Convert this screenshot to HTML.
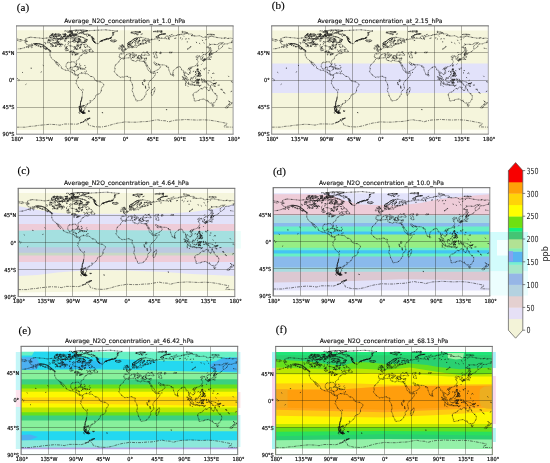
<!DOCTYPE html>
<html lang="en"><head><meta charset="utf-8"><title>Average N2O concentration</title>
<style>html,body{margin:0;padding:0;background:#fff}svg{display:block}text{font-family:"DejaVu Sans","Liberation Sans",sans-serif;fill:#222}.lab{font-family:"Liberation Serif","DejaVu Serif",serif;font-size:11.1px;fill:#000;stroke:#000;stroke-width:0.12px}.tt{font-size:6.02px;fill:#111;stroke:#111;stroke-width:0.12px}.tk{font-size:5.5px;fill:#111;stroke:#111;stroke-width:0.22px}.cb{font-size:8.4px;fill:#222}</style></head><body>
<svg width="550" height="463" viewBox="0 0 550 463">
<rect width="550" height="463" fill="#fff"/>
<rect x="489.5" y="232" width="38.5" height="39.5" fill="#d2fcfc"/>
<rect x="489.5" y="271.5" width="38.5" height="24" fill="#ecfefe"/>
<rect x="497" y="240" width="11.5" height="15.5" fill="#f4ffff"/>
<rect x="15.8" y="352" width="5.6" height="38" fill="#c4f6f8"/>
<rect x="15.8" y="390" width="5.6" height="17" fill="#fde4ee"/>
<rect x="15.8" y="407" width="5.6" height="42" fill="#c8f6f6"/>
<rect x="237.6" y="352" width="2.8" height="22" fill="#c8f6fa"/>
<rect x="237.6" y="392" width="2.8" height="16" fill="#fde0e4"/>
<rect x="237.6" y="415" width="2.8" height="32" fill="#c8f8f8"/>
<rect x="272" y="352" width="3.6" height="16" fill="#a8f4f4"/>
<rect x="272" y="368" width="3.6" height="58" fill="#fcd4ec"/>
<rect x="272" y="426" width="3.6" height="23" fill="#a8f4f0"/>
<rect x="492.4" y="352" width="3.4" height="16" fill="#a8f0fa"/>
<rect x="492.4" y="376" width="3.4" height="48" fill="#fcd8ee"/>
<rect x="492.4" y="428" width="3.4" height="14" fill="#b0f6f4"/>
<rect x="235" y="231" width="5.8" height="17.5" fill="#ecfefb"/>
<g id="panel-a">
<clipPath id="cpa"><rect x="16.5" y="25.9" width="216.6" height="108.3"/></clipPath>
<g clip-path="url(#cpa)">
<polygon points="16.5,26.0 233.1,26.0 233.1,134.2 16.5,134.2" fill="#fdfdf4"/>
<polygon points="16.5,30.3 233.1,30.3 233.1,134.2 16.5,134.2" fill="#f5f5dc"/>
<polygon points="16.5,130.0 233.1,130.0 233.1,134.2 16.5,134.2" fill="#fdfdf4"/>
<path transform="translate(16.5 25.9)" d="M14.1 11.3L18.0 11.7L22.3 12.0L26.5 12.6L31.3 12.0L36.1 12.3L39.1 13.2L43.3 13.2L46.9 13.2L50.5 13.2L51.7 10.8L54.1 12.6L56.6 13.2L59.0 12.3L59.6 13.8L56.6 14.4L55.4 15.6L52.3 16.8L51.4 18.7L52.6 19.9L55.4 20.2L57.2 20.9L59.0 21.1L59.0 22.3L60.2 23.3L60.8 22.9L60.8 21.4L62.0 20.5L62.0 19.3L61.4 18.0L61.4 16.5L63.8 16.7L66.2 17.4L66.5 18.7L68.6 19.0L69.5 17.9L71.0 19.6L71.6 20.8L73.4 21.4L74.6 22.9L72.2 24.1L68.6 23.9L66.2 25.9L69.2 24.7L69.5 25.9L71.6 26.5L70.4 27.4L68.6 28.0L68.6 27.1L68.0 27.2L66.2 28.0L65.9 28.9L63.8 29.8L62.9 31.3L62.6 33.1L61.4 33.7L59.6 35.2L60.2 37.9L59.9 39.0L59.0 38.2L58.5 36.7L57.8 36.1L56.6 35.9L54.5 36.0L54.1 36.7L51.7 36.4L49.9 37.6L49.6 39.1L49.5 40.7L50.5 42.7L51.7 43.2L53.5 42.9L53.8 41.5L56.0 41.2L55.7 43.0L55.1 44.5L56.6 44.5L58.2 45.1L58.1 47.5L59.0 48.7L60.2 48.6L61.7 49.0L61.7 49.6L60.2 49.8L59.6 49.3L58.4 49.0L56.7 48.1L55.7 46.3L53.5 45.7L51.7 44.5L49.9 44.6L47.5 43.7L44.8 42.1L44.8 40.6L43.3 39.1L42.1 37.6L40.6 36.1L39.3 35.1L39.4 36.1L40.9 37.9L41.8 39.4L42.4 40.3L40.9 39.1L39.4 37.3L38.8 36.1L37.9 34.6L37.0 33.7L35.8 33.4L34.9 32.2L34.6 31.3L33.7 29.9L33.5 28.3L33.7 26.4L33.3 25.0L34.6 25.6L34.3 24.7L33.1 24.1L31.6 23.2L30.1 21.4L28.3 20.2L26.8 19.0L25.3 18.4L23.5 18.0L21.1 17.7L19.3 17.6L18.0 18.4L16.8 17.6L15.6 19.0L13.2 20.2L10.8 21.1L9.3 21.2L11.4 20.5L13.2 19.0L10.8 18.7L9.0 17.4L8.4 16.2L11.4 15.5L9.0 15.3L7.2 14.7L10.2 14.1L9.0 13.1L10.8 12.0L14.1 11.3M34.0 25.0L32.8 24.8L31.1 23.6L32.8 23.9L34.0 25.0M72.7 25.5L74.6 26.0L76.4 26.1L76.5 25.3L75.8 24.4L74.7 23.2L73.7 23.8L72.7 25.5M68.6 16.8L67.4 15.8L69.5 16.2L69.8 15.0L67.7 14.3L71.3 14.0L69.2 13.2L67.4 12.0L65.0 11.1L61.4 10.3L59.6 9.8L56.6 9.7L54.1 9.9L54.8 11.4L57.2 12.0L60.8 12.0L63.2 13.1L64.4 13.8L64.4 14.7L61.1 15.2L63.8 15.4L65.6 16.4L68.6 16.8M37.3 11.4L38.5 12.5L40.9 12.9L45.1 12.8L47.2 12.3L45.7 11.4L45.1 10.3L43.3 10.0L40.9 10.5L39.1 10.0L37.0 10.5L37.3 11.4M33.1 10.8L34.3 11.4L36.4 11.0L37.6 9.9L35.5 9.3L33.4 9.7L33.1 10.8M37.9 8.8L42.1 9.3L44.5 8.9L42.7 8.1L39.1 8.2L37.9 8.8M46.9 10.8L49.9 10.8L49.3 9.7L47.2 9.9L46.9 10.8M50.8 10.7L53.8 10.4L53.8 9.6L51.1 9.6L50.8 10.7M52.9 9.2L60.2 9.2L60.2 8.6L55.4 8.1L52.9 8.4L52.9 9.2M55.4 8.1L61.4 8.2L63.2 6.9L67.4 5.7L71.0 4.6L66.2 4.2L59.0 4.3L52.9 5.1L56.0 6.0L55.4 7.2L55.4 8.1M51.1 6.3L55.4 7.0L56.0 5.7L52.3 5.2L51.1 6.3M56.0 15.6L57.8 16.2L59.6 15.8L59.9 15.3L57.8 14.4L56.0 15.3L56.0 15.6M48.1 8.7L49.9 8.7L48.7 8.1L46.9 8.4L48.1 8.7M48.7 12.6L50.5 12.8L50.5 12.2L49.0 12.2L48.7 12.6M64.4 7.1L67.4 8.4L72.2 8.4L74.6 10.2L75.8 12.0L77.6 12.3L76.1 13.8L77.0 15.6L78.8 17.1L81.8 18.0L82.7 16.8L84.2 15.0L86.0 14.6L89.0 13.2L93.3 12.6L95.1 11.7L95.1 10.2L96.9 8.7L96.3 7.2L98.1 6.0L101.1 5.1L95.1 4.6L89.0 3.9L81.2 4.3L73.4 4.7L69.8 5.3L68.0 6.0L64.4 7.1M93.9 14.7L95.1 15.6L96.9 16.0L99.6 15.5L100.1 14.7L98.7 14.1L96.3 14.4L94.8 14.2L93.9 14.7M61.7 49.0L62.9 47.7L64.4 47.4L65.3 46.7L65.3 47.7L66.8 47.2L68.6 47.8L71.0 47.8L72.2 49.0L74.0 50.5L75.8 50.7L77.3 51.4L78.2 53.2L78.2 54.1L79.4 54.8L81.5 55.7L84.2 56.0L86.0 57.2L87.2 58.1L87.2 59.6L85.7 61.4L84.8 62.9L84.8 65.0L83.6 67.4L82.4 68.0L80.6 68.6L79.1 69.8L79.0 71.3L77.0 73.7L76.1 74.7L74.6 75.1L73.2 74.6L74.0 76.1L73.4 77.3L71.0 77.6L70.8 78.8L69.2 78.8L69.8 79.8L69.0 81.2L67.7 82.0L68.7 82.9L67.4 84.2L66.8 85.6L67.1 85.9L69.1 87.1L68.0 87.5L66.2 87.2L65.0 86.6L63.8 85.7L62.9 84.2L62.9 82.4L63.8 80.6L63.9 79.1L64.1 76.4L65.0 74.0L65.3 72.2L65.9 69.2L66.0 65.3L65.0 64.4L62.6 62.6L61.4 60.5L60.3 58.4L59.4 57.2L60.2 56.0L59.7 54.8L60.2 53.8L61.1 52.9L61.8 51.7L61.7 49.6M71.6 85.1L73.4 85.1L72.8 85.6L71.6 85.1M127.9 36.1L128.8 37.9L129.7 39.7L130.6 41.2L130.9 43.0L132.1 44.8L134.1 46.5L134.4 47.2L136.6 47.4L139.1 47.0L138.9 48.7L137.2 51.4L134.8 53.5L133.3 55.2L132.1 56.9L131.8 58.4L132.4 60.5L132.8 62.9L130.6 64.7L129.4 66.2L129.7 68.6L128.2 69.7L128.0 71.0L126.4 73.1L123.9 74.6L121.5 74.8L120.3 75.1L119.3 74.7L119.3 73.4L118.2 71.3L117.3 69.8L117.0 67.7L115.5 64.7L116.4 61.7L116.0 59.3L115.5 57.2L113.8 54.8L114.0 52.9L114.1 51.7L113.4 51.4L111.9 51.6L111.0 50.4L109.0 50.5L107.1 51.3L105.6 51.0L103.8 51.5L102.6 50.5L100.8 49.5L100.3 48.4L99.3 47.5L98.2 46.6L97.8 45.3L98.5 44.2L98.5 42.4L98.1 41.5L98.7 39.9L99.6 38.4L100.5 37.4L102.3 36.4L102.5 35.2L103.5 34.0L104.7 32.8L105.0 32.6L107.1 33.0L108.9 32.2L111.3 32.0L114.3 31.7L114.9 33.1L114.4 33.8L115.5 34.4L117.6 34.9L119.7 35.9L120.3 34.6L122.1 34.5L123.6 35.1L125.7 35.5L127.7 35.3L127.9 36.1M138.0 61.4L138.6 63.5L138.0 65.0L137.0 68.0L135.6 69.5L134.7 68.0L135.0 66.2L134.8 64.4L136.3 63.6L137.2 62.3L138.0 61.4M127.7 35.3L128.9 35.3L129.7 34.0L130.0 32.5L130.0 32.0L128.2 32.4L126.7 32.2L125.1 32.1L124.5 31.0L124.1 30.1L125.7 29.5L127.3 29.4L129.4 28.9L131.2 29.5L133.3 29.2L132.4 28.0L130.6 27.1L131.5 25.9L129.4 26.4L128.5 27.4L128.2 26.5L126.8 26.2L126.0 27.1L125.1 28.0L125.1 29.2L124.2 29.6L122.7 29.6L122.4 30.1L122.0 29.8L122.1 30.7L122.7 31.3L122.1 32.2L121.2 31.9L120.9 30.7L120.0 29.8L120.0 28.9L117.9 28.0L116.7 27.0L116.4 26.7L115.7 26.9L115.8 27.7L116.7 28.6L117.9 29.0L119.4 30.0L118.5 29.8L118.2 30.4L118.5 30.7L117.9 31.3L117.7 30.1L116.7 29.5L115.5 28.9L114.6 28.3L114.3 27.7L113.6 27.4L112.8 27.8L111.3 28.1L110.2 28.2L110.2 28.9L108.8 29.5L108.1 30.4L108.3 30.9L107.9 31.5L107.1 32.0L105.6 32.1L104.9 32.5L104.5 32.0L103.8 31.8L102.9 31.9L103.0 31.0L102.6 30.8L103.0 29.5L102.9 28.3L103.5 27.9L105.3 28.0L107.2 28.0L107.6 27.1L107.6 26.4L106.8 25.7L105.6 25.4L105.5 25.0L107.1 24.9L107.4 24.2L108.4 24.4L109.3 23.8L110.1 23.3L111.0 22.6L111.3 22.1L112.5 22.0L113.7 21.7L113.3 20.8L113.2 19.9L114.6 19.4L114.6 20.5L114.3 21.2L114.9 21.7L116.7 21.7L119.4 21.2L120.2 21.4L120.9 20.9L120.9 19.9L121.5 19.4L122.9 19.7L122.4 18.7L125.1 18.3L126.4 18.0L124.5 17.7L122.1 18.0L121.2 17.4L121.1 16.2L123.3 15.0L123.5 14.7L121.5 14.6L120.9 15.3L118.8 16.5L118.7 17.4L119.6 18.0L118.2 19.0L118.1 19.9L117.6 20.3L116.8 20.8L116.1 20.8L115.8 20.3L115.0 19.0L114.6 18.5L113.4 19.1L112.5 19.3L111.6 18.7L111.3 17.4L111.9 16.5L113.4 15.9L114.6 15.3L115.8 14.4L116.7 13.5L117.9 12.9L119.4 12.2L121.2 11.9L123.8 11.4L125.4 11.6L127.0 11.9L128.2 12.4L130.0 12.5L133.0 13.5L133.0 14.3L131.2 14.4L128.8 14.0L129.1 15.0L129.4 15.5L130.9 15.6L132.7 15.3L132.4 14.4L133.9 14.1L134.8 14.4L134.9 13.1L136.0 13.1L136.1 14.0L137.8 13.2L140.5 12.9L142.6 12.9L144.7 12.2L146.8 12.5L148.6 12.8L148.6 11.1L149.8 10.2L151.9 10.3L152.0 12.0L152.7 13.8L152.5 12.6L153.4 10.8L155.2 10.7L156.7 9.9L160.3 9.6L160.6 9.0L164.3 8.4L167.3 8.3L171.1 7.4L172.1 8.1L175.7 8.1L176.6 9.6L174.5 9.7L176.9 9.9L179.9 10.2L182.9 9.8L184.7 10.5L186.2 11.4L187.1 11.6L188.3 11.1L191.0 11.2L192.5 10.6L196.1 10.6L198.5 11.1L200.4 11.6L204.0 12.0L204.6 12.3L207.3 12.3L209.7 12.0L210.9 12.6L214.2 12.2L216.6 12.8M0.0 12.8L2.4 13.5L4.8 13.8L6.1 14.4L4.5 15.3L2.7 15.2L0.9 14.4L0.0 14.7M216.6 15.0L214.8 15.2L216.0 16.5L213.0 17.0L210.8 18.0L208.2 18.0L207.0 18.2L206.4 19.3L206.1 20.5L205.6 21.1L204.6 22.1L203.7 22.4L202.6 23.5L202.0 22.3L202.0 20.5L202.8 19.4L204.3 18.4L206.4 17.1L207.0 16.5L204.6 17.0L202.5 17.1L201.6 18.5L199.8 18.7L197.3 18.4L194.3 18.5L192.5 19.6L191.0 21.1L189.8 21.3L191.3 21.8L193.3 22.1L192.8 23.5L192.7 25.0L191.6 26.2L189.8 27.7L188.3 28.4L187.1 28.6L186.3 29.2L185.0 30.2L186.2 31.9L186.1 32.9L184.4 33.5L184.4 31.9L183.5 31.3L183.7 30.4L183.1 30.1L181.5 30.7L181.7 29.8L181.1 29.5L179.6 30.7L179.1 31.0L179.9 31.7L181.1 31.5L182.0 31.9L180.1 33.1L181.0 34.5L181.6 35.5L181.5 36.4L180.8 37.6L180.2 38.8L179.0 39.7L178.1 40.3L176.9 40.7L175.1 41.2L174.4 41.9L174.2 41.2L173.3 41.2L172.4 42.1L172.0 42.7L172.7 43.9L173.9 44.9L174.1 46.6L173.0 47.8L172.5 48.4L171.5 48.9L171.5 48.0L170.3 47.5L169.1 46.4L168.8 46.0L168.5 47.2L168.0 48.6L168.6 49.3L169.4 50.1L170.5 51.4L170.6 53.2L170.9 53.4L169.3 52.5L168.7 50.8L167.9 49.3L167.4 49.3L167.6 47.8L167.3 46.0L167.0 44.5L166.4 44.2L165.6 44.6L165.0 44.2L164.9 42.4L163.8 41.5L163.5 40.6L162.8 40.8L161.8 41.0L160.6 41.3L160.5 42.1L159.4 42.4L157.8 43.9L156.6 44.8L156.6 46.2L156.3 48.0L155.8 48.6L155.2 49.0L154.9 49.3L154.2 48.4L153.4 46.6L152.5 44.5L152.1 42.7L152.0 41.5L151.7 41.0L150.6 41.6L149.8 40.7L150.6 40.3L149.4 40.0L148.6 39.2L146.8 39.0L145.3 39.0L142.8 38.7L142.3 37.9L140.8 38.1L139.6 37.5L138.7 36.4L137.8 35.9L137.2 36.2L137.7 37.4L138.5 38.2L138.9 39.1L139.3 38.5L139.3 39.4L140.8 39.6L142.0 38.4L142.4 39.4L143.6 40.0L144.3 40.6L143.5 41.8L143.0 42.7L141.6 43.7L139.7 44.6L137.7 45.7L135.4 46.4L134.5 46.5L134.1 45.2L133.9 44.0L132.7 42.2L131.8 41.2L130.7 39.4L129.5 37.3L129.4 36.4L128.9 37.3L128.2 36.7L127.9 36.1M136.6 27.1L138.1 26.2L140.2 26.0L140.2 27.1L139.0 27.4L138.6 28.3L139.9 28.6L140.2 29.8L140.5 30.7L140.8 31.9L139.0 32.1L137.8 31.6L137.8 30.7L138.1 29.8L136.9 28.3L136.6 27.1M143.5 26.2L145.0 26.5L145.0 27.4L143.5 27.9L143.5 26.2M104.9 24.1L106.2 23.9L107.7 23.6L109.1 23.3L108.6 23.2L109.3 22.4L108.4 22.3L108.2 21.7L107.4 21.1L107.1 20.5L106.5 20.5L107.1 19.4L105.9 19.4L106.5 18.9L105.3 18.9L104.8 19.6L105.0 20.5L105.4 21.1L106.5 21.1L106.2 21.5L106.5 22.0L105.6 22.1L105.8 22.6L105.2 23.0L106.4 23.2L105.8 23.3L104.9 24.1M102.3 23.1L103.5 23.0L104.5 22.7L104.7 22.0L105.0 21.4L104.4 20.9L103.3 20.9L103.2 21.4L102.3 21.5L102.6 22.1L102.1 22.7L102.3 23.1M139.3 11.1L140.5 11.6L142.9 11.6L141.7 10.5L142.0 9.6L144.4 8.5L148.0 8.0L149.5 7.9L145.6 8.3L142.6 9.0L141.4 10.0L140.2 10.5L139.3 11.1M114.9 6.3L116.7 7.5L118.5 8.1L119.7 7.2L120.9 6.9L124.5 6.0L120.3 5.7L117.9 6.0L114.9 6.3M165.5 6.6L168.5 7.2L171.5 6.9L168.5 6.0L165.5 5.4L165.5 6.6M190.7 8.7L194.3 9.0L198.5 8.9L196.1 8.4L191.9 8.3L190.7 8.7M136.6 5.7L141.4 6.0L145.6 5.5L143.2 5.1L138.4 5.4L136.6 5.7M193.7 21.5L194.3 22.3L194.5 24.1L195.2 24.7L194.3 25.9L194.6 26.5L193.7 26.5L193.7 25.3L193.7 23.5L193.7 21.5M192.5 29.2L193.4 28.6L194.5 28.9L195.8 28.1L195.1 27.7L193.6 26.8L193.4 28.0L192.5 28.4L192.5 29.2M193.3 29.3L193.7 30.4L193.1 31.4L193.0 32.7L192.4 33.1L191.8 33.3L190.7 33.3L190.0 34.0L189.5 33.4L188.3 33.5L187.1 33.7L187.5 34.3L187.3 35.3L186.8 35.4L186.5 34.6L186.3 34.1L187.1 33.7L187.1 33.5L188.0 32.9L188.9 32.7L190.1 32.7L190.6 31.8L190.9 32.0L191.8 31.5L192.4 30.4L192.5 29.7L193.3 29.3M187.9 34.1L188.3 34.4L189.1 34.1L189.3 33.6L188.6 33.6L187.9 34.1M181.1 39.0L181.7 39.1L181.1 40.9L180.6 40.3L181.1 39.0M173.7 42.5L174.5 42.1L175.1 42.3L174.5 43.1L173.7 43.0L173.7 42.5M156.4 48.3L157.2 49.0L157.5 49.9L156.9 50.5L156.3 49.9L156.4 48.3M180.8 43.0L181.8 43.0L181.7 44.2L181.4 45.1L182.0 45.7L182.9 46.3L182.0 46.0L181.1 45.9L180.7 45.2L180.5 44.5L180.8 43.0M181.7 49.9L182.6 49.0L183.8 48.3L184.4 49.6L183.8 50.5L182.9 50.4L182.6 49.6L181.7 49.9M183.2 46.6L183.8 47.5L183.5 48.1L183.2 47.5L183.2 46.6M181.7 47.2L182.4 47.5L182.4 48.6L182.0 48.3L181.7 47.2M178.8 49.0L180.2 47.8L180.1 47.4L178.8 49.0M173.9 53.2L174.5 53.1L175.3 52.5L176.3 52.2L177.2 51.3L178.1 50.1L178.8 49.9L179.9 51.0L179.3 51.6L179.2 52.9L179.9 53.5L179.0 54.6L178.4 55.7L178.1 56.6L177.2 56.6L176.3 56.1L175.4 56.1L174.6 55.8L174.2 54.6L173.9 53.8L173.9 53.2M165.6 50.8L167.0 51.0L168.6 52.6L170.3 53.8L171.2 55.1L172.1 56.0L172.0 57.6L171.2 57.6L169.9 56.6L168.8 55.1L167.7 53.2L166.7 52.2L165.6 50.8M171.7 58.1L172.6 57.8L173.6 58.1L175.1 58.1L176.3 58.4L177.2 58.8L177.1 59.4L175.1 59.1L173.3 58.8L172.4 58.5L171.7 58.1M177.5 59.1L178.7 59.1L179.9 59.2L182.2 59.1L182.2 59.4L179.9 59.4L178.1 59.5L177.5 59.1M182.6 60.3L183.5 59.6L184.8 59.2L183.5 60.0L182.6 60.3M180.4 53.7L181.0 53.4L182.3 53.5L183.5 53.2L183.1 53.9L181.1 53.8L180.6 54.6L181.4 54.7L182.5 54.6L181.7 55.2L181.5 55.8L182.0 56.3L182.3 56.9L182.0 57.5L181.4 57.0L181.0 55.8L180.7 56.3L180.7 57.5L180.2 57.5L180.1 56.3L179.8 55.8L180.3 54.5L180.4 53.7M185.1 52.9L185.7 53.4L185.3 54.6L185.1 53.8L185.1 52.9M185.3 56.0L187.0 56.1L185.9 56.2L185.3 56.0M187.1 54.6L188.0 54.4L188.9 54.6L189.0 55.7L189.5 56.1L190.7 55.1L191.6 55.2L193.1 55.7L195.2 56.4L196.0 57.3L197.0 57.8L197.2 58.4L197.3 59.3L198.9 60.4L198.5 60.5L197.0 60.2L196.1 59.3L195.2 58.8L194.6 59.3L194.0 59.7L193.1 59.6L191.9 59.0L191.3 59.1L191.2 58.5L191.8 58.2L191.3 57.5L189.8 56.8L188.6 56.4L188.2 56.6L187.7 55.9L188.8 55.5L187.8 55.5L187.1 55.0L187.1 54.6M197.5 57.6L198.5 57.5L199.9 56.7L199.8 57.3L198.9 57.9L197.5 57.6M194.0 60.6L194.6 62.9L195.7 63.2L196.1 65.3L197.9 67.1L199.0 68.3L200.4 69.5L200.7 71.3L200.1 73.7L199.2 74.7L198.5 76.6L197.0 77.0L196.3 77.6L195.2 77.1L194.0 77.3L192.8 77.0L192.2 75.8L191.5 75.5L191.2 75.3L191.2 74.0L190.1 75.2L189.7 74.9L188.9 73.9L187.4 73.1L185.6 73.4L184.1 73.6L182.9 74.0L182.6 74.6L180.5 74.6L179.3 75.2L177.6 74.8L177.9 73.1L177.2 71.6L176.7 69.8L176.6 68.6L177.0 67.4L178.4 66.5L179.9 66.2L181.4 65.6L181.9 64.4L182.7 64.0L183.8 62.9L184.7 62.6L185.6 63.1L186.3 63.1L186.8 61.7L188.0 61.1L189.5 61.5L190.6 61.4L190.1 62.3L189.8 63.2L191.0 63.8L192.2 64.7L193.1 64.6L193.5 63.2L193.6 61.7L194.0 60.6M195.4 78.6L196.4 78.9L197.5 78.8L197.5 79.5L197.0 80.2L196.1 80.3L195.7 79.6L195.4 78.6M212.2 74.9L213.3 76.1L214.1 76.4L214.8 77.0L215.7 76.8L215.3 77.8L214.8 77.9L214.5 78.7L213.8 79.2L213.5 78.7L213.5 78.1L212.9 77.8L213.4 77.3L213.4 76.4L212.4 75.2L212.2 74.9M212.2 78.5L213.1 79.0L213.0 79.4L212.3 80.3L211.4 80.8L211.2 81.7L210.3 82.1L209.6 82.2L208.5 81.8L209.1 81.1L209.7 80.6L211.1 79.9L211.8 78.8L212.2 78.5M207.0 66.3L208.8 67.6L207.6 67.0L207.0 66.3M57.2 41.0L58.4 40.3L59.9 40.3L62.0 41.2L63.7 42.0L61.7 42.2L61.4 41.8L60.2 41.1L59.0 40.6L57.8 41.0L57.2 41.0M63.5 42.2L65.0 42.2L66.3 42.5L67.1 43.0L66.2 43.1L65.3 43.5L64.7 43.2L63.5 43.1L64.6 43.0L64.1 42.3L63.5 42.2M61.2 43.1L62.4 43.3L61.9 43.4L61.2 43.1M67.9 43.0L68.8 43.1L67.9 43.3L67.9 43.0M52.9 26.1L55.4 25.0L57.2 25.4L57.5 26.2L56.0 26.2L54.1 26.1L52.9 26.1M55.5 28.9L56.4 28.9L56.4 27.7L57.2 26.6L56.0 26.7L55.5 27.7L55.5 28.9M57.5 26.5L59.3 26.5L60.2 27.2L59.1 28.2L58.7 28.1L58.1 27.4L58.2 27.0L57.5 26.5M58.2 29.1L59.6 29.1L60.8 28.5L59.9 28.5L58.7 28.8L58.2 29.1M60.3 28.1L62.0 28.1L62.4 27.7L61.4 27.7L60.3 28.1M48.7 22.0L49.9 23.8L50.4 23.5L49.6 21.8L48.7 22.0M37.9 17.4L39.7 17.4L42.1 16.5L40.9 16.4L39.1 16.9L37.9 17.4M33.1 14.3L34.9 15.0L37.3 14.4L36.7 13.8L34.3 13.8L33.1 14.3M41.2 18.8L43.3 18.5L45.1 18.5L43.3 18.7L41.2 18.8M170.8 23.2L171.8 23.0L173.3 22.1L174.4 20.8L173.9 20.6L172.7 22.0L171.5 22.7L170.8 23.2M127.4 54.0L128.8 54.0L128.8 55.4L127.6 55.8L127.4 54.8L127.4 54.0M125.9 56.2L126.2 57.5L127.0 59.3L126.6 59.1L125.9 57.5L125.9 56.2M128.8 59.9L129.2 61.1L129.5 62.8L129.1 62.6L128.9 61.1L128.8 59.9M126.5 18.0L128.0 17.9L127.9 17.1L126.7 17.3L126.5 18.0M129.1 17.4L130.1 17.3L129.7 16.5L129.1 16.8L129.1 17.4M152.5 26.8L153.4 26.1L155.8 26.3L155.2 26.7L153.4 27.1L152.5 26.8M66.2 63.4L66.8 63.9L66.5 64.0L66.2 63.4M14.4 42.0L15.0 42.2L14.7 42.7L14.4 42.4L14.4 42.0M15.3 19.6L16.7 19.3L16.5 19.7L15.6 20.0L15.3 19.6M61.7 13.7L62.9 13.7L62.6 13.1L61.7 13.7M113.5 28.3L114.0 28.5L114.1 29.5L114.1 30.6L113.4 30.7L113.3 29.6L113.6 29.2L113.5 28.3M115.8 31.3L117.6 31.2L117.4 32.1L115.8 31.5L115.8 31.3M122.4 32.8L124.1 33.0L122.7 33.1L122.4 32.8M127.7 33.1L129.1 32.7L128.5 33.3L127.7 33.1M140.4 46.6L141.1 46.6L140.4 46.6M149.7 83.6L150.7 83.8L150.1 84.1L149.7 83.6M85.4 86.6L86.6 86.9L85.4 86.6M114.9 20.6L115.9 20.5L115.7 21.1L114.9 20.6M119.3 19.9L119.7 19.3L119.6 19.7L119.3 19.9M185.1 38.4L185.5 38.0L185.1 38.4M196.1 27.4L197.6 26.8L198.5 26.4L199.8 25.7L201.0 24.7L201.9 23.9M8.4 21.7L6.9 22.1L4.8 22.7L3.0 22.9L1.2 23.0M212.1 22.3L213.6 22.6L215.4 22.9" fill="none" stroke="#161616" stroke-opacity="0.55" stroke-width="0.6" stroke-linejoin="round"/>
<path transform="translate(16.5 25.9)" d="M14.1 11.3L18.0 11.7L22.3 12.0L26.5 12.6L31.3 12.0L36.1 12.3L39.1 13.2L43.3 13.2L46.9 13.2L50.5 13.2L51.7 10.8L54.1 12.6L56.6 13.2L59.0 12.3L59.6 13.8L56.6 14.4L55.4 15.6L52.3 16.8L51.4 18.7L52.6 19.9L55.4 20.2L57.2 20.9L59.0 21.1L59.0 22.3L60.2 23.3L60.8 22.9L60.8 21.4L62.0 20.5L62.0 19.3L61.4 18.0L61.4 16.5L63.8 16.7L66.2 17.4L66.5 18.7L68.6 19.0L69.5 17.9L71.0 19.6L71.6 20.8L73.4 21.4L74.6 22.9L72.2 24.1L68.6 23.9L66.2 25.9L69.2 24.7L69.5 25.9L71.6 26.5L70.4 27.4L68.6 28.0L68.6 27.1L68.0 27.2L66.2 28.0L65.9 28.9L63.8 29.8L62.9 31.3L62.6 33.1L61.4 33.7L59.6 35.2L60.2 37.9L59.9 39.0L59.0 38.2L58.5 36.7L57.8 36.1L56.6 35.9L54.5 36.0L54.1 36.7L51.7 36.4L49.9 37.6L49.6 39.1L49.5 40.7L50.5 42.7L51.7 43.2L53.5 42.9L53.8 41.5L56.0 41.2L55.7 43.0L55.1 44.5L56.6 44.5L58.2 45.1L58.1 47.5L59.0 48.7L60.2 48.6L61.7 49.0L61.7 49.6L60.2 49.8L59.6 49.3L58.4 49.0L56.7 48.1L55.7 46.3L53.5 45.7L51.7 44.5L49.9 44.6L47.5 43.7L44.8 42.1L44.8 40.6L43.3 39.1L42.1 37.6L40.6 36.1L39.3 35.1L39.4 36.1L40.9 37.9L41.8 39.4L42.4 40.3L40.9 39.1L39.4 37.3L38.8 36.1L37.9 34.6L37.0 33.7L35.8 33.4L34.9 32.2L34.6 31.3L33.7 29.9L33.5 28.3L33.7 26.4L33.3 25.0L34.6 25.6L34.3 24.7L33.1 24.1L31.6 23.2L30.1 21.4L28.3 20.2L26.8 19.0L25.3 18.4L23.5 18.0L21.1 17.7L19.3 17.6L18.0 18.4L16.8 17.6L15.6 19.0L13.2 20.2L10.8 21.1L9.3 21.2L11.4 20.5L13.2 19.0L10.8 18.7L9.0 17.4L8.4 16.2L11.4 15.5L9.0 15.3L7.2 14.7L10.2 14.1L9.0 13.1L10.8 12.0L14.1 11.3M34.0 25.0L32.8 24.8L31.1 23.6L32.8 23.9L34.0 25.0M72.7 25.5L74.6 26.0L76.4 26.1L76.5 25.3L75.8 24.4L74.7 23.2L73.7 23.8L72.7 25.5M68.6 16.8L67.4 15.8L69.5 16.2L69.8 15.0L67.7 14.3L71.3 14.0L69.2 13.2L67.4 12.0L65.0 11.1L61.4 10.3L59.6 9.8L56.6 9.7L54.1 9.9L54.8 11.4L57.2 12.0L60.8 12.0L63.2 13.1L64.4 13.8L64.4 14.7L61.1 15.2L63.8 15.4L65.6 16.4L68.6 16.8M37.3 11.4L38.5 12.5L40.9 12.9L45.1 12.8L47.2 12.3L45.7 11.4L45.1 10.3L43.3 10.0L40.9 10.5L39.1 10.0L37.0 10.5L37.3 11.4M33.1 10.8L34.3 11.4L36.4 11.0L37.6 9.9L35.5 9.3L33.4 9.7L33.1 10.8M37.9 8.8L42.1 9.3L44.5 8.9L42.7 8.1L39.1 8.2L37.9 8.8M46.9 10.8L49.9 10.8L49.3 9.7L47.2 9.9L46.9 10.8M50.8 10.7L53.8 10.4L53.8 9.6L51.1 9.6L50.8 10.7M52.9 9.2L60.2 9.2L60.2 8.6L55.4 8.1L52.9 8.4L52.9 9.2M55.4 8.1L61.4 8.2L63.2 6.9L67.4 5.7L71.0 4.6L66.2 4.2L59.0 4.3L52.9 5.1L56.0 6.0L55.4 7.2L55.4 8.1M51.1 6.3L55.4 7.0L56.0 5.7L52.3 5.2L51.1 6.3M56.0 15.6L57.8 16.2L59.6 15.8L59.9 15.3L57.8 14.4L56.0 15.3L56.0 15.6M48.1 8.7L49.9 8.7L48.7 8.1L46.9 8.4L48.1 8.7M48.7 12.6L50.5 12.8L50.5 12.2L49.0 12.2L48.7 12.6M64.4 7.1L67.4 8.4L72.2 8.4L74.6 10.2L75.8 12.0L77.6 12.3L76.1 13.8L77.0 15.6L78.8 17.1L81.8 18.0L82.7 16.8L84.2 15.0L86.0 14.6L89.0 13.2L93.3 12.6L95.1 11.7L95.1 10.2L96.9 8.7L96.3 7.2L98.1 6.0L101.1 5.1L95.1 4.6L89.0 3.9L81.2 4.3L73.4 4.7L69.8 5.3L68.0 6.0L64.4 7.1M93.9 14.7L95.1 15.6L96.9 16.0L99.6 15.5L100.1 14.7L98.7 14.1L96.3 14.4L94.8 14.2L93.9 14.7M61.7 49.0L62.9 47.7L64.4 47.4L65.3 46.7L65.3 47.7L66.8 47.2L68.6 47.8L71.0 47.8L72.2 49.0L74.0 50.5L75.8 50.7L77.3 51.4L78.2 53.2L78.2 54.1L79.4 54.8L81.5 55.7L84.2 56.0L86.0 57.2L87.2 58.1L87.2 59.6L85.7 61.4L84.8 62.9L84.8 65.0L83.6 67.4L82.4 68.0L80.6 68.6L79.1 69.8L79.0 71.3L77.0 73.7L76.1 74.7L74.6 75.1L73.2 74.6L74.0 76.1L73.4 77.3L71.0 77.6L70.8 78.8L69.2 78.8L69.8 79.8L69.0 81.2L67.7 82.0L68.7 82.9L67.4 84.2L66.8 85.6L67.1 85.9L69.1 87.1L68.0 87.5L66.2 87.2L65.0 86.6L63.8 85.7L62.9 84.2L62.9 82.4L63.8 80.6L63.9 79.1L64.1 76.4L65.0 74.0L65.3 72.2L65.9 69.2L66.0 65.3L65.0 64.4L62.6 62.6L61.4 60.5L60.3 58.4L59.4 57.2L60.2 56.0L59.7 54.8L60.2 53.8L61.1 52.9L61.8 51.7L61.7 49.6M71.6 85.1L73.4 85.1L72.8 85.6L71.6 85.1M127.9 36.1L128.8 37.9L129.7 39.7L130.6 41.2L130.9 43.0L132.1 44.8L134.1 46.5L134.4 47.2L136.6 47.4L139.1 47.0L138.9 48.7L137.2 51.4L134.8 53.5L133.3 55.2L132.1 56.9L131.8 58.4L132.4 60.5L132.8 62.9L130.6 64.7L129.4 66.2L129.7 68.6L128.2 69.7L128.0 71.0L126.4 73.1L123.9 74.6L121.5 74.8L120.3 75.1L119.3 74.7L119.3 73.4L118.2 71.3L117.3 69.8L117.0 67.7L115.5 64.7L116.4 61.7L116.0 59.3L115.5 57.2L113.8 54.8L114.0 52.9L114.1 51.7L113.4 51.4L111.9 51.6L111.0 50.4L109.0 50.5L107.1 51.3L105.6 51.0L103.8 51.5L102.6 50.5L100.8 49.5L100.3 48.4L99.3 47.5L98.2 46.6L97.8 45.3L98.5 44.2L98.5 42.4L98.1 41.5L98.7 39.9L99.6 38.4L100.5 37.4L102.3 36.4L102.5 35.2L103.5 34.0L104.7 32.8L105.0 32.6L107.1 33.0L108.9 32.2L111.3 32.0L114.3 31.7L114.9 33.1L114.4 33.8L115.5 34.4L117.6 34.9L119.7 35.9L120.3 34.6L122.1 34.5L123.6 35.1L125.7 35.5L127.7 35.3L127.9 36.1M138.0 61.4L138.6 63.5L138.0 65.0L137.0 68.0L135.6 69.5L134.7 68.0L135.0 66.2L134.8 64.4L136.3 63.6L137.2 62.3L138.0 61.4M127.7 35.3L128.9 35.3L129.7 34.0L130.0 32.5L130.0 32.0L128.2 32.4L126.7 32.2L125.1 32.1L124.5 31.0L124.1 30.1L125.7 29.5L127.3 29.4L129.4 28.9L131.2 29.5L133.3 29.2L132.4 28.0L130.6 27.1L131.5 25.9L129.4 26.4L128.5 27.4L128.2 26.5L126.8 26.2L126.0 27.1L125.1 28.0L125.1 29.2L124.2 29.6L122.7 29.6L122.4 30.1L122.0 29.8L122.1 30.7L122.7 31.3L122.1 32.2L121.2 31.9L120.9 30.7L120.0 29.8L120.0 28.9L117.9 28.0L116.7 27.0L116.4 26.7L115.7 26.9L115.8 27.7L116.7 28.6L117.9 29.0L119.4 30.0L118.5 29.8L118.2 30.4L118.5 30.7L117.9 31.3L117.7 30.1L116.7 29.5L115.5 28.9L114.6 28.3L114.3 27.7L113.6 27.4L112.8 27.8L111.3 28.1L110.2 28.2L110.2 28.9L108.8 29.5L108.1 30.4L108.3 30.9L107.9 31.5L107.1 32.0L105.6 32.1L104.9 32.5L104.5 32.0L103.8 31.8L102.9 31.9L103.0 31.0L102.6 30.8L103.0 29.5L102.9 28.3L103.5 27.9L105.3 28.0L107.2 28.0L107.6 27.1L107.6 26.4L106.8 25.7L105.6 25.4L105.5 25.0L107.1 24.9L107.4 24.2L108.4 24.4L109.3 23.8L110.1 23.3L111.0 22.6L111.3 22.1L112.5 22.0L113.7 21.7L113.3 20.8L113.2 19.9L114.6 19.4L114.6 20.5L114.3 21.2L114.9 21.7L116.7 21.7L119.4 21.2L120.2 21.4L120.9 20.9L120.9 19.9L121.5 19.4L122.9 19.7L122.4 18.7L125.1 18.3L126.4 18.0L124.5 17.7L122.1 18.0L121.2 17.4L121.1 16.2L123.3 15.0L123.5 14.7L121.5 14.6L120.9 15.3L118.8 16.5L118.7 17.4L119.6 18.0L118.2 19.0L118.1 19.9L117.6 20.3L116.8 20.8L116.1 20.8L115.8 20.3L115.0 19.0L114.6 18.5L113.4 19.1L112.5 19.3L111.6 18.7L111.3 17.4L111.9 16.5L113.4 15.9L114.6 15.3L115.8 14.4L116.7 13.5L117.9 12.9L119.4 12.2L121.2 11.9L123.8 11.4L125.4 11.6L127.0 11.9L128.2 12.4L130.0 12.5L133.0 13.5L133.0 14.3L131.2 14.4L128.8 14.0L129.1 15.0L129.4 15.5L130.9 15.6L132.7 15.3L132.4 14.4L133.9 14.1L134.8 14.4L134.9 13.1L136.0 13.1L136.1 14.0L137.8 13.2L140.5 12.9L142.6 12.9L144.7 12.2L146.8 12.5L148.6 12.8L148.6 11.1L149.8 10.2L151.9 10.3L152.0 12.0L152.7 13.8L152.5 12.6L153.4 10.8L155.2 10.7L156.7 9.9L160.3 9.6L160.6 9.0L164.3 8.4L167.3 8.3L171.1 7.4L172.1 8.1L175.7 8.1L176.6 9.6L174.5 9.7L176.9 9.9L179.9 10.2L182.9 9.8L184.7 10.5L186.2 11.4L187.1 11.6L188.3 11.1L191.0 11.2L192.5 10.6L196.1 10.6L198.5 11.1L200.4 11.6L204.0 12.0L204.6 12.3L207.3 12.3L209.7 12.0L210.9 12.6L214.2 12.2L216.6 12.8M0.0 12.8L2.4 13.5L4.8 13.8L6.1 14.4L4.5 15.3L2.7 15.2L0.9 14.4L0.0 14.7M216.6 15.0L214.8 15.2L216.0 16.5L213.0 17.0L210.8 18.0L208.2 18.0L207.0 18.2L206.4 19.3L206.1 20.5L205.6 21.1L204.6 22.1L203.7 22.4L202.6 23.5L202.0 22.3L202.0 20.5L202.8 19.4L204.3 18.4L206.4 17.1L207.0 16.5L204.6 17.0L202.5 17.1L201.6 18.5L199.8 18.7L197.3 18.4L194.3 18.5L192.5 19.6L191.0 21.1L189.8 21.3L191.3 21.8L193.3 22.1L192.8 23.5L192.7 25.0L191.6 26.2L189.8 27.7L188.3 28.4L187.1 28.6L186.3 29.2L185.0 30.2L186.2 31.9L186.1 32.9L184.4 33.5L184.4 31.9L183.5 31.3L183.7 30.4L183.1 30.1L181.5 30.7L181.7 29.8L181.1 29.5L179.6 30.7L179.1 31.0L179.9 31.7L181.1 31.5L182.0 31.9L180.1 33.1L181.0 34.5L181.6 35.5L181.5 36.4L180.8 37.6L180.2 38.8L179.0 39.7L178.1 40.3L176.9 40.7L175.1 41.2L174.4 41.9L174.2 41.2L173.3 41.2L172.4 42.1L172.0 42.7L172.7 43.9L173.9 44.9L174.1 46.6L173.0 47.8L172.5 48.4L171.5 48.9L171.5 48.0L170.3 47.5L169.1 46.4L168.8 46.0L168.5 47.2L168.0 48.6L168.6 49.3L169.4 50.1L170.5 51.4L170.6 53.2L170.9 53.4L169.3 52.5L168.7 50.8L167.9 49.3L167.4 49.3L167.6 47.8L167.3 46.0L167.0 44.5L166.4 44.2L165.6 44.6L165.0 44.2L164.9 42.4L163.8 41.5L163.5 40.6L162.8 40.8L161.8 41.0L160.6 41.3L160.5 42.1L159.4 42.4L157.8 43.9L156.6 44.8L156.6 46.2L156.3 48.0L155.8 48.6L155.2 49.0L154.9 49.3L154.2 48.4L153.4 46.6L152.5 44.5L152.1 42.7L152.0 41.5L151.7 41.0L150.6 41.6L149.8 40.7L150.6 40.3L149.4 40.0L148.6 39.2L146.8 39.0L145.3 39.0L142.8 38.7L142.3 37.9L140.8 38.1L139.6 37.5L138.7 36.4L137.8 35.9L137.2 36.2L137.7 37.4L138.5 38.2L138.9 39.1L139.3 38.5L139.3 39.4L140.8 39.6L142.0 38.4L142.4 39.4L143.6 40.0L144.3 40.6L143.5 41.8L143.0 42.7L141.6 43.7L139.7 44.6L137.7 45.7L135.4 46.4L134.5 46.5L134.1 45.2L133.9 44.0L132.7 42.2L131.8 41.2L130.7 39.4L129.5 37.3L129.4 36.4L128.9 37.3L128.2 36.7L127.9 36.1M136.6 27.1L138.1 26.2L140.2 26.0L140.2 27.1L139.0 27.4L138.6 28.3L139.9 28.6L140.2 29.8L140.5 30.7L140.8 31.9L139.0 32.1L137.8 31.6L137.8 30.7L138.1 29.8L136.9 28.3L136.6 27.1M143.5 26.2L145.0 26.5L145.0 27.4L143.5 27.9L143.5 26.2M104.9 24.1L106.2 23.9L107.7 23.6L109.1 23.3L108.6 23.2L109.3 22.4L108.4 22.3L108.2 21.7L107.4 21.1L107.1 20.5L106.5 20.5L107.1 19.4L105.9 19.4L106.5 18.9L105.3 18.9L104.8 19.6L105.0 20.5L105.4 21.1L106.5 21.1L106.2 21.5L106.5 22.0L105.6 22.1L105.8 22.6L105.2 23.0L106.4 23.2L105.8 23.3L104.9 24.1M102.3 23.1L103.5 23.0L104.5 22.7L104.7 22.0L105.0 21.4L104.4 20.9L103.3 20.9L103.2 21.4L102.3 21.5L102.6 22.1L102.1 22.7L102.3 23.1M139.3 11.1L140.5 11.6L142.9 11.6L141.7 10.5L142.0 9.6L144.4 8.5L148.0 8.0L149.5 7.9L145.6 8.3L142.6 9.0L141.4 10.0L140.2 10.5L139.3 11.1M114.9 6.3L116.7 7.5L118.5 8.1L119.7 7.2L120.9 6.9L124.5 6.0L120.3 5.7L117.9 6.0L114.9 6.3M165.5 6.6L168.5 7.2L171.5 6.9L168.5 6.0L165.5 5.4L165.5 6.6M190.7 8.7L194.3 9.0L198.5 8.9L196.1 8.4L191.9 8.3L190.7 8.7M136.6 5.7L141.4 6.0L145.6 5.5L143.2 5.1L138.4 5.4L136.6 5.7M193.7 21.5L194.3 22.3L194.5 24.1L195.2 24.7L194.3 25.9L194.6 26.5L193.7 26.5L193.7 25.3L193.7 23.5L193.7 21.5M192.5 29.2L193.4 28.6L194.5 28.9L195.8 28.1L195.1 27.7L193.6 26.8L193.4 28.0L192.5 28.4L192.5 29.2M193.3 29.3L193.7 30.4L193.1 31.4L193.0 32.7L192.4 33.1L191.8 33.3L190.7 33.3L190.0 34.0L189.5 33.4L188.3 33.5L187.1 33.7L187.5 34.3L187.3 35.3L186.8 35.4L186.5 34.6L186.3 34.1L187.1 33.7L187.1 33.5L188.0 32.9L188.9 32.7L190.1 32.7L190.6 31.8L190.9 32.0L191.8 31.5L192.4 30.4L192.5 29.7L193.3 29.3M187.9 34.1L188.3 34.4L189.1 34.1L189.3 33.6L188.6 33.6L187.9 34.1M181.1 39.0L181.7 39.1L181.1 40.9L180.6 40.3L181.1 39.0M173.7 42.5L174.5 42.1L175.1 42.3L174.5 43.1L173.7 43.0L173.7 42.5M156.4 48.3L157.2 49.0L157.5 49.9L156.9 50.5L156.3 49.9L156.4 48.3M180.8 43.0L181.8 43.0L181.7 44.2L181.4 45.1L182.0 45.7L182.9 46.3L182.0 46.0L181.1 45.9L180.7 45.2L180.5 44.5L180.8 43.0M181.7 49.9L182.6 49.0L183.8 48.3L184.4 49.6L183.8 50.5L182.9 50.4L182.6 49.6L181.7 49.9M183.2 46.6L183.8 47.5L183.5 48.1L183.2 47.5L183.2 46.6M181.7 47.2L182.4 47.5L182.4 48.6L182.0 48.3L181.7 47.2M178.8 49.0L180.2 47.8L180.1 47.4L178.8 49.0M173.9 53.2L174.5 53.1L175.3 52.5L176.3 52.2L177.2 51.3L178.1 50.1L178.8 49.9L179.9 51.0L179.3 51.6L179.2 52.9L179.9 53.5L179.0 54.6L178.4 55.7L178.1 56.6L177.2 56.6L176.3 56.1L175.4 56.1L174.6 55.8L174.2 54.6L173.9 53.8L173.9 53.2M165.6 50.8L167.0 51.0L168.6 52.6L170.3 53.8L171.2 55.1L172.1 56.0L172.0 57.6L171.2 57.6L169.9 56.6L168.8 55.1L167.7 53.2L166.7 52.2L165.6 50.8M171.7 58.1L172.6 57.8L173.6 58.1L175.1 58.1L176.3 58.4L177.2 58.8L177.1 59.4L175.1 59.1L173.3 58.8L172.4 58.5L171.7 58.1M177.5 59.1L178.7 59.1L179.9 59.2L182.2 59.1L182.2 59.4L179.9 59.4L178.1 59.5L177.5 59.1M182.6 60.3L183.5 59.6L184.8 59.2L183.5 60.0L182.6 60.3M180.4 53.7L181.0 53.4L182.3 53.5L183.5 53.2L183.1 53.9L181.1 53.8L180.6 54.6L181.4 54.7L182.5 54.6L181.7 55.2L181.5 55.8L182.0 56.3L182.3 56.9L182.0 57.5L181.4 57.0L181.0 55.8L180.7 56.3L180.7 57.5L180.2 57.5L180.1 56.3L179.8 55.8L180.3 54.5L180.4 53.7M185.1 52.9L185.7 53.4L185.3 54.6L185.1 53.8L185.1 52.9M185.3 56.0L187.0 56.1L185.9 56.2L185.3 56.0M187.1 54.6L188.0 54.4L188.9 54.6L189.0 55.7L189.5 56.1L190.7 55.1L191.6 55.2L193.1 55.7L195.2 56.4L196.0 57.3L197.0 57.8L197.2 58.4L197.3 59.3L198.9 60.4L198.5 60.5L197.0 60.2L196.1 59.3L195.2 58.8L194.6 59.3L194.0 59.7L193.1 59.6L191.9 59.0L191.3 59.1L191.2 58.5L191.8 58.2L191.3 57.5L189.8 56.8L188.6 56.4L188.2 56.6L187.7 55.9L188.8 55.5L187.8 55.5L187.1 55.0L187.1 54.6M197.5 57.6L198.5 57.5L199.9 56.7L199.8 57.3L198.9 57.9L197.5 57.6M194.0 60.6L194.6 62.9L195.7 63.2L196.1 65.3L197.9 67.1L199.0 68.3L200.4 69.5L200.7 71.3L200.1 73.7L199.2 74.7L198.5 76.6L197.0 77.0L196.3 77.6L195.2 77.1L194.0 77.3L192.8 77.0L192.2 75.8L191.5 75.5L191.2 75.3L191.2 74.0L190.1 75.2L189.7 74.9L188.9 73.9L187.4 73.1L185.6 73.4L184.1 73.6L182.9 74.0L182.6 74.6L180.5 74.6L179.3 75.2L177.6 74.8L177.9 73.1L177.2 71.6L176.7 69.8L176.6 68.6L177.0 67.4L178.4 66.5L179.9 66.2L181.4 65.6L181.9 64.4L182.7 64.0L183.8 62.9L184.7 62.6L185.6 63.1L186.3 63.1L186.8 61.7L188.0 61.1L189.5 61.5L190.6 61.4L190.1 62.3L189.8 63.2L191.0 63.8L192.2 64.7L193.1 64.6L193.5 63.2L193.6 61.7L194.0 60.6M195.4 78.6L196.4 78.9L197.5 78.8L197.5 79.5L197.0 80.2L196.1 80.3L195.7 79.6L195.4 78.6M212.2 74.9L213.3 76.1L214.1 76.4L214.8 77.0L215.7 76.8L215.3 77.8L214.8 77.9L214.5 78.7L213.8 79.2L213.5 78.7L213.5 78.1L212.9 77.8L213.4 77.3L213.4 76.4L212.4 75.2L212.2 74.9M212.2 78.5L213.1 79.0L213.0 79.4L212.3 80.3L211.4 80.8L211.2 81.7L210.3 82.1L209.6 82.2L208.5 81.8L209.1 81.1L209.7 80.6L211.1 79.9L211.8 78.8L212.2 78.5M207.0 66.3L208.8 67.6L207.6 67.0L207.0 66.3M57.2 41.0L58.4 40.3L59.9 40.3L62.0 41.2L63.7 42.0L61.7 42.2L61.4 41.8L60.2 41.1L59.0 40.6L57.8 41.0L57.2 41.0M63.5 42.2L65.0 42.2L66.3 42.5L67.1 43.0L66.2 43.1L65.3 43.5L64.7 43.2L63.5 43.1L64.6 43.0L64.1 42.3L63.5 42.2M61.2 43.1L62.4 43.3L61.9 43.4L61.2 43.1M67.9 43.0L68.8 43.1L67.9 43.3L67.9 43.0M52.9 26.1L55.4 25.0L57.2 25.4L57.5 26.2L56.0 26.2L54.1 26.1L52.9 26.1M55.5 28.9L56.4 28.9L56.4 27.7L57.2 26.6L56.0 26.7L55.5 27.7L55.5 28.9M57.5 26.5L59.3 26.5L60.2 27.2L59.1 28.2L58.7 28.1L58.1 27.4L58.2 27.0L57.5 26.5M58.2 29.1L59.6 29.1L60.8 28.5L59.9 28.5L58.7 28.8L58.2 29.1M60.3 28.1L62.0 28.1L62.4 27.7L61.4 27.7L60.3 28.1M48.7 22.0L49.9 23.8L50.4 23.5L49.6 21.8L48.7 22.0M37.9 17.4L39.7 17.4L42.1 16.5L40.9 16.4L39.1 16.9L37.9 17.4M33.1 14.3L34.9 15.0L37.3 14.4L36.7 13.8L34.3 13.8L33.1 14.3M41.2 18.8L43.3 18.5L45.1 18.5L43.3 18.7L41.2 18.8M170.8 23.2L171.8 23.0L173.3 22.1L174.4 20.8L173.9 20.6L172.7 22.0L171.5 22.7L170.8 23.2M127.4 54.0L128.8 54.0L128.8 55.4L127.6 55.8L127.4 54.8L127.4 54.0M125.9 56.2L126.2 57.5L127.0 59.3L126.6 59.1L125.9 57.5L125.9 56.2M128.8 59.9L129.2 61.1L129.5 62.8L129.1 62.6L128.9 61.1L128.8 59.9M126.5 18.0L128.0 17.9L127.9 17.1L126.7 17.3L126.5 18.0M129.1 17.4L130.1 17.3L129.7 16.5L129.1 16.8L129.1 17.4M152.5 26.8L153.4 26.1L155.8 26.3L155.2 26.7L153.4 27.1L152.5 26.8M66.2 63.4L66.8 63.9L66.5 64.0L66.2 63.4M14.4 42.0L15.0 42.2L14.7 42.7L14.4 42.4L14.4 42.0M15.3 19.6L16.7 19.3L16.5 19.7L15.6 20.0L15.3 19.6M61.7 13.7L62.9 13.7L62.6 13.1L61.7 13.7M113.5 28.3L114.0 28.5L114.1 29.5L114.1 30.6L113.4 30.7L113.3 29.6L113.6 29.2L113.5 28.3M115.8 31.3L117.6 31.2L117.4 32.1L115.8 31.5L115.8 31.3M122.4 32.8L124.1 33.0L122.7 33.1L122.4 32.8M127.7 33.1L129.1 32.7L128.5 33.3L127.7 33.1M140.4 46.6L141.1 46.6L140.4 46.6M149.7 83.6L150.7 83.8L150.1 84.1L149.7 83.6M85.4 86.6L86.6 86.9L85.4 86.6M114.9 20.6L115.9 20.5L115.7 21.1L114.9 20.6M119.3 19.9L119.7 19.3L119.6 19.7L119.3 19.9M185.1 38.4L185.5 38.0L185.1 38.4M196.1 27.4L197.6 26.8L198.5 26.4L199.8 25.7L201.0 24.7L201.9 23.9M8.4 21.7L6.9 22.1L4.8 22.7L3.0 22.9L1.2 23.0M212.1 22.3L213.6 22.6L215.4 22.9" fill="none" stroke="#111" stroke-opacity="0.75" stroke-width="0.75" stroke-dasharray="0.8 2.9 1.4 3.7 0.6 2.2"/>
<path transform="translate(16.5 25.9)" d="M68.6 16.8L67.4 15.8L69.5 16.2L69.8 15.0L67.7 14.3L71.3 14.0L69.2 13.2L67.4 12.0L65.0 11.1L61.4 10.3L59.6 9.8L56.6 9.7L54.1 9.9L54.8 11.4L57.2 12.0L60.8 12.0L63.2 13.1L64.4 13.8L64.4 14.7L61.1 15.2L63.8 15.4L65.6 16.4L68.6 16.8M37.3 11.4L38.5 12.5L40.9 12.9L45.1 12.8L47.2 12.3L45.7 11.4L45.1 10.3L43.3 10.0L40.9 10.5L39.1 10.0L37.0 10.5L37.3 11.4M33.1 10.8L34.3 11.4L36.4 11.0L37.6 9.9L35.5 9.3L33.4 9.7L33.1 10.8M37.9 8.8L42.1 9.3L44.5 8.9L42.7 8.1L39.1 8.2L37.9 8.8M46.9 10.8L49.9 10.8L49.3 9.7L47.2 9.9L46.9 10.8M50.8 10.7L53.8 10.4L53.8 9.6L51.1 9.6L50.8 10.7M52.9 9.2L60.2 9.2L60.2 8.6L55.4 8.1L52.9 8.4L52.9 9.2M55.4 8.1L61.4 8.2L63.2 6.9L67.4 5.7L71.0 4.6L66.2 4.2L59.0 4.3L52.9 5.1L56.0 6.0L55.4 7.2L55.4 8.1M51.1 6.3L55.4 7.0L56.0 5.7L52.3 5.2L51.1 6.3M56.0 15.6L57.8 16.2L59.6 15.8L59.9 15.3L57.8 14.4L56.0 15.3L56.0 15.6M48.1 8.7L49.9 8.7L48.7 8.1L46.9 8.4L48.1 8.7M48.7 12.6L50.5 12.8L50.5 12.2L49.0 12.2L48.7 12.6M93.9 14.7L95.1 15.6L96.9 16.0L99.6 15.5L100.1 14.7L98.7 14.1L96.3 14.4L94.8 14.2L93.9 14.7M71.6 85.1L73.4 85.1L72.8 85.6L71.6 85.1M139.3 11.1L140.5 11.6L142.9 11.6L141.7 10.5L142.0 9.6L144.4 8.5L148.0 8.0L149.5 7.9L145.6 8.3L142.6 9.0L141.4 10.0L140.2 10.5L139.3 11.1M114.9 6.3L116.7 7.5L118.5 8.1L119.7 7.2L120.9 6.9L124.5 6.0L120.3 5.7L117.9 6.0L114.9 6.3M192.5 29.2L193.4 28.6L194.5 28.9L195.8 28.1L195.1 27.7L193.6 26.8L193.4 28.0L192.5 28.4L192.5 29.2M187.9 34.1L188.3 34.4L189.1 34.1L189.3 33.6L188.6 33.6L187.9 34.1M180.8 43.0L181.8 43.0L181.7 44.2L181.4 45.1L182.0 45.7L182.9 46.3L182.0 46.0L181.1 45.9L180.7 45.2L180.5 44.5L180.8 43.0M181.7 49.9L182.6 49.0L183.8 48.3L184.4 49.6L183.8 50.5L182.9 50.4L182.6 49.6L181.7 49.9M180.4 53.7L181.0 53.4L182.3 53.5L183.5 53.2L183.1 53.9L181.1 53.8L180.6 54.6L181.4 54.7L182.5 54.6L181.7 55.2L181.5 55.8L182.0 56.3L182.3 56.9L182.0 57.5L181.4 57.0L181.0 55.8L180.7 56.3L180.7 57.5L180.2 57.5L180.1 56.3L179.8 55.8L180.3 54.5L180.4 53.7M185.1 52.9L185.7 53.4L185.3 54.6L185.1 53.8L185.1 52.9M197.5 57.6L198.5 57.5L199.9 56.7L199.8 57.3L198.9 57.9L197.5 57.6" fill="none" stroke="#111" stroke-opacity="0.55" stroke-width="0.6" stroke-linejoin="round"/>
<path transform="translate(16.5 25.9)" d="M63.8 96.9L67.4 95.7L68.6 94.2L70.4 93.1L73.7 92.2L71.9 93.0L70.7 94.0" fill="none" stroke="#111" stroke-opacity="0.8" stroke-width="1.1" stroke-dasharray="2 0.9 1.2 0.7"/>
<path transform="translate(16.5 25.9)" d="M65.3 72.2L65.0 74.0L64.1 76.4L63.9 79.1L63.5 81.2L63.0 83.0L63.2 84.8L64.1 86.0L65.6 86.8L67.1 87.4L68.6 87.2M63.8 84.2L64.7 85.7L66.2 86.3L67.1 85.9M65.9 86.9L68.0 86.8M18.0 17.6L20.5 17.7L23.5 18.1L25.9 19.0L27.7 20.2L29.5 21.4L30.7 22.6M75.5 11.7L75.9 13.8L76.8 15.3L78.2 16.8M95.1 11.7L92.1 12.9L88.4 13.5L85.4 14.7L83.6 15.6M111.4 18.4L111.5 17.1L112.5 16.4L114.6 15.5L116.1 14.1L117.6 13.1L119.7 12.2" fill="none" stroke="#111" stroke-opacity="0.75" stroke-width="1.0" stroke-linecap="round"/>
<path transform="translate(16.5 25.9)" d="M38.9 19.9l-0.2 0.2M42.8 18.2l0.8 0.1M33.8 17.7l0.4 0.1M40.8 14.6l0.5 0.1M44.4 13.6l-0.2 0.5M50.7 20.7l-0.5 0.2M35.7 20.1l0.6 0.6M36.4 16.5l-0.3 0.4M43.0 20.6l0.5 0.1M45.4 17.7l0.5 0.5M41.3 18.7l-0.8 0.4M37.5 16.6l-0.1 0.8M46.3 18.8l-0.4 0.0M40.6 15.1l0.7 0.3M33.8 15.8l-0.6 0.4M48.9 18.6l-0.5 0.5M43.6 17.5l-1.1 0.4M41.6 15.9l1.0 0.1M44.8 13.3l-0.5 0.2M40.1 15.8l0.8 0.0M36.1 20.1l1.0 0.1M35.4 19.1l0.4 0.8M34.5 17.5l-0.2 0.8M47.9 14.3l0.5 0.4M39.6 14.1l-0.4 0.0M36.3 19.2l0.6 0.4M43.7 19.0l0.7 0.0M39.8 16.6l-1.0 0.1M42.4 16.2l-0.2 0.2M49.3 15.0l-1.0 0.3M40.2 17.9l0.9 0.2M34.2 20.5l0.4 0.2M39.2 20.6l0.5 0.0M34.9 18.2l1.2 0.1M44.2 19.9l0.5 0.3M39.7 20.1l-1.2 0.4M41.5 17.3l0.4 0.1M39.3 19.0l-0.4 0.2M48.4 20.1l-0.0 0.3M54.7 25.1l-0.1 0.9M58.5 21.5l0.5 0.3M50.1 21.1l-0.1 0.8M52.1 24.1l-1.1 0.5M58.4 20.9l-0.9 0.4M50.9 22.5l0.1 0.2M48.5 23.8l0.7 0.5M59.6 22.8l-1.3 0.2M59.6 23.3l0.4 0.2M50.5 24.2l-0.5 0.8M58.2 22.7l-0.5 0.7M61.1 20.1l-1.0 0.2M68.3 21.2l0.9 0.4M63.8 19.2l-0.7 0.0M64.5 18.4l-0.3 0.3M61.5 23.2l-1.1 0.2M61.7 19.1l-1.0 0.0M64.0 20.8l0.3 0.1M70.7 20.2l-0.1 0.9M64.9 18.8l-0.4 0.2M62.9 22.3l0.6 0.4M63.0 21.5l1.1 0.3M64.0 21.3l-0.3 0.8M64.7 18.5l-0.0 0.6M65.8 24.0l0.1 0.3M60.2 19.3l0.7 0.3M68.0 20.7l0.4 0.5M32.1 14.5l0.8 0.2M29.3 17.6l-0.6 0.4M32.1 14.7l-0.7 0.1M32.6 16.2l-0.0 0.7M31.2 16.0l0.1 0.9M33.4 14.0l-0.6 0.1M32.1 13.6l-0.4 0.1M28.2 16.6l0.5 0.1M35.9 9.2l-0.9 0.5M38.9 8.9l-0.2 0.3M66.6 7.4l1.0 0.6M48.2 10.3l-1.1 0.0M39.2 10.6l-0.0 0.4M40.5 11.3l-0.2 0.2M54.1 10.6l0.6 0.0M56.7 10.2l1.3 0.2M63.0 7.4l0.5 0.1M34.6 8.5l0.3 0.2M49.1 7.8l-0.5 0.2M38.8 7.7l-0.2 0.7M36.5 12.9l-0.4 0.4M35.8 7.6l-0.5 0.7M36.3 8.1l1.1 0.2M50.3 11.2l-0.2 0.8M43.2 12.5l-0.0 0.4M37.2 12.3l0.5 0.1M44.9 11.4l-0.4 0.3M52.0 12.2l0.1 0.2M42.6 13.1l-0.6 0.4M40.3 10.4l-0.4 0.1M64.1 10.6l0.0 0.8M48.0 10.2l-0.7 0.7M46.1 8.2l-0.6 0.5M48.4 11.1l0.4 0.1M35.8 8.8l0.3 0.2M36.3 8.2l-0.9 0.3M43.8 11.8l0.5 0.4M39.1 10.6l0.9 0.6M70.0 9.9l0.9 0.6M44.8 11.1l0.7 0.0M51.1 10.2l0.6 0.3M33.3 11.6l0.7 0.1M49.1 8.3l0.3 0.3M61.5 6.2l-0.7 0.5M64.5 4.7l0.2 0.4M70.6 7.8l-0.6 0.5M49.1 4.9l-0.9 0.2M64.9 5.0l0.7 0.2M59.7 4.9l-0.9 0.5M61.5 4.7l-0.5 0.6M53.4 8.3l0.6 0.2M50.5 4.9l-0.2 0.6M60.6 13.6l0.0 0.2M63.1 13.2l-0.0 0.6M61.1 16.5l-0.4 0.3M52.3 15.6l-0.3 0.3M62.3 12.2l0.0 0.5M58.3 13.6l-0.7 0.4M60.8 16.5l0.5 0.2M62.3 15.4l-0.1 0.2M52.1 15.6l-0.5 0.6M61.3 15.4l-0.0 0.5M124.3 17.6l-0.5 0.1M127.4 14.1l0.8 0.0M126.5 14.0l0.1 0.4M122.8 14.1l0.7 0.4M122.4 15.8l-0.4 0.0M126.5 15.9l-0.9 0.2M122.9 14.3l0.0 0.2M121.6 16.0l0.1 0.4M128.9 16.4l0.6 0.7M126.4 14.4l-0.4 0.1M143.1 14.6l-0.6 0.1M133.1 16.2l-0.9 0.0M132.9 16.0l0.2 0.2M128.2 14.0l0.8 0.7M151.9 12.0l-0.0 0.3M155.6 8.6l-1.0 0.3M163.4 8.8l-0.8 0.1M166.0 13.0l-0.5 0.4M167.0 10.1l0.2 0.2M172.3 12.6l0.1 0.4M153.4 9.7l-0.6 0.0M164.1 11.8l-0.1 0.5M149.4 12.5l1.0 0.5M159.4 12.2l-1.2 0.3M187.4 17.0l0.3 0.2M182.9 17.4l0.4 0.3M192.5 11.6l-0.5 0.4M185.9 14.3l0.2 0.4M171.1 16.0l-0.4 0.0M189.7 13.5l-0.5 0.2M179.9 16.3l0.2 0.5M208.6 11.9l-0.3 0.1M169.8 12.9l-0.7 0.2M193.2 18.0l0.4 0.8M192.8 44.7l-0.5 0.0M169.1 57.4l-0.1 0.7M196.6 47.1l-0.5 0.7M180.6 50.2l1.1 0.1M173.2 43.6l-0.3 0.4M169.7 55.6l-0.4 0.6M169.2 58.9l-0.1 0.6M178.3 56.1l-0.1 0.2M175.4 51.9l-0.9 0.1M194.7 51.6l0.4 0.3M197.2 47.4l0.2 0.2M181.9 48.0l0.1 0.4M187.5 43.5l0.3 0.2M176.6 52.6l-0.3 0.3M191.8 46.8l-0.0 0.4M197.6 54.5l-0.4 0.2M172.8 46.4l0.8 0.7M181.9 56.8l0.5 0.3M187.5 43.0l0.6 0.2M172.5 42.6l0.3 0.1M167.4 53.1l-1.1 0.3M189.7 42.2l-0.6 0.1M171.6 43.3l-0.2 0.2M187.4 53.3l0.2 0.4M171.1 60.1l0.4 0.4M197.1 57.9l-0.5 0.0M177.3 45.3l-0.6 0.3M167.1 51.6l0.5 0.8M171.8 53.6l-0.3 0.1M179.1 45.5l-0.3 0.2M199.2 67.9l-0.5 0.1M212.0 50.3l0.3 0.4M215.8 56.2l0.7 0.5M204.3 63.4l1.1 0.0M215.1 55.8l-0.3 0.0M202.8 59.2l-1.2 0.1M205.5 63.9l0.2 0.5M215.3 65.3l-0.8 0.4M24.8 45.9l-0.2 0.4M9.6 58.3l-0.3 0.2M5.9 46.5l0.3 0.2M1.0 52.6l0.7 0.8M26.6 39.5l0.3 0.2M2.9 54.2l-0.5 0.4M60.7 43.9l-0.4 0.6M68.4 39.5l-0.2 0.3M69.8 45.1l-0.1 0.5M68.3 46.1l0.4 0.3M59.5 39.1l-0.2 0.4M63.1 38.0l-0.0 0.4M69.3 41.5l-0.4 0.0M64.3 39.8l-1.1 0.4M57.8 45.1l0.5 0.1M125.0 31.0l-0.7 0.1M124.5 31.5l0.7 0.5M124.9 32.7l-0.3 0.6M121.4 31.8l0.5 0.2M121.6 30.9l-0.2 0.3M120.4 31.9l-0.3 0.3M121.8 32.4l-0.7 0.4M62.9 87.0l0.3 0.6M66.0 87.1l0.9 0.3M64.8 85.5l0.7 0.7M64.3 83.1l0.3 0.5M67.3 79.4l0.2 0.3M66.5 86.1l1.2 0.0M64.9 80.9l0.3 0.8M65.1 86.5l0.9 0.0M66.0 80.2l0.9 0.2M64.6 83.6l0.5 0.2M65.4 80.0l0.7 0.2M66.9 79.7l0.3 0.2M67.7 79.6l0.0 0.2M67.6 84.6l-0.9 0.2M67.0 86.5l-0.4 0.2M64.8 80.7l-0.4 0.2M63.8 84.5l-0.0 0.5M63.2 85.8l-0.8 0.6M103.7 19.4l-0.2 0.2M107.5 20.7l-0.3 0.6M106.5 20.1l0.2 0.6M105.5 19.1l0.1 0.5M114.6 6.6l0.0 0.4M123.5 6.1l0.1 0.3M120.0 8.1l0.7 0.2M115.4 7.1l-0.0 0.2M122.0 8.2l-0.7 0.6M120.5 8.3l-0.0 0.5M125.8 8.0l-1.2 0.4M144.2 5.1l1.1 0.5M141.3 4.9l-0.4 0.1M144.9 4.9l0.6 0.1M144.5 6.3l-0.5 0.1M145.2 6.4l-0.0 0.9M187.6 33.6l-0.0 0.4M185.7 34.3l1.1 0.4M192.7 27.5l0.9 0.4M186.6 31.0l-0.3 0.4M194.8 30.8l-0.3 0.8M186.4 26.5l-0.3 0.4M194.0 33.6l-0.9 0.0M189.2 28.7l0.1 0.3M15.7 21.5l-0.5 0.2M14.8 18.1l-0.3 0.7M11.8 21.7l0.4 0.0M14.6 20.1l-0.0 0.8M111.9 21.1l-0.1 0.2M111.3 20.8l0.6 0.2M112.3 20.3l-0.1 0.3M182.7 47.1l1.1 0.4M180.6 49.9l0.9 0.2M184.0 44.6l0.2 0.4M179.4 45.7l-0.1 0.4M182.8 47.4l-1.0 0.1M180.6 43.5l0.8 0.1M181.5 49.1l1.1 0.1M179.4 46.5l-0.4 0.1M111.6 18.9l-0.6 0.9M111.9 18.6l1.5 0.2M113.6 18.1l-1.2 0.4M114.2 17.4l0.5 0.3M113.8 17.1l-0.9 0.6M115.9 16.5l-0.2 0.7M116.3 16.1l-0.7 1.0M117.3 16.0l0.5 0.4M118.4 14.8l0.8 0.9M117.9 14.4l-0.5 0.8M119.9 14.1l-1.1 0.4M120.0 13.4l-0.2 0.6M120.6 13.6l-0.6 0.1M120.5 12.6l0.3 0.4M121.2 12.3l-0.5 0.8M122.4 11.7l0.6 0.9M19.2 18.4l-1.4 0.4M18.9 18.7l0.5 0.1M20.7 18.7l-1.0 0.4M20.1 19.3l-0.5 0.4M21.5 19.7l0.6 0.4M22.5 19.9l-1.0 0.1M23.7 20.5l0.3 0.7M24.1 20.4l-0.1 0.5M24.6 20.7l0.4 0.2M26.0 20.7l1.0 0.0M27.1 21.7l0.0 0.6M27.4 21.6l0.5 0.4M28.4 22.5l-0.2 0.4M29.6 22.4l-0.3 0.6M29.7 22.6l1.4 0.3M30.1 23.3l-1.0 0.2M76.2 11.8l0.1 0.8M76.4 12.3l0.4 0.5M76.7 12.7l-0.5 0.3M77.0 13.5l0.9 0.3M76.7 14.6l0.7 0.7M76.9 15.3l0.6 0.4M77.2 15.6l1.3 0.6M77.5 15.9l0.9 0.2M78.9 16.8l0.1 0.5M93.8 11.9l0.2 0.4M93.8 11.9l-0.0 0.8M91.5 12.4l0.4 0.9M90.2 13.0l-0.7 0.5M90.1 13.0l-1.0 0.6M88.1 13.8l0.1 0.6M86.2 14.3l-1.0 0.6M85.2 14.7l0.2 0.8M84.7 14.7l1.0 0.5M63.5 80.5l-0.5 0.0M63.4 80.8l-1.1 0.1M64.1 81.4l-0.7 0.6M64.9 82.4l0.4 1.0M64.9 83.0l-0.5 0.3M64.8 84.3l0.6 0.5M65.0 84.2l-0.5 0.5M65.0 84.8l-1.1 0.1M66.1 85.8l0.5 0.3M66.5 86.6l0.1 0.8M96.9 9.0l-0.6 0.9M96.2 7.9l-0.1 0.4M96.1 6.8l0.6 0.5M96.2 6.8l1.3 0.0M72.0 8.7l0.1 0.7M73.3 9.4l-1.4 0.2M73.9 9.4l-0.5 0.3M74.6 11.0l1.5 0.0" fill="none" stroke="#111" stroke-opacity="0.85" stroke-width="0.75" stroke-linecap="round"/>
<path transform="translate(16.5 25.9)" d="M0.0 101.3L9.0 101.3L13.2 100.5L18.0 100.2L21.1 99.6L27.1 99.0L33.1 98.4L39.1 98.7L43.3 99.3L48.1 98.1L54.1 98.1L60.2 98.3L63.2 97.5L67.4 95.7L68.6 93.9L71.0 93.0L73.7 92.2L72.2 93.0L71.0 93.9L69.2 95.1L71.6 97.5L72.2 99.3L78.2 100.8L84.2 101.1L87.2 100.8L91.5 99.9L96.3 98.4L101.1 97.2L105.3 96.6L108.3 96.0L114.3 96.3L120.3 96.3L126.4 95.7L129.4 95.7L132.4 95.4L135.4 94.8L138.4 94.2L141.4 93.9L144.4 94.6L149.2 94.9L150.4 95.4L152.2 96.0L155.2 95.1L159.4 94.2L165.5 93.9L168.5 93.6L174.5 93.9L180.5 94.2L186.5 93.9L192.5 94.2L198.5 95.1L204.6 96.3L207.6 96.9L210.6 97.5L210.6 98.7L207.6 99.9L207.6 101.1L210.6 101.1L216.6 101.3" fill="none" stroke="#1a1a1a" stroke-width="0.55" stroke-dasharray="3 1 1 1"/>
</g>
<path d="M43.5 25.9V134.20M70.5 25.9V134.20M97.5 25.9V134.20M124.5 25.9V134.20M151.5 25.9V134.20M178.5 25.9V134.20M206.5 25.9V134.20M16.5 52.5H233.10M16.5 80.5H233.10M16.5 107.5H233.10" stroke="#14140a" stroke-opacity="0.4" stroke-width="0.8" fill="none"/>
<path d="M16.5 25.9V134.2" stroke="#b0b0b0" stroke-width="1" fill="none"/>
<path d="M233.1 25.9V134.2" stroke="#999" stroke-width="1" fill="none"/>
<path d="M16.0 25.9H233.6" stroke="#666" stroke-width="1" fill="none"/>
<path d="M16.0 134.2H233.6" stroke="#7c7c7c" stroke-width="1" fill="none"/>
<text class="tk" transform="translate(17.3 140.8) scale(0.92 1)" text-anchor="middle">180°</text>
<text class="tk" transform="translate(44.4 140.8) scale(0.92 1)" text-anchor="middle">135°W</text>
<text class="tk" transform="translate(71.5 140.8) scale(0.92 1)" text-anchor="middle">90°W</text>
<text class="tk" transform="translate(98.5 140.8) scale(0.92 1)" text-anchor="middle">45°W</text>
<text class="tk" transform="translate(125.6 140.8) scale(0.92 1)" text-anchor="middle">0°</text>
<text class="tk" transform="translate(152.7 140.8) scale(0.92 1)" text-anchor="middle">45°E</text>
<text class="tk" transform="translate(179.8 140.8) scale(0.92 1)" text-anchor="middle">90°E</text>
<text class="tk" transform="translate(206.8 140.8) scale(0.92 1)" text-anchor="middle">135°E</text>
<text class="tk" transform="translate(233.9 140.8) scale(0.92 1)" text-anchor="middle">180°</text>
<text class="tk" transform="translate(14.5 55.0) scale(0.9 1)" text-anchor="end">45°N</text>
<text class="tk" transform="translate(14.5 82.0) scale(0.9 1)" text-anchor="end">0°</text>
<text class="tk" transform="translate(14.5 109.1) scale(0.9 1)" text-anchor="end">45°S</text>
<text class="tk" transform="translate(14.5 136.2) scale(0.9 1)" text-anchor="end">90°S</text>
<text class="tt" x="124.8" y="22.8" text-anchor="middle">Average_N2O_concentration_at_1.0_hPa</text>
<text class="lab" x="16.8" y="10.9">(a)</text>
</g>
<g id="panel-b">
<clipPath id="cpb"><rect x="271.7" y="25.85" width="216.6" height="108.3"/></clipPath>
<g clip-path="url(#cpb)">
<polygon points="271.7,25.9 488.3,25.9 488.3,134.2 271.7,134.2" fill="#fdfdf4"/>
<polygon points="271.7,30.6 488.3,30.6 488.3,134.2 271.7,134.2" fill="#f5f5dc"/>
<polygon points="271.7,63.4 488.3,63.4 488.3,134.2 271.7,134.2" fill="#e2e2fa"/>
<polygon points="271.7,93.0 488.3,93.0 488.3,134.2 271.7,134.2" fill="#f5f5dc"/>
<polygon points="271.7,129.8 488.3,129.8 488.3,134.2 271.7,134.2" fill="#fdfdf4"/>
<path transform="translate(271.7 25.85)" d="M14.1 11.3L18.0 11.7L22.3 12.0L26.5 12.6L31.3 12.0L36.1 12.3L39.1 13.2L43.3 13.2L46.9 13.2L50.5 13.2L51.7 10.8L54.1 12.6L56.6 13.2L59.0 12.3L59.6 13.8L56.6 14.4L55.4 15.6L52.3 16.8L51.4 18.7L52.6 19.9L55.4 20.2L57.2 20.9L59.0 21.1L59.0 22.3L60.2 23.3L60.8 22.9L60.8 21.4L62.0 20.5L62.0 19.3L61.4 18.0L61.4 16.5L63.8 16.7L66.2 17.4L66.5 18.7L68.6 19.0L69.5 17.9L71.0 19.6L71.6 20.8L73.4 21.4L74.6 22.9L72.2 24.1L68.6 23.9L66.2 25.9L69.2 24.7L69.5 25.9L71.6 26.5L70.4 27.4L68.6 28.0L68.6 27.1L68.0 27.2L66.2 28.0L65.9 28.9L63.8 29.8L62.9 31.3L62.6 33.1L61.4 33.7L59.6 35.2L60.2 37.9L59.9 39.0L59.0 38.2L58.5 36.7L57.8 36.1L56.6 35.9L54.5 36.0L54.1 36.7L51.7 36.4L49.9 37.6L49.6 39.1L49.5 40.7L50.5 42.7L51.7 43.2L53.5 42.9L53.8 41.5L56.0 41.2L55.7 43.0L55.1 44.5L56.6 44.5L58.2 45.1L58.1 47.5L59.0 48.7L60.2 48.6L61.7 49.0L61.7 49.6L60.2 49.8L59.6 49.3L58.4 49.0L56.7 48.1L55.7 46.3L53.5 45.7L51.7 44.5L49.9 44.6L47.5 43.7L44.8 42.1L44.8 40.6L43.3 39.1L42.1 37.6L40.6 36.1L39.3 35.1L39.4 36.1L40.9 37.9L41.8 39.4L42.4 40.3L40.9 39.1L39.4 37.3L38.8 36.1L37.9 34.6L37.0 33.7L35.8 33.4L34.9 32.2L34.6 31.3L33.7 29.9L33.5 28.3L33.7 26.4L33.3 25.0L34.6 25.6L34.3 24.7L33.1 24.1L31.6 23.2L30.1 21.4L28.3 20.2L26.8 19.0L25.3 18.4L23.5 18.0L21.1 17.7L19.3 17.6L18.0 18.4L16.8 17.6L15.6 19.0L13.2 20.2L10.8 21.1L9.3 21.2L11.4 20.5L13.2 19.0L10.8 18.7L9.0 17.4L8.4 16.2L11.4 15.5L9.0 15.3L7.2 14.7L10.2 14.1L9.0 13.1L10.8 12.0L14.1 11.3M34.0 25.0L32.8 24.8L31.1 23.6L32.8 23.9L34.0 25.0M72.7 25.5L74.6 26.0L76.4 26.1L76.5 25.3L75.8 24.4L74.7 23.2L73.7 23.8L72.7 25.5M68.6 16.8L67.4 15.8L69.5 16.2L69.8 15.0L67.7 14.3L71.3 14.0L69.2 13.2L67.4 12.0L65.0 11.1L61.4 10.3L59.6 9.8L56.6 9.7L54.1 9.9L54.8 11.4L57.2 12.0L60.8 12.0L63.2 13.1L64.4 13.8L64.4 14.7L61.1 15.2L63.8 15.4L65.6 16.4L68.6 16.8M37.3 11.4L38.5 12.5L40.9 12.9L45.1 12.8L47.2 12.3L45.7 11.4L45.1 10.3L43.3 10.0L40.9 10.5L39.1 10.0L37.0 10.5L37.3 11.4M33.1 10.8L34.3 11.4L36.4 11.0L37.6 9.9L35.5 9.3L33.4 9.7L33.1 10.8M37.9 8.8L42.1 9.3L44.5 8.9L42.7 8.1L39.1 8.2L37.9 8.8M46.9 10.8L49.9 10.8L49.3 9.7L47.2 9.9L46.9 10.8M50.8 10.7L53.8 10.4L53.8 9.6L51.1 9.6L50.8 10.7M52.9 9.2L60.2 9.2L60.2 8.6L55.4 8.1L52.9 8.4L52.9 9.2M55.4 8.1L61.4 8.2L63.2 6.9L67.4 5.7L71.0 4.6L66.2 4.2L59.0 4.3L52.9 5.1L56.0 6.0L55.4 7.2L55.4 8.1M51.1 6.3L55.4 7.0L56.0 5.7L52.3 5.2L51.1 6.3M56.0 15.6L57.8 16.2L59.6 15.8L59.9 15.3L57.8 14.4L56.0 15.3L56.0 15.6M48.1 8.7L49.9 8.7L48.7 8.1L46.9 8.4L48.1 8.7M48.7 12.6L50.5 12.8L50.5 12.2L49.0 12.2L48.7 12.6M64.4 7.1L67.4 8.4L72.2 8.4L74.6 10.2L75.8 12.0L77.6 12.3L76.1 13.8L77.0 15.6L78.8 17.1L81.8 18.0L82.7 16.8L84.2 15.0L86.0 14.6L89.0 13.2L93.3 12.6L95.1 11.7L95.1 10.2L96.9 8.7L96.3 7.2L98.1 6.0L101.1 5.1L95.1 4.6L89.0 3.9L81.2 4.3L73.4 4.7L69.8 5.3L68.0 6.0L64.4 7.1M93.9 14.7L95.1 15.6L96.9 16.0L99.6 15.5L100.1 14.7L98.7 14.1L96.3 14.4L94.8 14.2L93.9 14.7M61.7 49.0L62.9 47.7L64.4 47.4L65.3 46.7L65.3 47.7L66.8 47.2L68.6 47.8L71.0 47.8L72.2 49.0L74.0 50.5L75.8 50.7L77.3 51.4L78.2 53.2L78.2 54.1L79.4 54.8L81.5 55.7L84.2 56.0L86.0 57.2L87.2 58.1L87.2 59.6L85.7 61.4L84.8 62.9L84.8 65.0L83.6 67.4L82.4 68.0L80.6 68.6L79.1 69.8L79.0 71.3L77.0 73.7L76.1 74.7L74.6 75.1L73.2 74.6L74.0 76.1L73.4 77.3L71.0 77.6L70.8 78.8L69.2 78.8L69.8 79.8L69.0 81.2L67.7 82.0L68.7 82.9L67.4 84.2L66.8 85.6L67.1 85.9L69.1 87.1L68.0 87.5L66.2 87.2L65.0 86.6L63.8 85.7L62.9 84.2L62.9 82.4L63.8 80.6L63.9 79.1L64.1 76.4L65.0 74.0L65.3 72.2L65.9 69.2L66.0 65.3L65.0 64.4L62.6 62.6L61.4 60.5L60.3 58.4L59.4 57.2L60.2 56.0L59.7 54.8L60.2 53.8L61.1 52.9L61.8 51.7L61.7 49.6M71.6 85.1L73.4 85.1L72.8 85.6L71.6 85.1M127.9 36.1L128.8 37.9L129.7 39.7L130.6 41.2L130.9 43.0L132.1 44.8L134.1 46.5L134.4 47.2L136.6 47.4L139.1 47.0L138.9 48.7L137.2 51.4L134.8 53.5L133.3 55.2L132.1 56.9L131.8 58.4L132.4 60.5L132.8 62.9L130.6 64.7L129.4 66.2L129.7 68.6L128.2 69.7L128.0 71.0L126.4 73.1L123.9 74.6L121.5 74.8L120.3 75.1L119.3 74.7L119.3 73.4L118.2 71.3L117.3 69.8L117.0 67.7L115.5 64.7L116.4 61.7L116.0 59.3L115.5 57.2L113.8 54.8L114.0 52.9L114.1 51.7L113.4 51.4L111.9 51.6L111.0 50.4L109.0 50.5L107.1 51.3L105.6 51.0L103.8 51.5L102.6 50.5L100.8 49.5L100.3 48.4L99.3 47.5L98.2 46.6L97.8 45.3L98.5 44.2L98.5 42.4L98.1 41.5L98.7 39.9L99.6 38.4L100.5 37.4L102.3 36.4L102.5 35.2L103.5 34.0L104.7 32.8L105.0 32.6L107.1 33.0L108.9 32.2L111.3 32.0L114.3 31.7L114.9 33.1L114.4 33.8L115.5 34.4L117.6 34.9L119.7 35.9L120.3 34.6L122.1 34.5L123.6 35.1L125.7 35.5L127.7 35.3L127.9 36.1M138.0 61.4L138.6 63.5L138.0 65.0L137.0 68.0L135.6 69.5L134.7 68.0L135.0 66.2L134.8 64.4L136.3 63.6L137.2 62.3L138.0 61.4M127.7 35.3L128.9 35.3L129.7 34.0L130.0 32.5L130.0 32.0L128.2 32.4L126.7 32.2L125.1 32.1L124.5 31.0L124.1 30.1L125.7 29.5L127.3 29.4L129.4 28.9L131.2 29.5L133.3 29.2L132.4 28.0L130.6 27.1L131.5 25.9L129.4 26.4L128.5 27.4L128.2 26.5L126.8 26.2L126.0 27.1L125.1 28.0L125.1 29.2L124.2 29.6L122.7 29.6L122.4 30.1L122.0 29.8L122.1 30.7L122.7 31.3L122.1 32.2L121.2 31.9L120.9 30.7L120.0 29.8L120.0 28.9L117.9 28.0L116.7 27.0L116.4 26.7L115.7 26.9L115.8 27.7L116.7 28.6L117.9 29.0L119.4 30.0L118.5 29.8L118.2 30.4L118.5 30.7L117.9 31.3L117.7 30.1L116.7 29.5L115.5 28.9L114.6 28.3L114.3 27.7L113.6 27.4L112.8 27.8L111.3 28.1L110.2 28.2L110.2 28.9L108.8 29.5L108.1 30.4L108.3 30.9L107.9 31.5L107.1 32.0L105.6 32.1L104.9 32.5L104.5 32.0L103.8 31.8L102.9 31.9L103.0 31.0L102.6 30.8L103.0 29.5L102.9 28.3L103.5 27.9L105.3 28.0L107.2 28.0L107.6 27.1L107.6 26.4L106.8 25.7L105.6 25.4L105.5 25.0L107.1 24.9L107.4 24.2L108.4 24.4L109.3 23.8L110.1 23.3L111.0 22.6L111.3 22.1L112.5 22.0L113.7 21.7L113.3 20.8L113.2 19.9L114.6 19.4L114.6 20.5L114.3 21.2L114.9 21.7L116.7 21.7L119.4 21.2L120.2 21.4L120.9 20.9L120.9 19.9L121.5 19.4L122.9 19.7L122.4 18.7L125.1 18.3L126.4 18.0L124.5 17.7L122.1 18.0L121.2 17.4L121.1 16.2L123.3 15.0L123.5 14.7L121.5 14.6L120.9 15.3L118.8 16.5L118.7 17.4L119.6 18.0L118.2 19.0L118.1 19.9L117.6 20.3L116.8 20.8L116.1 20.8L115.8 20.3L115.0 19.0L114.6 18.5L113.4 19.1L112.5 19.3L111.6 18.7L111.3 17.4L111.9 16.5L113.4 15.9L114.6 15.3L115.8 14.4L116.7 13.5L117.9 12.9L119.4 12.2L121.2 11.9L123.8 11.4L125.4 11.6L127.0 11.9L128.2 12.4L130.0 12.5L133.0 13.5L133.0 14.3L131.2 14.4L128.8 14.0L129.1 15.0L129.4 15.5L130.9 15.6L132.7 15.3L132.4 14.4L133.9 14.1L134.8 14.4L134.9 13.1L136.0 13.1L136.1 14.0L137.8 13.2L140.5 12.9L142.6 12.9L144.7 12.2L146.8 12.5L148.6 12.8L148.6 11.1L149.8 10.2L151.9 10.3L152.0 12.0L152.7 13.8L152.5 12.6L153.4 10.8L155.2 10.7L156.7 9.9L160.3 9.6L160.6 9.0L164.3 8.4L167.3 8.3L171.1 7.4L172.1 8.1L175.7 8.1L176.6 9.6L174.5 9.7L176.9 9.9L179.9 10.2L182.9 9.8L184.7 10.5L186.2 11.4L187.1 11.6L188.3 11.1L191.0 11.2L192.5 10.6L196.1 10.6L198.5 11.1L200.4 11.6L204.0 12.0L204.6 12.3L207.3 12.3L209.7 12.0L210.9 12.6L214.2 12.2L216.6 12.8M0.0 12.8L2.4 13.5L4.8 13.8L6.1 14.4L4.5 15.3L2.7 15.2L0.9 14.4L0.0 14.7M216.6 15.0L214.8 15.2L216.0 16.5L213.0 17.0L210.8 18.0L208.2 18.0L207.0 18.2L206.4 19.3L206.1 20.5L205.6 21.1L204.6 22.1L203.7 22.4L202.6 23.5L202.0 22.3L202.0 20.5L202.8 19.4L204.3 18.4L206.4 17.1L207.0 16.5L204.6 17.0L202.5 17.1L201.6 18.5L199.8 18.7L197.3 18.4L194.3 18.5L192.5 19.6L191.0 21.1L189.8 21.3L191.3 21.8L193.3 22.1L192.8 23.5L192.7 25.0L191.6 26.2L189.8 27.7L188.3 28.4L187.1 28.6L186.3 29.2L185.0 30.2L186.2 31.9L186.1 32.9L184.4 33.5L184.4 31.9L183.5 31.3L183.7 30.4L183.1 30.1L181.5 30.7L181.7 29.8L181.1 29.5L179.6 30.7L179.1 31.0L179.9 31.7L181.1 31.5L182.0 31.9L180.1 33.1L181.0 34.5L181.6 35.5L181.5 36.4L180.8 37.6L180.2 38.8L179.0 39.7L178.1 40.3L176.9 40.7L175.1 41.2L174.4 41.9L174.2 41.2L173.3 41.2L172.4 42.1L172.0 42.7L172.7 43.9L173.9 44.9L174.1 46.6L173.0 47.8L172.5 48.4L171.5 48.9L171.5 48.0L170.3 47.5L169.1 46.4L168.8 46.0L168.5 47.2L168.0 48.6L168.6 49.3L169.4 50.1L170.5 51.4L170.6 53.2L170.9 53.4L169.3 52.5L168.7 50.8L167.9 49.3L167.4 49.3L167.6 47.8L167.3 46.0L167.0 44.5L166.4 44.2L165.6 44.6L165.0 44.2L164.9 42.4L163.8 41.5L163.5 40.6L162.8 40.8L161.8 41.0L160.6 41.3L160.5 42.1L159.4 42.4L157.8 43.9L156.6 44.8L156.6 46.2L156.3 48.0L155.8 48.6L155.2 49.0L154.9 49.3L154.2 48.4L153.4 46.6L152.5 44.5L152.1 42.7L152.0 41.5L151.7 41.0L150.6 41.6L149.8 40.7L150.6 40.3L149.4 40.0L148.6 39.2L146.8 39.0L145.3 39.0L142.8 38.7L142.3 37.9L140.8 38.1L139.6 37.5L138.7 36.4L137.8 35.9L137.2 36.2L137.7 37.4L138.5 38.2L138.9 39.1L139.3 38.5L139.3 39.4L140.8 39.6L142.0 38.4L142.4 39.4L143.6 40.0L144.3 40.6L143.5 41.8L143.0 42.7L141.6 43.7L139.7 44.6L137.7 45.7L135.4 46.4L134.5 46.5L134.1 45.2L133.9 44.0L132.7 42.2L131.8 41.2L130.7 39.4L129.5 37.3L129.4 36.4L128.9 37.3L128.2 36.7L127.9 36.1M136.6 27.1L138.1 26.2L140.2 26.0L140.2 27.1L139.0 27.4L138.6 28.3L139.9 28.6L140.2 29.8L140.5 30.7L140.8 31.9L139.0 32.1L137.8 31.6L137.8 30.7L138.1 29.8L136.9 28.3L136.6 27.1M143.5 26.2L145.0 26.5L145.0 27.4L143.5 27.9L143.5 26.2M104.9 24.1L106.2 23.9L107.7 23.6L109.1 23.3L108.6 23.2L109.3 22.4L108.4 22.3L108.2 21.7L107.4 21.1L107.1 20.5L106.5 20.5L107.1 19.4L105.9 19.4L106.5 18.9L105.3 18.9L104.8 19.6L105.0 20.5L105.4 21.1L106.5 21.1L106.2 21.5L106.5 22.0L105.6 22.1L105.8 22.6L105.2 23.0L106.4 23.2L105.8 23.3L104.9 24.1M102.3 23.1L103.5 23.0L104.5 22.7L104.7 22.0L105.0 21.4L104.4 20.9L103.3 20.9L103.2 21.4L102.3 21.5L102.6 22.1L102.1 22.7L102.3 23.1M139.3 11.1L140.5 11.6L142.9 11.6L141.7 10.5L142.0 9.6L144.4 8.5L148.0 8.0L149.5 7.9L145.6 8.3L142.6 9.0L141.4 10.0L140.2 10.5L139.3 11.1M114.9 6.3L116.7 7.5L118.5 8.1L119.7 7.2L120.9 6.9L124.5 6.0L120.3 5.7L117.9 6.0L114.9 6.3M165.5 6.6L168.5 7.2L171.5 6.9L168.5 6.0L165.5 5.4L165.5 6.6M190.7 8.7L194.3 9.0L198.5 8.9L196.1 8.4L191.9 8.3L190.7 8.7M136.6 5.7L141.4 6.0L145.6 5.5L143.2 5.1L138.4 5.4L136.6 5.7M193.7 21.5L194.3 22.3L194.5 24.1L195.2 24.7L194.3 25.9L194.6 26.5L193.7 26.5L193.7 25.3L193.7 23.5L193.7 21.5M192.5 29.2L193.4 28.6L194.5 28.9L195.8 28.1L195.1 27.7L193.6 26.8L193.4 28.0L192.5 28.4L192.5 29.2M193.3 29.3L193.7 30.4L193.1 31.4L193.0 32.7L192.4 33.1L191.8 33.3L190.7 33.3L190.0 34.0L189.5 33.4L188.3 33.5L187.1 33.7L187.5 34.3L187.3 35.3L186.8 35.4L186.5 34.6L186.3 34.1L187.1 33.7L187.1 33.5L188.0 32.9L188.9 32.7L190.1 32.7L190.6 31.8L190.9 32.0L191.8 31.5L192.4 30.4L192.5 29.7L193.3 29.3M187.9 34.1L188.3 34.4L189.1 34.1L189.3 33.6L188.6 33.6L187.9 34.1M181.1 39.0L181.7 39.1L181.1 40.9L180.6 40.3L181.1 39.0M173.7 42.5L174.5 42.1L175.1 42.3L174.5 43.1L173.7 43.0L173.7 42.5M156.4 48.3L157.2 49.0L157.5 49.9L156.9 50.5L156.3 49.9L156.4 48.3M180.8 43.0L181.8 43.0L181.7 44.2L181.4 45.1L182.0 45.7L182.9 46.3L182.0 46.0L181.1 45.9L180.7 45.2L180.5 44.5L180.8 43.0M181.7 49.9L182.6 49.0L183.8 48.3L184.4 49.6L183.8 50.5L182.9 50.4L182.6 49.6L181.7 49.9M183.2 46.6L183.8 47.5L183.5 48.1L183.2 47.5L183.2 46.6M181.7 47.2L182.4 47.5L182.4 48.6L182.0 48.3L181.7 47.2M178.8 49.0L180.2 47.8L180.1 47.4L178.8 49.0M173.9 53.2L174.5 53.1L175.3 52.5L176.3 52.2L177.2 51.3L178.1 50.1L178.8 49.9L179.9 51.0L179.3 51.6L179.2 52.9L179.9 53.5L179.0 54.6L178.4 55.7L178.1 56.6L177.2 56.6L176.3 56.1L175.4 56.1L174.6 55.8L174.2 54.6L173.9 53.8L173.9 53.2M165.6 50.8L167.0 51.0L168.6 52.6L170.3 53.8L171.2 55.1L172.1 56.0L172.0 57.6L171.2 57.6L169.9 56.6L168.8 55.1L167.7 53.2L166.7 52.2L165.6 50.8M171.7 58.1L172.6 57.8L173.6 58.1L175.1 58.1L176.3 58.4L177.2 58.8L177.1 59.4L175.1 59.1L173.3 58.8L172.4 58.5L171.7 58.1M177.5 59.1L178.7 59.1L179.9 59.2L182.2 59.1L182.2 59.4L179.9 59.4L178.1 59.5L177.5 59.1M182.6 60.3L183.5 59.6L184.8 59.2L183.5 60.0L182.6 60.3M180.4 53.7L181.0 53.4L182.3 53.5L183.5 53.2L183.1 53.9L181.1 53.8L180.6 54.6L181.4 54.7L182.5 54.6L181.7 55.2L181.5 55.8L182.0 56.3L182.3 56.9L182.0 57.5L181.4 57.0L181.0 55.8L180.7 56.3L180.7 57.5L180.2 57.5L180.1 56.3L179.8 55.8L180.3 54.5L180.4 53.7M185.1 52.9L185.7 53.4L185.3 54.6L185.1 53.8L185.1 52.9M185.3 56.0L187.0 56.1L185.9 56.2L185.3 56.0M187.1 54.6L188.0 54.4L188.9 54.6L189.0 55.7L189.5 56.1L190.7 55.1L191.6 55.2L193.1 55.7L195.2 56.4L196.0 57.3L197.0 57.8L197.2 58.4L197.3 59.3L198.9 60.4L198.5 60.5L197.0 60.2L196.1 59.3L195.2 58.8L194.6 59.3L194.0 59.7L193.1 59.6L191.9 59.0L191.3 59.1L191.2 58.5L191.8 58.2L191.3 57.5L189.8 56.8L188.6 56.4L188.2 56.6L187.7 55.9L188.8 55.5L187.8 55.5L187.1 55.0L187.1 54.6M197.5 57.6L198.5 57.5L199.9 56.7L199.8 57.3L198.9 57.9L197.5 57.6M194.0 60.6L194.6 62.9L195.7 63.2L196.1 65.3L197.9 67.1L199.0 68.3L200.4 69.5L200.7 71.3L200.1 73.7L199.2 74.7L198.5 76.6L197.0 77.0L196.3 77.6L195.2 77.1L194.0 77.3L192.8 77.0L192.2 75.8L191.5 75.5L191.2 75.3L191.2 74.0L190.1 75.2L189.7 74.9L188.9 73.9L187.4 73.1L185.6 73.4L184.1 73.6L182.9 74.0L182.6 74.6L180.5 74.6L179.3 75.2L177.6 74.8L177.9 73.1L177.2 71.6L176.7 69.8L176.6 68.6L177.0 67.4L178.4 66.5L179.9 66.2L181.4 65.6L181.9 64.4L182.7 64.0L183.8 62.9L184.7 62.6L185.6 63.1L186.3 63.1L186.8 61.7L188.0 61.1L189.5 61.5L190.6 61.4L190.1 62.3L189.8 63.2L191.0 63.8L192.2 64.7L193.1 64.6L193.5 63.2L193.6 61.7L194.0 60.6M195.4 78.6L196.4 78.9L197.5 78.8L197.5 79.5L197.0 80.2L196.1 80.3L195.7 79.6L195.4 78.6M212.2 74.9L213.3 76.1L214.1 76.4L214.8 77.0L215.7 76.8L215.3 77.8L214.8 77.9L214.5 78.7L213.8 79.2L213.5 78.7L213.5 78.1L212.9 77.8L213.4 77.3L213.4 76.4L212.4 75.2L212.2 74.9M212.2 78.5L213.1 79.0L213.0 79.4L212.3 80.3L211.4 80.8L211.2 81.7L210.3 82.1L209.6 82.2L208.5 81.8L209.1 81.1L209.7 80.6L211.1 79.9L211.8 78.8L212.2 78.5M207.0 66.3L208.8 67.6L207.6 67.0L207.0 66.3M57.2 41.0L58.4 40.3L59.9 40.3L62.0 41.2L63.7 42.0L61.7 42.2L61.4 41.8L60.2 41.1L59.0 40.6L57.8 41.0L57.2 41.0M63.5 42.2L65.0 42.2L66.3 42.5L67.1 43.0L66.2 43.1L65.3 43.5L64.7 43.2L63.5 43.1L64.6 43.0L64.1 42.3L63.5 42.2M61.2 43.1L62.4 43.3L61.9 43.4L61.2 43.1M67.9 43.0L68.8 43.1L67.9 43.3L67.9 43.0M52.9 26.1L55.4 25.0L57.2 25.4L57.5 26.2L56.0 26.2L54.1 26.1L52.9 26.1M55.5 28.9L56.4 28.9L56.4 27.7L57.2 26.6L56.0 26.7L55.5 27.7L55.5 28.9M57.5 26.5L59.3 26.5L60.2 27.2L59.1 28.2L58.7 28.1L58.1 27.4L58.2 27.0L57.5 26.5M58.2 29.1L59.6 29.1L60.8 28.5L59.9 28.5L58.7 28.8L58.2 29.1M60.3 28.1L62.0 28.1L62.4 27.7L61.4 27.7L60.3 28.1M48.7 22.0L49.9 23.8L50.4 23.5L49.6 21.8L48.7 22.0M37.9 17.4L39.7 17.4L42.1 16.5L40.9 16.4L39.1 16.9L37.9 17.4M33.1 14.3L34.9 15.0L37.3 14.4L36.7 13.8L34.3 13.8L33.1 14.3M41.2 18.8L43.3 18.5L45.1 18.5L43.3 18.7L41.2 18.8M170.8 23.2L171.8 23.0L173.3 22.1L174.4 20.8L173.9 20.6L172.7 22.0L171.5 22.7L170.8 23.2M127.4 54.0L128.8 54.0L128.8 55.4L127.6 55.8L127.4 54.8L127.4 54.0M125.9 56.2L126.2 57.5L127.0 59.3L126.6 59.1L125.9 57.5L125.9 56.2M128.8 59.9L129.2 61.1L129.5 62.8L129.1 62.6L128.9 61.1L128.8 59.9M126.5 18.0L128.0 17.9L127.9 17.1L126.7 17.3L126.5 18.0M129.1 17.4L130.1 17.3L129.7 16.5L129.1 16.8L129.1 17.4M152.5 26.8L153.4 26.1L155.8 26.3L155.2 26.7L153.4 27.1L152.5 26.8M66.2 63.4L66.8 63.9L66.5 64.0L66.2 63.4M14.4 42.0L15.0 42.2L14.7 42.7L14.4 42.4L14.4 42.0M15.3 19.6L16.7 19.3L16.5 19.7L15.6 20.0L15.3 19.6M61.7 13.7L62.9 13.7L62.6 13.1L61.7 13.7M113.5 28.3L114.0 28.5L114.1 29.5L114.1 30.6L113.4 30.7L113.3 29.6L113.6 29.2L113.5 28.3M115.8 31.3L117.6 31.2L117.4 32.1L115.8 31.5L115.8 31.3M122.4 32.8L124.1 33.0L122.7 33.1L122.4 32.8M127.7 33.1L129.1 32.7L128.5 33.3L127.7 33.1M140.4 46.6L141.1 46.6L140.4 46.6M149.7 83.6L150.7 83.8L150.1 84.1L149.7 83.6M85.4 86.6L86.6 86.9L85.4 86.6M114.9 20.6L115.9 20.5L115.7 21.1L114.9 20.6M119.3 19.9L119.7 19.3L119.6 19.7L119.3 19.9M185.1 38.4L185.5 38.0L185.1 38.4M196.1 27.4L197.6 26.8L198.5 26.4L199.8 25.7L201.0 24.7L201.9 23.9M8.4 21.7L6.9 22.1L4.8 22.7L3.0 22.9L1.2 23.0M212.1 22.3L213.6 22.6L215.4 22.9" fill="none" stroke="#161616" stroke-opacity="0.55" stroke-width="0.6" stroke-linejoin="round"/>
<path transform="translate(271.7 25.85)" d="M14.1 11.3L18.0 11.7L22.3 12.0L26.5 12.6L31.3 12.0L36.1 12.3L39.1 13.2L43.3 13.2L46.9 13.2L50.5 13.2L51.7 10.8L54.1 12.6L56.6 13.2L59.0 12.3L59.6 13.8L56.6 14.4L55.4 15.6L52.3 16.8L51.4 18.7L52.6 19.9L55.4 20.2L57.2 20.9L59.0 21.1L59.0 22.3L60.2 23.3L60.8 22.9L60.8 21.4L62.0 20.5L62.0 19.3L61.4 18.0L61.4 16.5L63.8 16.7L66.2 17.4L66.5 18.7L68.6 19.0L69.5 17.9L71.0 19.6L71.6 20.8L73.4 21.4L74.6 22.9L72.2 24.1L68.6 23.9L66.2 25.9L69.2 24.7L69.5 25.9L71.6 26.5L70.4 27.4L68.6 28.0L68.6 27.1L68.0 27.2L66.2 28.0L65.9 28.9L63.8 29.8L62.9 31.3L62.6 33.1L61.4 33.7L59.6 35.2L60.2 37.9L59.9 39.0L59.0 38.2L58.5 36.7L57.8 36.1L56.6 35.9L54.5 36.0L54.1 36.7L51.7 36.4L49.9 37.6L49.6 39.1L49.5 40.7L50.5 42.7L51.7 43.2L53.5 42.9L53.8 41.5L56.0 41.2L55.7 43.0L55.1 44.5L56.6 44.5L58.2 45.1L58.1 47.5L59.0 48.7L60.2 48.6L61.7 49.0L61.7 49.6L60.2 49.8L59.6 49.3L58.4 49.0L56.7 48.1L55.7 46.3L53.5 45.7L51.7 44.5L49.9 44.6L47.5 43.7L44.8 42.1L44.8 40.6L43.3 39.1L42.1 37.6L40.6 36.1L39.3 35.1L39.4 36.1L40.9 37.9L41.8 39.4L42.4 40.3L40.9 39.1L39.4 37.3L38.8 36.1L37.9 34.6L37.0 33.7L35.8 33.4L34.9 32.2L34.6 31.3L33.7 29.9L33.5 28.3L33.7 26.4L33.3 25.0L34.6 25.6L34.3 24.7L33.1 24.1L31.6 23.2L30.1 21.4L28.3 20.2L26.8 19.0L25.3 18.4L23.5 18.0L21.1 17.7L19.3 17.6L18.0 18.4L16.8 17.6L15.6 19.0L13.2 20.2L10.8 21.1L9.3 21.2L11.4 20.5L13.2 19.0L10.8 18.7L9.0 17.4L8.4 16.2L11.4 15.5L9.0 15.3L7.2 14.7L10.2 14.1L9.0 13.1L10.8 12.0L14.1 11.3M34.0 25.0L32.8 24.8L31.1 23.6L32.8 23.9L34.0 25.0M72.7 25.5L74.6 26.0L76.4 26.1L76.5 25.3L75.8 24.4L74.7 23.2L73.7 23.8L72.7 25.5M68.6 16.8L67.4 15.8L69.5 16.2L69.8 15.0L67.7 14.3L71.3 14.0L69.2 13.2L67.4 12.0L65.0 11.1L61.4 10.3L59.6 9.8L56.6 9.7L54.1 9.9L54.8 11.4L57.2 12.0L60.8 12.0L63.2 13.1L64.4 13.8L64.4 14.7L61.1 15.2L63.8 15.4L65.6 16.4L68.6 16.8M37.3 11.4L38.5 12.5L40.9 12.9L45.1 12.8L47.2 12.3L45.7 11.4L45.1 10.3L43.3 10.0L40.9 10.5L39.1 10.0L37.0 10.5L37.3 11.4M33.1 10.8L34.3 11.4L36.4 11.0L37.6 9.9L35.5 9.3L33.4 9.7L33.1 10.8M37.9 8.8L42.1 9.3L44.5 8.9L42.7 8.1L39.1 8.2L37.9 8.8M46.9 10.8L49.9 10.8L49.3 9.7L47.2 9.9L46.9 10.8M50.8 10.7L53.8 10.4L53.8 9.6L51.1 9.6L50.8 10.7M52.9 9.2L60.2 9.2L60.2 8.6L55.4 8.1L52.9 8.4L52.9 9.2M55.4 8.1L61.4 8.2L63.2 6.9L67.4 5.7L71.0 4.6L66.2 4.2L59.0 4.3L52.9 5.1L56.0 6.0L55.4 7.2L55.4 8.1M51.1 6.3L55.4 7.0L56.0 5.7L52.3 5.2L51.1 6.3M56.0 15.6L57.8 16.2L59.6 15.8L59.9 15.3L57.8 14.4L56.0 15.3L56.0 15.6M48.1 8.7L49.9 8.7L48.7 8.1L46.9 8.4L48.1 8.7M48.7 12.6L50.5 12.8L50.5 12.2L49.0 12.2L48.7 12.6M64.4 7.1L67.4 8.4L72.2 8.4L74.6 10.2L75.8 12.0L77.6 12.3L76.1 13.8L77.0 15.6L78.8 17.1L81.8 18.0L82.7 16.8L84.2 15.0L86.0 14.6L89.0 13.2L93.3 12.6L95.1 11.7L95.1 10.2L96.9 8.7L96.3 7.2L98.1 6.0L101.1 5.1L95.1 4.6L89.0 3.9L81.2 4.3L73.4 4.7L69.8 5.3L68.0 6.0L64.4 7.1M93.9 14.7L95.1 15.6L96.9 16.0L99.6 15.5L100.1 14.7L98.7 14.1L96.3 14.4L94.8 14.2L93.9 14.7M61.7 49.0L62.9 47.7L64.4 47.4L65.3 46.7L65.3 47.7L66.8 47.2L68.6 47.8L71.0 47.8L72.2 49.0L74.0 50.5L75.8 50.7L77.3 51.4L78.2 53.2L78.2 54.1L79.4 54.8L81.5 55.7L84.2 56.0L86.0 57.2L87.2 58.1L87.2 59.6L85.7 61.4L84.8 62.9L84.8 65.0L83.6 67.4L82.4 68.0L80.6 68.6L79.1 69.8L79.0 71.3L77.0 73.7L76.1 74.7L74.6 75.1L73.2 74.6L74.0 76.1L73.4 77.3L71.0 77.6L70.8 78.8L69.2 78.8L69.8 79.8L69.0 81.2L67.7 82.0L68.7 82.9L67.4 84.2L66.8 85.6L67.1 85.9L69.1 87.1L68.0 87.5L66.2 87.2L65.0 86.6L63.8 85.7L62.9 84.2L62.9 82.4L63.8 80.6L63.9 79.1L64.1 76.4L65.0 74.0L65.3 72.2L65.9 69.2L66.0 65.3L65.0 64.4L62.6 62.6L61.4 60.5L60.3 58.4L59.4 57.2L60.2 56.0L59.7 54.8L60.2 53.8L61.1 52.9L61.8 51.7L61.7 49.6M71.6 85.1L73.4 85.1L72.8 85.6L71.6 85.1M127.9 36.1L128.8 37.9L129.7 39.7L130.6 41.2L130.9 43.0L132.1 44.8L134.1 46.5L134.4 47.2L136.6 47.4L139.1 47.0L138.9 48.7L137.2 51.4L134.8 53.5L133.3 55.2L132.1 56.9L131.8 58.4L132.4 60.5L132.8 62.9L130.6 64.7L129.4 66.2L129.7 68.6L128.2 69.7L128.0 71.0L126.4 73.1L123.9 74.6L121.5 74.8L120.3 75.1L119.3 74.7L119.3 73.4L118.2 71.3L117.3 69.8L117.0 67.7L115.5 64.7L116.4 61.7L116.0 59.3L115.5 57.2L113.8 54.8L114.0 52.9L114.1 51.7L113.4 51.4L111.9 51.6L111.0 50.4L109.0 50.5L107.1 51.3L105.6 51.0L103.8 51.5L102.6 50.5L100.8 49.5L100.3 48.4L99.3 47.5L98.2 46.6L97.8 45.3L98.5 44.2L98.5 42.4L98.1 41.5L98.7 39.9L99.6 38.4L100.5 37.4L102.3 36.4L102.5 35.2L103.5 34.0L104.7 32.8L105.0 32.6L107.1 33.0L108.9 32.2L111.3 32.0L114.3 31.7L114.9 33.1L114.4 33.8L115.5 34.4L117.6 34.9L119.7 35.9L120.3 34.6L122.1 34.5L123.6 35.1L125.7 35.5L127.7 35.3L127.9 36.1M138.0 61.4L138.6 63.5L138.0 65.0L137.0 68.0L135.6 69.5L134.7 68.0L135.0 66.2L134.8 64.4L136.3 63.6L137.2 62.3L138.0 61.4M127.7 35.3L128.9 35.3L129.7 34.0L130.0 32.5L130.0 32.0L128.2 32.4L126.7 32.2L125.1 32.1L124.5 31.0L124.1 30.1L125.7 29.5L127.3 29.4L129.4 28.9L131.2 29.5L133.3 29.2L132.4 28.0L130.6 27.1L131.5 25.9L129.4 26.4L128.5 27.4L128.2 26.5L126.8 26.2L126.0 27.1L125.1 28.0L125.1 29.2L124.2 29.6L122.7 29.6L122.4 30.1L122.0 29.8L122.1 30.7L122.7 31.3L122.1 32.2L121.2 31.9L120.9 30.7L120.0 29.8L120.0 28.9L117.9 28.0L116.7 27.0L116.4 26.7L115.7 26.9L115.8 27.7L116.7 28.6L117.9 29.0L119.4 30.0L118.5 29.8L118.2 30.4L118.5 30.7L117.9 31.3L117.7 30.1L116.7 29.5L115.5 28.9L114.6 28.3L114.3 27.7L113.6 27.4L112.8 27.8L111.3 28.1L110.2 28.2L110.2 28.9L108.8 29.5L108.1 30.4L108.3 30.9L107.9 31.5L107.1 32.0L105.6 32.1L104.9 32.5L104.5 32.0L103.8 31.8L102.9 31.9L103.0 31.0L102.6 30.8L103.0 29.5L102.9 28.3L103.5 27.9L105.3 28.0L107.2 28.0L107.6 27.1L107.6 26.4L106.8 25.7L105.6 25.4L105.5 25.0L107.1 24.9L107.4 24.2L108.4 24.4L109.3 23.8L110.1 23.3L111.0 22.6L111.3 22.1L112.5 22.0L113.7 21.7L113.3 20.8L113.2 19.9L114.6 19.4L114.6 20.5L114.3 21.2L114.9 21.7L116.7 21.7L119.4 21.2L120.2 21.4L120.9 20.9L120.9 19.9L121.5 19.4L122.9 19.7L122.4 18.7L125.1 18.3L126.4 18.0L124.5 17.7L122.1 18.0L121.2 17.4L121.1 16.2L123.3 15.0L123.5 14.7L121.5 14.6L120.9 15.3L118.8 16.5L118.7 17.4L119.6 18.0L118.2 19.0L118.1 19.9L117.6 20.3L116.8 20.8L116.1 20.8L115.8 20.3L115.0 19.0L114.6 18.5L113.4 19.1L112.5 19.3L111.6 18.7L111.3 17.4L111.9 16.5L113.4 15.9L114.6 15.3L115.8 14.4L116.7 13.5L117.9 12.9L119.4 12.2L121.2 11.9L123.8 11.4L125.4 11.6L127.0 11.9L128.2 12.4L130.0 12.5L133.0 13.5L133.0 14.3L131.2 14.4L128.8 14.0L129.1 15.0L129.4 15.5L130.9 15.6L132.7 15.3L132.4 14.4L133.9 14.1L134.8 14.4L134.9 13.1L136.0 13.1L136.1 14.0L137.8 13.2L140.5 12.9L142.6 12.9L144.7 12.2L146.8 12.5L148.6 12.8L148.6 11.1L149.8 10.2L151.9 10.3L152.0 12.0L152.7 13.8L152.5 12.6L153.4 10.8L155.2 10.7L156.7 9.9L160.3 9.6L160.6 9.0L164.3 8.4L167.3 8.3L171.1 7.4L172.1 8.1L175.7 8.1L176.6 9.6L174.5 9.7L176.9 9.9L179.9 10.2L182.9 9.8L184.7 10.5L186.2 11.4L187.1 11.6L188.3 11.1L191.0 11.2L192.5 10.6L196.1 10.6L198.5 11.1L200.4 11.6L204.0 12.0L204.6 12.3L207.3 12.3L209.7 12.0L210.9 12.6L214.2 12.2L216.6 12.8M0.0 12.8L2.4 13.5L4.8 13.8L6.1 14.4L4.5 15.3L2.7 15.2L0.9 14.4L0.0 14.7M216.6 15.0L214.8 15.2L216.0 16.5L213.0 17.0L210.8 18.0L208.2 18.0L207.0 18.2L206.4 19.3L206.1 20.5L205.6 21.1L204.6 22.1L203.7 22.4L202.6 23.5L202.0 22.3L202.0 20.5L202.8 19.4L204.3 18.4L206.4 17.1L207.0 16.5L204.6 17.0L202.5 17.1L201.6 18.5L199.8 18.7L197.3 18.4L194.3 18.5L192.5 19.6L191.0 21.1L189.8 21.3L191.3 21.8L193.3 22.1L192.8 23.5L192.7 25.0L191.6 26.2L189.8 27.7L188.3 28.4L187.1 28.6L186.3 29.2L185.0 30.2L186.2 31.9L186.1 32.9L184.4 33.5L184.4 31.9L183.5 31.3L183.7 30.4L183.1 30.1L181.5 30.7L181.7 29.8L181.1 29.5L179.6 30.7L179.1 31.0L179.9 31.7L181.1 31.5L182.0 31.9L180.1 33.1L181.0 34.5L181.6 35.5L181.5 36.4L180.8 37.6L180.2 38.8L179.0 39.7L178.1 40.3L176.9 40.7L175.1 41.2L174.4 41.9L174.2 41.2L173.3 41.2L172.4 42.1L172.0 42.7L172.7 43.9L173.9 44.9L174.1 46.6L173.0 47.8L172.5 48.4L171.5 48.9L171.5 48.0L170.3 47.5L169.1 46.4L168.8 46.0L168.5 47.2L168.0 48.6L168.6 49.3L169.4 50.1L170.5 51.4L170.6 53.2L170.9 53.4L169.3 52.5L168.7 50.8L167.9 49.3L167.4 49.3L167.6 47.8L167.3 46.0L167.0 44.5L166.4 44.2L165.6 44.6L165.0 44.2L164.9 42.4L163.8 41.5L163.5 40.6L162.8 40.8L161.8 41.0L160.6 41.3L160.5 42.1L159.4 42.4L157.8 43.9L156.6 44.8L156.6 46.2L156.3 48.0L155.8 48.6L155.2 49.0L154.9 49.3L154.2 48.4L153.4 46.6L152.5 44.5L152.1 42.7L152.0 41.5L151.7 41.0L150.6 41.6L149.8 40.7L150.6 40.3L149.4 40.0L148.6 39.2L146.8 39.0L145.3 39.0L142.8 38.7L142.3 37.9L140.8 38.1L139.6 37.5L138.7 36.4L137.8 35.9L137.2 36.2L137.7 37.4L138.5 38.2L138.9 39.1L139.3 38.5L139.3 39.4L140.8 39.6L142.0 38.4L142.4 39.4L143.6 40.0L144.3 40.6L143.5 41.8L143.0 42.7L141.6 43.7L139.7 44.6L137.7 45.7L135.4 46.4L134.5 46.5L134.1 45.2L133.9 44.0L132.7 42.2L131.8 41.2L130.7 39.4L129.5 37.3L129.4 36.4L128.9 37.3L128.2 36.7L127.9 36.1M136.6 27.1L138.1 26.2L140.2 26.0L140.2 27.1L139.0 27.4L138.6 28.3L139.9 28.6L140.2 29.8L140.5 30.7L140.8 31.9L139.0 32.1L137.8 31.6L137.8 30.7L138.1 29.8L136.9 28.3L136.6 27.1M143.5 26.2L145.0 26.5L145.0 27.4L143.5 27.9L143.5 26.2M104.9 24.1L106.2 23.9L107.7 23.6L109.1 23.3L108.6 23.2L109.3 22.4L108.4 22.3L108.2 21.7L107.4 21.1L107.1 20.5L106.5 20.5L107.1 19.4L105.9 19.4L106.5 18.9L105.3 18.9L104.8 19.6L105.0 20.5L105.4 21.1L106.5 21.1L106.2 21.5L106.5 22.0L105.6 22.1L105.8 22.6L105.2 23.0L106.4 23.2L105.8 23.3L104.9 24.1M102.3 23.1L103.5 23.0L104.5 22.7L104.7 22.0L105.0 21.4L104.4 20.9L103.3 20.9L103.2 21.4L102.3 21.5L102.6 22.1L102.1 22.7L102.3 23.1M139.3 11.1L140.5 11.6L142.9 11.6L141.7 10.5L142.0 9.6L144.4 8.5L148.0 8.0L149.5 7.9L145.6 8.3L142.6 9.0L141.4 10.0L140.2 10.5L139.3 11.1M114.9 6.3L116.7 7.5L118.5 8.1L119.7 7.2L120.9 6.9L124.5 6.0L120.3 5.7L117.9 6.0L114.9 6.3M165.5 6.6L168.5 7.2L171.5 6.9L168.5 6.0L165.5 5.4L165.5 6.6M190.7 8.7L194.3 9.0L198.5 8.9L196.1 8.4L191.9 8.3L190.7 8.7M136.6 5.7L141.4 6.0L145.6 5.5L143.2 5.1L138.4 5.4L136.6 5.7M193.7 21.5L194.3 22.3L194.5 24.1L195.2 24.7L194.3 25.9L194.6 26.5L193.7 26.5L193.7 25.3L193.7 23.5L193.7 21.5M192.5 29.2L193.4 28.6L194.5 28.9L195.8 28.1L195.1 27.7L193.6 26.8L193.4 28.0L192.5 28.4L192.5 29.2M193.3 29.3L193.7 30.4L193.1 31.4L193.0 32.7L192.4 33.1L191.8 33.3L190.7 33.3L190.0 34.0L189.5 33.4L188.3 33.5L187.1 33.7L187.5 34.3L187.3 35.3L186.8 35.4L186.5 34.6L186.3 34.1L187.1 33.7L187.1 33.5L188.0 32.9L188.9 32.7L190.1 32.7L190.6 31.8L190.9 32.0L191.8 31.5L192.4 30.4L192.5 29.7L193.3 29.3M187.9 34.1L188.3 34.4L189.1 34.1L189.3 33.6L188.6 33.6L187.9 34.1M181.1 39.0L181.7 39.1L181.1 40.9L180.6 40.3L181.1 39.0M173.7 42.5L174.5 42.1L175.1 42.3L174.5 43.1L173.7 43.0L173.7 42.5M156.4 48.3L157.2 49.0L157.5 49.9L156.9 50.5L156.3 49.9L156.4 48.3M180.8 43.0L181.8 43.0L181.7 44.2L181.4 45.1L182.0 45.7L182.9 46.3L182.0 46.0L181.1 45.9L180.7 45.2L180.5 44.5L180.8 43.0M181.7 49.9L182.6 49.0L183.8 48.3L184.4 49.6L183.8 50.5L182.9 50.4L182.6 49.6L181.7 49.9M183.2 46.6L183.8 47.5L183.5 48.1L183.2 47.5L183.2 46.6M181.7 47.2L182.4 47.5L182.4 48.6L182.0 48.3L181.7 47.2M178.8 49.0L180.2 47.8L180.1 47.4L178.8 49.0M173.9 53.2L174.5 53.1L175.3 52.5L176.3 52.2L177.2 51.3L178.1 50.1L178.8 49.9L179.9 51.0L179.3 51.6L179.2 52.9L179.9 53.5L179.0 54.6L178.4 55.7L178.1 56.6L177.2 56.6L176.3 56.1L175.4 56.1L174.6 55.8L174.2 54.6L173.9 53.8L173.9 53.2M165.6 50.8L167.0 51.0L168.6 52.6L170.3 53.8L171.2 55.1L172.1 56.0L172.0 57.6L171.2 57.6L169.9 56.6L168.8 55.1L167.7 53.2L166.7 52.2L165.6 50.8M171.7 58.1L172.6 57.8L173.6 58.1L175.1 58.1L176.3 58.4L177.2 58.8L177.1 59.4L175.1 59.1L173.3 58.8L172.4 58.5L171.7 58.1M177.5 59.1L178.7 59.1L179.9 59.2L182.2 59.1L182.2 59.4L179.9 59.4L178.1 59.5L177.5 59.1M182.6 60.3L183.5 59.6L184.8 59.2L183.5 60.0L182.6 60.3M180.4 53.7L181.0 53.4L182.3 53.5L183.5 53.2L183.1 53.9L181.1 53.8L180.6 54.6L181.4 54.7L182.5 54.6L181.7 55.2L181.5 55.8L182.0 56.3L182.3 56.9L182.0 57.5L181.4 57.0L181.0 55.8L180.7 56.3L180.7 57.5L180.2 57.5L180.1 56.3L179.8 55.8L180.3 54.5L180.4 53.7M185.1 52.9L185.7 53.4L185.3 54.6L185.1 53.8L185.1 52.9M185.3 56.0L187.0 56.1L185.9 56.2L185.3 56.0M187.1 54.6L188.0 54.4L188.9 54.6L189.0 55.7L189.5 56.1L190.7 55.1L191.6 55.2L193.1 55.7L195.2 56.4L196.0 57.3L197.0 57.8L197.2 58.4L197.3 59.3L198.9 60.4L198.5 60.5L197.0 60.2L196.1 59.3L195.2 58.8L194.6 59.3L194.0 59.7L193.1 59.6L191.9 59.0L191.3 59.1L191.2 58.5L191.8 58.2L191.3 57.5L189.8 56.8L188.6 56.4L188.2 56.6L187.7 55.9L188.8 55.5L187.8 55.5L187.1 55.0L187.1 54.6M197.5 57.6L198.5 57.5L199.9 56.7L199.8 57.3L198.9 57.9L197.5 57.6M194.0 60.6L194.6 62.9L195.7 63.2L196.1 65.3L197.9 67.1L199.0 68.3L200.4 69.5L200.7 71.3L200.1 73.7L199.2 74.7L198.5 76.6L197.0 77.0L196.3 77.6L195.2 77.1L194.0 77.3L192.8 77.0L192.2 75.8L191.5 75.5L191.2 75.3L191.2 74.0L190.1 75.2L189.7 74.9L188.9 73.9L187.4 73.1L185.6 73.4L184.1 73.6L182.9 74.0L182.6 74.6L180.5 74.6L179.3 75.2L177.6 74.8L177.9 73.1L177.2 71.6L176.7 69.8L176.6 68.6L177.0 67.4L178.4 66.5L179.9 66.2L181.4 65.6L181.9 64.4L182.7 64.0L183.8 62.9L184.7 62.6L185.6 63.1L186.3 63.1L186.8 61.7L188.0 61.1L189.5 61.5L190.6 61.4L190.1 62.3L189.8 63.2L191.0 63.8L192.2 64.7L193.1 64.6L193.5 63.2L193.6 61.7L194.0 60.6M195.4 78.6L196.4 78.9L197.5 78.8L197.5 79.5L197.0 80.2L196.1 80.3L195.7 79.6L195.4 78.6M212.2 74.9L213.3 76.1L214.1 76.4L214.8 77.0L215.7 76.8L215.3 77.8L214.8 77.9L214.5 78.7L213.8 79.2L213.5 78.7L213.5 78.1L212.9 77.8L213.4 77.3L213.4 76.4L212.4 75.2L212.2 74.9M212.2 78.5L213.1 79.0L213.0 79.4L212.3 80.3L211.4 80.8L211.2 81.7L210.3 82.1L209.6 82.2L208.5 81.8L209.1 81.1L209.7 80.6L211.1 79.9L211.8 78.8L212.2 78.5M207.0 66.3L208.8 67.6L207.6 67.0L207.0 66.3M57.2 41.0L58.4 40.3L59.9 40.3L62.0 41.2L63.7 42.0L61.7 42.2L61.4 41.8L60.2 41.1L59.0 40.6L57.8 41.0L57.2 41.0M63.5 42.2L65.0 42.2L66.3 42.5L67.1 43.0L66.2 43.1L65.3 43.5L64.7 43.2L63.5 43.1L64.6 43.0L64.1 42.3L63.5 42.2M61.2 43.1L62.4 43.3L61.9 43.4L61.2 43.1M67.9 43.0L68.8 43.1L67.9 43.3L67.9 43.0M52.9 26.1L55.4 25.0L57.2 25.4L57.5 26.2L56.0 26.2L54.1 26.1L52.9 26.1M55.5 28.9L56.4 28.9L56.4 27.7L57.2 26.6L56.0 26.7L55.5 27.7L55.5 28.9M57.5 26.5L59.3 26.5L60.2 27.2L59.1 28.2L58.7 28.1L58.1 27.4L58.2 27.0L57.5 26.5M58.2 29.1L59.6 29.1L60.8 28.5L59.9 28.5L58.7 28.8L58.2 29.1M60.3 28.1L62.0 28.1L62.4 27.7L61.4 27.7L60.3 28.1M48.7 22.0L49.9 23.8L50.4 23.5L49.6 21.8L48.7 22.0M37.9 17.4L39.7 17.4L42.1 16.5L40.9 16.4L39.1 16.9L37.9 17.4M33.1 14.3L34.9 15.0L37.3 14.4L36.7 13.8L34.3 13.8L33.1 14.3M41.2 18.8L43.3 18.5L45.1 18.5L43.3 18.7L41.2 18.8M170.8 23.2L171.8 23.0L173.3 22.1L174.4 20.8L173.9 20.6L172.7 22.0L171.5 22.7L170.8 23.2M127.4 54.0L128.8 54.0L128.8 55.4L127.6 55.8L127.4 54.8L127.4 54.0M125.9 56.2L126.2 57.5L127.0 59.3L126.6 59.1L125.9 57.5L125.9 56.2M128.8 59.9L129.2 61.1L129.5 62.8L129.1 62.6L128.9 61.1L128.8 59.9M126.5 18.0L128.0 17.9L127.9 17.1L126.7 17.3L126.5 18.0M129.1 17.4L130.1 17.3L129.7 16.5L129.1 16.8L129.1 17.4M152.5 26.8L153.4 26.1L155.8 26.3L155.2 26.7L153.4 27.1L152.5 26.8M66.2 63.4L66.8 63.9L66.5 64.0L66.2 63.4M14.4 42.0L15.0 42.2L14.7 42.7L14.4 42.4L14.4 42.0M15.3 19.6L16.7 19.3L16.5 19.7L15.6 20.0L15.3 19.6M61.7 13.7L62.9 13.7L62.6 13.1L61.7 13.7M113.5 28.3L114.0 28.5L114.1 29.5L114.1 30.6L113.4 30.7L113.3 29.6L113.6 29.2L113.5 28.3M115.8 31.3L117.6 31.2L117.4 32.1L115.8 31.5L115.8 31.3M122.4 32.8L124.1 33.0L122.7 33.1L122.4 32.8M127.7 33.1L129.1 32.7L128.5 33.3L127.7 33.1M140.4 46.6L141.1 46.6L140.4 46.6M149.7 83.6L150.7 83.8L150.1 84.1L149.7 83.6M85.4 86.6L86.6 86.9L85.4 86.6M114.9 20.6L115.9 20.5L115.7 21.1L114.9 20.6M119.3 19.9L119.7 19.3L119.6 19.7L119.3 19.9M185.1 38.4L185.5 38.0L185.1 38.4M196.1 27.4L197.6 26.8L198.5 26.4L199.8 25.7L201.0 24.7L201.9 23.9M8.4 21.7L6.9 22.1L4.8 22.7L3.0 22.9L1.2 23.0M212.1 22.3L213.6 22.6L215.4 22.9" fill="none" stroke="#111" stroke-opacity="0.75" stroke-width="0.75" stroke-dasharray="0.8 2.9 1.4 3.7 0.6 2.2"/>
<path transform="translate(271.7 25.85)" d="M68.6 16.8L67.4 15.8L69.5 16.2L69.8 15.0L67.7 14.3L71.3 14.0L69.2 13.2L67.4 12.0L65.0 11.1L61.4 10.3L59.6 9.8L56.6 9.7L54.1 9.9L54.8 11.4L57.2 12.0L60.8 12.0L63.2 13.1L64.4 13.8L64.4 14.7L61.1 15.2L63.8 15.4L65.6 16.4L68.6 16.8M37.3 11.4L38.5 12.5L40.9 12.9L45.1 12.8L47.2 12.3L45.7 11.4L45.1 10.3L43.3 10.0L40.9 10.5L39.1 10.0L37.0 10.5L37.3 11.4M33.1 10.8L34.3 11.4L36.4 11.0L37.6 9.9L35.5 9.3L33.4 9.7L33.1 10.8M37.9 8.8L42.1 9.3L44.5 8.9L42.7 8.1L39.1 8.2L37.9 8.8M46.9 10.8L49.9 10.8L49.3 9.7L47.2 9.9L46.9 10.8M50.8 10.7L53.8 10.4L53.8 9.6L51.1 9.6L50.8 10.7M52.9 9.2L60.2 9.2L60.2 8.6L55.4 8.1L52.9 8.4L52.9 9.2M55.4 8.1L61.4 8.2L63.2 6.9L67.4 5.7L71.0 4.6L66.2 4.2L59.0 4.3L52.9 5.1L56.0 6.0L55.4 7.2L55.4 8.1M51.1 6.3L55.4 7.0L56.0 5.7L52.3 5.2L51.1 6.3M56.0 15.6L57.8 16.2L59.6 15.8L59.9 15.3L57.8 14.4L56.0 15.3L56.0 15.6M48.1 8.7L49.9 8.7L48.7 8.1L46.9 8.4L48.1 8.7M48.7 12.6L50.5 12.8L50.5 12.2L49.0 12.2L48.7 12.6M93.9 14.7L95.1 15.6L96.9 16.0L99.6 15.5L100.1 14.7L98.7 14.1L96.3 14.4L94.8 14.2L93.9 14.7M71.6 85.1L73.4 85.1L72.8 85.6L71.6 85.1M139.3 11.1L140.5 11.6L142.9 11.6L141.7 10.5L142.0 9.6L144.4 8.5L148.0 8.0L149.5 7.9L145.6 8.3L142.6 9.0L141.4 10.0L140.2 10.5L139.3 11.1M114.9 6.3L116.7 7.5L118.5 8.1L119.7 7.2L120.9 6.9L124.5 6.0L120.3 5.7L117.9 6.0L114.9 6.3M192.5 29.2L193.4 28.6L194.5 28.9L195.8 28.1L195.1 27.7L193.6 26.8L193.4 28.0L192.5 28.4L192.5 29.2M187.9 34.1L188.3 34.4L189.1 34.1L189.3 33.6L188.6 33.6L187.9 34.1M180.8 43.0L181.8 43.0L181.7 44.2L181.4 45.1L182.0 45.7L182.9 46.3L182.0 46.0L181.1 45.9L180.7 45.2L180.5 44.5L180.8 43.0M181.7 49.9L182.6 49.0L183.8 48.3L184.4 49.6L183.8 50.5L182.9 50.4L182.6 49.6L181.7 49.9M180.4 53.7L181.0 53.4L182.3 53.5L183.5 53.2L183.1 53.9L181.1 53.8L180.6 54.6L181.4 54.7L182.5 54.6L181.7 55.2L181.5 55.8L182.0 56.3L182.3 56.9L182.0 57.5L181.4 57.0L181.0 55.8L180.7 56.3L180.7 57.5L180.2 57.5L180.1 56.3L179.8 55.8L180.3 54.5L180.4 53.7M185.1 52.9L185.7 53.4L185.3 54.6L185.1 53.8L185.1 52.9M197.5 57.6L198.5 57.5L199.9 56.7L199.8 57.3L198.9 57.9L197.5 57.6" fill="none" stroke="#111" stroke-opacity="0.55" stroke-width="0.6" stroke-linejoin="round"/>
<path transform="translate(271.7 25.85)" d="M63.8 96.9L67.4 95.7L68.6 94.2L70.4 93.1L73.7 92.2L71.9 93.0L70.7 94.0" fill="none" stroke="#111" stroke-opacity="0.8" stroke-width="1.1" stroke-dasharray="2 0.9 1.2 0.7"/>
<path transform="translate(271.7 25.85)" d="M65.3 72.2L65.0 74.0L64.1 76.4L63.9 79.1L63.5 81.2L63.0 83.0L63.2 84.8L64.1 86.0L65.6 86.8L67.1 87.4L68.6 87.2M63.8 84.2L64.7 85.7L66.2 86.3L67.1 85.9M65.9 86.9L68.0 86.8M18.0 17.6L20.5 17.7L23.5 18.1L25.9 19.0L27.7 20.2L29.5 21.4L30.7 22.6M75.5 11.7L75.9 13.8L76.8 15.3L78.2 16.8M95.1 11.7L92.1 12.9L88.4 13.5L85.4 14.7L83.6 15.6M111.4 18.4L111.5 17.1L112.5 16.4L114.6 15.5L116.1 14.1L117.6 13.1L119.7 12.2" fill="none" stroke="#111" stroke-opacity="0.75" stroke-width="1.0" stroke-linecap="round"/>
<path transform="translate(271.7 25.85)" d="M38.9 19.9l-0.2 0.2M42.8 18.2l0.8 0.1M33.8 17.7l0.4 0.1M40.8 14.6l0.5 0.1M44.4 13.6l-0.2 0.5M50.7 20.7l-0.5 0.2M35.7 20.1l0.6 0.6M36.4 16.5l-0.3 0.4M43.0 20.6l0.5 0.1M45.4 17.7l0.5 0.5M41.3 18.7l-0.8 0.4M37.5 16.6l-0.1 0.8M46.3 18.8l-0.4 0.0M40.6 15.1l0.7 0.3M33.8 15.8l-0.6 0.4M48.9 18.6l-0.5 0.5M43.6 17.5l-1.1 0.4M41.6 15.9l1.0 0.1M44.8 13.3l-0.5 0.2M40.1 15.8l0.8 0.0M36.1 20.1l1.0 0.1M35.4 19.1l0.4 0.8M34.5 17.5l-0.2 0.8M47.9 14.3l0.5 0.4M39.6 14.1l-0.4 0.0M36.3 19.2l0.6 0.4M43.7 19.0l0.7 0.0M39.8 16.6l-1.0 0.1M42.4 16.2l-0.2 0.2M49.3 15.0l-1.0 0.3M40.2 17.9l0.9 0.2M34.2 20.5l0.4 0.2M39.2 20.6l0.5 0.0M34.9 18.2l1.2 0.1M44.2 19.9l0.5 0.3M39.7 20.1l-1.2 0.4M41.5 17.3l0.4 0.1M39.3 19.0l-0.4 0.2M48.4 20.1l-0.0 0.3M54.7 25.1l-0.1 0.9M58.5 21.5l0.5 0.3M50.1 21.1l-0.1 0.8M52.1 24.1l-1.1 0.5M58.4 20.9l-0.9 0.4M50.9 22.5l0.1 0.2M48.5 23.8l0.7 0.5M59.6 22.8l-1.3 0.2M59.6 23.3l0.4 0.2M50.5 24.2l-0.5 0.8M58.2 22.7l-0.5 0.7M61.1 20.1l-1.0 0.2M68.3 21.2l0.9 0.4M63.8 19.2l-0.7 0.0M64.5 18.4l-0.3 0.3M61.5 23.2l-1.1 0.2M61.7 19.1l-1.0 0.0M64.0 20.8l0.3 0.1M70.7 20.2l-0.1 0.9M64.9 18.8l-0.4 0.2M62.9 22.3l0.6 0.4M63.0 21.5l1.1 0.3M64.0 21.3l-0.3 0.8M64.7 18.5l-0.0 0.6M65.8 24.0l0.1 0.3M60.2 19.3l0.7 0.3M68.0 20.7l0.4 0.5M32.1 14.5l0.8 0.2M29.3 17.6l-0.6 0.4M32.1 14.7l-0.7 0.1M32.6 16.2l-0.0 0.7M31.2 16.0l0.1 0.9M33.4 14.0l-0.6 0.1M32.1 13.6l-0.4 0.1M28.2 16.6l0.5 0.1M35.9 9.2l-0.9 0.5M38.9 8.9l-0.2 0.3M66.6 7.4l1.0 0.6M48.2 10.3l-1.1 0.0M39.2 10.6l-0.0 0.4M40.5 11.3l-0.2 0.2M54.1 10.6l0.6 0.0M56.7 10.2l1.3 0.2M63.0 7.4l0.5 0.1M34.6 8.5l0.3 0.2M49.1 7.8l-0.5 0.2M38.8 7.7l-0.2 0.7M36.5 12.9l-0.4 0.4M35.8 7.6l-0.5 0.7M36.3 8.1l1.1 0.2M50.3 11.2l-0.2 0.8M43.2 12.5l-0.0 0.4M37.2 12.3l0.5 0.1M44.9 11.4l-0.4 0.3M52.0 12.2l0.1 0.2M42.6 13.1l-0.6 0.4M40.3 10.4l-0.4 0.1M64.1 10.6l0.0 0.8M48.0 10.2l-0.7 0.7M46.1 8.2l-0.6 0.5M48.4 11.1l0.4 0.1M35.8 8.8l0.3 0.2M36.3 8.2l-0.9 0.3M43.8 11.8l0.5 0.4M39.1 10.6l0.9 0.6M70.0 9.9l0.9 0.6M44.8 11.1l0.7 0.0M51.1 10.2l0.6 0.3M33.3 11.6l0.7 0.1M49.1 8.3l0.3 0.3M61.5 6.2l-0.7 0.5M64.5 4.7l0.2 0.4M70.6 7.8l-0.6 0.5M49.1 4.9l-0.9 0.2M64.9 5.0l0.7 0.2M59.7 4.9l-0.9 0.5M61.5 4.7l-0.5 0.6M53.4 8.3l0.6 0.2M50.5 4.9l-0.2 0.6M60.6 13.6l0.0 0.2M63.1 13.2l-0.0 0.6M61.1 16.5l-0.4 0.3M52.3 15.6l-0.3 0.3M62.3 12.2l0.0 0.5M58.3 13.6l-0.7 0.4M60.8 16.5l0.5 0.2M62.3 15.4l-0.1 0.2M52.1 15.6l-0.5 0.6M61.3 15.4l-0.0 0.5M124.3 17.6l-0.5 0.1M127.4 14.1l0.8 0.0M126.5 14.0l0.1 0.4M122.8 14.1l0.7 0.4M122.4 15.8l-0.4 0.0M126.5 15.9l-0.9 0.2M122.9 14.3l0.0 0.2M121.6 16.0l0.1 0.4M128.9 16.4l0.6 0.7M126.4 14.4l-0.4 0.1M143.1 14.6l-0.6 0.1M133.1 16.2l-0.9 0.0M132.9 16.0l0.2 0.2M128.2 14.0l0.8 0.7M151.9 12.0l-0.0 0.3M155.6 8.6l-1.0 0.3M163.4 8.8l-0.8 0.1M166.0 13.0l-0.5 0.4M167.0 10.1l0.2 0.2M172.3 12.6l0.1 0.4M153.4 9.7l-0.6 0.0M164.1 11.8l-0.1 0.5M149.4 12.5l1.0 0.5M159.4 12.2l-1.2 0.3M187.4 17.0l0.3 0.2M182.9 17.4l0.4 0.3M192.5 11.6l-0.5 0.4M185.9 14.3l0.2 0.4M171.1 16.0l-0.4 0.0M189.7 13.5l-0.5 0.2M179.9 16.3l0.2 0.5M208.6 11.9l-0.3 0.1M169.8 12.9l-0.7 0.2M193.2 18.0l0.4 0.8M192.8 44.7l-0.5 0.0M169.1 57.4l-0.1 0.7M196.6 47.1l-0.5 0.7M180.6 50.2l1.1 0.1M173.2 43.6l-0.3 0.4M169.7 55.6l-0.4 0.6M169.2 58.9l-0.1 0.6M178.3 56.1l-0.1 0.2M175.4 51.9l-0.9 0.1M194.7 51.6l0.4 0.3M197.2 47.4l0.2 0.2M181.9 48.0l0.1 0.4M187.5 43.5l0.3 0.2M176.6 52.6l-0.3 0.3M191.8 46.8l-0.0 0.4M197.6 54.5l-0.4 0.2M172.8 46.4l0.8 0.7M181.9 56.8l0.5 0.3M187.5 43.0l0.6 0.2M172.5 42.6l0.3 0.1M167.4 53.1l-1.1 0.3M189.7 42.2l-0.6 0.1M171.6 43.3l-0.2 0.2M187.4 53.3l0.2 0.4M171.1 60.1l0.4 0.4M197.1 57.9l-0.5 0.0M177.3 45.3l-0.6 0.3M167.1 51.6l0.5 0.8M171.8 53.6l-0.3 0.1M179.1 45.5l-0.3 0.2M199.2 67.9l-0.5 0.1M212.0 50.3l0.3 0.4M215.8 56.2l0.7 0.5M204.3 63.4l1.1 0.0M215.1 55.8l-0.3 0.0M202.8 59.2l-1.2 0.1M205.5 63.9l0.2 0.5M215.3 65.3l-0.8 0.4M24.8 45.9l-0.2 0.4M9.6 58.3l-0.3 0.2M5.9 46.5l0.3 0.2M1.0 52.6l0.7 0.8M26.6 39.5l0.3 0.2M2.9 54.2l-0.5 0.4M60.7 43.9l-0.4 0.6M68.4 39.5l-0.2 0.3M69.8 45.1l-0.1 0.5M68.3 46.1l0.4 0.3M59.5 39.1l-0.2 0.4M63.1 38.0l-0.0 0.4M69.3 41.5l-0.4 0.0M64.3 39.8l-1.1 0.4M57.8 45.1l0.5 0.1M125.0 31.0l-0.7 0.1M124.5 31.5l0.7 0.5M124.9 32.7l-0.3 0.6M121.4 31.8l0.5 0.2M121.6 30.9l-0.2 0.3M120.4 31.9l-0.3 0.3M121.8 32.4l-0.7 0.4M62.9 87.0l0.3 0.6M66.0 87.1l0.9 0.3M64.8 85.5l0.7 0.7M64.3 83.1l0.3 0.5M67.3 79.4l0.2 0.3M66.5 86.1l1.2 0.0M64.9 80.9l0.3 0.8M65.1 86.5l0.9 0.0M66.0 80.2l0.9 0.2M64.6 83.6l0.5 0.2M65.4 80.0l0.7 0.2M66.9 79.7l0.3 0.2M67.7 79.6l0.0 0.2M67.6 84.6l-0.9 0.2M67.0 86.5l-0.4 0.2M64.8 80.7l-0.4 0.2M63.8 84.5l-0.0 0.5M63.2 85.8l-0.8 0.6M103.7 19.4l-0.2 0.2M107.5 20.7l-0.3 0.6M106.5 20.1l0.2 0.6M105.5 19.1l0.1 0.5M114.6 6.6l0.0 0.4M123.5 6.1l0.1 0.3M120.0 8.1l0.7 0.2M115.4 7.1l-0.0 0.2M122.0 8.2l-0.7 0.6M120.5 8.3l-0.0 0.5M125.8 8.0l-1.2 0.4M144.2 5.1l1.1 0.5M141.3 4.9l-0.4 0.1M144.9 4.9l0.6 0.1M144.5 6.3l-0.5 0.1M145.2 6.4l-0.0 0.9M187.6 33.6l-0.0 0.4M185.7 34.3l1.1 0.4M192.7 27.5l0.9 0.4M186.6 31.0l-0.3 0.4M194.8 30.8l-0.3 0.8M186.4 26.5l-0.3 0.4M194.0 33.6l-0.9 0.0M189.2 28.7l0.1 0.3M15.7 21.5l-0.5 0.2M14.8 18.1l-0.3 0.7M11.8 21.7l0.4 0.0M14.6 20.1l-0.0 0.8M111.9 21.1l-0.1 0.2M111.3 20.8l0.6 0.2M112.3 20.3l-0.1 0.3M182.7 47.1l1.1 0.4M180.6 49.9l0.9 0.2M184.0 44.6l0.2 0.4M179.4 45.7l-0.1 0.4M182.8 47.4l-1.0 0.1M180.6 43.5l0.8 0.1M181.5 49.1l1.1 0.1M179.4 46.5l-0.4 0.1M111.6 18.9l-0.6 0.9M111.9 18.6l1.5 0.2M113.6 18.1l-1.2 0.4M114.2 17.4l0.5 0.3M113.8 17.1l-0.9 0.6M115.9 16.5l-0.2 0.7M116.3 16.1l-0.7 1.0M117.3 16.0l0.5 0.4M118.4 14.8l0.8 0.9M117.9 14.4l-0.5 0.8M119.9 14.1l-1.1 0.4M120.0 13.4l-0.2 0.6M120.6 13.6l-0.6 0.1M120.5 12.6l0.3 0.4M121.2 12.3l-0.5 0.8M122.4 11.7l0.6 0.9M19.2 18.4l-1.4 0.4M18.9 18.7l0.5 0.1M20.7 18.7l-1.0 0.4M20.1 19.3l-0.5 0.4M21.5 19.7l0.6 0.4M22.5 19.9l-1.0 0.1M23.7 20.5l0.3 0.7M24.1 20.4l-0.1 0.5M24.6 20.7l0.4 0.2M26.0 20.7l1.0 0.0M27.1 21.7l0.0 0.6M27.4 21.6l0.5 0.4M28.4 22.5l-0.2 0.4M29.6 22.4l-0.3 0.6M29.7 22.6l1.4 0.3M30.1 23.3l-1.0 0.2M76.2 11.8l0.1 0.8M76.4 12.3l0.4 0.5M76.7 12.7l-0.5 0.3M77.0 13.5l0.9 0.3M76.7 14.6l0.7 0.7M76.9 15.3l0.6 0.4M77.2 15.6l1.3 0.6M77.5 15.9l0.9 0.2M78.9 16.8l0.1 0.5M93.8 11.9l0.2 0.4M93.8 11.9l-0.0 0.8M91.5 12.4l0.4 0.9M90.2 13.0l-0.7 0.5M90.1 13.0l-1.0 0.6M88.1 13.8l0.1 0.6M86.2 14.3l-1.0 0.6M85.2 14.7l0.2 0.8M84.7 14.7l1.0 0.5M63.5 80.5l-0.5 0.0M63.4 80.8l-1.1 0.1M64.1 81.4l-0.7 0.6M64.9 82.4l0.4 1.0M64.9 83.0l-0.5 0.3M64.8 84.3l0.6 0.5M65.0 84.2l-0.5 0.5M65.0 84.8l-1.1 0.1M66.1 85.8l0.5 0.3M66.5 86.6l0.1 0.8M96.9 9.0l-0.6 0.9M96.2 7.9l-0.1 0.4M96.1 6.8l0.6 0.5M96.2 6.8l1.3 0.0M72.0 8.7l0.1 0.7M73.3 9.4l-1.4 0.2M73.9 9.4l-0.5 0.3M74.6 11.0l1.5 0.0" fill="none" stroke="#111" stroke-opacity="0.85" stroke-width="0.75" stroke-linecap="round"/>
<path transform="translate(271.7 25.85)" d="M0.0 101.3L9.0 101.3L13.2 100.5L18.0 100.2L21.1 99.6L27.1 99.0L33.1 98.4L39.1 98.7L43.3 99.3L48.1 98.1L54.1 98.1L60.2 98.3L63.2 97.5L67.4 95.7L68.6 93.9L71.0 93.0L73.7 92.2L72.2 93.0L71.0 93.9L69.2 95.1L71.6 97.5L72.2 99.3L78.2 100.8L84.2 101.1L87.2 100.8L91.5 99.9L96.3 98.4L101.1 97.2L105.3 96.6L108.3 96.0L114.3 96.3L120.3 96.3L126.4 95.7L129.4 95.7L132.4 95.4L135.4 94.8L138.4 94.2L141.4 93.9L144.4 94.6L149.2 94.9L150.4 95.4L152.2 96.0L155.2 95.1L159.4 94.2L165.5 93.9L168.5 93.6L174.5 93.9L180.5 94.2L186.5 93.9L192.5 94.2L198.5 95.1L204.6 96.3L207.6 96.9L210.6 97.5L210.6 98.7L207.6 99.9L207.6 101.1L210.6 101.1L216.6 101.3" fill="none" stroke="#1a1a1a" stroke-width="0.55" stroke-dasharray="3 1 1 1"/>
</g>
<path d="M298.5 25.85V134.15M325.5 25.85V134.15M352.5 25.85V134.15M380.5 25.85V134.15M407.5 25.85V134.15M434.5 25.85V134.15M461.5 25.85V134.15M271.7 52.5H488.30M271.7 80.5H488.30M271.7 107.5H488.30" stroke="#14140a" stroke-opacity="0.4" stroke-width="0.8" fill="none"/>
<path d="M271.7 25.85V134.15" stroke="#8c8c8c" stroke-width="1" fill="none"/>
<path d="M488.29999999999995 25.85V134.15" stroke="#aaa" stroke-width="1" fill="none"/>
<path d="M271.2 25.85H488.79999999999995" stroke="#666" stroke-width="1" fill="none"/>
<path d="M271.2 134.15H488.79999999999995" stroke="#7c7c7c" stroke-width="1" fill="none"/>
<text class="tk" transform="translate(272.5 140.8) scale(0.92 1)" text-anchor="middle">180°</text>
<text class="tk" transform="translate(299.6 140.8) scale(0.92 1)" text-anchor="middle">135°W</text>
<text class="tk" transform="translate(326.6 140.8) scale(0.92 1)" text-anchor="middle">90°W</text>
<text class="tk" transform="translate(353.7 140.8) scale(0.92 1)" text-anchor="middle">45°W</text>
<text class="tk" transform="translate(380.8 140.8) scale(0.92 1)" text-anchor="middle">0°</text>
<text class="tk" transform="translate(407.9 140.8) scale(0.92 1)" text-anchor="middle">45°E</text>
<text class="tk" transform="translate(434.9 140.8) scale(0.92 1)" text-anchor="middle">90°E</text>
<text class="tk" transform="translate(462.0 140.8) scale(0.92 1)" text-anchor="middle">135°E</text>
<text class="tk" transform="translate(489.1 140.8) scale(0.92 1)" text-anchor="middle">180°</text>
<text class="tk" transform="translate(269.7 54.9) scale(0.9 1)" text-anchor="end">45°N</text>
<text class="tk" transform="translate(269.7 82.0) scale(0.9 1)" text-anchor="end">0°</text>
<text class="tk" transform="translate(269.7 109.1) scale(0.9 1)" text-anchor="end">45°S</text>
<text class="tk" transform="translate(269.7 136.2) scale(0.9 1)" text-anchor="end">90°S</text>
<text class="tt" x="380.0" y="22.8" text-anchor="middle">Average_N2O_concentration_at_2.15_hPa</text>
<text class="lab" x="271.8" y="9.4">(b)</text>
</g>
<g id="panel-c">
<clipPath id="cpc"><rect x="18.2" y="188.3" width="216.6" height="108.3"/></clipPath>
<g clip-path="url(#cpc)">
<polygon points="18.2,188.0 234.8,188.0 234.8,296.6 18.2,296.6" fill="#fdfdf4"/>
<polygon points="18.2,193.0 234.8,193.0 234.8,296.6 18.2,296.6" fill="#f5f5dc"/>
<polygon points="18.2,206.0 37.7,210.0 57.2,213.0 72.3,214.0 169.8,213.5 191.5,212.0 213.1,209.0 226.1,206.0 234.8,204.0 234.8,296.6 18.2,296.6" fill="#e2e2fa"/>
<polygon points="18.2,224.0 234.8,224.0 234.8,296.6 18.2,296.6" fill="#eeccd8"/>
<polygon points="18.2,230.8 61.5,229.8 234.8,231.0 234.8,296.6 18.2,296.6" fill="#a4e0e0"/>
<polygon points="18.2,247.3 234.8,247.3 234.8,296.6 18.2,296.6" fill="#bccae0"/>
<polygon points="18.2,252.7 234.8,252.7 234.8,296.6 18.2,296.6" fill="#c8d8c4"/>
<polygon points="18.2,255.6 234.8,255.6 234.8,296.6 18.2,296.6" fill="#eeccd8"/>
<polygon points="18.2,262.0 234.8,262.0 234.8,296.6 18.2,296.6" fill="#e2e2fa"/>
<polygon points="18.2,276.0 37.7,275.0 57.2,272.6 76.7,271.0 96.2,270.0 126.5,270.5 165.5,272.0 191.5,274.0 213.1,275.0 234.8,276.0 234.8,296.6 18.2,296.6" fill="#f5f5dc"/>
<polygon points="18.2,292.4 126.5,291.0 234.8,291.0 234.8,296.6 18.2,296.6" fill="#fdfdf4"/>
<path transform="translate(18.2 188.3)" d="M14.1 11.3L18.0 11.7L22.3 12.0L26.5 12.6L31.3 12.0L36.1 12.3L39.1 13.2L43.3 13.2L46.9 13.2L50.5 13.2L51.7 10.8L54.1 12.6L56.6 13.2L59.0 12.3L59.6 13.8L56.6 14.4L55.4 15.6L52.3 16.8L51.4 18.7L52.6 19.9L55.4 20.2L57.2 20.9L59.0 21.1L59.0 22.3L60.2 23.3L60.8 22.9L60.8 21.4L62.0 20.5L62.0 19.3L61.4 18.0L61.4 16.5L63.8 16.7L66.2 17.4L66.5 18.7L68.6 19.0L69.5 17.9L71.0 19.6L71.6 20.8L73.4 21.4L74.6 22.9L72.2 24.1L68.6 23.9L66.2 25.9L69.2 24.7L69.5 25.9L71.6 26.5L70.4 27.4L68.6 28.0L68.6 27.1L68.0 27.2L66.2 28.0L65.9 28.9L63.8 29.8L62.9 31.3L62.6 33.1L61.4 33.7L59.6 35.2L60.2 37.9L59.9 39.0L59.0 38.2L58.5 36.7L57.8 36.1L56.6 35.9L54.5 36.0L54.1 36.7L51.7 36.4L49.9 37.6L49.6 39.1L49.5 40.7L50.5 42.7L51.7 43.2L53.5 42.9L53.8 41.5L56.0 41.2L55.7 43.0L55.1 44.5L56.6 44.5L58.2 45.1L58.1 47.5L59.0 48.7L60.2 48.6L61.7 49.0L61.7 49.6L60.2 49.8L59.6 49.3L58.4 49.0L56.7 48.1L55.7 46.3L53.5 45.7L51.7 44.5L49.9 44.6L47.5 43.7L44.8 42.1L44.8 40.6L43.3 39.1L42.1 37.6L40.6 36.1L39.3 35.1L39.4 36.1L40.9 37.9L41.8 39.4L42.4 40.3L40.9 39.1L39.4 37.3L38.8 36.1L37.9 34.6L37.0 33.7L35.8 33.4L34.9 32.2L34.6 31.3L33.7 29.9L33.5 28.3L33.7 26.4L33.3 25.0L34.6 25.6L34.3 24.7L33.1 24.1L31.6 23.2L30.1 21.4L28.3 20.2L26.8 19.0L25.3 18.4L23.5 18.0L21.1 17.7L19.3 17.6L18.0 18.4L16.8 17.6L15.6 19.0L13.2 20.2L10.8 21.1L9.3 21.2L11.4 20.5L13.2 19.0L10.8 18.7L9.0 17.4L8.4 16.2L11.4 15.5L9.0 15.3L7.2 14.7L10.2 14.1L9.0 13.1L10.8 12.0L14.1 11.3M34.0 25.0L32.8 24.8L31.1 23.6L32.8 23.9L34.0 25.0M72.7 25.5L74.6 26.0L76.4 26.1L76.5 25.3L75.8 24.4L74.7 23.2L73.7 23.8L72.7 25.5M68.6 16.8L67.4 15.8L69.5 16.2L69.8 15.0L67.7 14.3L71.3 14.0L69.2 13.2L67.4 12.0L65.0 11.1L61.4 10.3L59.6 9.8L56.6 9.7L54.1 9.9L54.8 11.4L57.2 12.0L60.8 12.0L63.2 13.1L64.4 13.8L64.4 14.7L61.1 15.2L63.8 15.4L65.6 16.4L68.6 16.8M37.3 11.4L38.5 12.5L40.9 12.9L45.1 12.8L47.2 12.3L45.7 11.4L45.1 10.3L43.3 10.0L40.9 10.5L39.1 10.0L37.0 10.5L37.3 11.4M33.1 10.8L34.3 11.4L36.4 11.0L37.6 9.9L35.5 9.3L33.4 9.7L33.1 10.8M37.9 8.8L42.1 9.3L44.5 8.9L42.7 8.1L39.1 8.2L37.9 8.8M46.9 10.8L49.9 10.8L49.3 9.7L47.2 9.9L46.9 10.8M50.8 10.7L53.8 10.4L53.8 9.6L51.1 9.6L50.8 10.7M52.9 9.2L60.2 9.2L60.2 8.6L55.4 8.1L52.9 8.4L52.9 9.2M55.4 8.1L61.4 8.2L63.2 6.9L67.4 5.7L71.0 4.6L66.2 4.2L59.0 4.3L52.9 5.1L56.0 6.0L55.4 7.2L55.4 8.1M51.1 6.3L55.4 7.0L56.0 5.7L52.3 5.2L51.1 6.3M56.0 15.6L57.8 16.2L59.6 15.8L59.9 15.3L57.8 14.4L56.0 15.3L56.0 15.6M48.1 8.7L49.9 8.7L48.7 8.1L46.9 8.4L48.1 8.7M48.7 12.6L50.5 12.8L50.5 12.2L49.0 12.2L48.7 12.6M64.4 7.1L67.4 8.4L72.2 8.4L74.6 10.2L75.8 12.0L77.6 12.3L76.1 13.8L77.0 15.6L78.8 17.1L81.8 18.0L82.7 16.8L84.2 15.0L86.0 14.6L89.0 13.2L93.3 12.6L95.1 11.7L95.1 10.2L96.9 8.7L96.3 7.2L98.1 6.0L101.1 5.1L95.1 4.6L89.0 3.9L81.2 4.3L73.4 4.7L69.8 5.3L68.0 6.0L64.4 7.1M93.9 14.7L95.1 15.6L96.9 16.0L99.6 15.5L100.1 14.7L98.7 14.1L96.3 14.4L94.8 14.2L93.9 14.7M61.7 49.0L62.9 47.7L64.4 47.4L65.3 46.7L65.3 47.7L66.8 47.2L68.6 47.8L71.0 47.8L72.2 49.0L74.0 50.5L75.8 50.7L77.3 51.4L78.2 53.2L78.2 54.1L79.4 54.8L81.5 55.7L84.2 56.0L86.0 57.2L87.2 58.1L87.2 59.6L85.7 61.4L84.8 62.9L84.8 65.0L83.6 67.4L82.4 68.0L80.6 68.6L79.1 69.8L79.0 71.3L77.0 73.7L76.1 74.7L74.6 75.1L73.2 74.6L74.0 76.1L73.4 77.3L71.0 77.6L70.8 78.8L69.2 78.8L69.8 79.8L69.0 81.2L67.7 82.0L68.7 82.9L67.4 84.2L66.8 85.6L67.1 85.9L69.1 87.1L68.0 87.5L66.2 87.2L65.0 86.6L63.8 85.7L62.9 84.2L62.9 82.4L63.8 80.6L63.9 79.1L64.1 76.4L65.0 74.0L65.3 72.2L65.9 69.2L66.0 65.3L65.0 64.4L62.6 62.6L61.4 60.5L60.3 58.4L59.4 57.2L60.2 56.0L59.7 54.8L60.2 53.8L61.1 52.9L61.8 51.7L61.7 49.6M71.6 85.1L73.4 85.1L72.8 85.6L71.6 85.1M127.9 36.1L128.8 37.9L129.7 39.7L130.6 41.2L130.9 43.0L132.1 44.8L134.1 46.5L134.4 47.2L136.6 47.4L139.1 47.0L138.9 48.7L137.2 51.4L134.8 53.5L133.3 55.2L132.1 56.9L131.8 58.4L132.4 60.5L132.8 62.9L130.6 64.7L129.4 66.2L129.7 68.6L128.2 69.7L128.0 71.0L126.4 73.1L123.9 74.6L121.5 74.8L120.3 75.1L119.3 74.7L119.3 73.4L118.2 71.3L117.3 69.8L117.0 67.7L115.5 64.7L116.4 61.7L116.0 59.3L115.5 57.2L113.8 54.8L114.0 52.9L114.1 51.7L113.4 51.4L111.9 51.6L111.0 50.4L109.0 50.5L107.1 51.3L105.6 51.0L103.8 51.5L102.6 50.5L100.8 49.5L100.3 48.4L99.3 47.5L98.2 46.6L97.8 45.3L98.5 44.2L98.5 42.4L98.1 41.5L98.7 39.9L99.6 38.4L100.5 37.4L102.3 36.4L102.5 35.2L103.5 34.0L104.7 32.8L105.0 32.6L107.1 33.0L108.9 32.2L111.3 32.0L114.3 31.7L114.9 33.1L114.4 33.8L115.5 34.4L117.6 34.9L119.7 35.9L120.3 34.6L122.1 34.5L123.6 35.1L125.7 35.5L127.7 35.3L127.9 36.1M138.0 61.4L138.6 63.5L138.0 65.0L137.0 68.0L135.6 69.5L134.7 68.0L135.0 66.2L134.8 64.4L136.3 63.6L137.2 62.3L138.0 61.4M127.7 35.3L128.9 35.3L129.7 34.0L130.0 32.5L130.0 32.0L128.2 32.4L126.7 32.2L125.1 32.1L124.5 31.0L124.1 30.1L125.7 29.5L127.3 29.4L129.4 28.9L131.2 29.5L133.3 29.2L132.4 28.0L130.6 27.1L131.5 25.9L129.4 26.4L128.5 27.4L128.2 26.5L126.8 26.2L126.0 27.1L125.1 28.0L125.1 29.2L124.2 29.6L122.7 29.6L122.4 30.1L122.0 29.8L122.1 30.7L122.7 31.3L122.1 32.2L121.2 31.9L120.9 30.7L120.0 29.8L120.0 28.9L117.9 28.0L116.7 27.0L116.4 26.7L115.7 26.9L115.8 27.7L116.7 28.6L117.9 29.0L119.4 30.0L118.5 29.8L118.2 30.4L118.5 30.7L117.9 31.3L117.7 30.1L116.7 29.5L115.5 28.9L114.6 28.3L114.3 27.7L113.6 27.4L112.8 27.8L111.3 28.1L110.2 28.2L110.2 28.9L108.8 29.5L108.1 30.4L108.3 30.9L107.9 31.5L107.1 32.0L105.6 32.1L104.9 32.5L104.5 32.0L103.8 31.8L102.9 31.9L103.0 31.0L102.6 30.8L103.0 29.5L102.9 28.3L103.5 27.9L105.3 28.0L107.2 28.0L107.6 27.1L107.6 26.4L106.8 25.7L105.6 25.4L105.5 25.0L107.1 24.9L107.4 24.2L108.4 24.4L109.3 23.8L110.1 23.3L111.0 22.6L111.3 22.1L112.5 22.0L113.7 21.7L113.3 20.8L113.2 19.9L114.6 19.4L114.6 20.5L114.3 21.2L114.9 21.7L116.7 21.7L119.4 21.2L120.2 21.4L120.9 20.9L120.9 19.9L121.5 19.4L122.9 19.7L122.4 18.7L125.1 18.3L126.4 18.0L124.5 17.7L122.1 18.0L121.2 17.4L121.1 16.2L123.3 15.0L123.5 14.7L121.5 14.6L120.9 15.3L118.8 16.5L118.7 17.4L119.6 18.0L118.2 19.0L118.1 19.9L117.6 20.3L116.8 20.8L116.1 20.8L115.8 20.3L115.0 19.0L114.6 18.5L113.4 19.1L112.5 19.3L111.6 18.7L111.3 17.4L111.9 16.5L113.4 15.9L114.6 15.3L115.8 14.4L116.7 13.5L117.9 12.9L119.4 12.2L121.2 11.9L123.8 11.4L125.4 11.6L127.0 11.9L128.2 12.4L130.0 12.5L133.0 13.5L133.0 14.3L131.2 14.4L128.8 14.0L129.1 15.0L129.4 15.5L130.9 15.6L132.7 15.3L132.4 14.4L133.9 14.1L134.8 14.4L134.9 13.1L136.0 13.1L136.1 14.0L137.8 13.2L140.5 12.9L142.6 12.9L144.7 12.2L146.8 12.5L148.6 12.8L148.6 11.1L149.8 10.2L151.9 10.3L152.0 12.0L152.7 13.8L152.5 12.6L153.4 10.8L155.2 10.7L156.7 9.9L160.3 9.6L160.6 9.0L164.3 8.4L167.3 8.3L171.1 7.4L172.1 8.1L175.7 8.1L176.6 9.6L174.5 9.7L176.9 9.9L179.9 10.2L182.9 9.8L184.7 10.5L186.2 11.4L187.1 11.6L188.3 11.1L191.0 11.2L192.5 10.6L196.1 10.6L198.5 11.1L200.4 11.6L204.0 12.0L204.6 12.3L207.3 12.3L209.7 12.0L210.9 12.6L214.2 12.2L216.6 12.8M0.0 12.8L2.4 13.5L4.8 13.8L6.1 14.4L4.5 15.3L2.7 15.2L0.9 14.4L0.0 14.7M216.6 15.0L214.8 15.2L216.0 16.5L213.0 17.0L210.8 18.0L208.2 18.0L207.0 18.2L206.4 19.3L206.1 20.5L205.6 21.1L204.6 22.1L203.7 22.4L202.6 23.5L202.0 22.3L202.0 20.5L202.8 19.4L204.3 18.4L206.4 17.1L207.0 16.5L204.6 17.0L202.5 17.1L201.6 18.5L199.8 18.7L197.3 18.4L194.3 18.5L192.5 19.6L191.0 21.1L189.8 21.3L191.3 21.8L193.3 22.1L192.8 23.5L192.7 25.0L191.6 26.2L189.8 27.7L188.3 28.4L187.1 28.6L186.3 29.2L185.0 30.2L186.2 31.9L186.1 32.9L184.4 33.5L184.4 31.9L183.5 31.3L183.7 30.4L183.1 30.1L181.5 30.7L181.7 29.8L181.1 29.5L179.6 30.7L179.1 31.0L179.9 31.7L181.1 31.5L182.0 31.9L180.1 33.1L181.0 34.5L181.6 35.5L181.5 36.4L180.8 37.6L180.2 38.8L179.0 39.7L178.1 40.3L176.9 40.7L175.1 41.2L174.4 41.9L174.2 41.2L173.3 41.2L172.4 42.1L172.0 42.7L172.7 43.9L173.9 44.9L174.1 46.6L173.0 47.8L172.5 48.4L171.5 48.9L171.5 48.0L170.3 47.5L169.1 46.4L168.8 46.0L168.5 47.2L168.0 48.6L168.6 49.3L169.4 50.1L170.5 51.4L170.6 53.2L170.9 53.4L169.3 52.5L168.7 50.8L167.9 49.3L167.4 49.3L167.6 47.8L167.3 46.0L167.0 44.5L166.4 44.2L165.6 44.6L165.0 44.2L164.9 42.4L163.8 41.5L163.5 40.6L162.8 40.8L161.8 41.0L160.6 41.3L160.5 42.1L159.4 42.4L157.8 43.9L156.6 44.8L156.6 46.2L156.3 48.0L155.8 48.6L155.2 49.0L154.9 49.3L154.2 48.4L153.4 46.6L152.5 44.5L152.1 42.7L152.0 41.5L151.7 41.0L150.6 41.6L149.8 40.7L150.6 40.3L149.4 40.0L148.6 39.2L146.8 39.0L145.3 39.0L142.8 38.7L142.3 37.9L140.8 38.1L139.6 37.5L138.7 36.4L137.8 35.9L137.2 36.2L137.7 37.4L138.5 38.2L138.9 39.1L139.3 38.5L139.3 39.4L140.8 39.6L142.0 38.4L142.4 39.4L143.6 40.0L144.3 40.6L143.5 41.8L143.0 42.7L141.6 43.7L139.7 44.6L137.7 45.7L135.4 46.4L134.5 46.5L134.1 45.2L133.9 44.0L132.7 42.2L131.8 41.2L130.7 39.4L129.5 37.3L129.4 36.4L128.9 37.3L128.2 36.7L127.9 36.1M136.6 27.1L138.1 26.2L140.2 26.0L140.2 27.1L139.0 27.4L138.6 28.3L139.9 28.6L140.2 29.8L140.5 30.7L140.8 31.9L139.0 32.1L137.8 31.6L137.8 30.7L138.1 29.8L136.9 28.3L136.6 27.1M143.5 26.2L145.0 26.5L145.0 27.4L143.5 27.9L143.5 26.2M104.9 24.1L106.2 23.9L107.7 23.6L109.1 23.3L108.6 23.2L109.3 22.4L108.4 22.3L108.2 21.7L107.4 21.1L107.1 20.5L106.5 20.5L107.1 19.4L105.9 19.4L106.5 18.9L105.3 18.9L104.8 19.6L105.0 20.5L105.4 21.1L106.5 21.1L106.2 21.5L106.5 22.0L105.6 22.1L105.8 22.6L105.2 23.0L106.4 23.2L105.8 23.3L104.9 24.1M102.3 23.1L103.5 23.0L104.5 22.7L104.7 22.0L105.0 21.4L104.4 20.9L103.3 20.9L103.2 21.4L102.3 21.5L102.6 22.1L102.1 22.7L102.3 23.1M139.3 11.1L140.5 11.6L142.9 11.6L141.7 10.5L142.0 9.6L144.4 8.5L148.0 8.0L149.5 7.9L145.6 8.3L142.6 9.0L141.4 10.0L140.2 10.5L139.3 11.1M114.9 6.3L116.7 7.5L118.5 8.1L119.7 7.2L120.9 6.9L124.5 6.0L120.3 5.7L117.9 6.0L114.9 6.3M165.5 6.6L168.5 7.2L171.5 6.9L168.5 6.0L165.5 5.4L165.5 6.6M190.7 8.7L194.3 9.0L198.5 8.9L196.1 8.4L191.9 8.3L190.7 8.7M136.6 5.7L141.4 6.0L145.6 5.5L143.2 5.1L138.4 5.4L136.6 5.7M193.7 21.5L194.3 22.3L194.5 24.1L195.2 24.7L194.3 25.9L194.6 26.5L193.7 26.5L193.7 25.3L193.7 23.5L193.7 21.5M192.5 29.2L193.4 28.6L194.5 28.9L195.8 28.1L195.1 27.7L193.6 26.8L193.4 28.0L192.5 28.4L192.5 29.2M193.3 29.3L193.7 30.4L193.1 31.4L193.0 32.7L192.4 33.1L191.8 33.3L190.7 33.3L190.0 34.0L189.5 33.4L188.3 33.5L187.1 33.7L187.5 34.3L187.3 35.3L186.8 35.4L186.5 34.6L186.3 34.1L187.1 33.7L187.1 33.5L188.0 32.9L188.9 32.7L190.1 32.7L190.6 31.8L190.9 32.0L191.8 31.5L192.4 30.4L192.5 29.7L193.3 29.3M187.9 34.1L188.3 34.4L189.1 34.1L189.3 33.6L188.6 33.6L187.9 34.1M181.1 39.0L181.7 39.1L181.1 40.9L180.6 40.3L181.1 39.0M173.7 42.5L174.5 42.1L175.1 42.3L174.5 43.1L173.7 43.0L173.7 42.5M156.4 48.3L157.2 49.0L157.5 49.9L156.9 50.5L156.3 49.9L156.4 48.3M180.8 43.0L181.8 43.0L181.7 44.2L181.4 45.1L182.0 45.7L182.9 46.3L182.0 46.0L181.1 45.9L180.7 45.2L180.5 44.5L180.8 43.0M181.7 49.9L182.6 49.0L183.8 48.3L184.4 49.6L183.8 50.5L182.9 50.4L182.6 49.6L181.7 49.9M183.2 46.6L183.8 47.5L183.5 48.1L183.2 47.5L183.2 46.6M181.7 47.2L182.4 47.5L182.4 48.6L182.0 48.3L181.7 47.2M178.8 49.0L180.2 47.8L180.1 47.4L178.8 49.0M173.9 53.2L174.5 53.1L175.3 52.5L176.3 52.2L177.2 51.3L178.1 50.1L178.8 49.9L179.9 51.0L179.3 51.6L179.2 52.9L179.9 53.5L179.0 54.6L178.4 55.7L178.1 56.6L177.2 56.6L176.3 56.1L175.4 56.1L174.6 55.8L174.2 54.6L173.9 53.8L173.9 53.2M165.6 50.8L167.0 51.0L168.6 52.6L170.3 53.8L171.2 55.1L172.1 56.0L172.0 57.6L171.2 57.6L169.9 56.6L168.8 55.1L167.7 53.2L166.7 52.2L165.6 50.8M171.7 58.1L172.6 57.8L173.6 58.1L175.1 58.1L176.3 58.4L177.2 58.8L177.1 59.4L175.1 59.1L173.3 58.8L172.4 58.5L171.7 58.1M177.5 59.1L178.7 59.1L179.9 59.2L182.2 59.1L182.2 59.4L179.9 59.4L178.1 59.5L177.5 59.1M182.6 60.3L183.5 59.6L184.8 59.2L183.5 60.0L182.6 60.3M180.4 53.7L181.0 53.4L182.3 53.5L183.5 53.2L183.1 53.9L181.1 53.8L180.6 54.6L181.4 54.7L182.5 54.6L181.7 55.2L181.5 55.8L182.0 56.3L182.3 56.9L182.0 57.5L181.4 57.0L181.0 55.8L180.7 56.3L180.7 57.5L180.2 57.5L180.1 56.3L179.8 55.8L180.3 54.5L180.4 53.7M185.1 52.9L185.7 53.4L185.3 54.6L185.1 53.8L185.1 52.9M185.3 56.0L187.0 56.1L185.9 56.2L185.3 56.0M187.1 54.6L188.0 54.4L188.9 54.6L189.0 55.7L189.5 56.1L190.7 55.1L191.6 55.2L193.1 55.7L195.2 56.4L196.0 57.3L197.0 57.8L197.2 58.4L197.3 59.3L198.9 60.4L198.5 60.5L197.0 60.2L196.1 59.3L195.2 58.8L194.6 59.3L194.0 59.7L193.1 59.6L191.9 59.0L191.3 59.1L191.2 58.5L191.8 58.2L191.3 57.5L189.8 56.8L188.6 56.4L188.2 56.6L187.7 55.9L188.8 55.5L187.8 55.5L187.1 55.0L187.1 54.6M197.5 57.6L198.5 57.5L199.9 56.7L199.8 57.3L198.9 57.9L197.5 57.6M194.0 60.6L194.6 62.9L195.7 63.2L196.1 65.3L197.9 67.1L199.0 68.3L200.4 69.5L200.7 71.3L200.1 73.7L199.2 74.7L198.5 76.6L197.0 77.0L196.3 77.6L195.2 77.1L194.0 77.3L192.8 77.0L192.2 75.8L191.5 75.5L191.2 75.3L191.2 74.0L190.1 75.2L189.7 74.9L188.9 73.9L187.4 73.1L185.6 73.4L184.1 73.6L182.9 74.0L182.6 74.6L180.5 74.6L179.3 75.2L177.6 74.8L177.9 73.1L177.2 71.6L176.7 69.8L176.6 68.6L177.0 67.4L178.4 66.5L179.9 66.2L181.4 65.6L181.9 64.4L182.7 64.0L183.8 62.9L184.7 62.6L185.6 63.1L186.3 63.1L186.8 61.7L188.0 61.1L189.5 61.5L190.6 61.4L190.1 62.3L189.8 63.2L191.0 63.8L192.2 64.7L193.1 64.6L193.5 63.2L193.6 61.7L194.0 60.6M195.4 78.6L196.4 78.9L197.5 78.8L197.5 79.5L197.0 80.2L196.1 80.3L195.7 79.6L195.4 78.6M212.2 74.9L213.3 76.1L214.1 76.4L214.8 77.0L215.7 76.8L215.3 77.8L214.8 77.9L214.5 78.7L213.8 79.2L213.5 78.7L213.5 78.1L212.9 77.8L213.4 77.3L213.4 76.4L212.4 75.2L212.2 74.9M212.2 78.5L213.1 79.0L213.0 79.4L212.3 80.3L211.4 80.8L211.2 81.7L210.3 82.1L209.6 82.2L208.5 81.8L209.1 81.1L209.7 80.6L211.1 79.9L211.8 78.8L212.2 78.5M207.0 66.3L208.8 67.6L207.6 67.0L207.0 66.3M57.2 41.0L58.4 40.3L59.9 40.3L62.0 41.2L63.7 42.0L61.7 42.2L61.4 41.8L60.2 41.1L59.0 40.6L57.8 41.0L57.2 41.0M63.5 42.2L65.0 42.2L66.3 42.5L67.1 43.0L66.2 43.1L65.3 43.5L64.7 43.2L63.5 43.1L64.6 43.0L64.1 42.3L63.5 42.2M61.2 43.1L62.4 43.3L61.9 43.4L61.2 43.1M67.9 43.0L68.8 43.1L67.9 43.3L67.9 43.0M52.9 26.1L55.4 25.0L57.2 25.4L57.5 26.2L56.0 26.2L54.1 26.1L52.9 26.1M55.5 28.9L56.4 28.9L56.4 27.7L57.2 26.6L56.0 26.7L55.5 27.7L55.5 28.9M57.5 26.5L59.3 26.5L60.2 27.2L59.1 28.2L58.7 28.1L58.1 27.4L58.2 27.0L57.5 26.5M58.2 29.1L59.6 29.1L60.8 28.5L59.9 28.5L58.7 28.8L58.2 29.1M60.3 28.1L62.0 28.1L62.4 27.7L61.4 27.7L60.3 28.1M48.7 22.0L49.9 23.8L50.4 23.5L49.6 21.8L48.7 22.0M37.9 17.4L39.7 17.4L42.1 16.5L40.9 16.4L39.1 16.9L37.9 17.4M33.1 14.3L34.9 15.0L37.3 14.4L36.7 13.8L34.3 13.8L33.1 14.3M41.2 18.8L43.3 18.5L45.1 18.5L43.3 18.7L41.2 18.8M170.8 23.2L171.8 23.0L173.3 22.1L174.4 20.8L173.9 20.6L172.7 22.0L171.5 22.7L170.8 23.2M127.4 54.0L128.8 54.0L128.8 55.4L127.6 55.8L127.4 54.8L127.4 54.0M125.9 56.2L126.2 57.5L127.0 59.3L126.6 59.1L125.9 57.5L125.9 56.2M128.8 59.9L129.2 61.1L129.5 62.8L129.1 62.6L128.9 61.1L128.8 59.9M126.5 18.0L128.0 17.9L127.9 17.1L126.7 17.3L126.5 18.0M129.1 17.4L130.1 17.3L129.7 16.5L129.1 16.8L129.1 17.4M152.5 26.8L153.4 26.1L155.8 26.3L155.2 26.7L153.4 27.1L152.5 26.8M66.2 63.4L66.8 63.9L66.5 64.0L66.2 63.4M14.4 42.0L15.0 42.2L14.7 42.7L14.4 42.4L14.4 42.0M15.3 19.6L16.7 19.3L16.5 19.7L15.6 20.0L15.3 19.6M61.7 13.7L62.9 13.7L62.6 13.1L61.7 13.7M113.5 28.3L114.0 28.5L114.1 29.5L114.1 30.6L113.4 30.7L113.3 29.6L113.6 29.2L113.5 28.3M115.8 31.3L117.6 31.2L117.4 32.1L115.8 31.5L115.8 31.3M122.4 32.8L124.1 33.0L122.7 33.1L122.4 32.8M127.7 33.1L129.1 32.7L128.5 33.3L127.7 33.1M140.4 46.6L141.1 46.6L140.4 46.6M149.7 83.6L150.7 83.8L150.1 84.1L149.7 83.6M85.4 86.6L86.6 86.9L85.4 86.6M114.9 20.6L115.9 20.5L115.7 21.1L114.9 20.6M119.3 19.9L119.7 19.3L119.6 19.7L119.3 19.9M185.1 38.4L185.5 38.0L185.1 38.4M196.1 27.4L197.6 26.8L198.5 26.4L199.8 25.7L201.0 24.7L201.9 23.9M8.4 21.7L6.9 22.1L4.8 22.7L3.0 22.9L1.2 23.0M212.1 22.3L213.6 22.6L215.4 22.9" fill="none" stroke="#161616" stroke-opacity="0.55" stroke-width="0.6" stroke-linejoin="round"/>
<path transform="translate(18.2 188.3)" d="M14.1 11.3L18.0 11.7L22.3 12.0L26.5 12.6L31.3 12.0L36.1 12.3L39.1 13.2L43.3 13.2L46.9 13.2L50.5 13.2L51.7 10.8L54.1 12.6L56.6 13.2L59.0 12.3L59.6 13.8L56.6 14.4L55.4 15.6L52.3 16.8L51.4 18.7L52.6 19.9L55.4 20.2L57.2 20.9L59.0 21.1L59.0 22.3L60.2 23.3L60.8 22.9L60.8 21.4L62.0 20.5L62.0 19.3L61.4 18.0L61.4 16.5L63.8 16.7L66.2 17.4L66.5 18.7L68.6 19.0L69.5 17.9L71.0 19.6L71.6 20.8L73.4 21.4L74.6 22.9L72.2 24.1L68.6 23.9L66.2 25.9L69.2 24.7L69.5 25.9L71.6 26.5L70.4 27.4L68.6 28.0L68.6 27.1L68.0 27.2L66.2 28.0L65.9 28.9L63.8 29.8L62.9 31.3L62.6 33.1L61.4 33.7L59.6 35.2L60.2 37.9L59.9 39.0L59.0 38.2L58.5 36.7L57.8 36.1L56.6 35.9L54.5 36.0L54.1 36.7L51.7 36.4L49.9 37.6L49.6 39.1L49.5 40.7L50.5 42.7L51.7 43.2L53.5 42.9L53.8 41.5L56.0 41.2L55.7 43.0L55.1 44.5L56.6 44.5L58.2 45.1L58.1 47.5L59.0 48.7L60.2 48.6L61.7 49.0L61.7 49.6L60.2 49.8L59.6 49.3L58.4 49.0L56.7 48.1L55.7 46.3L53.5 45.7L51.7 44.5L49.9 44.6L47.5 43.7L44.8 42.1L44.8 40.6L43.3 39.1L42.1 37.6L40.6 36.1L39.3 35.1L39.4 36.1L40.9 37.9L41.8 39.4L42.4 40.3L40.9 39.1L39.4 37.3L38.8 36.1L37.9 34.6L37.0 33.7L35.8 33.4L34.9 32.2L34.6 31.3L33.7 29.9L33.5 28.3L33.7 26.4L33.3 25.0L34.6 25.6L34.3 24.7L33.1 24.1L31.6 23.2L30.1 21.4L28.3 20.2L26.8 19.0L25.3 18.4L23.5 18.0L21.1 17.7L19.3 17.6L18.0 18.4L16.8 17.6L15.6 19.0L13.2 20.2L10.8 21.1L9.3 21.2L11.4 20.5L13.2 19.0L10.8 18.7L9.0 17.4L8.4 16.2L11.4 15.5L9.0 15.3L7.2 14.7L10.2 14.1L9.0 13.1L10.8 12.0L14.1 11.3M34.0 25.0L32.8 24.8L31.1 23.6L32.8 23.9L34.0 25.0M72.7 25.5L74.6 26.0L76.4 26.1L76.5 25.3L75.8 24.4L74.7 23.2L73.7 23.8L72.7 25.5M68.6 16.8L67.4 15.8L69.5 16.2L69.8 15.0L67.7 14.3L71.3 14.0L69.2 13.2L67.4 12.0L65.0 11.1L61.4 10.3L59.6 9.8L56.6 9.7L54.1 9.9L54.8 11.4L57.2 12.0L60.8 12.0L63.2 13.1L64.4 13.8L64.4 14.7L61.1 15.2L63.8 15.4L65.6 16.4L68.6 16.8M37.3 11.4L38.5 12.5L40.9 12.9L45.1 12.8L47.2 12.3L45.7 11.4L45.1 10.3L43.3 10.0L40.9 10.5L39.1 10.0L37.0 10.5L37.3 11.4M33.1 10.8L34.3 11.4L36.4 11.0L37.6 9.9L35.5 9.3L33.4 9.7L33.1 10.8M37.9 8.8L42.1 9.3L44.5 8.9L42.7 8.1L39.1 8.2L37.9 8.8M46.9 10.8L49.9 10.8L49.3 9.7L47.2 9.9L46.9 10.8M50.8 10.7L53.8 10.4L53.8 9.6L51.1 9.6L50.8 10.7M52.9 9.2L60.2 9.2L60.2 8.6L55.4 8.1L52.9 8.4L52.9 9.2M55.4 8.1L61.4 8.2L63.2 6.9L67.4 5.7L71.0 4.6L66.2 4.2L59.0 4.3L52.9 5.1L56.0 6.0L55.4 7.2L55.4 8.1M51.1 6.3L55.4 7.0L56.0 5.7L52.3 5.2L51.1 6.3M56.0 15.6L57.8 16.2L59.6 15.8L59.9 15.3L57.8 14.4L56.0 15.3L56.0 15.6M48.1 8.7L49.9 8.7L48.7 8.1L46.9 8.4L48.1 8.7M48.7 12.6L50.5 12.8L50.5 12.2L49.0 12.2L48.7 12.6M64.4 7.1L67.4 8.4L72.2 8.4L74.6 10.2L75.8 12.0L77.6 12.3L76.1 13.8L77.0 15.6L78.8 17.1L81.8 18.0L82.7 16.8L84.2 15.0L86.0 14.6L89.0 13.2L93.3 12.6L95.1 11.7L95.1 10.2L96.9 8.7L96.3 7.2L98.1 6.0L101.1 5.1L95.1 4.6L89.0 3.9L81.2 4.3L73.4 4.7L69.8 5.3L68.0 6.0L64.4 7.1M93.9 14.7L95.1 15.6L96.9 16.0L99.6 15.5L100.1 14.7L98.7 14.1L96.3 14.4L94.8 14.2L93.9 14.7M61.7 49.0L62.9 47.7L64.4 47.4L65.3 46.7L65.3 47.7L66.8 47.2L68.6 47.8L71.0 47.8L72.2 49.0L74.0 50.5L75.8 50.7L77.3 51.4L78.2 53.2L78.2 54.1L79.4 54.8L81.5 55.7L84.2 56.0L86.0 57.2L87.2 58.1L87.2 59.6L85.7 61.4L84.8 62.9L84.8 65.0L83.6 67.4L82.4 68.0L80.6 68.6L79.1 69.8L79.0 71.3L77.0 73.7L76.1 74.7L74.6 75.1L73.2 74.6L74.0 76.1L73.4 77.3L71.0 77.6L70.8 78.8L69.2 78.8L69.8 79.8L69.0 81.2L67.7 82.0L68.7 82.9L67.4 84.2L66.8 85.6L67.1 85.9L69.1 87.1L68.0 87.5L66.2 87.2L65.0 86.6L63.8 85.7L62.9 84.2L62.9 82.4L63.8 80.6L63.9 79.1L64.1 76.4L65.0 74.0L65.3 72.2L65.9 69.2L66.0 65.3L65.0 64.4L62.6 62.6L61.4 60.5L60.3 58.4L59.4 57.2L60.2 56.0L59.7 54.8L60.2 53.8L61.1 52.9L61.8 51.7L61.7 49.6M71.6 85.1L73.4 85.1L72.8 85.6L71.6 85.1M127.9 36.1L128.8 37.9L129.7 39.7L130.6 41.2L130.9 43.0L132.1 44.8L134.1 46.5L134.4 47.2L136.6 47.4L139.1 47.0L138.9 48.7L137.2 51.4L134.8 53.5L133.3 55.2L132.1 56.9L131.8 58.4L132.4 60.5L132.8 62.9L130.6 64.7L129.4 66.2L129.7 68.6L128.2 69.7L128.0 71.0L126.4 73.1L123.9 74.6L121.5 74.8L120.3 75.1L119.3 74.7L119.3 73.4L118.2 71.3L117.3 69.8L117.0 67.7L115.5 64.7L116.4 61.7L116.0 59.3L115.5 57.2L113.8 54.8L114.0 52.9L114.1 51.7L113.4 51.4L111.9 51.6L111.0 50.4L109.0 50.5L107.1 51.3L105.6 51.0L103.8 51.5L102.6 50.5L100.8 49.5L100.3 48.4L99.3 47.5L98.2 46.6L97.8 45.3L98.5 44.2L98.5 42.4L98.1 41.5L98.7 39.9L99.6 38.4L100.5 37.4L102.3 36.4L102.5 35.2L103.5 34.0L104.7 32.8L105.0 32.6L107.1 33.0L108.9 32.2L111.3 32.0L114.3 31.7L114.9 33.1L114.4 33.8L115.5 34.4L117.6 34.9L119.7 35.9L120.3 34.6L122.1 34.5L123.6 35.1L125.7 35.5L127.7 35.3L127.9 36.1M138.0 61.4L138.6 63.5L138.0 65.0L137.0 68.0L135.6 69.5L134.7 68.0L135.0 66.2L134.8 64.4L136.3 63.6L137.2 62.3L138.0 61.4M127.7 35.3L128.9 35.3L129.7 34.0L130.0 32.5L130.0 32.0L128.2 32.4L126.7 32.2L125.1 32.1L124.5 31.0L124.1 30.1L125.7 29.5L127.3 29.4L129.4 28.9L131.2 29.5L133.3 29.2L132.4 28.0L130.6 27.1L131.5 25.9L129.4 26.4L128.5 27.4L128.2 26.5L126.8 26.2L126.0 27.1L125.1 28.0L125.1 29.2L124.2 29.6L122.7 29.6L122.4 30.1L122.0 29.8L122.1 30.7L122.7 31.3L122.1 32.2L121.2 31.9L120.9 30.7L120.0 29.8L120.0 28.9L117.9 28.0L116.7 27.0L116.4 26.7L115.7 26.9L115.8 27.7L116.7 28.6L117.9 29.0L119.4 30.0L118.5 29.8L118.2 30.4L118.5 30.7L117.9 31.3L117.7 30.1L116.7 29.5L115.5 28.9L114.6 28.3L114.3 27.7L113.6 27.4L112.8 27.8L111.3 28.1L110.2 28.2L110.2 28.9L108.8 29.5L108.1 30.4L108.3 30.9L107.9 31.5L107.1 32.0L105.6 32.1L104.9 32.5L104.5 32.0L103.8 31.8L102.9 31.9L103.0 31.0L102.6 30.8L103.0 29.5L102.9 28.3L103.5 27.9L105.3 28.0L107.2 28.0L107.6 27.1L107.6 26.4L106.8 25.7L105.6 25.4L105.5 25.0L107.1 24.9L107.4 24.2L108.4 24.4L109.3 23.8L110.1 23.3L111.0 22.6L111.3 22.1L112.5 22.0L113.7 21.7L113.3 20.8L113.2 19.9L114.6 19.4L114.6 20.5L114.3 21.2L114.9 21.7L116.7 21.7L119.4 21.2L120.2 21.4L120.9 20.9L120.9 19.9L121.5 19.4L122.9 19.7L122.4 18.7L125.1 18.3L126.4 18.0L124.5 17.7L122.1 18.0L121.2 17.4L121.1 16.2L123.3 15.0L123.5 14.7L121.5 14.6L120.9 15.3L118.8 16.5L118.7 17.4L119.6 18.0L118.2 19.0L118.1 19.9L117.6 20.3L116.8 20.8L116.1 20.8L115.8 20.3L115.0 19.0L114.6 18.5L113.4 19.1L112.5 19.3L111.6 18.7L111.3 17.4L111.9 16.5L113.4 15.9L114.6 15.3L115.8 14.4L116.7 13.5L117.9 12.9L119.4 12.2L121.2 11.9L123.8 11.4L125.4 11.6L127.0 11.9L128.2 12.4L130.0 12.5L133.0 13.5L133.0 14.3L131.2 14.4L128.8 14.0L129.1 15.0L129.4 15.5L130.9 15.6L132.7 15.3L132.4 14.4L133.9 14.1L134.8 14.4L134.9 13.1L136.0 13.1L136.1 14.0L137.8 13.2L140.5 12.9L142.6 12.9L144.7 12.2L146.8 12.5L148.6 12.8L148.6 11.1L149.8 10.2L151.9 10.3L152.0 12.0L152.7 13.8L152.5 12.6L153.4 10.8L155.2 10.7L156.7 9.9L160.3 9.6L160.6 9.0L164.3 8.4L167.3 8.3L171.1 7.4L172.1 8.1L175.7 8.1L176.6 9.6L174.5 9.7L176.9 9.9L179.9 10.2L182.9 9.8L184.7 10.5L186.2 11.4L187.1 11.6L188.3 11.1L191.0 11.2L192.5 10.6L196.1 10.6L198.5 11.1L200.4 11.6L204.0 12.0L204.6 12.3L207.3 12.3L209.7 12.0L210.9 12.6L214.2 12.2L216.6 12.8M0.0 12.8L2.4 13.5L4.8 13.8L6.1 14.4L4.5 15.3L2.7 15.2L0.9 14.4L0.0 14.7M216.6 15.0L214.8 15.2L216.0 16.5L213.0 17.0L210.8 18.0L208.2 18.0L207.0 18.2L206.4 19.3L206.1 20.5L205.6 21.1L204.6 22.1L203.7 22.4L202.6 23.5L202.0 22.3L202.0 20.5L202.8 19.4L204.3 18.4L206.4 17.1L207.0 16.5L204.6 17.0L202.5 17.1L201.6 18.5L199.8 18.7L197.3 18.4L194.3 18.5L192.5 19.6L191.0 21.1L189.8 21.3L191.3 21.8L193.3 22.1L192.8 23.5L192.7 25.0L191.6 26.2L189.8 27.7L188.3 28.4L187.1 28.6L186.3 29.2L185.0 30.2L186.2 31.9L186.1 32.9L184.4 33.5L184.4 31.9L183.5 31.3L183.7 30.4L183.1 30.1L181.5 30.7L181.7 29.8L181.1 29.5L179.6 30.7L179.1 31.0L179.9 31.7L181.1 31.5L182.0 31.9L180.1 33.1L181.0 34.5L181.6 35.5L181.5 36.4L180.8 37.6L180.2 38.8L179.0 39.7L178.1 40.3L176.9 40.7L175.1 41.2L174.4 41.9L174.2 41.2L173.3 41.2L172.4 42.1L172.0 42.7L172.7 43.9L173.9 44.9L174.1 46.6L173.0 47.8L172.5 48.4L171.5 48.9L171.5 48.0L170.3 47.5L169.1 46.4L168.8 46.0L168.5 47.2L168.0 48.6L168.6 49.3L169.4 50.1L170.5 51.4L170.6 53.2L170.9 53.4L169.3 52.5L168.7 50.8L167.9 49.3L167.4 49.3L167.6 47.8L167.3 46.0L167.0 44.5L166.4 44.2L165.6 44.6L165.0 44.2L164.9 42.4L163.8 41.5L163.5 40.6L162.8 40.8L161.8 41.0L160.6 41.3L160.5 42.1L159.4 42.4L157.8 43.9L156.6 44.8L156.6 46.2L156.3 48.0L155.8 48.6L155.2 49.0L154.9 49.3L154.2 48.4L153.4 46.6L152.5 44.5L152.1 42.7L152.0 41.5L151.7 41.0L150.6 41.6L149.8 40.7L150.6 40.3L149.4 40.0L148.6 39.2L146.8 39.0L145.3 39.0L142.8 38.7L142.3 37.9L140.8 38.1L139.6 37.5L138.7 36.4L137.8 35.9L137.2 36.2L137.7 37.4L138.5 38.2L138.9 39.1L139.3 38.5L139.3 39.4L140.8 39.6L142.0 38.4L142.4 39.4L143.6 40.0L144.3 40.6L143.5 41.8L143.0 42.7L141.6 43.7L139.7 44.6L137.7 45.7L135.4 46.4L134.5 46.5L134.1 45.2L133.9 44.0L132.7 42.2L131.8 41.2L130.7 39.4L129.5 37.3L129.4 36.4L128.9 37.3L128.2 36.7L127.9 36.1M136.6 27.1L138.1 26.2L140.2 26.0L140.2 27.1L139.0 27.4L138.6 28.3L139.9 28.6L140.2 29.8L140.5 30.7L140.8 31.9L139.0 32.1L137.8 31.6L137.8 30.7L138.1 29.8L136.9 28.3L136.6 27.1M143.5 26.2L145.0 26.5L145.0 27.4L143.5 27.9L143.5 26.2M104.9 24.1L106.2 23.9L107.7 23.6L109.1 23.3L108.6 23.2L109.3 22.4L108.4 22.3L108.2 21.7L107.4 21.1L107.1 20.5L106.5 20.5L107.1 19.4L105.9 19.4L106.5 18.9L105.3 18.9L104.8 19.6L105.0 20.5L105.4 21.1L106.5 21.1L106.2 21.5L106.5 22.0L105.6 22.1L105.8 22.6L105.2 23.0L106.4 23.2L105.8 23.3L104.9 24.1M102.3 23.1L103.5 23.0L104.5 22.7L104.7 22.0L105.0 21.4L104.4 20.9L103.3 20.9L103.2 21.4L102.3 21.5L102.6 22.1L102.1 22.7L102.3 23.1M139.3 11.1L140.5 11.6L142.9 11.6L141.7 10.5L142.0 9.6L144.4 8.5L148.0 8.0L149.5 7.9L145.6 8.3L142.6 9.0L141.4 10.0L140.2 10.5L139.3 11.1M114.9 6.3L116.7 7.5L118.5 8.1L119.7 7.2L120.9 6.9L124.5 6.0L120.3 5.7L117.9 6.0L114.9 6.3M165.5 6.6L168.5 7.2L171.5 6.9L168.5 6.0L165.5 5.4L165.5 6.6M190.7 8.7L194.3 9.0L198.5 8.9L196.1 8.4L191.9 8.3L190.7 8.7M136.6 5.7L141.4 6.0L145.6 5.5L143.2 5.1L138.4 5.4L136.6 5.7M193.7 21.5L194.3 22.3L194.5 24.1L195.2 24.7L194.3 25.9L194.6 26.5L193.7 26.5L193.7 25.3L193.7 23.5L193.7 21.5M192.5 29.2L193.4 28.6L194.5 28.9L195.8 28.1L195.1 27.7L193.6 26.8L193.4 28.0L192.5 28.4L192.5 29.2M193.3 29.3L193.7 30.4L193.1 31.4L193.0 32.7L192.4 33.1L191.8 33.3L190.7 33.3L190.0 34.0L189.5 33.4L188.3 33.5L187.1 33.7L187.5 34.3L187.3 35.3L186.8 35.4L186.5 34.6L186.3 34.1L187.1 33.7L187.1 33.5L188.0 32.9L188.9 32.7L190.1 32.7L190.6 31.8L190.9 32.0L191.8 31.5L192.4 30.4L192.5 29.7L193.3 29.3M187.9 34.1L188.3 34.4L189.1 34.1L189.3 33.6L188.6 33.6L187.9 34.1M181.1 39.0L181.7 39.1L181.1 40.9L180.6 40.3L181.1 39.0M173.7 42.5L174.5 42.1L175.1 42.3L174.5 43.1L173.7 43.0L173.7 42.5M156.4 48.3L157.2 49.0L157.5 49.9L156.9 50.5L156.3 49.9L156.4 48.3M180.8 43.0L181.8 43.0L181.7 44.2L181.4 45.1L182.0 45.7L182.9 46.3L182.0 46.0L181.1 45.9L180.7 45.2L180.5 44.5L180.8 43.0M181.7 49.9L182.6 49.0L183.8 48.3L184.4 49.6L183.8 50.5L182.9 50.4L182.6 49.6L181.7 49.9M183.2 46.6L183.8 47.5L183.5 48.1L183.2 47.5L183.2 46.6M181.7 47.2L182.4 47.5L182.4 48.6L182.0 48.3L181.7 47.2M178.8 49.0L180.2 47.8L180.1 47.4L178.8 49.0M173.9 53.2L174.5 53.1L175.3 52.5L176.3 52.2L177.2 51.3L178.1 50.1L178.8 49.9L179.9 51.0L179.3 51.6L179.2 52.9L179.9 53.5L179.0 54.6L178.4 55.7L178.1 56.6L177.2 56.6L176.3 56.1L175.4 56.1L174.6 55.8L174.2 54.6L173.9 53.8L173.9 53.2M165.6 50.8L167.0 51.0L168.6 52.6L170.3 53.8L171.2 55.1L172.1 56.0L172.0 57.6L171.2 57.6L169.9 56.6L168.8 55.1L167.7 53.2L166.7 52.2L165.6 50.8M171.7 58.1L172.6 57.8L173.6 58.1L175.1 58.1L176.3 58.4L177.2 58.8L177.1 59.4L175.1 59.1L173.3 58.8L172.4 58.5L171.7 58.1M177.5 59.1L178.7 59.1L179.9 59.2L182.2 59.1L182.2 59.4L179.9 59.4L178.1 59.5L177.5 59.1M182.6 60.3L183.5 59.6L184.8 59.2L183.5 60.0L182.6 60.3M180.4 53.7L181.0 53.4L182.3 53.5L183.5 53.2L183.1 53.9L181.1 53.8L180.6 54.6L181.4 54.7L182.5 54.6L181.7 55.2L181.5 55.8L182.0 56.3L182.3 56.9L182.0 57.5L181.4 57.0L181.0 55.8L180.7 56.3L180.7 57.5L180.2 57.5L180.1 56.3L179.8 55.8L180.3 54.5L180.4 53.7M185.1 52.9L185.7 53.4L185.3 54.6L185.1 53.8L185.1 52.9M185.3 56.0L187.0 56.1L185.9 56.2L185.3 56.0M187.1 54.6L188.0 54.4L188.9 54.6L189.0 55.7L189.5 56.1L190.7 55.1L191.6 55.2L193.1 55.7L195.2 56.4L196.0 57.3L197.0 57.8L197.2 58.4L197.3 59.3L198.9 60.4L198.5 60.5L197.0 60.2L196.1 59.3L195.2 58.8L194.6 59.3L194.0 59.7L193.1 59.6L191.9 59.0L191.3 59.1L191.2 58.5L191.8 58.2L191.3 57.5L189.8 56.8L188.6 56.4L188.2 56.6L187.7 55.9L188.8 55.5L187.8 55.5L187.1 55.0L187.1 54.6M197.5 57.6L198.5 57.5L199.9 56.7L199.8 57.3L198.9 57.9L197.5 57.6M194.0 60.6L194.6 62.9L195.7 63.2L196.1 65.3L197.9 67.1L199.0 68.3L200.4 69.5L200.7 71.3L200.1 73.7L199.2 74.7L198.5 76.6L197.0 77.0L196.3 77.6L195.2 77.1L194.0 77.3L192.8 77.0L192.2 75.8L191.5 75.5L191.2 75.3L191.2 74.0L190.1 75.2L189.7 74.9L188.9 73.9L187.4 73.1L185.6 73.4L184.1 73.6L182.9 74.0L182.6 74.6L180.5 74.6L179.3 75.2L177.6 74.8L177.9 73.1L177.2 71.6L176.7 69.8L176.6 68.6L177.0 67.4L178.4 66.5L179.9 66.2L181.4 65.6L181.9 64.4L182.7 64.0L183.8 62.9L184.7 62.6L185.6 63.1L186.3 63.1L186.8 61.7L188.0 61.1L189.5 61.5L190.6 61.4L190.1 62.3L189.8 63.2L191.0 63.8L192.2 64.7L193.1 64.6L193.5 63.2L193.6 61.7L194.0 60.6M195.4 78.6L196.4 78.9L197.5 78.8L197.5 79.5L197.0 80.2L196.1 80.3L195.7 79.6L195.4 78.6M212.2 74.9L213.3 76.1L214.1 76.4L214.8 77.0L215.7 76.8L215.3 77.8L214.8 77.9L214.5 78.7L213.8 79.2L213.5 78.7L213.5 78.1L212.9 77.8L213.4 77.3L213.4 76.4L212.4 75.2L212.2 74.9M212.2 78.5L213.1 79.0L213.0 79.4L212.3 80.3L211.4 80.8L211.2 81.7L210.3 82.1L209.6 82.2L208.5 81.8L209.1 81.1L209.7 80.6L211.1 79.9L211.8 78.8L212.2 78.5M207.0 66.3L208.8 67.6L207.6 67.0L207.0 66.3M57.2 41.0L58.4 40.3L59.9 40.3L62.0 41.2L63.7 42.0L61.7 42.2L61.4 41.8L60.2 41.1L59.0 40.6L57.8 41.0L57.2 41.0M63.5 42.2L65.0 42.2L66.3 42.5L67.1 43.0L66.2 43.1L65.3 43.5L64.7 43.2L63.5 43.1L64.6 43.0L64.1 42.3L63.5 42.2M61.2 43.1L62.4 43.3L61.9 43.4L61.2 43.1M67.9 43.0L68.8 43.1L67.9 43.3L67.9 43.0M52.9 26.1L55.4 25.0L57.2 25.4L57.5 26.2L56.0 26.2L54.1 26.1L52.9 26.1M55.5 28.9L56.4 28.9L56.4 27.7L57.2 26.6L56.0 26.7L55.5 27.7L55.5 28.9M57.5 26.5L59.3 26.5L60.2 27.2L59.1 28.2L58.7 28.1L58.1 27.4L58.2 27.0L57.5 26.5M58.2 29.1L59.6 29.1L60.8 28.5L59.9 28.5L58.7 28.8L58.2 29.1M60.3 28.1L62.0 28.1L62.4 27.7L61.4 27.7L60.3 28.1M48.7 22.0L49.9 23.8L50.4 23.5L49.6 21.8L48.7 22.0M37.9 17.4L39.7 17.4L42.1 16.5L40.9 16.4L39.1 16.9L37.9 17.4M33.1 14.3L34.9 15.0L37.3 14.4L36.7 13.8L34.3 13.8L33.1 14.3M41.2 18.8L43.3 18.5L45.1 18.5L43.3 18.7L41.2 18.8M170.8 23.2L171.8 23.0L173.3 22.1L174.4 20.8L173.9 20.6L172.7 22.0L171.5 22.7L170.8 23.2M127.4 54.0L128.8 54.0L128.8 55.4L127.6 55.8L127.4 54.8L127.4 54.0M125.9 56.2L126.2 57.5L127.0 59.3L126.6 59.1L125.9 57.5L125.9 56.2M128.8 59.9L129.2 61.1L129.5 62.8L129.1 62.6L128.9 61.1L128.8 59.9M126.5 18.0L128.0 17.9L127.9 17.1L126.7 17.3L126.5 18.0M129.1 17.4L130.1 17.3L129.7 16.5L129.1 16.8L129.1 17.4M152.5 26.8L153.4 26.1L155.8 26.3L155.2 26.7L153.4 27.1L152.5 26.8M66.2 63.4L66.8 63.9L66.5 64.0L66.2 63.4M14.4 42.0L15.0 42.2L14.7 42.7L14.4 42.4L14.4 42.0M15.3 19.6L16.7 19.3L16.5 19.7L15.6 20.0L15.3 19.6M61.7 13.7L62.9 13.7L62.6 13.1L61.7 13.7M113.5 28.3L114.0 28.5L114.1 29.5L114.1 30.6L113.4 30.7L113.3 29.6L113.6 29.2L113.5 28.3M115.8 31.3L117.6 31.2L117.4 32.1L115.8 31.5L115.8 31.3M122.4 32.8L124.1 33.0L122.7 33.1L122.4 32.8M127.7 33.1L129.1 32.7L128.5 33.3L127.7 33.1M140.4 46.6L141.1 46.6L140.4 46.6M149.7 83.6L150.7 83.8L150.1 84.1L149.7 83.6M85.4 86.6L86.6 86.9L85.4 86.6M114.9 20.6L115.9 20.5L115.7 21.1L114.9 20.6M119.3 19.9L119.7 19.3L119.6 19.7L119.3 19.9M185.1 38.4L185.5 38.0L185.1 38.4M196.1 27.4L197.6 26.8L198.5 26.4L199.8 25.7L201.0 24.7L201.9 23.9M8.4 21.7L6.9 22.1L4.8 22.7L3.0 22.9L1.2 23.0M212.1 22.3L213.6 22.6L215.4 22.9" fill="none" stroke="#111" stroke-opacity="0.75" stroke-width="0.75" stroke-dasharray="0.8 2.9 1.4 3.7 0.6 2.2"/>
<path transform="translate(18.2 188.3)" d="M68.6 16.8L67.4 15.8L69.5 16.2L69.8 15.0L67.7 14.3L71.3 14.0L69.2 13.2L67.4 12.0L65.0 11.1L61.4 10.3L59.6 9.8L56.6 9.7L54.1 9.9L54.8 11.4L57.2 12.0L60.8 12.0L63.2 13.1L64.4 13.8L64.4 14.7L61.1 15.2L63.8 15.4L65.6 16.4L68.6 16.8M37.3 11.4L38.5 12.5L40.9 12.9L45.1 12.8L47.2 12.3L45.7 11.4L45.1 10.3L43.3 10.0L40.9 10.5L39.1 10.0L37.0 10.5L37.3 11.4M33.1 10.8L34.3 11.4L36.4 11.0L37.6 9.9L35.5 9.3L33.4 9.7L33.1 10.8M37.9 8.8L42.1 9.3L44.5 8.9L42.7 8.1L39.1 8.2L37.9 8.8M46.9 10.8L49.9 10.8L49.3 9.7L47.2 9.9L46.9 10.8M50.8 10.7L53.8 10.4L53.8 9.6L51.1 9.6L50.8 10.7M52.9 9.2L60.2 9.2L60.2 8.6L55.4 8.1L52.9 8.4L52.9 9.2M55.4 8.1L61.4 8.2L63.2 6.9L67.4 5.7L71.0 4.6L66.2 4.2L59.0 4.3L52.9 5.1L56.0 6.0L55.4 7.2L55.4 8.1M51.1 6.3L55.4 7.0L56.0 5.7L52.3 5.2L51.1 6.3M56.0 15.6L57.8 16.2L59.6 15.8L59.9 15.3L57.8 14.4L56.0 15.3L56.0 15.6M48.1 8.7L49.9 8.7L48.7 8.1L46.9 8.4L48.1 8.7M48.7 12.6L50.5 12.8L50.5 12.2L49.0 12.2L48.7 12.6M93.9 14.7L95.1 15.6L96.9 16.0L99.6 15.5L100.1 14.7L98.7 14.1L96.3 14.4L94.8 14.2L93.9 14.7M71.6 85.1L73.4 85.1L72.8 85.6L71.6 85.1M139.3 11.1L140.5 11.6L142.9 11.6L141.7 10.5L142.0 9.6L144.4 8.5L148.0 8.0L149.5 7.9L145.6 8.3L142.6 9.0L141.4 10.0L140.2 10.5L139.3 11.1M114.9 6.3L116.7 7.5L118.5 8.1L119.7 7.2L120.9 6.9L124.5 6.0L120.3 5.7L117.9 6.0L114.9 6.3M192.5 29.2L193.4 28.6L194.5 28.9L195.8 28.1L195.1 27.7L193.6 26.8L193.4 28.0L192.5 28.4L192.5 29.2M187.9 34.1L188.3 34.4L189.1 34.1L189.3 33.6L188.6 33.6L187.9 34.1M180.8 43.0L181.8 43.0L181.7 44.2L181.4 45.1L182.0 45.7L182.9 46.3L182.0 46.0L181.1 45.9L180.7 45.2L180.5 44.5L180.8 43.0M181.7 49.9L182.6 49.0L183.8 48.3L184.4 49.6L183.8 50.5L182.9 50.4L182.6 49.6L181.7 49.9M180.4 53.7L181.0 53.4L182.3 53.5L183.5 53.2L183.1 53.9L181.1 53.8L180.6 54.6L181.4 54.7L182.5 54.6L181.7 55.2L181.5 55.8L182.0 56.3L182.3 56.9L182.0 57.5L181.4 57.0L181.0 55.8L180.7 56.3L180.7 57.5L180.2 57.5L180.1 56.3L179.8 55.8L180.3 54.5L180.4 53.7M185.1 52.9L185.7 53.4L185.3 54.6L185.1 53.8L185.1 52.9M197.5 57.6L198.5 57.5L199.9 56.7L199.8 57.3L198.9 57.9L197.5 57.6" fill="none" stroke="#111" stroke-opacity="0.55" stroke-width="0.6" stroke-linejoin="round"/>
<path transform="translate(18.2 188.3)" d="M63.8 96.9L67.4 95.7L68.6 94.2L70.4 93.1L73.7 92.2L71.9 93.0L70.7 94.0" fill="none" stroke="#111" stroke-opacity="0.8" stroke-width="1.1" stroke-dasharray="2 0.9 1.2 0.7"/>
<path transform="translate(18.2 188.3)" d="M65.3 72.2L65.0 74.0L64.1 76.4L63.9 79.1L63.5 81.2L63.0 83.0L63.2 84.8L64.1 86.0L65.6 86.8L67.1 87.4L68.6 87.2M63.8 84.2L64.7 85.7L66.2 86.3L67.1 85.9M65.9 86.9L68.0 86.8M18.0 17.6L20.5 17.7L23.5 18.1L25.9 19.0L27.7 20.2L29.5 21.4L30.7 22.6M75.5 11.7L75.9 13.8L76.8 15.3L78.2 16.8M95.1 11.7L92.1 12.9L88.4 13.5L85.4 14.7L83.6 15.6M111.4 18.4L111.5 17.1L112.5 16.4L114.6 15.5L116.1 14.1L117.6 13.1L119.7 12.2" fill="none" stroke="#111" stroke-opacity="0.75" stroke-width="1.0" stroke-linecap="round"/>
<path transform="translate(18.2 188.3)" d="M38.9 19.9l-0.2 0.2M42.8 18.2l0.8 0.1M33.8 17.7l0.4 0.1M40.8 14.6l0.5 0.1M44.4 13.6l-0.2 0.5M50.7 20.7l-0.5 0.2M35.7 20.1l0.6 0.6M36.4 16.5l-0.3 0.4M43.0 20.6l0.5 0.1M45.4 17.7l0.5 0.5M41.3 18.7l-0.8 0.4M37.5 16.6l-0.1 0.8M46.3 18.8l-0.4 0.0M40.6 15.1l0.7 0.3M33.8 15.8l-0.6 0.4M48.9 18.6l-0.5 0.5M43.6 17.5l-1.1 0.4M41.6 15.9l1.0 0.1M44.8 13.3l-0.5 0.2M40.1 15.8l0.8 0.0M36.1 20.1l1.0 0.1M35.4 19.1l0.4 0.8M34.5 17.5l-0.2 0.8M47.9 14.3l0.5 0.4M39.6 14.1l-0.4 0.0M36.3 19.2l0.6 0.4M43.7 19.0l0.7 0.0M39.8 16.6l-1.0 0.1M42.4 16.2l-0.2 0.2M49.3 15.0l-1.0 0.3M40.2 17.9l0.9 0.2M34.2 20.5l0.4 0.2M39.2 20.6l0.5 0.0M34.9 18.2l1.2 0.1M44.2 19.9l0.5 0.3M39.7 20.1l-1.2 0.4M41.5 17.3l0.4 0.1M39.3 19.0l-0.4 0.2M48.4 20.1l-0.0 0.3M54.7 25.1l-0.1 0.9M58.5 21.5l0.5 0.3M50.1 21.1l-0.1 0.8M52.1 24.1l-1.1 0.5M58.4 20.9l-0.9 0.4M50.9 22.5l0.1 0.2M48.5 23.8l0.7 0.5M59.6 22.8l-1.3 0.2M59.6 23.3l0.4 0.2M50.5 24.2l-0.5 0.8M58.2 22.7l-0.5 0.7M61.1 20.1l-1.0 0.2M68.3 21.2l0.9 0.4M63.8 19.2l-0.7 0.0M64.5 18.4l-0.3 0.3M61.5 23.2l-1.1 0.2M61.7 19.1l-1.0 0.0M64.0 20.8l0.3 0.1M70.7 20.2l-0.1 0.9M64.9 18.8l-0.4 0.2M62.9 22.3l0.6 0.4M63.0 21.5l1.1 0.3M64.0 21.3l-0.3 0.8M64.7 18.5l-0.0 0.6M65.8 24.0l0.1 0.3M60.2 19.3l0.7 0.3M68.0 20.7l0.4 0.5M32.1 14.5l0.8 0.2M29.3 17.6l-0.6 0.4M32.1 14.7l-0.7 0.1M32.6 16.2l-0.0 0.7M31.2 16.0l0.1 0.9M33.4 14.0l-0.6 0.1M32.1 13.6l-0.4 0.1M28.2 16.6l0.5 0.1M35.9 9.2l-0.9 0.5M38.9 8.9l-0.2 0.3M66.6 7.4l1.0 0.6M48.2 10.3l-1.1 0.0M39.2 10.6l-0.0 0.4M40.5 11.3l-0.2 0.2M54.1 10.6l0.6 0.0M56.7 10.2l1.3 0.2M63.0 7.4l0.5 0.1M34.6 8.5l0.3 0.2M49.1 7.8l-0.5 0.2M38.8 7.7l-0.2 0.7M36.5 12.9l-0.4 0.4M35.8 7.6l-0.5 0.7M36.3 8.1l1.1 0.2M50.3 11.2l-0.2 0.8M43.2 12.5l-0.0 0.4M37.2 12.3l0.5 0.1M44.9 11.4l-0.4 0.3M52.0 12.2l0.1 0.2M42.6 13.1l-0.6 0.4M40.3 10.4l-0.4 0.1M64.1 10.6l0.0 0.8M48.0 10.2l-0.7 0.7M46.1 8.2l-0.6 0.5M48.4 11.1l0.4 0.1M35.8 8.8l0.3 0.2M36.3 8.2l-0.9 0.3M43.8 11.8l0.5 0.4M39.1 10.6l0.9 0.6M70.0 9.9l0.9 0.6M44.8 11.1l0.7 0.0M51.1 10.2l0.6 0.3M33.3 11.6l0.7 0.1M49.1 8.3l0.3 0.3M61.5 6.2l-0.7 0.5M64.5 4.7l0.2 0.4M70.6 7.8l-0.6 0.5M49.1 4.9l-0.9 0.2M64.9 5.0l0.7 0.2M59.7 4.9l-0.9 0.5M61.5 4.7l-0.5 0.6M53.4 8.3l0.6 0.2M50.5 4.9l-0.2 0.6M60.6 13.6l0.0 0.2M63.1 13.2l-0.0 0.6M61.1 16.5l-0.4 0.3M52.3 15.6l-0.3 0.3M62.3 12.2l0.0 0.5M58.3 13.6l-0.7 0.4M60.8 16.5l0.5 0.2M62.3 15.4l-0.1 0.2M52.1 15.6l-0.5 0.6M61.3 15.4l-0.0 0.5M124.3 17.6l-0.5 0.1M127.4 14.1l0.8 0.0M126.5 14.0l0.1 0.4M122.8 14.1l0.7 0.4M122.4 15.8l-0.4 0.0M126.5 15.9l-0.9 0.2M122.9 14.3l0.0 0.2M121.6 16.0l0.1 0.4M128.9 16.4l0.6 0.7M126.4 14.4l-0.4 0.1M143.1 14.6l-0.6 0.1M133.1 16.2l-0.9 0.0M132.9 16.0l0.2 0.2M128.2 14.0l0.8 0.7M151.9 12.0l-0.0 0.3M155.6 8.6l-1.0 0.3M163.4 8.8l-0.8 0.1M166.0 13.0l-0.5 0.4M167.0 10.1l0.2 0.2M172.3 12.6l0.1 0.4M153.4 9.7l-0.6 0.0M164.1 11.8l-0.1 0.5M149.4 12.5l1.0 0.5M159.4 12.2l-1.2 0.3M187.4 17.0l0.3 0.2M182.9 17.4l0.4 0.3M192.5 11.6l-0.5 0.4M185.9 14.3l0.2 0.4M171.1 16.0l-0.4 0.0M189.7 13.5l-0.5 0.2M179.9 16.3l0.2 0.5M208.6 11.9l-0.3 0.1M169.8 12.9l-0.7 0.2M193.2 18.0l0.4 0.8M192.8 44.7l-0.5 0.0M169.1 57.4l-0.1 0.7M196.6 47.1l-0.5 0.7M180.6 50.2l1.1 0.1M173.2 43.6l-0.3 0.4M169.7 55.6l-0.4 0.6M169.2 58.9l-0.1 0.6M178.3 56.1l-0.1 0.2M175.4 51.9l-0.9 0.1M194.7 51.6l0.4 0.3M197.2 47.4l0.2 0.2M181.9 48.0l0.1 0.4M187.5 43.5l0.3 0.2M176.6 52.6l-0.3 0.3M191.8 46.8l-0.0 0.4M197.6 54.5l-0.4 0.2M172.8 46.4l0.8 0.7M181.9 56.8l0.5 0.3M187.5 43.0l0.6 0.2M172.5 42.6l0.3 0.1M167.4 53.1l-1.1 0.3M189.7 42.2l-0.6 0.1M171.6 43.3l-0.2 0.2M187.4 53.3l0.2 0.4M171.1 60.1l0.4 0.4M197.1 57.9l-0.5 0.0M177.3 45.3l-0.6 0.3M167.1 51.6l0.5 0.8M171.8 53.6l-0.3 0.1M179.1 45.5l-0.3 0.2M199.2 67.9l-0.5 0.1M212.0 50.3l0.3 0.4M215.8 56.2l0.7 0.5M204.3 63.4l1.1 0.0M215.1 55.8l-0.3 0.0M202.8 59.2l-1.2 0.1M205.5 63.9l0.2 0.5M215.3 65.3l-0.8 0.4M24.8 45.9l-0.2 0.4M9.6 58.3l-0.3 0.2M5.9 46.5l0.3 0.2M1.0 52.6l0.7 0.8M26.6 39.5l0.3 0.2M2.9 54.2l-0.5 0.4M60.7 43.9l-0.4 0.6M68.4 39.5l-0.2 0.3M69.8 45.1l-0.1 0.5M68.3 46.1l0.4 0.3M59.5 39.1l-0.2 0.4M63.1 38.0l-0.0 0.4M69.3 41.5l-0.4 0.0M64.3 39.8l-1.1 0.4M57.8 45.1l0.5 0.1M125.0 31.0l-0.7 0.1M124.5 31.5l0.7 0.5M124.9 32.7l-0.3 0.6M121.4 31.8l0.5 0.2M121.6 30.9l-0.2 0.3M120.4 31.9l-0.3 0.3M121.8 32.4l-0.7 0.4M62.9 87.0l0.3 0.6M66.0 87.1l0.9 0.3M64.8 85.5l0.7 0.7M64.3 83.1l0.3 0.5M67.3 79.4l0.2 0.3M66.5 86.1l1.2 0.0M64.9 80.9l0.3 0.8M65.1 86.5l0.9 0.0M66.0 80.2l0.9 0.2M64.6 83.6l0.5 0.2M65.4 80.0l0.7 0.2M66.9 79.7l0.3 0.2M67.7 79.6l0.0 0.2M67.6 84.6l-0.9 0.2M67.0 86.5l-0.4 0.2M64.8 80.7l-0.4 0.2M63.8 84.5l-0.0 0.5M63.2 85.8l-0.8 0.6M103.7 19.4l-0.2 0.2M107.5 20.7l-0.3 0.6M106.5 20.1l0.2 0.6M105.5 19.1l0.1 0.5M114.6 6.6l0.0 0.4M123.5 6.1l0.1 0.3M120.0 8.1l0.7 0.2M115.4 7.1l-0.0 0.2M122.0 8.2l-0.7 0.6M120.5 8.3l-0.0 0.5M125.8 8.0l-1.2 0.4M144.2 5.1l1.1 0.5M141.3 4.9l-0.4 0.1M144.9 4.9l0.6 0.1M144.5 6.3l-0.5 0.1M145.2 6.4l-0.0 0.9M187.6 33.6l-0.0 0.4M185.7 34.3l1.1 0.4M192.7 27.5l0.9 0.4M186.6 31.0l-0.3 0.4M194.8 30.8l-0.3 0.8M186.4 26.5l-0.3 0.4M194.0 33.6l-0.9 0.0M189.2 28.7l0.1 0.3M15.7 21.5l-0.5 0.2M14.8 18.1l-0.3 0.7M11.8 21.7l0.4 0.0M14.6 20.1l-0.0 0.8M111.9 21.1l-0.1 0.2M111.3 20.8l0.6 0.2M112.3 20.3l-0.1 0.3M182.7 47.1l1.1 0.4M180.6 49.9l0.9 0.2M184.0 44.6l0.2 0.4M179.4 45.7l-0.1 0.4M182.8 47.4l-1.0 0.1M180.6 43.5l0.8 0.1M181.5 49.1l1.1 0.1M179.4 46.5l-0.4 0.1M111.6 18.9l-0.6 0.9M111.9 18.6l1.5 0.2M113.6 18.1l-1.2 0.4M114.2 17.4l0.5 0.3M113.8 17.1l-0.9 0.6M115.9 16.5l-0.2 0.7M116.3 16.1l-0.7 1.0M117.3 16.0l0.5 0.4M118.4 14.8l0.8 0.9M117.9 14.4l-0.5 0.8M119.9 14.1l-1.1 0.4M120.0 13.4l-0.2 0.6M120.6 13.6l-0.6 0.1M120.5 12.6l0.3 0.4M121.2 12.3l-0.5 0.8M122.4 11.7l0.6 0.9M19.2 18.4l-1.4 0.4M18.9 18.7l0.5 0.1M20.7 18.7l-1.0 0.4M20.1 19.3l-0.5 0.4M21.5 19.7l0.6 0.4M22.5 19.9l-1.0 0.1M23.7 20.5l0.3 0.7M24.1 20.4l-0.1 0.5M24.6 20.7l0.4 0.2M26.0 20.7l1.0 0.0M27.1 21.7l0.0 0.6M27.4 21.6l0.5 0.4M28.4 22.5l-0.2 0.4M29.6 22.4l-0.3 0.6M29.7 22.6l1.4 0.3M30.1 23.3l-1.0 0.2M76.2 11.8l0.1 0.8M76.4 12.3l0.4 0.5M76.7 12.7l-0.5 0.3M77.0 13.5l0.9 0.3M76.7 14.6l0.7 0.7M76.9 15.3l0.6 0.4M77.2 15.6l1.3 0.6M77.5 15.9l0.9 0.2M78.9 16.8l0.1 0.5M93.8 11.9l0.2 0.4M93.8 11.9l-0.0 0.8M91.5 12.4l0.4 0.9M90.2 13.0l-0.7 0.5M90.1 13.0l-1.0 0.6M88.1 13.8l0.1 0.6M86.2 14.3l-1.0 0.6M85.2 14.7l0.2 0.8M84.7 14.7l1.0 0.5M63.5 80.5l-0.5 0.0M63.4 80.8l-1.1 0.1M64.1 81.4l-0.7 0.6M64.9 82.4l0.4 1.0M64.9 83.0l-0.5 0.3M64.8 84.3l0.6 0.5M65.0 84.2l-0.5 0.5M65.0 84.8l-1.1 0.1M66.1 85.8l0.5 0.3M66.5 86.6l0.1 0.8M96.9 9.0l-0.6 0.9M96.2 7.9l-0.1 0.4M96.1 6.8l0.6 0.5M96.2 6.8l1.3 0.0M72.0 8.7l0.1 0.7M73.3 9.4l-1.4 0.2M73.9 9.4l-0.5 0.3M74.6 11.0l1.5 0.0" fill="none" stroke="#111" stroke-opacity="0.85" stroke-width="0.75" stroke-linecap="round"/>
<path transform="translate(18.2 188.3)" d="M0.0 101.3L9.0 101.3L13.2 100.5L18.0 100.2L21.1 99.6L27.1 99.0L33.1 98.4L39.1 98.7L43.3 99.3L48.1 98.1L54.1 98.1L60.2 98.3L63.2 97.5L67.4 95.7L68.6 93.9L71.0 93.0L73.7 92.2L72.2 93.0L71.0 93.9L69.2 95.1L71.6 97.5L72.2 99.3L78.2 100.8L84.2 101.1L87.2 100.8L91.5 99.9L96.3 98.4L101.1 97.2L105.3 96.6L108.3 96.0L114.3 96.3L120.3 96.3L126.4 95.7L129.4 95.7L132.4 95.4L135.4 94.8L138.4 94.2L141.4 93.9L144.4 94.6L149.2 94.9L150.4 95.4L152.2 96.0L155.2 95.1L159.4 94.2L165.5 93.9L168.5 93.6L174.5 93.9L180.5 94.2L186.5 93.9L192.5 94.2L198.5 95.1L204.6 96.3L207.6 96.9L210.6 97.5L210.6 98.7L207.6 99.9L207.6 101.1L210.6 101.1L216.6 101.3" fill="none" stroke="#1a1a1a" stroke-width="0.55" stroke-dasharray="3 1 1 1"/>
</g>
<path d="M45.5 188.3V296.60M72.5 188.3V296.60M99.5 188.3V296.60M126.5 188.3V296.60M153.5 188.3V296.60M180.5 188.3V296.60M207.5 188.3V296.60M18.2 215.5H234.80M18.2 242.5H234.80M18.2 269.5H234.80" stroke="#14140a" stroke-opacity="0.4" stroke-width="0.8" fill="none"/>
<path d="M18.2 188.3V296.6" stroke="#5c5c5c" stroke-width="1" fill="none"/>
<path d="M234.79999999999998 188.3V296.6" stroke="#888" stroke-width="1" fill="none"/>
<path d="M17.7 188.3H235.29999999999998" stroke="#666" stroke-width="1" fill="none"/>
<path d="M17.7 296.6H235.29999999999998" stroke="#7c7c7c" stroke-width="1" fill="none"/>
<text class="tk" transform="translate(19.0 303.2) scale(0.92 1)" text-anchor="middle">180°</text>
<text class="tk" transform="translate(46.1 303.2) scale(0.92 1)" text-anchor="middle">135°W</text>
<text class="tk" transform="translate(73.1 303.2) scale(0.92 1)" text-anchor="middle">90°W</text>
<text class="tk" transform="translate(100.2 303.2) scale(0.92 1)" text-anchor="middle">45°W</text>
<text class="tk" transform="translate(127.3 303.2) scale(0.92 1)" text-anchor="middle">0°</text>
<text class="tk" transform="translate(154.4 303.2) scale(0.92 1)" text-anchor="middle">45°E</text>
<text class="tk" transform="translate(181.4 303.2) scale(0.92 1)" text-anchor="middle">90°E</text>
<text class="tk" transform="translate(208.5 303.2) scale(0.92 1)" text-anchor="middle">135°E</text>
<text class="tk" transform="translate(235.6 303.2) scale(0.92 1)" text-anchor="middle">180°</text>
<text class="tk" transform="translate(16.2 217.4) scale(0.9 1)" text-anchor="end">45°N</text>
<text class="tk" transform="translate(16.2 244.5) scale(0.9 1)" text-anchor="end">0°</text>
<text class="tk" transform="translate(16.2 271.5) scale(0.9 1)" text-anchor="end">45°S</text>
<text class="tk" transform="translate(16.2 298.6) scale(0.9 1)" text-anchor="end">90°S</text>
<text class="tt" x="126.5" y="185.2" text-anchor="middle">Average_N2O_concentration_at_4.64_hPa</text>
<text class="lab" x="17.5" y="173.6">(c)</text>
</g>
<g id="panel-d">
<clipPath id="cpd"><rect x="273.2" y="187.7" width="216.6" height="108.3"/></clipPath>
<g clip-path="url(#cpd)">
<polygon points="273.2,187.5 489.8,187.5 489.8,296.0 273.2,296.0" fill="#fcfcff"/>
<polygon points="273.2,193.2 489.8,193.2 489.8,296.0 273.2,296.0" fill="#e2e2fa"/>
<polygon points="273.2,194.2 320.9,194.2 331.7,195.5 344.7,200.5 359.8,204.5 398.8,205.5 420.5,203.0 440.0,199.0 466.0,196.2 489.8,194.2 489.8,296.0 273.2,296.0" fill="#eeccd8"/>
<polygon points="273.2,215.2 489.8,215.2 489.8,296.0 273.2,296.0" fill="#a8dce0"/>
<polygon points="273.2,222.9 489.8,222.9 489.8,296.0 273.2,296.0" fill="#8abaec"/>
<polygon points="273.2,226.4 489.8,226.4 489.8,296.0 273.2,296.0" fill="#68f0c4"/>
<polygon points="273.2,231.6 489.8,231.6 489.8,296.0 273.2,296.0" fill="#44c4f4"/>
<polygon points="273.2,234.5 489.8,234.5 489.8,296.0 273.2,296.0" fill="#96ee84"/>
<polygon points="273.2,247.8 489.8,247.8 489.8,296.0 273.2,296.0" fill="#68f0c4"/>
<polygon points="273.2,250.2 489.8,250.2 489.8,296.0 273.2,296.0" fill="#44c4f4"/>
<polygon points="273.2,253.4 489.8,253.4 489.8,296.0 273.2,296.0" fill="#68f0c4"/>
<polygon points="273.2,256.4 489.8,256.4 489.8,296.0 273.2,296.0" fill="#8abaec"/>
<polygon points="273.2,267.4 489.8,267.4 489.8,296.0 273.2,296.0" fill="#a8dce0"/>
<polygon points="273.2,271.8 489.8,271.8 489.8,296.0 273.2,296.0" fill="#dcc8d2"/>
<polygon points="273.2,282.5 338.2,281.5 403.2,279.3 489.8,280.4 489.8,296.0 273.2,296.0" fill="#e2e2fa"/>
<polygon points="273.2,290.6 489.8,290.6 489.8,296.0 273.2,296.0" fill="#fcfcff"/>
<path transform="translate(273.2 187.7)" d="M14.1 11.3L18.0 11.7L22.3 12.0L26.5 12.6L31.3 12.0L36.1 12.3L39.1 13.2L43.3 13.2L46.9 13.2L50.5 13.2L51.7 10.8L54.1 12.6L56.6 13.2L59.0 12.3L59.6 13.8L56.6 14.4L55.4 15.6L52.3 16.8L51.4 18.7L52.6 19.9L55.4 20.2L57.2 20.9L59.0 21.1L59.0 22.3L60.2 23.3L60.8 22.9L60.8 21.4L62.0 20.5L62.0 19.3L61.4 18.0L61.4 16.5L63.8 16.7L66.2 17.4L66.5 18.7L68.6 19.0L69.5 17.9L71.0 19.6L71.6 20.8L73.4 21.4L74.6 22.9L72.2 24.1L68.6 23.9L66.2 25.9L69.2 24.7L69.5 25.9L71.6 26.5L70.4 27.4L68.6 28.0L68.6 27.1L68.0 27.2L66.2 28.0L65.9 28.9L63.8 29.8L62.9 31.3L62.6 33.1L61.4 33.7L59.6 35.2L60.2 37.9L59.9 39.0L59.0 38.2L58.5 36.7L57.8 36.1L56.6 35.9L54.5 36.0L54.1 36.7L51.7 36.4L49.9 37.6L49.6 39.1L49.5 40.7L50.5 42.7L51.7 43.2L53.5 42.9L53.8 41.5L56.0 41.2L55.7 43.0L55.1 44.5L56.6 44.5L58.2 45.1L58.1 47.5L59.0 48.7L60.2 48.6L61.7 49.0L61.7 49.6L60.2 49.8L59.6 49.3L58.4 49.0L56.7 48.1L55.7 46.3L53.5 45.7L51.7 44.5L49.9 44.6L47.5 43.7L44.8 42.1L44.8 40.6L43.3 39.1L42.1 37.6L40.6 36.1L39.3 35.1L39.4 36.1L40.9 37.9L41.8 39.4L42.4 40.3L40.9 39.1L39.4 37.3L38.8 36.1L37.9 34.6L37.0 33.7L35.8 33.4L34.9 32.2L34.6 31.3L33.7 29.9L33.5 28.3L33.7 26.4L33.3 25.0L34.6 25.6L34.3 24.7L33.1 24.1L31.6 23.2L30.1 21.4L28.3 20.2L26.8 19.0L25.3 18.4L23.5 18.0L21.1 17.7L19.3 17.6L18.0 18.4L16.8 17.6L15.6 19.0L13.2 20.2L10.8 21.1L9.3 21.2L11.4 20.5L13.2 19.0L10.8 18.7L9.0 17.4L8.4 16.2L11.4 15.5L9.0 15.3L7.2 14.7L10.2 14.1L9.0 13.1L10.8 12.0L14.1 11.3M34.0 25.0L32.8 24.8L31.1 23.6L32.8 23.9L34.0 25.0M72.7 25.5L74.6 26.0L76.4 26.1L76.5 25.3L75.8 24.4L74.7 23.2L73.7 23.8L72.7 25.5M68.6 16.8L67.4 15.8L69.5 16.2L69.8 15.0L67.7 14.3L71.3 14.0L69.2 13.2L67.4 12.0L65.0 11.1L61.4 10.3L59.6 9.8L56.6 9.7L54.1 9.9L54.8 11.4L57.2 12.0L60.8 12.0L63.2 13.1L64.4 13.8L64.4 14.7L61.1 15.2L63.8 15.4L65.6 16.4L68.6 16.8M37.3 11.4L38.5 12.5L40.9 12.9L45.1 12.8L47.2 12.3L45.7 11.4L45.1 10.3L43.3 10.0L40.9 10.5L39.1 10.0L37.0 10.5L37.3 11.4M33.1 10.8L34.3 11.4L36.4 11.0L37.6 9.9L35.5 9.3L33.4 9.7L33.1 10.8M37.9 8.8L42.1 9.3L44.5 8.9L42.7 8.1L39.1 8.2L37.9 8.8M46.9 10.8L49.9 10.8L49.3 9.7L47.2 9.9L46.9 10.8M50.8 10.7L53.8 10.4L53.8 9.6L51.1 9.6L50.8 10.7M52.9 9.2L60.2 9.2L60.2 8.6L55.4 8.1L52.9 8.4L52.9 9.2M55.4 8.1L61.4 8.2L63.2 6.9L67.4 5.7L71.0 4.6L66.2 4.2L59.0 4.3L52.9 5.1L56.0 6.0L55.4 7.2L55.4 8.1M51.1 6.3L55.4 7.0L56.0 5.7L52.3 5.2L51.1 6.3M56.0 15.6L57.8 16.2L59.6 15.8L59.9 15.3L57.8 14.4L56.0 15.3L56.0 15.6M48.1 8.7L49.9 8.7L48.7 8.1L46.9 8.4L48.1 8.7M48.7 12.6L50.5 12.8L50.5 12.2L49.0 12.2L48.7 12.6M64.4 7.1L67.4 8.4L72.2 8.4L74.6 10.2L75.8 12.0L77.6 12.3L76.1 13.8L77.0 15.6L78.8 17.1L81.8 18.0L82.7 16.8L84.2 15.0L86.0 14.6L89.0 13.2L93.3 12.6L95.1 11.7L95.1 10.2L96.9 8.7L96.3 7.2L98.1 6.0L101.1 5.1L95.1 4.6L89.0 3.9L81.2 4.3L73.4 4.7L69.8 5.3L68.0 6.0L64.4 7.1M93.9 14.7L95.1 15.6L96.9 16.0L99.6 15.5L100.1 14.7L98.7 14.1L96.3 14.4L94.8 14.2L93.9 14.7M61.7 49.0L62.9 47.7L64.4 47.4L65.3 46.7L65.3 47.7L66.8 47.2L68.6 47.8L71.0 47.8L72.2 49.0L74.0 50.5L75.8 50.7L77.3 51.4L78.2 53.2L78.2 54.1L79.4 54.8L81.5 55.7L84.2 56.0L86.0 57.2L87.2 58.1L87.2 59.6L85.7 61.4L84.8 62.9L84.8 65.0L83.6 67.4L82.4 68.0L80.6 68.6L79.1 69.8L79.0 71.3L77.0 73.7L76.1 74.7L74.6 75.1L73.2 74.6L74.0 76.1L73.4 77.3L71.0 77.6L70.8 78.8L69.2 78.8L69.8 79.8L69.0 81.2L67.7 82.0L68.7 82.9L67.4 84.2L66.8 85.6L67.1 85.9L69.1 87.1L68.0 87.5L66.2 87.2L65.0 86.6L63.8 85.7L62.9 84.2L62.9 82.4L63.8 80.6L63.9 79.1L64.1 76.4L65.0 74.0L65.3 72.2L65.9 69.2L66.0 65.3L65.0 64.4L62.6 62.6L61.4 60.5L60.3 58.4L59.4 57.2L60.2 56.0L59.7 54.8L60.2 53.8L61.1 52.9L61.8 51.7L61.7 49.6M71.6 85.1L73.4 85.1L72.8 85.6L71.6 85.1M127.9 36.1L128.8 37.9L129.7 39.7L130.6 41.2L130.9 43.0L132.1 44.8L134.1 46.5L134.4 47.2L136.6 47.4L139.1 47.0L138.9 48.7L137.2 51.4L134.8 53.5L133.3 55.2L132.1 56.9L131.8 58.4L132.4 60.5L132.8 62.9L130.6 64.7L129.4 66.2L129.7 68.6L128.2 69.7L128.0 71.0L126.4 73.1L123.9 74.6L121.5 74.8L120.3 75.1L119.3 74.7L119.3 73.4L118.2 71.3L117.3 69.8L117.0 67.7L115.5 64.7L116.4 61.7L116.0 59.3L115.5 57.2L113.8 54.8L114.0 52.9L114.1 51.7L113.4 51.4L111.9 51.6L111.0 50.4L109.0 50.5L107.1 51.3L105.6 51.0L103.8 51.5L102.6 50.5L100.8 49.5L100.3 48.4L99.3 47.5L98.2 46.6L97.8 45.3L98.5 44.2L98.5 42.4L98.1 41.5L98.7 39.9L99.6 38.4L100.5 37.4L102.3 36.4L102.5 35.2L103.5 34.0L104.7 32.8L105.0 32.6L107.1 33.0L108.9 32.2L111.3 32.0L114.3 31.7L114.9 33.1L114.4 33.8L115.5 34.4L117.6 34.9L119.7 35.9L120.3 34.6L122.1 34.5L123.6 35.1L125.7 35.5L127.7 35.3L127.9 36.1M138.0 61.4L138.6 63.5L138.0 65.0L137.0 68.0L135.6 69.5L134.7 68.0L135.0 66.2L134.8 64.4L136.3 63.6L137.2 62.3L138.0 61.4M127.7 35.3L128.9 35.3L129.7 34.0L130.0 32.5L130.0 32.0L128.2 32.4L126.7 32.2L125.1 32.1L124.5 31.0L124.1 30.1L125.7 29.5L127.3 29.4L129.4 28.9L131.2 29.5L133.3 29.2L132.4 28.0L130.6 27.1L131.5 25.9L129.4 26.4L128.5 27.4L128.2 26.5L126.8 26.2L126.0 27.1L125.1 28.0L125.1 29.2L124.2 29.6L122.7 29.6L122.4 30.1L122.0 29.8L122.1 30.7L122.7 31.3L122.1 32.2L121.2 31.9L120.9 30.7L120.0 29.8L120.0 28.9L117.9 28.0L116.7 27.0L116.4 26.7L115.7 26.9L115.8 27.7L116.7 28.6L117.9 29.0L119.4 30.0L118.5 29.8L118.2 30.4L118.5 30.7L117.9 31.3L117.7 30.1L116.7 29.5L115.5 28.9L114.6 28.3L114.3 27.7L113.6 27.4L112.8 27.8L111.3 28.1L110.2 28.2L110.2 28.9L108.8 29.5L108.1 30.4L108.3 30.9L107.9 31.5L107.1 32.0L105.6 32.1L104.9 32.5L104.5 32.0L103.8 31.8L102.9 31.9L103.0 31.0L102.6 30.8L103.0 29.5L102.9 28.3L103.5 27.9L105.3 28.0L107.2 28.0L107.6 27.1L107.6 26.4L106.8 25.7L105.6 25.4L105.5 25.0L107.1 24.9L107.4 24.2L108.4 24.4L109.3 23.8L110.1 23.3L111.0 22.6L111.3 22.1L112.5 22.0L113.7 21.7L113.3 20.8L113.2 19.9L114.6 19.4L114.6 20.5L114.3 21.2L114.9 21.7L116.7 21.7L119.4 21.2L120.2 21.4L120.9 20.9L120.9 19.9L121.5 19.4L122.9 19.7L122.4 18.7L125.1 18.3L126.4 18.0L124.5 17.7L122.1 18.0L121.2 17.4L121.1 16.2L123.3 15.0L123.5 14.7L121.5 14.6L120.9 15.3L118.8 16.5L118.7 17.4L119.6 18.0L118.2 19.0L118.1 19.9L117.6 20.3L116.8 20.8L116.1 20.8L115.8 20.3L115.0 19.0L114.6 18.5L113.4 19.1L112.5 19.3L111.6 18.7L111.3 17.4L111.9 16.5L113.4 15.9L114.6 15.3L115.8 14.4L116.7 13.5L117.9 12.9L119.4 12.2L121.2 11.9L123.8 11.4L125.4 11.6L127.0 11.9L128.2 12.4L130.0 12.5L133.0 13.5L133.0 14.3L131.2 14.4L128.8 14.0L129.1 15.0L129.4 15.5L130.9 15.6L132.7 15.3L132.4 14.4L133.9 14.1L134.8 14.4L134.9 13.1L136.0 13.1L136.1 14.0L137.8 13.2L140.5 12.9L142.6 12.9L144.7 12.2L146.8 12.5L148.6 12.8L148.6 11.1L149.8 10.2L151.9 10.3L152.0 12.0L152.7 13.8L152.5 12.6L153.4 10.8L155.2 10.7L156.7 9.9L160.3 9.6L160.6 9.0L164.3 8.4L167.3 8.3L171.1 7.4L172.1 8.1L175.7 8.1L176.6 9.6L174.5 9.7L176.9 9.9L179.9 10.2L182.9 9.8L184.7 10.5L186.2 11.4L187.1 11.6L188.3 11.1L191.0 11.2L192.5 10.6L196.1 10.6L198.5 11.1L200.4 11.6L204.0 12.0L204.6 12.3L207.3 12.3L209.7 12.0L210.9 12.6L214.2 12.2L216.6 12.8M0.0 12.8L2.4 13.5L4.8 13.8L6.1 14.4L4.5 15.3L2.7 15.2L0.9 14.4L0.0 14.7M216.6 15.0L214.8 15.2L216.0 16.5L213.0 17.0L210.8 18.0L208.2 18.0L207.0 18.2L206.4 19.3L206.1 20.5L205.6 21.1L204.6 22.1L203.7 22.4L202.6 23.5L202.0 22.3L202.0 20.5L202.8 19.4L204.3 18.4L206.4 17.1L207.0 16.5L204.6 17.0L202.5 17.1L201.6 18.5L199.8 18.7L197.3 18.4L194.3 18.5L192.5 19.6L191.0 21.1L189.8 21.3L191.3 21.8L193.3 22.1L192.8 23.5L192.7 25.0L191.6 26.2L189.8 27.7L188.3 28.4L187.1 28.6L186.3 29.2L185.0 30.2L186.2 31.9L186.1 32.9L184.4 33.5L184.4 31.9L183.5 31.3L183.7 30.4L183.1 30.1L181.5 30.7L181.7 29.8L181.1 29.5L179.6 30.7L179.1 31.0L179.9 31.7L181.1 31.5L182.0 31.9L180.1 33.1L181.0 34.5L181.6 35.5L181.5 36.4L180.8 37.6L180.2 38.8L179.0 39.7L178.1 40.3L176.9 40.7L175.1 41.2L174.4 41.9L174.2 41.2L173.3 41.2L172.4 42.1L172.0 42.7L172.7 43.9L173.9 44.9L174.1 46.6L173.0 47.8L172.5 48.4L171.5 48.9L171.5 48.0L170.3 47.5L169.1 46.4L168.8 46.0L168.5 47.2L168.0 48.6L168.6 49.3L169.4 50.1L170.5 51.4L170.6 53.2L170.9 53.4L169.3 52.5L168.7 50.8L167.9 49.3L167.4 49.3L167.6 47.8L167.3 46.0L167.0 44.5L166.4 44.2L165.6 44.6L165.0 44.2L164.9 42.4L163.8 41.5L163.5 40.6L162.8 40.8L161.8 41.0L160.6 41.3L160.5 42.1L159.4 42.4L157.8 43.9L156.6 44.8L156.6 46.2L156.3 48.0L155.8 48.6L155.2 49.0L154.9 49.3L154.2 48.4L153.4 46.6L152.5 44.5L152.1 42.7L152.0 41.5L151.7 41.0L150.6 41.6L149.8 40.7L150.6 40.3L149.4 40.0L148.6 39.2L146.8 39.0L145.3 39.0L142.8 38.7L142.3 37.9L140.8 38.1L139.6 37.5L138.7 36.4L137.8 35.9L137.2 36.2L137.7 37.4L138.5 38.2L138.9 39.1L139.3 38.5L139.3 39.4L140.8 39.6L142.0 38.4L142.4 39.4L143.6 40.0L144.3 40.6L143.5 41.8L143.0 42.7L141.6 43.7L139.7 44.6L137.7 45.7L135.4 46.4L134.5 46.5L134.1 45.2L133.9 44.0L132.7 42.2L131.8 41.2L130.7 39.4L129.5 37.3L129.4 36.4L128.9 37.3L128.2 36.7L127.9 36.1M136.6 27.1L138.1 26.2L140.2 26.0L140.2 27.1L139.0 27.4L138.6 28.3L139.9 28.6L140.2 29.8L140.5 30.7L140.8 31.9L139.0 32.1L137.8 31.6L137.8 30.7L138.1 29.8L136.9 28.3L136.6 27.1M143.5 26.2L145.0 26.5L145.0 27.4L143.5 27.9L143.5 26.2M104.9 24.1L106.2 23.9L107.7 23.6L109.1 23.3L108.6 23.2L109.3 22.4L108.4 22.3L108.2 21.7L107.4 21.1L107.1 20.5L106.5 20.5L107.1 19.4L105.9 19.4L106.5 18.9L105.3 18.9L104.8 19.6L105.0 20.5L105.4 21.1L106.5 21.1L106.2 21.5L106.5 22.0L105.6 22.1L105.8 22.6L105.2 23.0L106.4 23.2L105.8 23.3L104.9 24.1M102.3 23.1L103.5 23.0L104.5 22.7L104.7 22.0L105.0 21.4L104.4 20.9L103.3 20.9L103.2 21.4L102.3 21.5L102.6 22.1L102.1 22.7L102.3 23.1M139.3 11.1L140.5 11.6L142.9 11.6L141.7 10.5L142.0 9.6L144.4 8.5L148.0 8.0L149.5 7.9L145.6 8.3L142.6 9.0L141.4 10.0L140.2 10.5L139.3 11.1M114.9 6.3L116.7 7.5L118.5 8.1L119.7 7.2L120.9 6.9L124.5 6.0L120.3 5.7L117.9 6.0L114.9 6.3M165.5 6.6L168.5 7.2L171.5 6.9L168.5 6.0L165.5 5.4L165.5 6.6M190.7 8.7L194.3 9.0L198.5 8.9L196.1 8.4L191.9 8.3L190.7 8.7M136.6 5.7L141.4 6.0L145.6 5.5L143.2 5.1L138.4 5.4L136.6 5.7M193.7 21.5L194.3 22.3L194.5 24.1L195.2 24.7L194.3 25.9L194.6 26.5L193.7 26.5L193.7 25.3L193.7 23.5L193.7 21.5M192.5 29.2L193.4 28.6L194.5 28.9L195.8 28.1L195.1 27.7L193.6 26.8L193.4 28.0L192.5 28.4L192.5 29.2M193.3 29.3L193.7 30.4L193.1 31.4L193.0 32.7L192.4 33.1L191.8 33.3L190.7 33.3L190.0 34.0L189.5 33.4L188.3 33.5L187.1 33.7L187.5 34.3L187.3 35.3L186.8 35.4L186.5 34.6L186.3 34.1L187.1 33.7L187.1 33.5L188.0 32.9L188.9 32.7L190.1 32.7L190.6 31.8L190.9 32.0L191.8 31.5L192.4 30.4L192.5 29.7L193.3 29.3M187.9 34.1L188.3 34.4L189.1 34.1L189.3 33.6L188.6 33.6L187.9 34.1M181.1 39.0L181.7 39.1L181.1 40.9L180.6 40.3L181.1 39.0M173.7 42.5L174.5 42.1L175.1 42.3L174.5 43.1L173.7 43.0L173.7 42.5M156.4 48.3L157.2 49.0L157.5 49.9L156.9 50.5L156.3 49.9L156.4 48.3M180.8 43.0L181.8 43.0L181.7 44.2L181.4 45.1L182.0 45.7L182.9 46.3L182.0 46.0L181.1 45.9L180.7 45.2L180.5 44.5L180.8 43.0M181.7 49.9L182.6 49.0L183.8 48.3L184.4 49.6L183.8 50.5L182.9 50.4L182.6 49.6L181.7 49.9M183.2 46.6L183.8 47.5L183.5 48.1L183.2 47.5L183.2 46.6M181.7 47.2L182.4 47.5L182.4 48.6L182.0 48.3L181.7 47.2M178.8 49.0L180.2 47.8L180.1 47.4L178.8 49.0M173.9 53.2L174.5 53.1L175.3 52.5L176.3 52.2L177.2 51.3L178.1 50.1L178.8 49.9L179.9 51.0L179.3 51.6L179.2 52.9L179.9 53.5L179.0 54.6L178.4 55.7L178.1 56.6L177.2 56.6L176.3 56.1L175.4 56.1L174.6 55.8L174.2 54.6L173.9 53.8L173.9 53.2M165.6 50.8L167.0 51.0L168.6 52.6L170.3 53.8L171.2 55.1L172.1 56.0L172.0 57.6L171.2 57.6L169.9 56.6L168.8 55.1L167.7 53.2L166.7 52.2L165.6 50.8M171.7 58.1L172.6 57.8L173.6 58.1L175.1 58.1L176.3 58.4L177.2 58.8L177.1 59.4L175.1 59.1L173.3 58.8L172.4 58.5L171.7 58.1M177.5 59.1L178.7 59.1L179.9 59.2L182.2 59.1L182.2 59.4L179.9 59.4L178.1 59.5L177.5 59.1M182.6 60.3L183.5 59.6L184.8 59.2L183.5 60.0L182.6 60.3M180.4 53.7L181.0 53.4L182.3 53.5L183.5 53.2L183.1 53.9L181.1 53.8L180.6 54.6L181.4 54.7L182.5 54.6L181.7 55.2L181.5 55.8L182.0 56.3L182.3 56.9L182.0 57.5L181.4 57.0L181.0 55.8L180.7 56.3L180.7 57.5L180.2 57.5L180.1 56.3L179.8 55.8L180.3 54.5L180.4 53.7M185.1 52.9L185.7 53.4L185.3 54.6L185.1 53.8L185.1 52.9M185.3 56.0L187.0 56.1L185.9 56.2L185.3 56.0M187.1 54.6L188.0 54.4L188.9 54.6L189.0 55.7L189.5 56.1L190.7 55.1L191.6 55.2L193.1 55.7L195.2 56.4L196.0 57.3L197.0 57.8L197.2 58.4L197.3 59.3L198.9 60.4L198.5 60.5L197.0 60.2L196.1 59.3L195.2 58.8L194.6 59.3L194.0 59.7L193.1 59.6L191.9 59.0L191.3 59.1L191.2 58.5L191.8 58.2L191.3 57.5L189.8 56.8L188.6 56.4L188.2 56.6L187.7 55.9L188.8 55.5L187.8 55.5L187.1 55.0L187.1 54.6M197.5 57.6L198.5 57.5L199.9 56.7L199.8 57.3L198.9 57.9L197.5 57.6M194.0 60.6L194.6 62.9L195.7 63.2L196.1 65.3L197.9 67.1L199.0 68.3L200.4 69.5L200.7 71.3L200.1 73.7L199.2 74.7L198.5 76.6L197.0 77.0L196.3 77.6L195.2 77.1L194.0 77.3L192.8 77.0L192.2 75.8L191.5 75.5L191.2 75.3L191.2 74.0L190.1 75.2L189.7 74.9L188.9 73.9L187.4 73.1L185.6 73.4L184.1 73.6L182.9 74.0L182.6 74.6L180.5 74.6L179.3 75.2L177.6 74.8L177.9 73.1L177.2 71.6L176.7 69.8L176.6 68.6L177.0 67.4L178.4 66.5L179.9 66.2L181.4 65.6L181.9 64.4L182.7 64.0L183.8 62.9L184.7 62.6L185.6 63.1L186.3 63.1L186.8 61.7L188.0 61.1L189.5 61.5L190.6 61.4L190.1 62.3L189.8 63.2L191.0 63.8L192.2 64.7L193.1 64.6L193.5 63.2L193.6 61.7L194.0 60.6M195.4 78.6L196.4 78.9L197.5 78.8L197.5 79.5L197.0 80.2L196.1 80.3L195.7 79.6L195.4 78.6M212.2 74.9L213.3 76.1L214.1 76.4L214.8 77.0L215.7 76.8L215.3 77.8L214.8 77.9L214.5 78.7L213.8 79.2L213.5 78.7L213.5 78.1L212.9 77.8L213.4 77.3L213.4 76.4L212.4 75.2L212.2 74.9M212.2 78.5L213.1 79.0L213.0 79.4L212.3 80.3L211.4 80.8L211.2 81.7L210.3 82.1L209.6 82.2L208.5 81.8L209.1 81.1L209.7 80.6L211.1 79.9L211.8 78.8L212.2 78.5M207.0 66.3L208.8 67.6L207.6 67.0L207.0 66.3M57.2 41.0L58.4 40.3L59.9 40.3L62.0 41.2L63.7 42.0L61.7 42.2L61.4 41.8L60.2 41.1L59.0 40.6L57.8 41.0L57.2 41.0M63.5 42.2L65.0 42.2L66.3 42.5L67.1 43.0L66.2 43.1L65.3 43.5L64.7 43.2L63.5 43.1L64.6 43.0L64.1 42.3L63.5 42.2M61.2 43.1L62.4 43.3L61.9 43.4L61.2 43.1M67.9 43.0L68.8 43.1L67.9 43.3L67.9 43.0M52.9 26.1L55.4 25.0L57.2 25.4L57.5 26.2L56.0 26.2L54.1 26.1L52.9 26.1M55.5 28.9L56.4 28.9L56.4 27.7L57.2 26.6L56.0 26.7L55.5 27.7L55.5 28.9M57.5 26.5L59.3 26.5L60.2 27.2L59.1 28.2L58.7 28.1L58.1 27.4L58.2 27.0L57.5 26.5M58.2 29.1L59.6 29.1L60.8 28.5L59.9 28.5L58.7 28.8L58.2 29.1M60.3 28.1L62.0 28.1L62.4 27.7L61.4 27.7L60.3 28.1M48.7 22.0L49.9 23.8L50.4 23.5L49.6 21.8L48.7 22.0M37.9 17.4L39.7 17.4L42.1 16.5L40.9 16.4L39.1 16.9L37.9 17.4M33.1 14.3L34.9 15.0L37.3 14.4L36.7 13.8L34.3 13.8L33.1 14.3M41.2 18.8L43.3 18.5L45.1 18.5L43.3 18.7L41.2 18.8M170.8 23.2L171.8 23.0L173.3 22.1L174.4 20.8L173.9 20.6L172.7 22.0L171.5 22.7L170.8 23.2M127.4 54.0L128.8 54.0L128.8 55.4L127.6 55.8L127.4 54.8L127.4 54.0M125.9 56.2L126.2 57.5L127.0 59.3L126.6 59.1L125.9 57.5L125.9 56.2M128.8 59.9L129.2 61.1L129.5 62.8L129.1 62.6L128.9 61.1L128.8 59.9M126.5 18.0L128.0 17.9L127.9 17.1L126.7 17.3L126.5 18.0M129.1 17.4L130.1 17.3L129.7 16.5L129.1 16.8L129.1 17.4M152.5 26.8L153.4 26.1L155.8 26.3L155.2 26.7L153.4 27.1L152.5 26.8M66.2 63.4L66.8 63.9L66.5 64.0L66.2 63.4M14.4 42.0L15.0 42.2L14.7 42.7L14.4 42.4L14.4 42.0M15.3 19.6L16.7 19.3L16.5 19.7L15.6 20.0L15.3 19.6M61.7 13.7L62.9 13.7L62.6 13.1L61.7 13.7M113.5 28.3L114.0 28.5L114.1 29.5L114.1 30.6L113.4 30.7L113.3 29.6L113.6 29.2L113.5 28.3M115.8 31.3L117.6 31.2L117.4 32.1L115.8 31.5L115.8 31.3M122.4 32.8L124.1 33.0L122.7 33.1L122.4 32.8M127.7 33.1L129.1 32.7L128.5 33.3L127.7 33.1M140.4 46.6L141.1 46.6L140.4 46.6M149.7 83.6L150.7 83.8L150.1 84.1L149.7 83.6M85.4 86.6L86.6 86.9L85.4 86.6M114.9 20.6L115.9 20.5L115.7 21.1L114.9 20.6M119.3 19.9L119.7 19.3L119.6 19.7L119.3 19.9M185.1 38.4L185.5 38.0L185.1 38.4M196.1 27.4L197.6 26.8L198.5 26.4L199.8 25.7L201.0 24.7L201.9 23.9M8.4 21.7L6.9 22.1L4.8 22.7L3.0 22.9L1.2 23.0M212.1 22.3L213.6 22.6L215.4 22.9" fill="none" stroke="#161616" stroke-opacity="0.55" stroke-width="0.6" stroke-linejoin="round"/>
<path transform="translate(273.2 187.7)" d="M14.1 11.3L18.0 11.7L22.3 12.0L26.5 12.6L31.3 12.0L36.1 12.3L39.1 13.2L43.3 13.2L46.9 13.2L50.5 13.2L51.7 10.8L54.1 12.6L56.6 13.2L59.0 12.3L59.6 13.8L56.6 14.4L55.4 15.6L52.3 16.8L51.4 18.7L52.6 19.9L55.4 20.2L57.2 20.9L59.0 21.1L59.0 22.3L60.2 23.3L60.8 22.9L60.8 21.4L62.0 20.5L62.0 19.3L61.4 18.0L61.4 16.5L63.8 16.7L66.2 17.4L66.5 18.7L68.6 19.0L69.5 17.9L71.0 19.6L71.6 20.8L73.4 21.4L74.6 22.9L72.2 24.1L68.6 23.9L66.2 25.9L69.2 24.7L69.5 25.9L71.6 26.5L70.4 27.4L68.6 28.0L68.6 27.1L68.0 27.2L66.2 28.0L65.9 28.9L63.8 29.8L62.9 31.3L62.6 33.1L61.4 33.7L59.6 35.2L60.2 37.9L59.9 39.0L59.0 38.2L58.5 36.7L57.8 36.1L56.6 35.9L54.5 36.0L54.1 36.7L51.7 36.4L49.9 37.6L49.6 39.1L49.5 40.7L50.5 42.7L51.7 43.2L53.5 42.9L53.8 41.5L56.0 41.2L55.7 43.0L55.1 44.5L56.6 44.5L58.2 45.1L58.1 47.5L59.0 48.7L60.2 48.6L61.7 49.0L61.7 49.6L60.2 49.8L59.6 49.3L58.4 49.0L56.7 48.1L55.7 46.3L53.5 45.7L51.7 44.5L49.9 44.6L47.5 43.7L44.8 42.1L44.8 40.6L43.3 39.1L42.1 37.6L40.6 36.1L39.3 35.1L39.4 36.1L40.9 37.9L41.8 39.4L42.4 40.3L40.9 39.1L39.4 37.3L38.8 36.1L37.9 34.6L37.0 33.7L35.8 33.4L34.9 32.2L34.6 31.3L33.7 29.9L33.5 28.3L33.7 26.4L33.3 25.0L34.6 25.6L34.3 24.7L33.1 24.1L31.6 23.2L30.1 21.4L28.3 20.2L26.8 19.0L25.3 18.4L23.5 18.0L21.1 17.7L19.3 17.6L18.0 18.4L16.8 17.6L15.6 19.0L13.2 20.2L10.8 21.1L9.3 21.2L11.4 20.5L13.2 19.0L10.8 18.7L9.0 17.4L8.4 16.2L11.4 15.5L9.0 15.3L7.2 14.7L10.2 14.1L9.0 13.1L10.8 12.0L14.1 11.3M34.0 25.0L32.8 24.8L31.1 23.6L32.8 23.9L34.0 25.0M72.7 25.5L74.6 26.0L76.4 26.1L76.5 25.3L75.8 24.4L74.7 23.2L73.7 23.8L72.7 25.5M68.6 16.8L67.4 15.8L69.5 16.2L69.8 15.0L67.7 14.3L71.3 14.0L69.2 13.2L67.4 12.0L65.0 11.1L61.4 10.3L59.6 9.8L56.6 9.7L54.1 9.9L54.8 11.4L57.2 12.0L60.8 12.0L63.2 13.1L64.4 13.8L64.4 14.7L61.1 15.2L63.8 15.4L65.6 16.4L68.6 16.8M37.3 11.4L38.5 12.5L40.9 12.9L45.1 12.8L47.2 12.3L45.7 11.4L45.1 10.3L43.3 10.0L40.9 10.5L39.1 10.0L37.0 10.5L37.3 11.4M33.1 10.8L34.3 11.4L36.4 11.0L37.6 9.9L35.5 9.3L33.4 9.7L33.1 10.8M37.9 8.8L42.1 9.3L44.5 8.9L42.7 8.1L39.1 8.2L37.9 8.8M46.9 10.8L49.9 10.8L49.3 9.7L47.2 9.9L46.9 10.8M50.8 10.7L53.8 10.4L53.8 9.6L51.1 9.6L50.8 10.7M52.9 9.2L60.2 9.2L60.2 8.6L55.4 8.1L52.9 8.4L52.9 9.2M55.4 8.1L61.4 8.2L63.2 6.9L67.4 5.7L71.0 4.6L66.2 4.2L59.0 4.3L52.9 5.1L56.0 6.0L55.4 7.2L55.4 8.1M51.1 6.3L55.4 7.0L56.0 5.7L52.3 5.2L51.1 6.3M56.0 15.6L57.8 16.2L59.6 15.8L59.9 15.3L57.8 14.4L56.0 15.3L56.0 15.6M48.1 8.7L49.9 8.7L48.7 8.1L46.9 8.4L48.1 8.7M48.7 12.6L50.5 12.8L50.5 12.2L49.0 12.2L48.7 12.6M64.4 7.1L67.4 8.4L72.2 8.4L74.6 10.2L75.8 12.0L77.6 12.3L76.1 13.8L77.0 15.6L78.8 17.1L81.8 18.0L82.7 16.8L84.2 15.0L86.0 14.6L89.0 13.2L93.3 12.6L95.1 11.7L95.1 10.2L96.9 8.7L96.3 7.2L98.1 6.0L101.1 5.1L95.1 4.6L89.0 3.9L81.2 4.3L73.4 4.7L69.8 5.3L68.0 6.0L64.4 7.1M93.9 14.7L95.1 15.6L96.9 16.0L99.6 15.5L100.1 14.7L98.7 14.1L96.3 14.4L94.8 14.2L93.9 14.7M61.7 49.0L62.9 47.7L64.4 47.4L65.3 46.7L65.3 47.7L66.8 47.2L68.6 47.8L71.0 47.8L72.2 49.0L74.0 50.5L75.8 50.7L77.3 51.4L78.2 53.2L78.2 54.1L79.4 54.8L81.5 55.7L84.2 56.0L86.0 57.2L87.2 58.1L87.2 59.6L85.7 61.4L84.8 62.9L84.8 65.0L83.6 67.4L82.4 68.0L80.6 68.6L79.1 69.8L79.0 71.3L77.0 73.7L76.1 74.7L74.6 75.1L73.2 74.6L74.0 76.1L73.4 77.3L71.0 77.6L70.8 78.8L69.2 78.8L69.8 79.8L69.0 81.2L67.7 82.0L68.7 82.9L67.4 84.2L66.8 85.6L67.1 85.9L69.1 87.1L68.0 87.5L66.2 87.2L65.0 86.6L63.8 85.7L62.9 84.2L62.9 82.4L63.8 80.6L63.9 79.1L64.1 76.4L65.0 74.0L65.3 72.2L65.9 69.2L66.0 65.3L65.0 64.4L62.6 62.6L61.4 60.5L60.3 58.4L59.4 57.2L60.2 56.0L59.7 54.8L60.2 53.8L61.1 52.9L61.8 51.7L61.7 49.6M71.6 85.1L73.4 85.1L72.8 85.6L71.6 85.1M127.9 36.1L128.8 37.9L129.7 39.7L130.6 41.2L130.9 43.0L132.1 44.8L134.1 46.5L134.4 47.2L136.6 47.4L139.1 47.0L138.9 48.7L137.2 51.4L134.8 53.5L133.3 55.2L132.1 56.9L131.8 58.4L132.4 60.5L132.8 62.9L130.6 64.7L129.4 66.2L129.7 68.6L128.2 69.7L128.0 71.0L126.4 73.1L123.9 74.6L121.5 74.8L120.3 75.1L119.3 74.7L119.3 73.4L118.2 71.3L117.3 69.8L117.0 67.7L115.5 64.7L116.4 61.7L116.0 59.3L115.5 57.2L113.8 54.8L114.0 52.9L114.1 51.7L113.4 51.4L111.9 51.6L111.0 50.4L109.0 50.5L107.1 51.3L105.6 51.0L103.8 51.5L102.6 50.5L100.8 49.5L100.3 48.4L99.3 47.5L98.2 46.6L97.8 45.3L98.5 44.2L98.5 42.4L98.1 41.5L98.7 39.9L99.6 38.4L100.5 37.4L102.3 36.4L102.5 35.2L103.5 34.0L104.7 32.8L105.0 32.6L107.1 33.0L108.9 32.2L111.3 32.0L114.3 31.7L114.9 33.1L114.4 33.8L115.5 34.4L117.6 34.9L119.7 35.9L120.3 34.6L122.1 34.5L123.6 35.1L125.7 35.5L127.7 35.3L127.9 36.1M138.0 61.4L138.6 63.5L138.0 65.0L137.0 68.0L135.6 69.5L134.7 68.0L135.0 66.2L134.8 64.4L136.3 63.6L137.2 62.3L138.0 61.4M127.7 35.3L128.9 35.3L129.7 34.0L130.0 32.5L130.0 32.0L128.2 32.4L126.7 32.2L125.1 32.1L124.5 31.0L124.1 30.1L125.7 29.5L127.3 29.4L129.4 28.9L131.2 29.5L133.3 29.2L132.4 28.0L130.6 27.1L131.5 25.9L129.4 26.4L128.5 27.4L128.2 26.5L126.8 26.2L126.0 27.1L125.1 28.0L125.1 29.2L124.2 29.6L122.7 29.6L122.4 30.1L122.0 29.8L122.1 30.7L122.7 31.3L122.1 32.2L121.2 31.9L120.9 30.7L120.0 29.8L120.0 28.9L117.9 28.0L116.7 27.0L116.4 26.7L115.7 26.9L115.8 27.7L116.7 28.6L117.9 29.0L119.4 30.0L118.5 29.8L118.2 30.4L118.5 30.7L117.9 31.3L117.7 30.1L116.7 29.5L115.5 28.9L114.6 28.3L114.3 27.7L113.6 27.4L112.8 27.8L111.3 28.1L110.2 28.2L110.2 28.9L108.8 29.5L108.1 30.4L108.3 30.9L107.9 31.5L107.1 32.0L105.6 32.1L104.9 32.5L104.5 32.0L103.8 31.8L102.9 31.9L103.0 31.0L102.6 30.8L103.0 29.5L102.9 28.3L103.5 27.9L105.3 28.0L107.2 28.0L107.6 27.1L107.6 26.4L106.8 25.7L105.6 25.4L105.5 25.0L107.1 24.9L107.4 24.2L108.4 24.4L109.3 23.8L110.1 23.3L111.0 22.6L111.3 22.1L112.5 22.0L113.7 21.7L113.3 20.8L113.2 19.9L114.6 19.4L114.6 20.5L114.3 21.2L114.9 21.7L116.7 21.7L119.4 21.2L120.2 21.4L120.9 20.9L120.9 19.9L121.5 19.4L122.9 19.7L122.4 18.7L125.1 18.3L126.4 18.0L124.5 17.7L122.1 18.0L121.2 17.4L121.1 16.2L123.3 15.0L123.5 14.7L121.5 14.6L120.9 15.3L118.8 16.5L118.7 17.4L119.6 18.0L118.2 19.0L118.1 19.9L117.6 20.3L116.8 20.8L116.1 20.8L115.8 20.3L115.0 19.0L114.6 18.5L113.4 19.1L112.5 19.3L111.6 18.7L111.3 17.4L111.9 16.5L113.4 15.9L114.6 15.3L115.8 14.4L116.7 13.5L117.9 12.9L119.4 12.2L121.2 11.9L123.8 11.4L125.4 11.6L127.0 11.9L128.2 12.4L130.0 12.5L133.0 13.5L133.0 14.3L131.2 14.4L128.8 14.0L129.1 15.0L129.4 15.5L130.9 15.6L132.7 15.3L132.4 14.4L133.9 14.1L134.8 14.4L134.9 13.1L136.0 13.1L136.1 14.0L137.8 13.2L140.5 12.9L142.6 12.9L144.7 12.2L146.8 12.5L148.6 12.8L148.6 11.1L149.8 10.2L151.9 10.3L152.0 12.0L152.7 13.8L152.5 12.6L153.4 10.8L155.2 10.7L156.7 9.9L160.3 9.6L160.6 9.0L164.3 8.4L167.3 8.3L171.1 7.4L172.1 8.1L175.7 8.1L176.6 9.6L174.5 9.7L176.9 9.9L179.9 10.2L182.9 9.8L184.7 10.5L186.2 11.4L187.1 11.6L188.3 11.1L191.0 11.2L192.5 10.6L196.1 10.6L198.5 11.1L200.4 11.6L204.0 12.0L204.6 12.3L207.3 12.3L209.7 12.0L210.9 12.6L214.2 12.2L216.6 12.8M0.0 12.8L2.4 13.5L4.8 13.8L6.1 14.4L4.5 15.3L2.7 15.2L0.9 14.4L0.0 14.7M216.6 15.0L214.8 15.2L216.0 16.5L213.0 17.0L210.8 18.0L208.2 18.0L207.0 18.2L206.4 19.3L206.1 20.5L205.6 21.1L204.6 22.1L203.7 22.4L202.6 23.5L202.0 22.3L202.0 20.5L202.8 19.4L204.3 18.4L206.4 17.1L207.0 16.5L204.6 17.0L202.5 17.1L201.6 18.5L199.8 18.7L197.3 18.4L194.3 18.5L192.5 19.6L191.0 21.1L189.8 21.3L191.3 21.8L193.3 22.1L192.8 23.5L192.7 25.0L191.6 26.2L189.8 27.7L188.3 28.4L187.1 28.6L186.3 29.2L185.0 30.2L186.2 31.9L186.1 32.9L184.4 33.5L184.4 31.9L183.5 31.3L183.7 30.4L183.1 30.1L181.5 30.7L181.7 29.8L181.1 29.5L179.6 30.7L179.1 31.0L179.9 31.7L181.1 31.5L182.0 31.9L180.1 33.1L181.0 34.5L181.6 35.5L181.5 36.4L180.8 37.6L180.2 38.8L179.0 39.7L178.1 40.3L176.9 40.7L175.1 41.2L174.4 41.9L174.2 41.2L173.3 41.2L172.4 42.1L172.0 42.7L172.7 43.9L173.9 44.9L174.1 46.6L173.0 47.8L172.5 48.4L171.5 48.9L171.5 48.0L170.3 47.5L169.1 46.4L168.8 46.0L168.5 47.2L168.0 48.6L168.6 49.3L169.4 50.1L170.5 51.4L170.6 53.2L170.9 53.4L169.3 52.5L168.7 50.8L167.9 49.3L167.4 49.3L167.6 47.8L167.3 46.0L167.0 44.5L166.4 44.2L165.6 44.6L165.0 44.2L164.9 42.4L163.8 41.5L163.5 40.6L162.8 40.8L161.8 41.0L160.6 41.3L160.5 42.1L159.4 42.4L157.8 43.9L156.6 44.8L156.6 46.2L156.3 48.0L155.8 48.6L155.2 49.0L154.9 49.3L154.2 48.4L153.4 46.6L152.5 44.5L152.1 42.7L152.0 41.5L151.7 41.0L150.6 41.6L149.8 40.7L150.6 40.3L149.4 40.0L148.6 39.2L146.8 39.0L145.3 39.0L142.8 38.7L142.3 37.9L140.8 38.1L139.6 37.5L138.7 36.4L137.8 35.9L137.2 36.2L137.7 37.4L138.5 38.2L138.9 39.1L139.3 38.5L139.3 39.4L140.8 39.6L142.0 38.4L142.4 39.4L143.6 40.0L144.3 40.6L143.5 41.8L143.0 42.7L141.6 43.7L139.7 44.6L137.7 45.7L135.4 46.4L134.5 46.5L134.1 45.2L133.9 44.0L132.7 42.2L131.8 41.2L130.7 39.4L129.5 37.3L129.4 36.4L128.9 37.3L128.2 36.7L127.9 36.1M136.6 27.1L138.1 26.2L140.2 26.0L140.2 27.1L139.0 27.4L138.6 28.3L139.9 28.6L140.2 29.8L140.5 30.7L140.8 31.9L139.0 32.1L137.8 31.6L137.8 30.7L138.1 29.8L136.9 28.3L136.6 27.1M143.5 26.2L145.0 26.5L145.0 27.4L143.5 27.9L143.5 26.2M104.9 24.1L106.2 23.9L107.7 23.6L109.1 23.3L108.6 23.2L109.3 22.4L108.4 22.3L108.2 21.7L107.4 21.1L107.1 20.5L106.5 20.5L107.1 19.4L105.9 19.4L106.5 18.9L105.3 18.9L104.8 19.6L105.0 20.5L105.4 21.1L106.5 21.1L106.2 21.5L106.5 22.0L105.6 22.1L105.8 22.6L105.2 23.0L106.4 23.2L105.8 23.3L104.9 24.1M102.3 23.1L103.5 23.0L104.5 22.7L104.7 22.0L105.0 21.4L104.4 20.9L103.3 20.9L103.2 21.4L102.3 21.5L102.6 22.1L102.1 22.7L102.3 23.1M139.3 11.1L140.5 11.6L142.9 11.6L141.7 10.5L142.0 9.6L144.4 8.5L148.0 8.0L149.5 7.9L145.6 8.3L142.6 9.0L141.4 10.0L140.2 10.5L139.3 11.1M114.9 6.3L116.7 7.5L118.5 8.1L119.7 7.2L120.9 6.9L124.5 6.0L120.3 5.7L117.9 6.0L114.9 6.3M165.5 6.6L168.5 7.2L171.5 6.9L168.5 6.0L165.5 5.4L165.5 6.6M190.7 8.7L194.3 9.0L198.5 8.9L196.1 8.4L191.9 8.3L190.7 8.7M136.6 5.7L141.4 6.0L145.6 5.5L143.2 5.1L138.4 5.4L136.6 5.7M193.7 21.5L194.3 22.3L194.5 24.1L195.2 24.7L194.3 25.9L194.6 26.5L193.7 26.5L193.7 25.3L193.7 23.5L193.7 21.5M192.5 29.2L193.4 28.6L194.5 28.9L195.8 28.1L195.1 27.7L193.6 26.8L193.4 28.0L192.5 28.4L192.5 29.2M193.3 29.3L193.7 30.4L193.1 31.4L193.0 32.7L192.4 33.1L191.8 33.3L190.7 33.3L190.0 34.0L189.5 33.4L188.3 33.5L187.1 33.7L187.5 34.3L187.3 35.3L186.8 35.4L186.5 34.6L186.3 34.1L187.1 33.7L187.1 33.5L188.0 32.9L188.9 32.7L190.1 32.7L190.6 31.8L190.9 32.0L191.8 31.5L192.4 30.4L192.5 29.7L193.3 29.3M187.9 34.1L188.3 34.4L189.1 34.1L189.3 33.6L188.6 33.6L187.9 34.1M181.1 39.0L181.7 39.1L181.1 40.9L180.6 40.3L181.1 39.0M173.7 42.5L174.5 42.1L175.1 42.3L174.5 43.1L173.7 43.0L173.7 42.5M156.4 48.3L157.2 49.0L157.5 49.9L156.9 50.5L156.3 49.9L156.4 48.3M180.8 43.0L181.8 43.0L181.7 44.2L181.4 45.1L182.0 45.7L182.9 46.3L182.0 46.0L181.1 45.9L180.7 45.2L180.5 44.5L180.8 43.0M181.7 49.9L182.6 49.0L183.8 48.3L184.4 49.6L183.8 50.5L182.9 50.4L182.6 49.6L181.7 49.9M183.2 46.6L183.8 47.5L183.5 48.1L183.2 47.5L183.2 46.6M181.7 47.2L182.4 47.5L182.4 48.6L182.0 48.3L181.7 47.2M178.8 49.0L180.2 47.8L180.1 47.4L178.8 49.0M173.9 53.2L174.5 53.1L175.3 52.5L176.3 52.2L177.2 51.3L178.1 50.1L178.8 49.9L179.9 51.0L179.3 51.6L179.2 52.9L179.9 53.5L179.0 54.6L178.4 55.7L178.1 56.6L177.2 56.6L176.3 56.1L175.4 56.1L174.6 55.8L174.2 54.6L173.9 53.8L173.9 53.2M165.6 50.8L167.0 51.0L168.6 52.6L170.3 53.8L171.2 55.1L172.1 56.0L172.0 57.6L171.2 57.6L169.9 56.6L168.8 55.1L167.7 53.2L166.7 52.2L165.6 50.8M171.7 58.1L172.6 57.8L173.6 58.1L175.1 58.1L176.3 58.4L177.2 58.8L177.1 59.4L175.1 59.1L173.3 58.8L172.4 58.5L171.7 58.1M177.5 59.1L178.7 59.1L179.9 59.2L182.2 59.1L182.2 59.4L179.9 59.4L178.1 59.5L177.5 59.1M182.6 60.3L183.5 59.6L184.8 59.2L183.5 60.0L182.6 60.3M180.4 53.7L181.0 53.4L182.3 53.5L183.5 53.2L183.1 53.9L181.1 53.8L180.6 54.6L181.4 54.7L182.5 54.6L181.7 55.2L181.5 55.8L182.0 56.3L182.3 56.9L182.0 57.5L181.4 57.0L181.0 55.8L180.7 56.3L180.7 57.5L180.2 57.5L180.1 56.3L179.8 55.8L180.3 54.5L180.4 53.7M185.1 52.9L185.7 53.4L185.3 54.6L185.1 53.8L185.1 52.9M185.3 56.0L187.0 56.1L185.9 56.2L185.3 56.0M187.1 54.6L188.0 54.4L188.9 54.6L189.0 55.7L189.5 56.1L190.7 55.1L191.6 55.2L193.1 55.7L195.2 56.4L196.0 57.3L197.0 57.8L197.2 58.4L197.3 59.3L198.9 60.4L198.5 60.5L197.0 60.2L196.1 59.3L195.2 58.8L194.6 59.3L194.0 59.7L193.1 59.6L191.9 59.0L191.3 59.1L191.2 58.5L191.8 58.2L191.3 57.5L189.8 56.8L188.6 56.4L188.2 56.6L187.7 55.9L188.8 55.5L187.8 55.5L187.1 55.0L187.1 54.6M197.5 57.6L198.5 57.5L199.9 56.7L199.8 57.3L198.9 57.9L197.5 57.6M194.0 60.6L194.6 62.9L195.7 63.2L196.1 65.3L197.9 67.1L199.0 68.3L200.4 69.5L200.7 71.3L200.1 73.7L199.2 74.7L198.5 76.6L197.0 77.0L196.3 77.6L195.2 77.1L194.0 77.3L192.8 77.0L192.2 75.8L191.5 75.5L191.2 75.3L191.2 74.0L190.1 75.2L189.7 74.9L188.9 73.9L187.4 73.1L185.6 73.4L184.1 73.6L182.9 74.0L182.6 74.6L180.5 74.6L179.3 75.2L177.6 74.8L177.9 73.1L177.2 71.6L176.7 69.8L176.6 68.6L177.0 67.4L178.4 66.5L179.9 66.2L181.4 65.6L181.9 64.4L182.7 64.0L183.8 62.9L184.7 62.6L185.6 63.1L186.3 63.1L186.8 61.7L188.0 61.1L189.5 61.5L190.6 61.4L190.1 62.3L189.8 63.2L191.0 63.8L192.2 64.7L193.1 64.6L193.5 63.2L193.6 61.7L194.0 60.6M195.4 78.6L196.4 78.9L197.5 78.8L197.5 79.5L197.0 80.2L196.1 80.3L195.7 79.6L195.4 78.6M212.2 74.9L213.3 76.1L214.1 76.4L214.8 77.0L215.7 76.8L215.3 77.8L214.8 77.9L214.5 78.7L213.8 79.2L213.5 78.7L213.5 78.1L212.9 77.8L213.4 77.3L213.4 76.4L212.4 75.2L212.2 74.9M212.2 78.5L213.1 79.0L213.0 79.4L212.3 80.3L211.4 80.8L211.2 81.7L210.3 82.1L209.6 82.2L208.5 81.8L209.1 81.1L209.7 80.6L211.1 79.9L211.8 78.8L212.2 78.5M207.0 66.3L208.8 67.6L207.6 67.0L207.0 66.3M57.2 41.0L58.4 40.3L59.9 40.3L62.0 41.2L63.7 42.0L61.7 42.2L61.4 41.8L60.2 41.1L59.0 40.6L57.8 41.0L57.2 41.0M63.5 42.2L65.0 42.2L66.3 42.5L67.1 43.0L66.2 43.1L65.3 43.5L64.7 43.2L63.5 43.1L64.6 43.0L64.1 42.3L63.5 42.2M61.2 43.1L62.4 43.3L61.9 43.4L61.2 43.1M67.9 43.0L68.8 43.1L67.9 43.3L67.9 43.0M52.9 26.1L55.4 25.0L57.2 25.4L57.5 26.2L56.0 26.2L54.1 26.1L52.9 26.1M55.5 28.9L56.4 28.9L56.4 27.7L57.2 26.6L56.0 26.7L55.5 27.7L55.5 28.9M57.5 26.5L59.3 26.5L60.2 27.2L59.1 28.2L58.7 28.1L58.1 27.4L58.2 27.0L57.5 26.5M58.2 29.1L59.6 29.1L60.8 28.5L59.9 28.5L58.7 28.8L58.2 29.1M60.3 28.1L62.0 28.1L62.4 27.7L61.4 27.7L60.3 28.1M48.7 22.0L49.9 23.8L50.4 23.5L49.6 21.8L48.7 22.0M37.9 17.4L39.7 17.4L42.1 16.5L40.9 16.4L39.1 16.9L37.9 17.4M33.1 14.3L34.9 15.0L37.3 14.4L36.7 13.8L34.3 13.8L33.1 14.3M41.2 18.8L43.3 18.5L45.1 18.5L43.3 18.7L41.2 18.8M170.8 23.2L171.8 23.0L173.3 22.1L174.4 20.8L173.9 20.6L172.7 22.0L171.5 22.7L170.8 23.2M127.4 54.0L128.8 54.0L128.8 55.4L127.6 55.8L127.4 54.8L127.4 54.0M125.9 56.2L126.2 57.5L127.0 59.3L126.6 59.1L125.9 57.5L125.9 56.2M128.8 59.9L129.2 61.1L129.5 62.8L129.1 62.6L128.9 61.1L128.8 59.9M126.5 18.0L128.0 17.9L127.9 17.1L126.7 17.3L126.5 18.0M129.1 17.4L130.1 17.3L129.7 16.5L129.1 16.8L129.1 17.4M152.5 26.8L153.4 26.1L155.8 26.3L155.2 26.7L153.4 27.1L152.5 26.8M66.2 63.4L66.8 63.9L66.5 64.0L66.2 63.4M14.4 42.0L15.0 42.2L14.7 42.7L14.4 42.4L14.4 42.0M15.3 19.6L16.7 19.3L16.5 19.7L15.6 20.0L15.3 19.6M61.7 13.7L62.9 13.7L62.6 13.1L61.7 13.7M113.5 28.3L114.0 28.5L114.1 29.5L114.1 30.6L113.4 30.7L113.3 29.6L113.6 29.2L113.5 28.3M115.8 31.3L117.6 31.2L117.4 32.1L115.8 31.5L115.8 31.3M122.4 32.8L124.1 33.0L122.7 33.1L122.4 32.8M127.7 33.1L129.1 32.7L128.5 33.3L127.7 33.1M140.4 46.6L141.1 46.6L140.4 46.6M149.7 83.6L150.7 83.8L150.1 84.1L149.7 83.6M85.4 86.6L86.6 86.9L85.4 86.6M114.9 20.6L115.9 20.5L115.7 21.1L114.9 20.6M119.3 19.9L119.7 19.3L119.6 19.7L119.3 19.9M185.1 38.4L185.5 38.0L185.1 38.4M196.1 27.4L197.6 26.8L198.5 26.4L199.8 25.7L201.0 24.7L201.9 23.9M8.4 21.7L6.9 22.1L4.8 22.7L3.0 22.9L1.2 23.0M212.1 22.3L213.6 22.6L215.4 22.9" fill="none" stroke="#111" stroke-opacity="0.75" stroke-width="0.75" stroke-dasharray="0.8 2.9 1.4 3.7 0.6 2.2"/>
<path transform="translate(273.2 187.7)" d="M68.6 16.8L67.4 15.8L69.5 16.2L69.8 15.0L67.7 14.3L71.3 14.0L69.2 13.2L67.4 12.0L65.0 11.1L61.4 10.3L59.6 9.8L56.6 9.7L54.1 9.9L54.8 11.4L57.2 12.0L60.8 12.0L63.2 13.1L64.4 13.8L64.4 14.7L61.1 15.2L63.8 15.4L65.6 16.4L68.6 16.8M37.3 11.4L38.5 12.5L40.9 12.9L45.1 12.8L47.2 12.3L45.7 11.4L45.1 10.3L43.3 10.0L40.9 10.5L39.1 10.0L37.0 10.5L37.3 11.4M33.1 10.8L34.3 11.4L36.4 11.0L37.6 9.9L35.5 9.3L33.4 9.7L33.1 10.8M37.9 8.8L42.1 9.3L44.5 8.9L42.7 8.1L39.1 8.2L37.9 8.8M46.9 10.8L49.9 10.8L49.3 9.7L47.2 9.9L46.9 10.8M50.8 10.7L53.8 10.4L53.8 9.6L51.1 9.6L50.8 10.7M52.9 9.2L60.2 9.2L60.2 8.6L55.4 8.1L52.9 8.4L52.9 9.2M55.4 8.1L61.4 8.2L63.2 6.9L67.4 5.7L71.0 4.6L66.2 4.2L59.0 4.3L52.9 5.1L56.0 6.0L55.4 7.2L55.4 8.1M51.1 6.3L55.4 7.0L56.0 5.7L52.3 5.2L51.1 6.3M56.0 15.6L57.8 16.2L59.6 15.8L59.9 15.3L57.8 14.4L56.0 15.3L56.0 15.6M48.1 8.7L49.9 8.7L48.7 8.1L46.9 8.4L48.1 8.7M48.7 12.6L50.5 12.8L50.5 12.2L49.0 12.2L48.7 12.6M93.9 14.7L95.1 15.6L96.9 16.0L99.6 15.5L100.1 14.7L98.7 14.1L96.3 14.4L94.8 14.2L93.9 14.7M71.6 85.1L73.4 85.1L72.8 85.6L71.6 85.1M139.3 11.1L140.5 11.6L142.9 11.6L141.7 10.5L142.0 9.6L144.4 8.5L148.0 8.0L149.5 7.9L145.6 8.3L142.6 9.0L141.4 10.0L140.2 10.5L139.3 11.1M114.9 6.3L116.7 7.5L118.5 8.1L119.7 7.2L120.9 6.9L124.5 6.0L120.3 5.7L117.9 6.0L114.9 6.3M192.5 29.2L193.4 28.6L194.5 28.9L195.8 28.1L195.1 27.7L193.6 26.8L193.4 28.0L192.5 28.4L192.5 29.2M187.9 34.1L188.3 34.4L189.1 34.1L189.3 33.6L188.6 33.6L187.9 34.1M180.8 43.0L181.8 43.0L181.7 44.2L181.4 45.1L182.0 45.7L182.9 46.3L182.0 46.0L181.1 45.9L180.7 45.2L180.5 44.5L180.8 43.0M181.7 49.9L182.6 49.0L183.8 48.3L184.4 49.6L183.8 50.5L182.9 50.4L182.6 49.6L181.7 49.9M180.4 53.7L181.0 53.4L182.3 53.5L183.5 53.2L183.1 53.9L181.1 53.8L180.6 54.6L181.4 54.7L182.5 54.6L181.7 55.2L181.5 55.8L182.0 56.3L182.3 56.9L182.0 57.5L181.4 57.0L181.0 55.8L180.7 56.3L180.7 57.5L180.2 57.5L180.1 56.3L179.8 55.8L180.3 54.5L180.4 53.7M185.1 52.9L185.7 53.4L185.3 54.6L185.1 53.8L185.1 52.9M197.5 57.6L198.5 57.5L199.9 56.7L199.8 57.3L198.9 57.9L197.5 57.6" fill="none" stroke="#111" stroke-opacity="0.55" stroke-width="0.6" stroke-linejoin="round"/>
<path transform="translate(273.2 187.7)" d="M63.8 96.9L67.4 95.7L68.6 94.2L70.4 93.1L73.7 92.2L71.9 93.0L70.7 94.0" fill="none" stroke="#111" stroke-opacity="0.8" stroke-width="1.1" stroke-dasharray="2 0.9 1.2 0.7"/>
<path transform="translate(273.2 187.7)" d="M65.3 72.2L65.0 74.0L64.1 76.4L63.9 79.1L63.5 81.2L63.0 83.0L63.2 84.8L64.1 86.0L65.6 86.8L67.1 87.4L68.6 87.2M63.8 84.2L64.7 85.7L66.2 86.3L67.1 85.9M65.9 86.9L68.0 86.8M18.0 17.6L20.5 17.7L23.5 18.1L25.9 19.0L27.7 20.2L29.5 21.4L30.7 22.6M75.5 11.7L75.9 13.8L76.8 15.3L78.2 16.8M95.1 11.7L92.1 12.9L88.4 13.5L85.4 14.7L83.6 15.6M111.4 18.4L111.5 17.1L112.5 16.4L114.6 15.5L116.1 14.1L117.6 13.1L119.7 12.2" fill="none" stroke="#111" stroke-opacity="0.75" stroke-width="1.0" stroke-linecap="round"/>
<path transform="translate(273.2 187.7)" d="M38.9 19.9l-0.2 0.2M42.8 18.2l0.8 0.1M33.8 17.7l0.4 0.1M40.8 14.6l0.5 0.1M44.4 13.6l-0.2 0.5M50.7 20.7l-0.5 0.2M35.7 20.1l0.6 0.6M36.4 16.5l-0.3 0.4M43.0 20.6l0.5 0.1M45.4 17.7l0.5 0.5M41.3 18.7l-0.8 0.4M37.5 16.6l-0.1 0.8M46.3 18.8l-0.4 0.0M40.6 15.1l0.7 0.3M33.8 15.8l-0.6 0.4M48.9 18.6l-0.5 0.5M43.6 17.5l-1.1 0.4M41.6 15.9l1.0 0.1M44.8 13.3l-0.5 0.2M40.1 15.8l0.8 0.0M36.1 20.1l1.0 0.1M35.4 19.1l0.4 0.8M34.5 17.5l-0.2 0.8M47.9 14.3l0.5 0.4M39.6 14.1l-0.4 0.0M36.3 19.2l0.6 0.4M43.7 19.0l0.7 0.0M39.8 16.6l-1.0 0.1M42.4 16.2l-0.2 0.2M49.3 15.0l-1.0 0.3M40.2 17.9l0.9 0.2M34.2 20.5l0.4 0.2M39.2 20.6l0.5 0.0M34.9 18.2l1.2 0.1M44.2 19.9l0.5 0.3M39.7 20.1l-1.2 0.4M41.5 17.3l0.4 0.1M39.3 19.0l-0.4 0.2M48.4 20.1l-0.0 0.3M54.7 25.1l-0.1 0.9M58.5 21.5l0.5 0.3M50.1 21.1l-0.1 0.8M52.1 24.1l-1.1 0.5M58.4 20.9l-0.9 0.4M50.9 22.5l0.1 0.2M48.5 23.8l0.7 0.5M59.6 22.8l-1.3 0.2M59.6 23.3l0.4 0.2M50.5 24.2l-0.5 0.8M58.2 22.7l-0.5 0.7M61.1 20.1l-1.0 0.2M68.3 21.2l0.9 0.4M63.8 19.2l-0.7 0.0M64.5 18.4l-0.3 0.3M61.5 23.2l-1.1 0.2M61.7 19.1l-1.0 0.0M64.0 20.8l0.3 0.1M70.7 20.2l-0.1 0.9M64.9 18.8l-0.4 0.2M62.9 22.3l0.6 0.4M63.0 21.5l1.1 0.3M64.0 21.3l-0.3 0.8M64.7 18.5l-0.0 0.6M65.8 24.0l0.1 0.3M60.2 19.3l0.7 0.3M68.0 20.7l0.4 0.5M32.1 14.5l0.8 0.2M29.3 17.6l-0.6 0.4M32.1 14.7l-0.7 0.1M32.6 16.2l-0.0 0.7M31.2 16.0l0.1 0.9M33.4 14.0l-0.6 0.1M32.1 13.6l-0.4 0.1M28.2 16.6l0.5 0.1M35.9 9.2l-0.9 0.5M38.9 8.9l-0.2 0.3M66.6 7.4l1.0 0.6M48.2 10.3l-1.1 0.0M39.2 10.6l-0.0 0.4M40.5 11.3l-0.2 0.2M54.1 10.6l0.6 0.0M56.7 10.2l1.3 0.2M63.0 7.4l0.5 0.1M34.6 8.5l0.3 0.2M49.1 7.8l-0.5 0.2M38.8 7.7l-0.2 0.7M36.5 12.9l-0.4 0.4M35.8 7.6l-0.5 0.7M36.3 8.1l1.1 0.2M50.3 11.2l-0.2 0.8M43.2 12.5l-0.0 0.4M37.2 12.3l0.5 0.1M44.9 11.4l-0.4 0.3M52.0 12.2l0.1 0.2M42.6 13.1l-0.6 0.4M40.3 10.4l-0.4 0.1M64.1 10.6l0.0 0.8M48.0 10.2l-0.7 0.7M46.1 8.2l-0.6 0.5M48.4 11.1l0.4 0.1M35.8 8.8l0.3 0.2M36.3 8.2l-0.9 0.3M43.8 11.8l0.5 0.4M39.1 10.6l0.9 0.6M70.0 9.9l0.9 0.6M44.8 11.1l0.7 0.0M51.1 10.2l0.6 0.3M33.3 11.6l0.7 0.1M49.1 8.3l0.3 0.3M61.5 6.2l-0.7 0.5M64.5 4.7l0.2 0.4M70.6 7.8l-0.6 0.5M49.1 4.9l-0.9 0.2M64.9 5.0l0.7 0.2M59.7 4.9l-0.9 0.5M61.5 4.7l-0.5 0.6M53.4 8.3l0.6 0.2M50.5 4.9l-0.2 0.6M60.6 13.6l0.0 0.2M63.1 13.2l-0.0 0.6M61.1 16.5l-0.4 0.3M52.3 15.6l-0.3 0.3M62.3 12.2l0.0 0.5M58.3 13.6l-0.7 0.4M60.8 16.5l0.5 0.2M62.3 15.4l-0.1 0.2M52.1 15.6l-0.5 0.6M61.3 15.4l-0.0 0.5M124.3 17.6l-0.5 0.1M127.4 14.1l0.8 0.0M126.5 14.0l0.1 0.4M122.8 14.1l0.7 0.4M122.4 15.8l-0.4 0.0M126.5 15.9l-0.9 0.2M122.9 14.3l0.0 0.2M121.6 16.0l0.1 0.4M128.9 16.4l0.6 0.7M126.4 14.4l-0.4 0.1M143.1 14.6l-0.6 0.1M133.1 16.2l-0.9 0.0M132.9 16.0l0.2 0.2M128.2 14.0l0.8 0.7M151.9 12.0l-0.0 0.3M155.6 8.6l-1.0 0.3M163.4 8.8l-0.8 0.1M166.0 13.0l-0.5 0.4M167.0 10.1l0.2 0.2M172.3 12.6l0.1 0.4M153.4 9.7l-0.6 0.0M164.1 11.8l-0.1 0.5M149.4 12.5l1.0 0.5M159.4 12.2l-1.2 0.3M187.4 17.0l0.3 0.2M182.9 17.4l0.4 0.3M192.5 11.6l-0.5 0.4M185.9 14.3l0.2 0.4M171.1 16.0l-0.4 0.0M189.7 13.5l-0.5 0.2M179.9 16.3l0.2 0.5M208.6 11.9l-0.3 0.1M169.8 12.9l-0.7 0.2M193.2 18.0l0.4 0.8M192.8 44.7l-0.5 0.0M169.1 57.4l-0.1 0.7M196.6 47.1l-0.5 0.7M180.6 50.2l1.1 0.1M173.2 43.6l-0.3 0.4M169.7 55.6l-0.4 0.6M169.2 58.9l-0.1 0.6M178.3 56.1l-0.1 0.2M175.4 51.9l-0.9 0.1M194.7 51.6l0.4 0.3M197.2 47.4l0.2 0.2M181.9 48.0l0.1 0.4M187.5 43.5l0.3 0.2M176.6 52.6l-0.3 0.3M191.8 46.8l-0.0 0.4M197.6 54.5l-0.4 0.2M172.8 46.4l0.8 0.7M181.9 56.8l0.5 0.3M187.5 43.0l0.6 0.2M172.5 42.6l0.3 0.1M167.4 53.1l-1.1 0.3M189.7 42.2l-0.6 0.1M171.6 43.3l-0.2 0.2M187.4 53.3l0.2 0.4M171.1 60.1l0.4 0.4M197.1 57.9l-0.5 0.0M177.3 45.3l-0.6 0.3M167.1 51.6l0.5 0.8M171.8 53.6l-0.3 0.1M179.1 45.5l-0.3 0.2M199.2 67.9l-0.5 0.1M212.0 50.3l0.3 0.4M215.8 56.2l0.7 0.5M204.3 63.4l1.1 0.0M215.1 55.8l-0.3 0.0M202.8 59.2l-1.2 0.1M205.5 63.9l0.2 0.5M215.3 65.3l-0.8 0.4M24.8 45.9l-0.2 0.4M9.6 58.3l-0.3 0.2M5.9 46.5l0.3 0.2M1.0 52.6l0.7 0.8M26.6 39.5l0.3 0.2M2.9 54.2l-0.5 0.4M60.7 43.9l-0.4 0.6M68.4 39.5l-0.2 0.3M69.8 45.1l-0.1 0.5M68.3 46.1l0.4 0.3M59.5 39.1l-0.2 0.4M63.1 38.0l-0.0 0.4M69.3 41.5l-0.4 0.0M64.3 39.8l-1.1 0.4M57.8 45.1l0.5 0.1M125.0 31.0l-0.7 0.1M124.5 31.5l0.7 0.5M124.9 32.7l-0.3 0.6M121.4 31.8l0.5 0.2M121.6 30.9l-0.2 0.3M120.4 31.9l-0.3 0.3M121.8 32.4l-0.7 0.4M62.9 87.0l0.3 0.6M66.0 87.1l0.9 0.3M64.8 85.5l0.7 0.7M64.3 83.1l0.3 0.5M67.3 79.4l0.2 0.3M66.5 86.1l1.2 0.0M64.9 80.9l0.3 0.8M65.1 86.5l0.9 0.0M66.0 80.2l0.9 0.2M64.6 83.6l0.5 0.2M65.4 80.0l0.7 0.2M66.9 79.7l0.3 0.2M67.7 79.6l0.0 0.2M67.6 84.6l-0.9 0.2M67.0 86.5l-0.4 0.2M64.8 80.7l-0.4 0.2M63.8 84.5l-0.0 0.5M63.2 85.8l-0.8 0.6M103.7 19.4l-0.2 0.2M107.5 20.7l-0.3 0.6M106.5 20.1l0.2 0.6M105.5 19.1l0.1 0.5M114.6 6.6l0.0 0.4M123.5 6.1l0.1 0.3M120.0 8.1l0.7 0.2M115.4 7.1l-0.0 0.2M122.0 8.2l-0.7 0.6M120.5 8.3l-0.0 0.5M125.8 8.0l-1.2 0.4M144.2 5.1l1.1 0.5M141.3 4.9l-0.4 0.1M144.9 4.9l0.6 0.1M144.5 6.3l-0.5 0.1M145.2 6.4l-0.0 0.9M187.6 33.6l-0.0 0.4M185.7 34.3l1.1 0.4M192.7 27.5l0.9 0.4M186.6 31.0l-0.3 0.4M194.8 30.8l-0.3 0.8M186.4 26.5l-0.3 0.4M194.0 33.6l-0.9 0.0M189.2 28.7l0.1 0.3M15.7 21.5l-0.5 0.2M14.8 18.1l-0.3 0.7M11.8 21.7l0.4 0.0M14.6 20.1l-0.0 0.8M111.9 21.1l-0.1 0.2M111.3 20.8l0.6 0.2M112.3 20.3l-0.1 0.3M182.7 47.1l1.1 0.4M180.6 49.9l0.9 0.2M184.0 44.6l0.2 0.4M179.4 45.7l-0.1 0.4M182.8 47.4l-1.0 0.1M180.6 43.5l0.8 0.1M181.5 49.1l1.1 0.1M179.4 46.5l-0.4 0.1M111.6 18.9l-0.6 0.9M111.9 18.6l1.5 0.2M113.6 18.1l-1.2 0.4M114.2 17.4l0.5 0.3M113.8 17.1l-0.9 0.6M115.9 16.5l-0.2 0.7M116.3 16.1l-0.7 1.0M117.3 16.0l0.5 0.4M118.4 14.8l0.8 0.9M117.9 14.4l-0.5 0.8M119.9 14.1l-1.1 0.4M120.0 13.4l-0.2 0.6M120.6 13.6l-0.6 0.1M120.5 12.6l0.3 0.4M121.2 12.3l-0.5 0.8M122.4 11.7l0.6 0.9M19.2 18.4l-1.4 0.4M18.9 18.7l0.5 0.1M20.7 18.7l-1.0 0.4M20.1 19.3l-0.5 0.4M21.5 19.7l0.6 0.4M22.5 19.9l-1.0 0.1M23.7 20.5l0.3 0.7M24.1 20.4l-0.1 0.5M24.6 20.7l0.4 0.2M26.0 20.7l1.0 0.0M27.1 21.7l0.0 0.6M27.4 21.6l0.5 0.4M28.4 22.5l-0.2 0.4M29.6 22.4l-0.3 0.6M29.7 22.6l1.4 0.3M30.1 23.3l-1.0 0.2M76.2 11.8l0.1 0.8M76.4 12.3l0.4 0.5M76.7 12.7l-0.5 0.3M77.0 13.5l0.9 0.3M76.7 14.6l0.7 0.7M76.9 15.3l0.6 0.4M77.2 15.6l1.3 0.6M77.5 15.9l0.9 0.2M78.9 16.8l0.1 0.5M93.8 11.9l0.2 0.4M93.8 11.9l-0.0 0.8M91.5 12.4l0.4 0.9M90.2 13.0l-0.7 0.5M90.1 13.0l-1.0 0.6M88.1 13.8l0.1 0.6M86.2 14.3l-1.0 0.6M85.2 14.7l0.2 0.8M84.7 14.7l1.0 0.5M63.5 80.5l-0.5 0.0M63.4 80.8l-1.1 0.1M64.1 81.4l-0.7 0.6M64.9 82.4l0.4 1.0M64.9 83.0l-0.5 0.3M64.8 84.3l0.6 0.5M65.0 84.2l-0.5 0.5M65.0 84.8l-1.1 0.1M66.1 85.8l0.5 0.3M66.5 86.6l0.1 0.8M96.9 9.0l-0.6 0.9M96.2 7.9l-0.1 0.4M96.1 6.8l0.6 0.5M96.2 6.8l1.3 0.0M72.0 8.7l0.1 0.7M73.3 9.4l-1.4 0.2M73.9 9.4l-0.5 0.3M74.6 11.0l1.5 0.0" fill="none" stroke="#111" stroke-opacity="0.85" stroke-width="0.75" stroke-linecap="round"/>
<path transform="translate(273.2 187.7)" d="M0.0 101.3L9.0 101.3L13.2 100.5L18.0 100.2L21.1 99.6L27.1 99.0L33.1 98.4L39.1 98.7L43.3 99.3L48.1 98.1L54.1 98.1L60.2 98.3L63.2 97.5L67.4 95.7L68.6 93.9L71.0 93.0L73.7 92.2L72.2 93.0L71.0 93.9L69.2 95.1L71.6 97.5L72.2 99.3L78.2 100.8L84.2 101.1L87.2 100.8L91.5 99.9L96.3 98.4L101.1 97.2L105.3 96.6L108.3 96.0L114.3 96.3L120.3 96.3L126.4 95.7L129.4 95.7L132.4 95.4L135.4 94.8L138.4 94.2L141.4 93.9L144.4 94.6L149.2 94.9L150.4 95.4L152.2 96.0L155.2 95.1L159.4 94.2L165.5 93.9L168.5 93.6L174.5 93.9L180.5 94.2L186.5 93.9L192.5 94.2L198.5 95.1L204.6 96.3L207.6 96.9L210.6 97.5L210.6 98.7L207.6 99.9L207.6 101.1L210.6 101.1L216.6 101.3" fill="none" stroke="#1a1a1a" stroke-width="0.55" stroke-dasharray="3 1 1 1"/>
</g>
<path d="M300.5 187.7V296.00M327.5 187.7V296.00M354.5 187.7V296.00M381.5 187.7V296.00M408.5 187.7V296.00M435.5 187.7V296.00M462.5 187.7V296.00M273.2 214.5H489.80M273.2 241.5H489.80M273.2 268.5H489.80" stroke="#14140a" stroke-opacity="0.4" stroke-width="0.8" fill="none"/>
<path d="M273.2 187.7V296.0" stroke="#4c4c4c" stroke-width="1" fill="none"/>
<path d="M489.79999999999995 187.7V296.0" stroke="#888" stroke-width="1" fill="none"/>
<path d="M272.7 187.7H490.29999999999995" stroke="#666" stroke-width="1" fill="none"/>
<path d="M272.7 296.0H490.29999999999995" stroke="#7c7c7c" stroke-width="1" fill="none"/>
<text class="tk" transform="translate(274.0 302.6) scale(0.92 1)" text-anchor="middle">180°</text>
<text class="tk" transform="translate(301.1 302.6) scale(0.92 1)" text-anchor="middle">135°W</text>
<text class="tk" transform="translate(328.1 302.6) scale(0.92 1)" text-anchor="middle">90°W</text>
<text class="tk" transform="translate(355.2 302.6) scale(0.92 1)" text-anchor="middle">45°W</text>
<text class="tk" transform="translate(382.3 302.6) scale(0.92 1)" text-anchor="middle">0°</text>
<text class="tk" transform="translate(409.4 302.6) scale(0.92 1)" text-anchor="middle">45°E</text>
<text class="tk" transform="translate(436.4 302.6) scale(0.92 1)" text-anchor="middle">90°E</text>
<text class="tk" transform="translate(463.5 302.6) scale(0.92 1)" text-anchor="middle">135°E</text>
<text class="tk" transform="translate(490.6 302.6) scale(0.92 1)" text-anchor="middle">180°</text>
<text class="tk" transform="translate(271.2 216.8) scale(0.9 1)" text-anchor="end">45°N</text>
<text class="tk" transform="translate(271.2 243.8) scale(0.9 1)" text-anchor="end">0°</text>
<text class="tk" transform="translate(271.2 270.9) scale(0.9 1)" text-anchor="end">45°S</text>
<text class="tk" transform="translate(271.2 298.0) scale(0.9 1)" text-anchor="end">90°S</text>
<text class="tt" x="381.5" y="184.6" text-anchor="middle">Average_N2O_concentration_at_10.0_hPa</text>
<text class="lab" x="272.9" y="175.3">(d)</text>
</g>
<g id="panel-e">
<clipPath id="cpe"><rect x="21.1" y="346.3" width="216.6" height="108.3"/></clipPath>
<g clip-path="url(#cpe)">
<polygon points="21.1,346.0 237.7,346.0 237.7,454.6 21.1,454.6" fill="#fbffff"/>
<polygon points="21.1,351.8 237.7,351.8 237.7,454.6 21.1,454.6" fill="#68f0c4"/>
<polygon points="21.1,355.5 31.9,355.5 34.1,351.8 73.1,351.8 79.6,356.5 96.9,357.5 129.4,359.5 161.9,361.0 216.0,361.0 222.5,357.5 237.7,357.5 237.7,454.6 21.1,454.6" fill="#24d8f0"/>
<polygon points="21.1,370.0 86.1,369.5 129.4,369.8 172.7,371.0 237.7,372.5 237.7,454.6 21.1,454.6" fill="#88f09c"/>
<polygon points="21.1,379.2 237.7,379.2 237.7,454.6 21.1,454.6" fill="#3cd080"/>
<polygon points="21.1,384.6 237.7,384.6 237.7,454.6 21.1,454.6" fill="#66e01c"/>
<polygon points="21.1,388.6 237.7,388.6 237.7,454.6 21.1,454.6" fill="#bce600"/>
<polygon points="21.1,391.7 237.7,391.7 237.7,454.6 21.1,454.6" fill="#fdf800"/>
<polygon points="21.1,397.5 129.4,397.0 237.7,396.4 237.7,454.6 21.1,454.6" fill="#ffd60c"/>
<polygon points="21.1,403.0 129.4,404.5 237.7,405.9 237.7,454.6 21.1,454.6" fill="#fdf800"/>
<polygon points="21.1,407.6 237.7,407.6 237.7,454.6 21.1,454.6" fill="#bce600"/>
<polygon points="21.1,412.2 237.7,412.2 237.7,454.6 21.1,454.6" fill="#66e01c"/>
<polygon points="21.1,415.4 237.7,415.4 237.7,454.6 21.1,454.6" fill="#3cd080"/>
<polygon points="21.1,420.5 237.7,420.5 237.7,454.6 21.1,454.6" fill="#88f09c"/>
<polygon points="21.1,431.3 237.7,431.3 237.7,454.6 21.1,454.6" fill="#24d8f0"/>
<polygon points="21.1,440.2 237.7,440.2 237.7,454.6 21.1,454.6" fill="#8ce8da"/>
<polygon points="21.1,447.6 237.7,447.6 237.7,454.6 21.1,454.6" fill="#b4a8e4"/>
<polygon points="21.1,449.2 237.7,449.2 237.7,454.6 21.1,454.6" fill="#fbffff"/>
<path d="M21.1 357.5 L31 357 L37 359 L40 364 L37 369 L31 370 L21.1 369.5Z" fill="#4cb0f2"/>
<path d="M237.8 357.5 L226 358 L214 362 L209 366 L214 370 L226 371.5 L237.8 371.5Z" fill="#44b0f2"/>
<path d="M60 361 L90 360.5 L103 362 L101 368 L90 369 L60 369Z" fill="#2cbcf2"/>
<path d="M21.2 435 L30 434.6 L38 437 L30 440 L21.2 440.3Z" fill="#4cb0f2"/>
<path transform="translate(21.1 346.3)" d="M14.1 11.3L18.0 11.7L22.3 12.0L26.5 12.6L31.3 12.0L36.1 12.3L39.1 13.2L43.3 13.2L46.9 13.2L50.5 13.2L51.7 10.8L54.1 12.6L56.6 13.2L59.0 12.3L59.6 13.8L56.6 14.4L55.4 15.6L52.3 16.8L51.4 18.7L52.6 19.9L55.4 20.2L57.2 20.9L59.0 21.1L59.0 22.3L60.2 23.3L60.8 22.9L60.8 21.4L62.0 20.5L62.0 19.3L61.4 18.0L61.4 16.5L63.8 16.7L66.2 17.4L66.5 18.7L68.6 19.0L69.5 17.9L71.0 19.6L71.6 20.8L73.4 21.4L74.6 22.9L72.2 24.1L68.6 23.9L66.2 25.9L69.2 24.7L69.5 25.9L71.6 26.5L70.4 27.4L68.6 28.0L68.6 27.1L68.0 27.2L66.2 28.0L65.9 28.9L63.8 29.8L62.9 31.3L62.6 33.1L61.4 33.7L59.6 35.2L60.2 37.9L59.9 39.0L59.0 38.2L58.5 36.7L57.8 36.1L56.6 35.9L54.5 36.0L54.1 36.7L51.7 36.4L49.9 37.6L49.6 39.1L49.5 40.7L50.5 42.7L51.7 43.2L53.5 42.9L53.8 41.5L56.0 41.2L55.7 43.0L55.1 44.5L56.6 44.5L58.2 45.1L58.1 47.5L59.0 48.7L60.2 48.6L61.7 49.0L61.7 49.6L60.2 49.8L59.6 49.3L58.4 49.0L56.7 48.1L55.7 46.3L53.5 45.7L51.7 44.5L49.9 44.6L47.5 43.7L44.8 42.1L44.8 40.6L43.3 39.1L42.1 37.6L40.6 36.1L39.3 35.1L39.4 36.1L40.9 37.9L41.8 39.4L42.4 40.3L40.9 39.1L39.4 37.3L38.8 36.1L37.9 34.6L37.0 33.7L35.8 33.4L34.9 32.2L34.6 31.3L33.7 29.9L33.5 28.3L33.7 26.4L33.3 25.0L34.6 25.6L34.3 24.7L33.1 24.1L31.6 23.2L30.1 21.4L28.3 20.2L26.8 19.0L25.3 18.4L23.5 18.0L21.1 17.7L19.3 17.6L18.0 18.4L16.8 17.6L15.6 19.0L13.2 20.2L10.8 21.1L9.3 21.2L11.4 20.5L13.2 19.0L10.8 18.7L9.0 17.4L8.4 16.2L11.4 15.5L9.0 15.3L7.2 14.7L10.2 14.1L9.0 13.1L10.8 12.0L14.1 11.3M34.0 25.0L32.8 24.8L31.1 23.6L32.8 23.9L34.0 25.0M72.7 25.5L74.6 26.0L76.4 26.1L76.5 25.3L75.8 24.4L74.7 23.2L73.7 23.8L72.7 25.5M68.6 16.8L67.4 15.8L69.5 16.2L69.8 15.0L67.7 14.3L71.3 14.0L69.2 13.2L67.4 12.0L65.0 11.1L61.4 10.3L59.6 9.8L56.6 9.7L54.1 9.9L54.8 11.4L57.2 12.0L60.8 12.0L63.2 13.1L64.4 13.8L64.4 14.7L61.1 15.2L63.8 15.4L65.6 16.4L68.6 16.8M37.3 11.4L38.5 12.5L40.9 12.9L45.1 12.8L47.2 12.3L45.7 11.4L45.1 10.3L43.3 10.0L40.9 10.5L39.1 10.0L37.0 10.5L37.3 11.4M33.1 10.8L34.3 11.4L36.4 11.0L37.6 9.9L35.5 9.3L33.4 9.7L33.1 10.8M37.9 8.8L42.1 9.3L44.5 8.9L42.7 8.1L39.1 8.2L37.9 8.8M46.9 10.8L49.9 10.8L49.3 9.7L47.2 9.9L46.9 10.8M50.8 10.7L53.8 10.4L53.8 9.6L51.1 9.6L50.8 10.7M52.9 9.2L60.2 9.2L60.2 8.6L55.4 8.1L52.9 8.4L52.9 9.2M55.4 8.1L61.4 8.2L63.2 6.9L67.4 5.7L71.0 4.6L66.2 4.2L59.0 4.3L52.9 5.1L56.0 6.0L55.4 7.2L55.4 8.1M51.1 6.3L55.4 7.0L56.0 5.7L52.3 5.2L51.1 6.3M56.0 15.6L57.8 16.2L59.6 15.8L59.9 15.3L57.8 14.4L56.0 15.3L56.0 15.6M48.1 8.7L49.9 8.7L48.7 8.1L46.9 8.4L48.1 8.7M48.7 12.6L50.5 12.8L50.5 12.2L49.0 12.2L48.7 12.6M64.4 7.1L67.4 8.4L72.2 8.4L74.6 10.2L75.8 12.0L77.6 12.3L76.1 13.8L77.0 15.6L78.8 17.1L81.8 18.0L82.7 16.8L84.2 15.0L86.0 14.6L89.0 13.2L93.3 12.6L95.1 11.7L95.1 10.2L96.9 8.7L96.3 7.2L98.1 6.0L101.1 5.1L95.1 4.6L89.0 3.9L81.2 4.3L73.4 4.7L69.8 5.3L68.0 6.0L64.4 7.1M93.9 14.7L95.1 15.6L96.9 16.0L99.6 15.5L100.1 14.7L98.7 14.1L96.3 14.4L94.8 14.2L93.9 14.7M61.7 49.0L62.9 47.7L64.4 47.4L65.3 46.7L65.3 47.7L66.8 47.2L68.6 47.8L71.0 47.8L72.2 49.0L74.0 50.5L75.8 50.7L77.3 51.4L78.2 53.2L78.2 54.1L79.4 54.8L81.5 55.7L84.2 56.0L86.0 57.2L87.2 58.1L87.2 59.6L85.7 61.4L84.8 62.9L84.8 65.0L83.6 67.4L82.4 68.0L80.6 68.6L79.1 69.8L79.0 71.3L77.0 73.7L76.1 74.7L74.6 75.1L73.2 74.6L74.0 76.1L73.4 77.3L71.0 77.6L70.8 78.8L69.2 78.8L69.8 79.8L69.0 81.2L67.7 82.0L68.7 82.9L67.4 84.2L66.8 85.6L67.1 85.9L69.1 87.1L68.0 87.5L66.2 87.2L65.0 86.6L63.8 85.7L62.9 84.2L62.9 82.4L63.8 80.6L63.9 79.1L64.1 76.4L65.0 74.0L65.3 72.2L65.9 69.2L66.0 65.3L65.0 64.4L62.6 62.6L61.4 60.5L60.3 58.4L59.4 57.2L60.2 56.0L59.7 54.8L60.2 53.8L61.1 52.9L61.8 51.7L61.7 49.6M71.6 85.1L73.4 85.1L72.8 85.6L71.6 85.1M127.9 36.1L128.8 37.9L129.7 39.7L130.6 41.2L130.9 43.0L132.1 44.8L134.1 46.5L134.4 47.2L136.6 47.4L139.1 47.0L138.9 48.7L137.2 51.4L134.8 53.5L133.3 55.2L132.1 56.9L131.8 58.4L132.4 60.5L132.8 62.9L130.6 64.7L129.4 66.2L129.7 68.6L128.2 69.7L128.0 71.0L126.4 73.1L123.9 74.6L121.5 74.8L120.3 75.1L119.3 74.7L119.3 73.4L118.2 71.3L117.3 69.8L117.0 67.7L115.5 64.7L116.4 61.7L116.0 59.3L115.5 57.2L113.8 54.8L114.0 52.9L114.1 51.7L113.4 51.4L111.9 51.6L111.0 50.4L109.0 50.5L107.1 51.3L105.6 51.0L103.8 51.5L102.6 50.5L100.8 49.5L100.3 48.4L99.3 47.5L98.2 46.6L97.8 45.3L98.5 44.2L98.5 42.4L98.1 41.5L98.7 39.9L99.6 38.4L100.5 37.4L102.3 36.4L102.5 35.2L103.5 34.0L104.7 32.8L105.0 32.6L107.1 33.0L108.9 32.2L111.3 32.0L114.3 31.7L114.9 33.1L114.4 33.8L115.5 34.4L117.6 34.9L119.7 35.9L120.3 34.6L122.1 34.5L123.6 35.1L125.7 35.5L127.7 35.3L127.9 36.1M138.0 61.4L138.6 63.5L138.0 65.0L137.0 68.0L135.6 69.5L134.7 68.0L135.0 66.2L134.8 64.4L136.3 63.6L137.2 62.3L138.0 61.4M127.7 35.3L128.9 35.3L129.7 34.0L130.0 32.5L130.0 32.0L128.2 32.4L126.7 32.2L125.1 32.1L124.5 31.0L124.1 30.1L125.7 29.5L127.3 29.4L129.4 28.9L131.2 29.5L133.3 29.2L132.4 28.0L130.6 27.1L131.5 25.9L129.4 26.4L128.5 27.4L128.2 26.5L126.8 26.2L126.0 27.1L125.1 28.0L125.1 29.2L124.2 29.6L122.7 29.6L122.4 30.1L122.0 29.8L122.1 30.7L122.7 31.3L122.1 32.2L121.2 31.9L120.9 30.7L120.0 29.8L120.0 28.9L117.9 28.0L116.7 27.0L116.4 26.7L115.7 26.9L115.8 27.7L116.7 28.6L117.9 29.0L119.4 30.0L118.5 29.8L118.2 30.4L118.5 30.7L117.9 31.3L117.7 30.1L116.7 29.5L115.5 28.9L114.6 28.3L114.3 27.7L113.6 27.4L112.8 27.8L111.3 28.1L110.2 28.2L110.2 28.9L108.8 29.5L108.1 30.4L108.3 30.9L107.9 31.5L107.1 32.0L105.6 32.1L104.9 32.5L104.5 32.0L103.8 31.8L102.9 31.9L103.0 31.0L102.6 30.8L103.0 29.5L102.9 28.3L103.5 27.9L105.3 28.0L107.2 28.0L107.6 27.1L107.6 26.4L106.8 25.7L105.6 25.4L105.5 25.0L107.1 24.9L107.4 24.2L108.4 24.4L109.3 23.8L110.1 23.3L111.0 22.6L111.3 22.1L112.5 22.0L113.7 21.7L113.3 20.8L113.2 19.9L114.6 19.4L114.6 20.5L114.3 21.2L114.9 21.7L116.7 21.7L119.4 21.2L120.2 21.4L120.9 20.9L120.9 19.9L121.5 19.4L122.9 19.7L122.4 18.7L125.1 18.3L126.4 18.0L124.5 17.7L122.1 18.0L121.2 17.4L121.1 16.2L123.3 15.0L123.5 14.7L121.5 14.6L120.9 15.3L118.8 16.5L118.7 17.4L119.6 18.0L118.2 19.0L118.1 19.9L117.6 20.3L116.8 20.8L116.1 20.8L115.8 20.3L115.0 19.0L114.6 18.5L113.4 19.1L112.5 19.3L111.6 18.7L111.3 17.4L111.9 16.5L113.4 15.9L114.6 15.3L115.8 14.4L116.7 13.5L117.9 12.9L119.4 12.2L121.2 11.9L123.8 11.4L125.4 11.6L127.0 11.9L128.2 12.4L130.0 12.5L133.0 13.5L133.0 14.3L131.2 14.4L128.8 14.0L129.1 15.0L129.4 15.5L130.9 15.6L132.7 15.3L132.4 14.4L133.9 14.1L134.8 14.4L134.9 13.1L136.0 13.1L136.1 14.0L137.8 13.2L140.5 12.9L142.6 12.9L144.7 12.2L146.8 12.5L148.6 12.8L148.6 11.1L149.8 10.2L151.9 10.3L152.0 12.0L152.7 13.8L152.5 12.6L153.4 10.8L155.2 10.7L156.7 9.9L160.3 9.6L160.6 9.0L164.3 8.4L167.3 8.3L171.1 7.4L172.1 8.1L175.7 8.1L176.6 9.6L174.5 9.7L176.9 9.9L179.9 10.2L182.9 9.8L184.7 10.5L186.2 11.4L187.1 11.6L188.3 11.1L191.0 11.2L192.5 10.6L196.1 10.6L198.5 11.1L200.4 11.6L204.0 12.0L204.6 12.3L207.3 12.3L209.7 12.0L210.9 12.6L214.2 12.2L216.6 12.8M0.0 12.8L2.4 13.5L4.8 13.8L6.1 14.4L4.5 15.3L2.7 15.2L0.9 14.4L0.0 14.7M216.6 15.0L214.8 15.2L216.0 16.5L213.0 17.0L210.8 18.0L208.2 18.0L207.0 18.2L206.4 19.3L206.1 20.5L205.6 21.1L204.6 22.1L203.7 22.4L202.6 23.5L202.0 22.3L202.0 20.5L202.8 19.4L204.3 18.4L206.4 17.1L207.0 16.5L204.6 17.0L202.5 17.1L201.6 18.5L199.8 18.7L197.3 18.4L194.3 18.5L192.5 19.6L191.0 21.1L189.8 21.3L191.3 21.8L193.3 22.1L192.8 23.5L192.7 25.0L191.6 26.2L189.8 27.7L188.3 28.4L187.1 28.6L186.3 29.2L185.0 30.2L186.2 31.9L186.1 32.9L184.4 33.5L184.4 31.9L183.5 31.3L183.7 30.4L183.1 30.1L181.5 30.7L181.7 29.8L181.1 29.5L179.6 30.7L179.1 31.0L179.9 31.7L181.1 31.5L182.0 31.9L180.1 33.1L181.0 34.5L181.6 35.5L181.5 36.4L180.8 37.6L180.2 38.8L179.0 39.7L178.1 40.3L176.9 40.7L175.1 41.2L174.4 41.9L174.2 41.2L173.3 41.2L172.4 42.1L172.0 42.7L172.7 43.9L173.9 44.9L174.1 46.6L173.0 47.8L172.5 48.4L171.5 48.9L171.5 48.0L170.3 47.5L169.1 46.4L168.8 46.0L168.5 47.2L168.0 48.6L168.6 49.3L169.4 50.1L170.5 51.4L170.6 53.2L170.9 53.4L169.3 52.5L168.7 50.8L167.9 49.3L167.4 49.3L167.6 47.8L167.3 46.0L167.0 44.5L166.4 44.2L165.6 44.6L165.0 44.2L164.9 42.4L163.8 41.5L163.5 40.6L162.8 40.8L161.8 41.0L160.6 41.3L160.5 42.1L159.4 42.4L157.8 43.9L156.6 44.8L156.6 46.2L156.3 48.0L155.8 48.6L155.2 49.0L154.9 49.3L154.2 48.4L153.4 46.6L152.5 44.5L152.1 42.7L152.0 41.5L151.7 41.0L150.6 41.6L149.8 40.7L150.6 40.3L149.4 40.0L148.6 39.2L146.8 39.0L145.3 39.0L142.8 38.7L142.3 37.9L140.8 38.1L139.6 37.5L138.7 36.4L137.8 35.9L137.2 36.2L137.7 37.4L138.5 38.2L138.9 39.1L139.3 38.5L139.3 39.4L140.8 39.6L142.0 38.4L142.4 39.4L143.6 40.0L144.3 40.6L143.5 41.8L143.0 42.7L141.6 43.7L139.7 44.6L137.7 45.7L135.4 46.4L134.5 46.5L134.1 45.2L133.9 44.0L132.7 42.2L131.8 41.2L130.7 39.4L129.5 37.3L129.4 36.4L128.9 37.3L128.2 36.7L127.9 36.1M136.6 27.1L138.1 26.2L140.2 26.0L140.2 27.1L139.0 27.4L138.6 28.3L139.9 28.6L140.2 29.8L140.5 30.7L140.8 31.9L139.0 32.1L137.8 31.6L137.8 30.7L138.1 29.8L136.9 28.3L136.6 27.1M143.5 26.2L145.0 26.5L145.0 27.4L143.5 27.9L143.5 26.2M104.9 24.1L106.2 23.9L107.7 23.6L109.1 23.3L108.6 23.2L109.3 22.4L108.4 22.3L108.2 21.7L107.4 21.1L107.1 20.5L106.5 20.5L107.1 19.4L105.9 19.4L106.5 18.9L105.3 18.9L104.8 19.6L105.0 20.5L105.4 21.1L106.5 21.1L106.2 21.5L106.5 22.0L105.6 22.1L105.8 22.6L105.2 23.0L106.4 23.2L105.8 23.3L104.9 24.1M102.3 23.1L103.5 23.0L104.5 22.7L104.7 22.0L105.0 21.4L104.4 20.9L103.3 20.9L103.2 21.4L102.3 21.5L102.6 22.1L102.1 22.7L102.3 23.1M139.3 11.1L140.5 11.6L142.9 11.6L141.7 10.5L142.0 9.6L144.4 8.5L148.0 8.0L149.5 7.9L145.6 8.3L142.6 9.0L141.4 10.0L140.2 10.5L139.3 11.1M114.9 6.3L116.7 7.5L118.5 8.1L119.7 7.2L120.9 6.9L124.5 6.0L120.3 5.7L117.9 6.0L114.9 6.3M165.5 6.6L168.5 7.2L171.5 6.9L168.5 6.0L165.5 5.4L165.5 6.6M190.7 8.7L194.3 9.0L198.5 8.9L196.1 8.4L191.9 8.3L190.7 8.7M136.6 5.7L141.4 6.0L145.6 5.5L143.2 5.1L138.4 5.4L136.6 5.7M193.7 21.5L194.3 22.3L194.5 24.1L195.2 24.7L194.3 25.9L194.6 26.5L193.7 26.5L193.7 25.3L193.7 23.5L193.7 21.5M192.5 29.2L193.4 28.6L194.5 28.9L195.8 28.1L195.1 27.7L193.6 26.8L193.4 28.0L192.5 28.4L192.5 29.2M193.3 29.3L193.7 30.4L193.1 31.4L193.0 32.7L192.4 33.1L191.8 33.3L190.7 33.3L190.0 34.0L189.5 33.4L188.3 33.5L187.1 33.7L187.5 34.3L187.3 35.3L186.8 35.4L186.5 34.6L186.3 34.1L187.1 33.7L187.1 33.5L188.0 32.9L188.9 32.7L190.1 32.7L190.6 31.8L190.9 32.0L191.8 31.5L192.4 30.4L192.5 29.7L193.3 29.3M187.9 34.1L188.3 34.4L189.1 34.1L189.3 33.6L188.6 33.6L187.9 34.1M181.1 39.0L181.7 39.1L181.1 40.9L180.6 40.3L181.1 39.0M173.7 42.5L174.5 42.1L175.1 42.3L174.5 43.1L173.7 43.0L173.7 42.5M156.4 48.3L157.2 49.0L157.5 49.9L156.9 50.5L156.3 49.9L156.4 48.3M180.8 43.0L181.8 43.0L181.7 44.2L181.4 45.1L182.0 45.7L182.9 46.3L182.0 46.0L181.1 45.9L180.7 45.2L180.5 44.5L180.8 43.0M181.7 49.9L182.6 49.0L183.8 48.3L184.4 49.6L183.8 50.5L182.9 50.4L182.6 49.6L181.7 49.9M183.2 46.6L183.8 47.5L183.5 48.1L183.2 47.5L183.2 46.6M181.7 47.2L182.4 47.5L182.4 48.6L182.0 48.3L181.7 47.2M178.8 49.0L180.2 47.8L180.1 47.4L178.8 49.0M173.9 53.2L174.5 53.1L175.3 52.5L176.3 52.2L177.2 51.3L178.1 50.1L178.8 49.9L179.9 51.0L179.3 51.6L179.2 52.9L179.9 53.5L179.0 54.6L178.4 55.7L178.1 56.6L177.2 56.6L176.3 56.1L175.4 56.1L174.6 55.8L174.2 54.6L173.9 53.8L173.9 53.2M165.6 50.8L167.0 51.0L168.6 52.6L170.3 53.8L171.2 55.1L172.1 56.0L172.0 57.6L171.2 57.6L169.9 56.6L168.8 55.1L167.7 53.2L166.7 52.2L165.6 50.8M171.7 58.1L172.6 57.8L173.6 58.1L175.1 58.1L176.3 58.4L177.2 58.8L177.1 59.4L175.1 59.1L173.3 58.8L172.4 58.5L171.7 58.1M177.5 59.1L178.7 59.1L179.9 59.2L182.2 59.1L182.2 59.4L179.9 59.4L178.1 59.5L177.5 59.1M182.6 60.3L183.5 59.6L184.8 59.2L183.5 60.0L182.6 60.3M180.4 53.7L181.0 53.4L182.3 53.5L183.5 53.2L183.1 53.9L181.1 53.8L180.6 54.6L181.4 54.7L182.5 54.6L181.7 55.2L181.5 55.8L182.0 56.3L182.3 56.9L182.0 57.5L181.4 57.0L181.0 55.8L180.7 56.3L180.7 57.5L180.2 57.5L180.1 56.3L179.8 55.8L180.3 54.5L180.4 53.7M185.1 52.9L185.7 53.4L185.3 54.6L185.1 53.8L185.1 52.9M185.3 56.0L187.0 56.1L185.9 56.2L185.3 56.0M187.1 54.6L188.0 54.4L188.9 54.6L189.0 55.7L189.5 56.1L190.7 55.1L191.6 55.2L193.1 55.7L195.2 56.4L196.0 57.3L197.0 57.8L197.2 58.4L197.3 59.3L198.9 60.4L198.5 60.5L197.0 60.2L196.1 59.3L195.2 58.8L194.6 59.3L194.0 59.7L193.1 59.6L191.9 59.0L191.3 59.1L191.2 58.5L191.8 58.2L191.3 57.5L189.8 56.8L188.6 56.4L188.2 56.6L187.7 55.9L188.8 55.5L187.8 55.5L187.1 55.0L187.1 54.6M197.5 57.6L198.5 57.5L199.9 56.7L199.8 57.3L198.9 57.9L197.5 57.6M194.0 60.6L194.6 62.9L195.7 63.2L196.1 65.3L197.9 67.1L199.0 68.3L200.4 69.5L200.7 71.3L200.1 73.7L199.2 74.7L198.5 76.6L197.0 77.0L196.3 77.6L195.2 77.1L194.0 77.3L192.8 77.0L192.2 75.8L191.5 75.5L191.2 75.3L191.2 74.0L190.1 75.2L189.7 74.9L188.9 73.9L187.4 73.1L185.6 73.4L184.1 73.6L182.9 74.0L182.6 74.6L180.5 74.6L179.3 75.2L177.6 74.8L177.9 73.1L177.2 71.6L176.7 69.8L176.6 68.6L177.0 67.4L178.4 66.5L179.9 66.2L181.4 65.6L181.9 64.4L182.7 64.0L183.8 62.9L184.7 62.6L185.6 63.1L186.3 63.1L186.8 61.7L188.0 61.1L189.5 61.5L190.6 61.4L190.1 62.3L189.8 63.2L191.0 63.8L192.2 64.7L193.1 64.6L193.5 63.2L193.6 61.7L194.0 60.6M195.4 78.6L196.4 78.9L197.5 78.8L197.5 79.5L197.0 80.2L196.1 80.3L195.7 79.6L195.4 78.6M212.2 74.9L213.3 76.1L214.1 76.4L214.8 77.0L215.7 76.8L215.3 77.8L214.8 77.9L214.5 78.7L213.8 79.2L213.5 78.7L213.5 78.1L212.9 77.8L213.4 77.3L213.4 76.4L212.4 75.2L212.2 74.9M212.2 78.5L213.1 79.0L213.0 79.4L212.3 80.3L211.4 80.8L211.2 81.7L210.3 82.1L209.6 82.2L208.5 81.8L209.1 81.1L209.7 80.6L211.1 79.9L211.8 78.8L212.2 78.5M207.0 66.3L208.8 67.6L207.6 67.0L207.0 66.3M57.2 41.0L58.4 40.3L59.9 40.3L62.0 41.2L63.7 42.0L61.7 42.2L61.4 41.8L60.2 41.1L59.0 40.6L57.8 41.0L57.2 41.0M63.5 42.2L65.0 42.2L66.3 42.5L67.1 43.0L66.2 43.1L65.3 43.5L64.7 43.2L63.5 43.1L64.6 43.0L64.1 42.3L63.5 42.2M61.2 43.1L62.4 43.3L61.9 43.4L61.2 43.1M67.9 43.0L68.8 43.1L67.9 43.3L67.9 43.0M52.9 26.1L55.4 25.0L57.2 25.4L57.5 26.2L56.0 26.2L54.1 26.1L52.9 26.1M55.5 28.9L56.4 28.9L56.4 27.7L57.2 26.6L56.0 26.7L55.5 27.7L55.5 28.9M57.5 26.5L59.3 26.5L60.2 27.2L59.1 28.2L58.7 28.1L58.1 27.4L58.2 27.0L57.5 26.5M58.2 29.1L59.6 29.1L60.8 28.5L59.9 28.5L58.7 28.8L58.2 29.1M60.3 28.1L62.0 28.1L62.4 27.7L61.4 27.7L60.3 28.1M48.7 22.0L49.9 23.8L50.4 23.5L49.6 21.8L48.7 22.0M37.9 17.4L39.7 17.4L42.1 16.5L40.9 16.4L39.1 16.9L37.9 17.4M33.1 14.3L34.9 15.0L37.3 14.4L36.7 13.8L34.3 13.8L33.1 14.3M41.2 18.8L43.3 18.5L45.1 18.5L43.3 18.7L41.2 18.8M170.8 23.2L171.8 23.0L173.3 22.1L174.4 20.8L173.9 20.6L172.7 22.0L171.5 22.7L170.8 23.2M127.4 54.0L128.8 54.0L128.8 55.4L127.6 55.8L127.4 54.8L127.4 54.0M125.9 56.2L126.2 57.5L127.0 59.3L126.6 59.1L125.9 57.5L125.9 56.2M128.8 59.9L129.2 61.1L129.5 62.8L129.1 62.6L128.9 61.1L128.8 59.9M126.5 18.0L128.0 17.9L127.9 17.1L126.7 17.3L126.5 18.0M129.1 17.4L130.1 17.3L129.7 16.5L129.1 16.8L129.1 17.4M152.5 26.8L153.4 26.1L155.8 26.3L155.2 26.7L153.4 27.1L152.5 26.8M66.2 63.4L66.8 63.9L66.5 64.0L66.2 63.4M14.4 42.0L15.0 42.2L14.7 42.7L14.4 42.4L14.4 42.0M15.3 19.6L16.7 19.3L16.5 19.7L15.6 20.0L15.3 19.6M61.7 13.7L62.9 13.7L62.6 13.1L61.7 13.7M113.5 28.3L114.0 28.5L114.1 29.5L114.1 30.6L113.4 30.7L113.3 29.6L113.6 29.2L113.5 28.3M115.8 31.3L117.6 31.2L117.4 32.1L115.8 31.5L115.8 31.3M122.4 32.8L124.1 33.0L122.7 33.1L122.4 32.8M127.7 33.1L129.1 32.7L128.5 33.3L127.7 33.1M140.4 46.6L141.1 46.6L140.4 46.6M149.7 83.6L150.7 83.8L150.1 84.1L149.7 83.6M85.4 86.6L86.6 86.9L85.4 86.6M114.9 20.6L115.9 20.5L115.7 21.1L114.9 20.6M119.3 19.9L119.7 19.3L119.6 19.7L119.3 19.9M185.1 38.4L185.5 38.0L185.1 38.4M196.1 27.4L197.6 26.8L198.5 26.4L199.8 25.7L201.0 24.7L201.9 23.9M8.4 21.7L6.9 22.1L4.8 22.7L3.0 22.9L1.2 23.0M212.1 22.3L213.6 22.6L215.4 22.9" fill="none" stroke="#161616" stroke-opacity="0.55" stroke-width="0.6" stroke-linejoin="round"/>
<path transform="translate(21.1 346.3)" d="M14.1 11.3L18.0 11.7L22.3 12.0L26.5 12.6L31.3 12.0L36.1 12.3L39.1 13.2L43.3 13.2L46.9 13.2L50.5 13.2L51.7 10.8L54.1 12.6L56.6 13.2L59.0 12.3L59.6 13.8L56.6 14.4L55.4 15.6L52.3 16.8L51.4 18.7L52.6 19.9L55.4 20.2L57.2 20.9L59.0 21.1L59.0 22.3L60.2 23.3L60.8 22.9L60.8 21.4L62.0 20.5L62.0 19.3L61.4 18.0L61.4 16.5L63.8 16.7L66.2 17.4L66.5 18.7L68.6 19.0L69.5 17.9L71.0 19.6L71.6 20.8L73.4 21.4L74.6 22.9L72.2 24.1L68.6 23.9L66.2 25.9L69.2 24.7L69.5 25.9L71.6 26.5L70.4 27.4L68.6 28.0L68.6 27.1L68.0 27.2L66.2 28.0L65.9 28.9L63.8 29.8L62.9 31.3L62.6 33.1L61.4 33.7L59.6 35.2L60.2 37.9L59.9 39.0L59.0 38.2L58.5 36.7L57.8 36.1L56.6 35.9L54.5 36.0L54.1 36.7L51.7 36.4L49.9 37.6L49.6 39.1L49.5 40.7L50.5 42.7L51.7 43.2L53.5 42.9L53.8 41.5L56.0 41.2L55.7 43.0L55.1 44.5L56.6 44.5L58.2 45.1L58.1 47.5L59.0 48.7L60.2 48.6L61.7 49.0L61.7 49.6L60.2 49.8L59.6 49.3L58.4 49.0L56.7 48.1L55.7 46.3L53.5 45.7L51.7 44.5L49.9 44.6L47.5 43.7L44.8 42.1L44.8 40.6L43.3 39.1L42.1 37.6L40.6 36.1L39.3 35.1L39.4 36.1L40.9 37.9L41.8 39.4L42.4 40.3L40.9 39.1L39.4 37.3L38.8 36.1L37.9 34.6L37.0 33.7L35.8 33.4L34.9 32.2L34.6 31.3L33.7 29.9L33.5 28.3L33.7 26.4L33.3 25.0L34.6 25.6L34.3 24.7L33.1 24.1L31.6 23.2L30.1 21.4L28.3 20.2L26.8 19.0L25.3 18.4L23.5 18.0L21.1 17.7L19.3 17.6L18.0 18.4L16.8 17.6L15.6 19.0L13.2 20.2L10.8 21.1L9.3 21.2L11.4 20.5L13.2 19.0L10.8 18.7L9.0 17.4L8.4 16.2L11.4 15.5L9.0 15.3L7.2 14.7L10.2 14.1L9.0 13.1L10.8 12.0L14.1 11.3M34.0 25.0L32.8 24.8L31.1 23.6L32.8 23.9L34.0 25.0M72.7 25.5L74.6 26.0L76.4 26.1L76.5 25.3L75.8 24.4L74.7 23.2L73.7 23.8L72.7 25.5M68.6 16.8L67.4 15.8L69.5 16.2L69.8 15.0L67.7 14.3L71.3 14.0L69.2 13.2L67.4 12.0L65.0 11.1L61.4 10.3L59.6 9.8L56.6 9.7L54.1 9.9L54.8 11.4L57.2 12.0L60.8 12.0L63.2 13.1L64.4 13.8L64.4 14.7L61.1 15.2L63.8 15.4L65.6 16.4L68.6 16.8M37.3 11.4L38.5 12.5L40.9 12.9L45.1 12.8L47.2 12.3L45.7 11.4L45.1 10.3L43.3 10.0L40.9 10.5L39.1 10.0L37.0 10.5L37.3 11.4M33.1 10.8L34.3 11.4L36.4 11.0L37.6 9.9L35.5 9.3L33.4 9.7L33.1 10.8M37.9 8.8L42.1 9.3L44.5 8.9L42.7 8.1L39.1 8.2L37.9 8.8M46.9 10.8L49.9 10.8L49.3 9.7L47.2 9.9L46.9 10.8M50.8 10.7L53.8 10.4L53.8 9.6L51.1 9.6L50.8 10.7M52.9 9.2L60.2 9.2L60.2 8.6L55.4 8.1L52.9 8.4L52.9 9.2M55.4 8.1L61.4 8.2L63.2 6.9L67.4 5.7L71.0 4.6L66.2 4.2L59.0 4.3L52.9 5.1L56.0 6.0L55.4 7.2L55.4 8.1M51.1 6.3L55.4 7.0L56.0 5.7L52.3 5.2L51.1 6.3M56.0 15.6L57.8 16.2L59.6 15.8L59.9 15.3L57.8 14.4L56.0 15.3L56.0 15.6M48.1 8.7L49.9 8.7L48.7 8.1L46.9 8.4L48.1 8.7M48.7 12.6L50.5 12.8L50.5 12.2L49.0 12.2L48.7 12.6M64.4 7.1L67.4 8.4L72.2 8.4L74.6 10.2L75.8 12.0L77.6 12.3L76.1 13.8L77.0 15.6L78.8 17.1L81.8 18.0L82.7 16.8L84.2 15.0L86.0 14.6L89.0 13.2L93.3 12.6L95.1 11.7L95.1 10.2L96.9 8.7L96.3 7.2L98.1 6.0L101.1 5.1L95.1 4.6L89.0 3.9L81.2 4.3L73.4 4.7L69.8 5.3L68.0 6.0L64.4 7.1M93.9 14.7L95.1 15.6L96.9 16.0L99.6 15.5L100.1 14.7L98.7 14.1L96.3 14.4L94.8 14.2L93.9 14.7M61.7 49.0L62.9 47.7L64.4 47.4L65.3 46.7L65.3 47.7L66.8 47.2L68.6 47.8L71.0 47.8L72.2 49.0L74.0 50.5L75.8 50.7L77.3 51.4L78.2 53.2L78.2 54.1L79.4 54.8L81.5 55.7L84.2 56.0L86.0 57.2L87.2 58.1L87.2 59.6L85.7 61.4L84.8 62.9L84.8 65.0L83.6 67.4L82.4 68.0L80.6 68.6L79.1 69.8L79.0 71.3L77.0 73.7L76.1 74.7L74.6 75.1L73.2 74.6L74.0 76.1L73.4 77.3L71.0 77.6L70.8 78.8L69.2 78.8L69.8 79.8L69.0 81.2L67.7 82.0L68.7 82.9L67.4 84.2L66.8 85.6L67.1 85.9L69.1 87.1L68.0 87.5L66.2 87.2L65.0 86.6L63.8 85.7L62.9 84.2L62.9 82.4L63.8 80.6L63.9 79.1L64.1 76.4L65.0 74.0L65.3 72.2L65.9 69.2L66.0 65.3L65.0 64.4L62.6 62.6L61.4 60.5L60.3 58.4L59.4 57.2L60.2 56.0L59.7 54.8L60.2 53.8L61.1 52.9L61.8 51.7L61.7 49.6M71.6 85.1L73.4 85.1L72.8 85.6L71.6 85.1M127.9 36.1L128.8 37.9L129.7 39.7L130.6 41.2L130.9 43.0L132.1 44.8L134.1 46.5L134.4 47.2L136.6 47.4L139.1 47.0L138.9 48.7L137.2 51.4L134.8 53.5L133.3 55.2L132.1 56.9L131.8 58.4L132.4 60.5L132.8 62.9L130.6 64.7L129.4 66.2L129.7 68.6L128.2 69.7L128.0 71.0L126.4 73.1L123.9 74.6L121.5 74.8L120.3 75.1L119.3 74.7L119.3 73.4L118.2 71.3L117.3 69.8L117.0 67.7L115.5 64.7L116.4 61.7L116.0 59.3L115.5 57.2L113.8 54.8L114.0 52.9L114.1 51.7L113.4 51.4L111.9 51.6L111.0 50.4L109.0 50.5L107.1 51.3L105.6 51.0L103.8 51.5L102.6 50.5L100.8 49.5L100.3 48.4L99.3 47.5L98.2 46.6L97.8 45.3L98.5 44.2L98.5 42.4L98.1 41.5L98.7 39.9L99.6 38.4L100.5 37.4L102.3 36.4L102.5 35.2L103.5 34.0L104.7 32.8L105.0 32.6L107.1 33.0L108.9 32.2L111.3 32.0L114.3 31.7L114.9 33.1L114.4 33.8L115.5 34.4L117.6 34.9L119.7 35.9L120.3 34.6L122.1 34.5L123.6 35.1L125.7 35.5L127.7 35.3L127.9 36.1M138.0 61.4L138.6 63.5L138.0 65.0L137.0 68.0L135.6 69.5L134.7 68.0L135.0 66.2L134.8 64.4L136.3 63.6L137.2 62.3L138.0 61.4M127.7 35.3L128.9 35.3L129.7 34.0L130.0 32.5L130.0 32.0L128.2 32.4L126.7 32.2L125.1 32.1L124.5 31.0L124.1 30.1L125.7 29.5L127.3 29.4L129.4 28.9L131.2 29.5L133.3 29.2L132.4 28.0L130.6 27.1L131.5 25.9L129.4 26.4L128.5 27.4L128.2 26.5L126.8 26.2L126.0 27.1L125.1 28.0L125.1 29.2L124.2 29.6L122.7 29.6L122.4 30.1L122.0 29.8L122.1 30.7L122.7 31.3L122.1 32.2L121.2 31.9L120.9 30.7L120.0 29.8L120.0 28.9L117.9 28.0L116.7 27.0L116.4 26.7L115.7 26.9L115.8 27.7L116.7 28.6L117.9 29.0L119.4 30.0L118.5 29.8L118.2 30.4L118.5 30.7L117.9 31.3L117.7 30.1L116.7 29.5L115.5 28.9L114.6 28.3L114.3 27.7L113.6 27.4L112.8 27.8L111.3 28.1L110.2 28.2L110.2 28.9L108.8 29.5L108.1 30.4L108.3 30.9L107.9 31.5L107.1 32.0L105.6 32.1L104.9 32.5L104.5 32.0L103.8 31.8L102.9 31.9L103.0 31.0L102.6 30.8L103.0 29.5L102.9 28.3L103.5 27.9L105.3 28.0L107.2 28.0L107.6 27.1L107.6 26.4L106.8 25.7L105.6 25.4L105.5 25.0L107.1 24.9L107.4 24.2L108.4 24.4L109.3 23.8L110.1 23.3L111.0 22.6L111.3 22.1L112.5 22.0L113.7 21.7L113.3 20.8L113.2 19.9L114.6 19.4L114.6 20.5L114.3 21.2L114.9 21.7L116.7 21.7L119.4 21.2L120.2 21.4L120.9 20.9L120.9 19.9L121.5 19.4L122.9 19.7L122.4 18.7L125.1 18.3L126.4 18.0L124.5 17.7L122.1 18.0L121.2 17.4L121.1 16.2L123.3 15.0L123.5 14.7L121.5 14.6L120.9 15.3L118.8 16.5L118.7 17.4L119.6 18.0L118.2 19.0L118.1 19.9L117.6 20.3L116.8 20.8L116.1 20.8L115.8 20.3L115.0 19.0L114.6 18.5L113.4 19.1L112.5 19.3L111.6 18.7L111.3 17.4L111.9 16.5L113.4 15.9L114.6 15.3L115.8 14.4L116.7 13.5L117.9 12.9L119.4 12.2L121.2 11.9L123.8 11.4L125.4 11.6L127.0 11.9L128.2 12.4L130.0 12.5L133.0 13.5L133.0 14.3L131.2 14.4L128.8 14.0L129.1 15.0L129.4 15.5L130.9 15.6L132.7 15.3L132.4 14.4L133.9 14.1L134.8 14.4L134.9 13.1L136.0 13.1L136.1 14.0L137.8 13.2L140.5 12.9L142.6 12.9L144.7 12.2L146.8 12.5L148.6 12.8L148.6 11.1L149.8 10.2L151.9 10.3L152.0 12.0L152.7 13.8L152.5 12.6L153.4 10.8L155.2 10.7L156.7 9.9L160.3 9.6L160.6 9.0L164.3 8.4L167.3 8.3L171.1 7.4L172.1 8.1L175.7 8.1L176.6 9.6L174.5 9.7L176.9 9.9L179.9 10.2L182.9 9.8L184.7 10.5L186.2 11.4L187.1 11.6L188.3 11.1L191.0 11.2L192.5 10.6L196.1 10.6L198.5 11.1L200.4 11.6L204.0 12.0L204.6 12.3L207.3 12.3L209.7 12.0L210.9 12.6L214.2 12.2L216.6 12.8M0.0 12.8L2.4 13.5L4.8 13.8L6.1 14.4L4.5 15.3L2.7 15.2L0.9 14.4L0.0 14.7M216.6 15.0L214.8 15.2L216.0 16.5L213.0 17.0L210.8 18.0L208.2 18.0L207.0 18.2L206.4 19.3L206.1 20.5L205.6 21.1L204.6 22.1L203.7 22.4L202.6 23.5L202.0 22.3L202.0 20.5L202.8 19.4L204.3 18.4L206.4 17.1L207.0 16.5L204.6 17.0L202.5 17.1L201.6 18.5L199.8 18.7L197.3 18.4L194.3 18.5L192.5 19.6L191.0 21.1L189.8 21.3L191.3 21.8L193.3 22.1L192.8 23.5L192.7 25.0L191.6 26.2L189.8 27.7L188.3 28.4L187.1 28.6L186.3 29.2L185.0 30.2L186.2 31.9L186.1 32.9L184.4 33.5L184.4 31.9L183.5 31.3L183.7 30.4L183.1 30.1L181.5 30.7L181.7 29.8L181.1 29.5L179.6 30.7L179.1 31.0L179.9 31.7L181.1 31.5L182.0 31.9L180.1 33.1L181.0 34.5L181.6 35.5L181.5 36.4L180.8 37.6L180.2 38.8L179.0 39.7L178.1 40.3L176.9 40.7L175.1 41.2L174.4 41.9L174.2 41.2L173.3 41.2L172.4 42.1L172.0 42.7L172.7 43.9L173.9 44.9L174.1 46.6L173.0 47.8L172.5 48.4L171.5 48.9L171.5 48.0L170.3 47.5L169.1 46.4L168.8 46.0L168.5 47.2L168.0 48.6L168.6 49.3L169.4 50.1L170.5 51.4L170.6 53.2L170.9 53.4L169.3 52.5L168.7 50.8L167.9 49.3L167.4 49.3L167.6 47.8L167.3 46.0L167.0 44.5L166.4 44.2L165.6 44.6L165.0 44.2L164.9 42.4L163.8 41.5L163.5 40.6L162.8 40.8L161.8 41.0L160.6 41.3L160.5 42.1L159.4 42.4L157.8 43.9L156.6 44.8L156.6 46.2L156.3 48.0L155.8 48.6L155.2 49.0L154.9 49.3L154.2 48.4L153.4 46.6L152.5 44.5L152.1 42.7L152.0 41.5L151.7 41.0L150.6 41.6L149.8 40.7L150.6 40.3L149.4 40.0L148.6 39.2L146.8 39.0L145.3 39.0L142.8 38.7L142.3 37.9L140.8 38.1L139.6 37.5L138.7 36.4L137.8 35.9L137.2 36.2L137.7 37.4L138.5 38.2L138.9 39.1L139.3 38.5L139.3 39.4L140.8 39.6L142.0 38.4L142.4 39.4L143.6 40.0L144.3 40.6L143.5 41.8L143.0 42.7L141.6 43.7L139.7 44.6L137.7 45.7L135.4 46.4L134.5 46.5L134.1 45.2L133.9 44.0L132.7 42.2L131.8 41.2L130.7 39.4L129.5 37.3L129.4 36.4L128.9 37.3L128.2 36.7L127.9 36.1M136.6 27.1L138.1 26.2L140.2 26.0L140.2 27.1L139.0 27.4L138.6 28.3L139.9 28.6L140.2 29.8L140.5 30.7L140.8 31.9L139.0 32.1L137.8 31.6L137.8 30.7L138.1 29.8L136.9 28.3L136.6 27.1M143.5 26.2L145.0 26.5L145.0 27.4L143.5 27.9L143.5 26.2M104.9 24.1L106.2 23.9L107.7 23.6L109.1 23.3L108.6 23.2L109.3 22.4L108.4 22.3L108.2 21.7L107.4 21.1L107.1 20.5L106.5 20.5L107.1 19.4L105.9 19.4L106.5 18.9L105.3 18.9L104.8 19.6L105.0 20.5L105.4 21.1L106.5 21.1L106.2 21.5L106.5 22.0L105.6 22.1L105.8 22.6L105.2 23.0L106.4 23.2L105.8 23.3L104.9 24.1M102.3 23.1L103.5 23.0L104.5 22.7L104.7 22.0L105.0 21.4L104.4 20.9L103.3 20.9L103.2 21.4L102.3 21.5L102.6 22.1L102.1 22.7L102.3 23.1M139.3 11.1L140.5 11.6L142.9 11.6L141.7 10.5L142.0 9.6L144.4 8.5L148.0 8.0L149.5 7.9L145.6 8.3L142.6 9.0L141.4 10.0L140.2 10.5L139.3 11.1M114.9 6.3L116.7 7.5L118.5 8.1L119.7 7.2L120.9 6.9L124.5 6.0L120.3 5.7L117.9 6.0L114.9 6.3M165.5 6.6L168.5 7.2L171.5 6.9L168.5 6.0L165.5 5.4L165.5 6.6M190.7 8.7L194.3 9.0L198.5 8.9L196.1 8.4L191.9 8.3L190.7 8.7M136.6 5.7L141.4 6.0L145.6 5.5L143.2 5.1L138.4 5.4L136.6 5.7M193.7 21.5L194.3 22.3L194.5 24.1L195.2 24.7L194.3 25.9L194.6 26.5L193.7 26.5L193.7 25.3L193.7 23.5L193.7 21.5M192.5 29.2L193.4 28.6L194.5 28.9L195.8 28.1L195.1 27.7L193.6 26.8L193.4 28.0L192.5 28.4L192.5 29.2M193.3 29.3L193.7 30.4L193.1 31.4L193.0 32.7L192.4 33.1L191.8 33.3L190.7 33.3L190.0 34.0L189.5 33.4L188.3 33.5L187.1 33.7L187.5 34.3L187.3 35.3L186.8 35.4L186.5 34.6L186.3 34.1L187.1 33.7L187.1 33.5L188.0 32.9L188.9 32.7L190.1 32.7L190.6 31.8L190.9 32.0L191.8 31.5L192.4 30.4L192.5 29.7L193.3 29.3M187.9 34.1L188.3 34.4L189.1 34.1L189.3 33.6L188.6 33.6L187.9 34.1M181.1 39.0L181.7 39.1L181.1 40.9L180.6 40.3L181.1 39.0M173.7 42.5L174.5 42.1L175.1 42.3L174.5 43.1L173.7 43.0L173.7 42.5M156.4 48.3L157.2 49.0L157.5 49.9L156.9 50.5L156.3 49.9L156.4 48.3M180.8 43.0L181.8 43.0L181.7 44.2L181.4 45.1L182.0 45.7L182.9 46.3L182.0 46.0L181.1 45.9L180.7 45.2L180.5 44.5L180.8 43.0M181.7 49.9L182.6 49.0L183.8 48.3L184.4 49.6L183.8 50.5L182.9 50.4L182.6 49.6L181.7 49.9M183.2 46.6L183.8 47.5L183.5 48.1L183.2 47.5L183.2 46.6M181.7 47.2L182.4 47.5L182.4 48.6L182.0 48.3L181.7 47.2M178.8 49.0L180.2 47.8L180.1 47.4L178.8 49.0M173.9 53.2L174.5 53.1L175.3 52.5L176.3 52.2L177.2 51.3L178.1 50.1L178.8 49.9L179.9 51.0L179.3 51.6L179.2 52.9L179.9 53.5L179.0 54.6L178.4 55.7L178.1 56.6L177.2 56.6L176.3 56.1L175.4 56.1L174.6 55.8L174.2 54.6L173.9 53.8L173.9 53.2M165.6 50.8L167.0 51.0L168.6 52.6L170.3 53.8L171.2 55.1L172.1 56.0L172.0 57.6L171.2 57.6L169.9 56.6L168.8 55.1L167.7 53.2L166.7 52.2L165.6 50.8M171.7 58.1L172.6 57.8L173.6 58.1L175.1 58.1L176.3 58.4L177.2 58.8L177.1 59.4L175.1 59.1L173.3 58.8L172.4 58.5L171.7 58.1M177.5 59.1L178.7 59.1L179.9 59.2L182.2 59.1L182.2 59.4L179.9 59.4L178.1 59.5L177.5 59.1M182.6 60.3L183.5 59.6L184.8 59.2L183.5 60.0L182.6 60.3M180.4 53.7L181.0 53.4L182.3 53.5L183.5 53.2L183.1 53.9L181.1 53.8L180.6 54.6L181.4 54.7L182.5 54.6L181.7 55.2L181.5 55.8L182.0 56.3L182.3 56.9L182.0 57.5L181.4 57.0L181.0 55.8L180.7 56.3L180.7 57.5L180.2 57.5L180.1 56.3L179.8 55.8L180.3 54.5L180.4 53.7M185.1 52.9L185.7 53.4L185.3 54.6L185.1 53.8L185.1 52.9M185.3 56.0L187.0 56.1L185.9 56.2L185.3 56.0M187.1 54.6L188.0 54.4L188.9 54.6L189.0 55.7L189.5 56.1L190.7 55.1L191.6 55.2L193.1 55.7L195.2 56.4L196.0 57.3L197.0 57.8L197.2 58.4L197.3 59.3L198.9 60.4L198.5 60.5L197.0 60.2L196.1 59.3L195.2 58.8L194.6 59.3L194.0 59.7L193.1 59.6L191.9 59.0L191.3 59.1L191.2 58.5L191.8 58.2L191.3 57.5L189.8 56.8L188.6 56.4L188.2 56.6L187.7 55.9L188.8 55.5L187.8 55.5L187.1 55.0L187.1 54.6M197.5 57.6L198.5 57.5L199.9 56.7L199.8 57.3L198.9 57.9L197.5 57.6M194.0 60.6L194.6 62.9L195.7 63.2L196.1 65.3L197.9 67.1L199.0 68.3L200.4 69.5L200.7 71.3L200.1 73.7L199.2 74.7L198.5 76.6L197.0 77.0L196.3 77.6L195.2 77.1L194.0 77.3L192.8 77.0L192.2 75.8L191.5 75.5L191.2 75.3L191.2 74.0L190.1 75.2L189.7 74.9L188.9 73.9L187.4 73.1L185.6 73.4L184.1 73.6L182.9 74.0L182.6 74.6L180.5 74.6L179.3 75.2L177.6 74.8L177.9 73.1L177.2 71.6L176.7 69.8L176.6 68.6L177.0 67.4L178.4 66.5L179.9 66.2L181.4 65.6L181.9 64.4L182.7 64.0L183.8 62.9L184.7 62.6L185.6 63.1L186.3 63.1L186.8 61.7L188.0 61.1L189.5 61.5L190.6 61.4L190.1 62.3L189.8 63.2L191.0 63.8L192.2 64.7L193.1 64.6L193.5 63.2L193.6 61.7L194.0 60.6M195.4 78.6L196.4 78.9L197.5 78.8L197.5 79.5L197.0 80.2L196.1 80.3L195.7 79.6L195.4 78.6M212.2 74.9L213.3 76.1L214.1 76.4L214.8 77.0L215.7 76.8L215.3 77.8L214.8 77.9L214.5 78.7L213.8 79.2L213.5 78.7L213.5 78.1L212.9 77.8L213.4 77.3L213.4 76.4L212.4 75.2L212.2 74.9M212.2 78.5L213.1 79.0L213.0 79.4L212.3 80.3L211.4 80.8L211.2 81.7L210.3 82.1L209.6 82.2L208.5 81.8L209.1 81.1L209.7 80.6L211.1 79.9L211.8 78.8L212.2 78.5M207.0 66.3L208.8 67.6L207.6 67.0L207.0 66.3M57.2 41.0L58.4 40.3L59.9 40.3L62.0 41.2L63.7 42.0L61.7 42.2L61.4 41.8L60.2 41.1L59.0 40.6L57.8 41.0L57.2 41.0M63.5 42.2L65.0 42.2L66.3 42.5L67.1 43.0L66.2 43.1L65.3 43.5L64.7 43.2L63.5 43.1L64.6 43.0L64.1 42.3L63.5 42.2M61.2 43.1L62.4 43.3L61.9 43.4L61.2 43.1M67.9 43.0L68.8 43.1L67.9 43.3L67.9 43.0M52.9 26.1L55.4 25.0L57.2 25.4L57.5 26.2L56.0 26.2L54.1 26.1L52.9 26.1M55.5 28.9L56.4 28.9L56.4 27.7L57.2 26.6L56.0 26.7L55.5 27.7L55.5 28.9M57.5 26.5L59.3 26.5L60.2 27.2L59.1 28.2L58.7 28.1L58.1 27.4L58.2 27.0L57.5 26.5M58.2 29.1L59.6 29.1L60.8 28.5L59.9 28.5L58.7 28.8L58.2 29.1M60.3 28.1L62.0 28.1L62.4 27.7L61.4 27.7L60.3 28.1M48.7 22.0L49.9 23.8L50.4 23.5L49.6 21.8L48.7 22.0M37.9 17.4L39.7 17.4L42.1 16.5L40.9 16.4L39.1 16.9L37.9 17.4M33.1 14.3L34.9 15.0L37.3 14.4L36.7 13.8L34.3 13.8L33.1 14.3M41.2 18.8L43.3 18.5L45.1 18.5L43.3 18.7L41.2 18.8M170.8 23.2L171.8 23.0L173.3 22.1L174.4 20.8L173.9 20.6L172.7 22.0L171.5 22.7L170.8 23.2M127.4 54.0L128.8 54.0L128.8 55.4L127.6 55.8L127.4 54.8L127.4 54.0M125.9 56.2L126.2 57.5L127.0 59.3L126.6 59.1L125.9 57.5L125.9 56.2M128.8 59.9L129.2 61.1L129.5 62.8L129.1 62.6L128.9 61.1L128.8 59.9M126.5 18.0L128.0 17.9L127.9 17.1L126.7 17.3L126.5 18.0M129.1 17.4L130.1 17.3L129.7 16.5L129.1 16.8L129.1 17.4M152.5 26.8L153.4 26.1L155.8 26.3L155.2 26.7L153.4 27.1L152.5 26.8M66.2 63.4L66.8 63.9L66.5 64.0L66.2 63.4M14.4 42.0L15.0 42.2L14.7 42.7L14.4 42.4L14.4 42.0M15.3 19.6L16.7 19.3L16.5 19.7L15.6 20.0L15.3 19.6M61.7 13.7L62.9 13.7L62.6 13.1L61.7 13.7M113.5 28.3L114.0 28.5L114.1 29.5L114.1 30.6L113.4 30.7L113.3 29.6L113.6 29.2L113.5 28.3M115.8 31.3L117.6 31.2L117.4 32.1L115.8 31.5L115.8 31.3M122.4 32.8L124.1 33.0L122.7 33.1L122.4 32.8M127.7 33.1L129.1 32.7L128.5 33.3L127.7 33.1M140.4 46.6L141.1 46.6L140.4 46.6M149.7 83.6L150.7 83.8L150.1 84.1L149.7 83.6M85.4 86.6L86.6 86.9L85.4 86.6M114.9 20.6L115.9 20.5L115.7 21.1L114.9 20.6M119.3 19.9L119.7 19.3L119.6 19.7L119.3 19.9M185.1 38.4L185.5 38.0L185.1 38.4M196.1 27.4L197.6 26.8L198.5 26.4L199.8 25.7L201.0 24.7L201.9 23.9M8.4 21.7L6.9 22.1L4.8 22.7L3.0 22.9L1.2 23.0M212.1 22.3L213.6 22.6L215.4 22.9" fill="none" stroke="#111" stroke-opacity="0.75" stroke-width="0.75" stroke-dasharray="0.8 2.9 1.4 3.7 0.6 2.2"/>
<path transform="translate(21.1 346.3)" d="M68.6 16.8L67.4 15.8L69.5 16.2L69.8 15.0L67.7 14.3L71.3 14.0L69.2 13.2L67.4 12.0L65.0 11.1L61.4 10.3L59.6 9.8L56.6 9.7L54.1 9.9L54.8 11.4L57.2 12.0L60.8 12.0L63.2 13.1L64.4 13.8L64.4 14.7L61.1 15.2L63.8 15.4L65.6 16.4L68.6 16.8M37.3 11.4L38.5 12.5L40.9 12.9L45.1 12.8L47.2 12.3L45.7 11.4L45.1 10.3L43.3 10.0L40.9 10.5L39.1 10.0L37.0 10.5L37.3 11.4M33.1 10.8L34.3 11.4L36.4 11.0L37.6 9.9L35.5 9.3L33.4 9.7L33.1 10.8M37.9 8.8L42.1 9.3L44.5 8.9L42.7 8.1L39.1 8.2L37.9 8.8M46.9 10.8L49.9 10.8L49.3 9.7L47.2 9.9L46.9 10.8M50.8 10.7L53.8 10.4L53.8 9.6L51.1 9.6L50.8 10.7M52.9 9.2L60.2 9.2L60.2 8.6L55.4 8.1L52.9 8.4L52.9 9.2M55.4 8.1L61.4 8.2L63.2 6.9L67.4 5.7L71.0 4.6L66.2 4.2L59.0 4.3L52.9 5.1L56.0 6.0L55.4 7.2L55.4 8.1M51.1 6.3L55.4 7.0L56.0 5.7L52.3 5.2L51.1 6.3M56.0 15.6L57.8 16.2L59.6 15.8L59.9 15.3L57.8 14.4L56.0 15.3L56.0 15.6M48.1 8.7L49.9 8.7L48.7 8.1L46.9 8.4L48.1 8.7M48.7 12.6L50.5 12.8L50.5 12.2L49.0 12.2L48.7 12.6M93.9 14.7L95.1 15.6L96.9 16.0L99.6 15.5L100.1 14.7L98.7 14.1L96.3 14.4L94.8 14.2L93.9 14.7M71.6 85.1L73.4 85.1L72.8 85.6L71.6 85.1M139.3 11.1L140.5 11.6L142.9 11.6L141.7 10.5L142.0 9.6L144.4 8.5L148.0 8.0L149.5 7.9L145.6 8.3L142.6 9.0L141.4 10.0L140.2 10.5L139.3 11.1M114.9 6.3L116.7 7.5L118.5 8.1L119.7 7.2L120.9 6.9L124.5 6.0L120.3 5.7L117.9 6.0L114.9 6.3M192.5 29.2L193.4 28.6L194.5 28.9L195.8 28.1L195.1 27.7L193.6 26.8L193.4 28.0L192.5 28.4L192.5 29.2M187.9 34.1L188.3 34.4L189.1 34.1L189.3 33.6L188.6 33.6L187.9 34.1M180.8 43.0L181.8 43.0L181.7 44.2L181.4 45.1L182.0 45.7L182.9 46.3L182.0 46.0L181.1 45.9L180.7 45.2L180.5 44.5L180.8 43.0M181.7 49.9L182.6 49.0L183.8 48.3L184.4 49.6L183.8 50.5L182.9 50.4L182.6 49.6L181.7 49.9M180.4 53.7L181.0 53.4L182.3 53.5L183.5 53.2L183.1 53.9L181.1 53.8L180.6 54.6L181.4 54.7L182.5 54.6L181.7 55.2L181.5 55.8L182.0 56.3L182.3 56.9L182.0 57.5L181.4 57.0L181.0 55.8L180.7 56.3L180.7 57.5L180.2 57.5L180.1 56.3L179.8 55.8L180.3 54.5L180.4 53.7M185.1 52.9L185.7 53.4L185.3 54.6L185.1 53.8L185.1 52.9M197.5 57.6L198.5 57.5L199.9 56.7L199.8 57.3L198.9 57.9L197.5 57.6" fill="none" stroke="#111" stroke-opacity="0.55" stroke-width="0.6" stroke-linejoin="round"/>
<path transform="translate(21.1 346.3)" d="M63.8 96.9L67.4 95.7L68.6 94.2L70.4 93.1L73.7 92.2L71.9 93.0L70.7 94.0" fill="none" stroke="#111" stroke-opacity="0.8" stroke-width="1.1" stroke-dasharray="2 0.9 1.2 0.7"/>
<path transform="translate(21.1 346.3)" d="M65.3 72.2L65.0 74.0L64.1 76.4L63.9 79.1L63.5 81.2L63.0 83.0L63.2 84.8L64.1 86.0L65.6 86.8L67.1 87.4L68.6 87.2M63.8 84.2L64.7 85.7L66.2 86.3L67.1 85.9M65.9 86.9L68.0 86.8M18.0 17.6L20.5 17.7L23.5 18.1L25.9 19.0L27.7 20.2L29.5 21.4L30.7 22.6M75.5 11.7L75.9 13.8L76.8 15.3L78.2 16.8M95.1 11.7L92.1 12.9L88.4 13.5L85.4 14.7L83.6 15.6M111.4 18.4L111.5 17.1L112.5 16.4L114.6 15.5L116.1 14.1L117.6 13.1L119.7 12.2" fill="none" stroke="#111" stroke-opacity="0.75" stroke-width="1.0" stroke-linecap="round"/>
<path transform="translate(21.1 346.3)" d="M38.9 19.9l-0.2 0.2M42.8 18.2l0.8 0.1M33.8 17.7l0.4 0.1M40.8 14.6l0.5 0.1M44.4 13.6l-0.2 0.5M50.7 20.7l-0.5 0.2M35.7 20.1l0.6 0.6M36.4 16.5l-0.3 0.4M43.0 20.6l0.5 0.1M45.4 17.7l0.5 0.5M41.3 18.7l-0.8 0.4M37.5 16.6l-0.1 0.8M46.3 18.8l-0.4 0.0M40.6 15.1l0.7 0.3M33.8 15.8l-0.6 0.4M48.9 18.6l-0.5 0.5M43.6 17.5l-1.1 0.4M41.6 15.9l1.0 0.1M44.8 13.3l-0.5 0.2M40.1 15.8l0.8 0.0M36.1 20.1l1.0 0.1M35.4 19.1l0.4 0.8M34.5 17.5l-0.2 0.8M47.9 14.3l0.5 0.4M39.6 14.1l-0.4 0.0M36.3 19.2l0.6 0.4M43.7 19.0l0.7 0.0M39.8 16.6l-1.0 0.1M42.4 16.2l-0.2 0.2M49.3 15.0l-1.0 0.3M40.2 17.9l0.9 0.2M34.2 20.5l0.4 0.2M39.2 20.6l0.5 0.0M34.9 18.2l1.2 0.1M44.2 19.9l0.5 0.3M39.7 20.1l-1.2 0.4M41.5 17.3l0.4 0.1M39.3 19.0l-0.4 0.2M48.4 20.1l-0.0 0.3M54.7 25.1l-0.1 0.9M58.5 21.5l0.5 0.3M50.1 21.1l-0.1 0.8M52.1 24.1l-1.1 0.5M58.4 20.9l-0.9 0.4M50.9 22.5l0.1 0.2M48.5 23.8l0.7 0.5M59.6 22.8l-1.3 0.2M59.6 23.3l0.4 0.2M50.5 24.2l-0.5 0.8M58.2 22.7l-0.5 0.7M61.1 20.1l-1.0 0.2M68.3 21.2l0.9 0.4M63.8 19.2l-0.7 0.0M64.5 18.4l-0.3 0.3M61.5 23.2l-1.1 0.2M61.7 19.1l-1.0 0.0M64.0 20.8l0.3 0.1M70.7 20.2l-0.1 0.9M64.9 18.8l-0.4 0.2M62.9 22.3l0.6 0.4M63.0 21.5l1.1 0.3M64.0 21.3l-0.3 0.8M64.7 18.5l-0.0 0.6M65.8 24.0l0.1 0.3M60.2 19.3l0.7 0.3M68.0 20.7l0.4 0.5M32.1 14.5l0.8 0.2M29.3 17.6l-0.6 0.4M32.1 14.7l-0.7 0.1M32.6 16.2l-0.0 0.7M31.2 16.0l0.1 0.9M33.4 14.0l-0.6 0.1M32.1 13.6l-0.4 0.1M28.2 16.6l0.5 0.1M35.9 9.2l-0.9 0.5M38.9 8.9l-0.2 0.3M66.6 7.4l1.0 0.6M48.2 10.3l-1.1 0.0M39.2 10.6l-0.0 0.4M40.5 11.3l-0.2 0.2M54.1 10.6l0.6 0.0M56.7 10.2l1.3 0.2M63.0 7.4l0.5 0.1M34.6 8.5l0.3 0.2M49.1 7.8l-0.5 0.2M38.8 7.7l-0.2 0.7M36.5 12.9l-0.4 0.4M35.8 7.6l-0.5 0.7M36.3 8.1l1.1 0.2M50.3 11.2l-0.2 0.8M43.2 12.5l-0.0 0.4M37.2 12.3l0.5 0.1M44.9 11.4l-0.4 0.3M52.0 12.2l0.1 0.2M42.6 13.1l-0.6 0.4M40.3 10.4l-0.4 0.1M64.1 10.6l0.0 0.8M48.0 10.2l-0.7 0.7M46.1 8.2l-0.6 0.5M48.4 11.1l0.4 0.1M35.8 8.8l0.3 0.2M36.3 8.2l-0.9 0.3M43.8 11.8l0.5 0.4M39.1 10.6l0.9 0.6M70.0 9.9l0.9 0.6M44.8 11.1l0.7 0.0M51.1 10.2l0.6 0.3M33.3 11.6l0.7 0.1M49.1 8.3l0.3 0.3M61.5 6.2l-0.7 0.5M64.5 4.7l0.2 0.4M70.6 7.8l-0.6 0.5M49.1 4.9l-0.9 0.2M64.9 5.0l0.7 0.2M59.7 4.9l-0.9 0.5M61.5 4.7l-0.5 0.6M53.4 8.3l0.6 0.2M50.5 4.9l-0.2 0.6M60.6 13.6l0.0 0.2M63.1 13.2l-0.0 0.6M61.1 16.5l-0.4 0.3M52.3 15.6l-0.3 0.3M62.3 12.2l0.0 0.5M58.3 13.6l-0.7 0.4M60.8 16.5l0.5 0.2M62.3 15.4l-0.1 0.2M52.1 15.6l-0.5 0.6M61.3 15.4l-0.0 0.5M124.3 17.6l-0.5 0.1M127.4 14.1l0.8 0.0M126.5 14.0l0.1 0.4M122.8 14.1l0.7 0.4M122.4 15.8l-0.4 0.0M126.5 15.9l-0.9 0.2M122.9 14.3l0.0 0.2M121.6 16.0l0.1 0.4M128.9 16.4l0.6 0.7M126.4 14.4l-0.4 0.1M143.1 14.6l-0.6 0.1M133.1 16.2l-0.9 0.0M132.9 16.0l0.2 0.2M128.2 14.0l0.8 0.7M151.9 12.0l-0.0 0.3M155.6 8.6l-1.0 0.3M163.4 8.8l-0.8 0.1M166.0 13.0l-0.5 0.4M167.0 10.1l0.2 0.2M172.3 12.6l0.1 0.4M153.4 9.7l-0.6 0.0M164.1 11.8l-0.1 0.5M149.4 12.5l1.0 0.5M159.4 12.2l-1.2 0.3M187.4 17.0l0.3 0.2M182.9 17.4l0.4 0.3M192.5 11.6l-0.5 0.4M185.9 14.3l0.2 0.4M171.1 16.0l-0.4 0.0M189.7 13.5l-0.5 0.2M179.9 16.3l0.2 0.5M208.6 11.9l-0.3 0.1M169.8 12.9l-0.7 0.2M193.2 18.0l0.4 0.8M192.8 44.7l-0.5 0.0M169.1 57.4l-0.1 0.7M196.6 47.1l-0.5 0.7M180.6 50.2l1.1 0.1M173.2 43.6l-0.3 0.4M169.7 55.6l-0.4 0.6M169.2 58.9l-0.1 0.6M178.3 56.1l-0.1 0.2M175.4 51.9l-0.9 0.1M194.7 51.6l0.4 0.3M197.2 47.4l0.2 0.2M181.9 48.0l0.1 0.4M187.5 43.5l0.3 0.2M176.6 52.6l-0.3 0.3M191.8 46.8l-0.0 0.4M197.6 54.5l-0.4 0.2M172.8 46.4l0.8 0.7M181.9 56.8l0.5 0.3M187.5 43.0l0.6 0.2M172.5 42.6l0.3 0.1M167.4 53.1l-1.1 0.3M189.7 42.2l-0.6 0.1M171.6 43.3l-0.2 0.2M187.4 53.3l0.2 0.4M171.1 60.1l0.4 0.4M197.1 57.9l-0.5 0.0M177.3 45.3l-0.6 0.3M167.1 51.6l0.5 0.8M171.8 53.6l-0.3 0.1M179.1 45.5l-0.3 0.2M199.2 67.9l-0.5 0.1M212.0 50.3l0.3 0.4M215.8 56.2l0.7 0.5M204.3 63.4l1.1 0.0M215.1 55.8l-0.3 0.0M202.8 59.2l-1.2 0.1M205.5 63.9l0.2 0.5M215.3 65.3l-0.8 0.4M24.8 45.9l-0.2 0.4M9.6 58.3l-0.3 0.2M5.9 46.5l0.3 0.2M1.0 52.6l0.7 0.8M26.6 39.5l0.3 0.2M2.9 54.2l-0.5 0.4M60.7 43.9l-0.4 0.6M68.4 39.5l-0.2 0.3M69.8 45.1l-0.1 0.5M68.3 46.1l0.4 0.3M59.5 39.1l-0.2 0.4M63.1 38.0l-0.0 0.4M69.3 41.5l-0.4 0.0M64.3 39.8l-1.1 0.4M57.8 45.1l0.5 0.1M125.0 31.0l-0.7 0.1M124.5 31.5l0.7 0.5M124.9 32.7l-0.3 0.6M121.4 31.8l0.5 0.2M121.6 30.9l-0.2 0.3M120.4 31.9l-0.3 0.3M121.8 32.4l-0.7 0.4M62.9 87.0l0.3 0.6M66.0 87.1l0.9 0.3M64.8 85.5l0.7 0.7M64.3 83.1l0.3 0.5M67.3 79.4l0.2 0.3M66.5 86.1l1.2 0.0M64.9 80.9l0.3 0.8M65.1 86.5l0.9 0.0M66.0 80.2l0.9 0.2M64.6 83.6l0.5 0.2M65.4 80.0l0.7 0.2M66.9 79.7l0.3 0.2M67.7 79.6l0.0 0.2M67.6 84.6l-0.9 0.2M67.0 86.5l-0.4 0.2M64.8 80.7l-0.4 0.2M63.8 84.5l-0.0 0.5M63.2 85.8l-0.8 0.6M103.7 19.4l-0.2 0.2M107.5 20.7l-0.3 0.6M106.5 20.1l0.2 0.6M105.5 19.1l0.1 0.5M114.6 6.6l0.0 0.4M123.5 6.1l0.1 0.3M120.0 8.1l0.7 0.2M115.4 7.1l-0.0 0.2M122.0 8.2l-0.7 0.6M120.5 8.3l-0.0 0.5M125.8 8.0l-1.2 0.4M144.2 5.1l1.1 0.5M141.3 4.9l-0.4 0.1M144.9 4.9l0.6 0.1M144.5 6.3l-0.5 0.1M145.2 6.4l-0.0 0.9M187.6 33.6l-0.0 0.4M185.7 34.3l1.1 0.4M192.7 27.5l0.9 0.4M186.6 31.0l-0.3 0.4M194.8 30.8l-0.3 0.8M186.4 26.5l-0.3 0.4M194.0 33.6l-0.9 0.0M189.2 28.7l0.1 0.3M15.7 21.5l-0.5 0.2M14.8 18.1l-0.3 0.7M11.8 21.7l0.4 0.0M14.6 20.1l-0.0 0.8M111.9 21.1l-0.1 0.2M111.3 20.8l0.6 0.2M112.3 20.3l-0.1 0.3M182.7 47.1l1.1 0.4M180.6 49.9l0.9 0.2M184.0 44.6l0.2 0.4M179.4 45.7l-0.1 0.4M182.8 47.4l-1.0 0.1M180.6 43.5l0.8 0.1M181.5 49.1l1.1 0.1M179.4 46.5l-0.4 0.1M111.6 18.9l-0.6 0.9M111.9 18.6l1.5 0.2M113.6 18.1l-1.2 0.4M114.2 17.4l0.5 0.3M113.8 17.1l-0.9 0.6M115.9 16.5l-0.2 0.7M116.3 16.1l-0.7 1.0M117.3 16.0l0.5 0.4M118.4 14.8l0.8 0.9M117.9 14.4l-0.5 0.8M119.9 14.1l-1.1 0.4M120.0 13.4l-0.2 0.6M120.6 13.6l-0.6 0.1M120.5 12.6l0.3 0.4M121.2 12.3l-0.5 0.8M122.4 11.7l0.6 0.9M19.2 18.4l-1.4 0.4M18.9 18.7l0.5 0.1M20.7 18.7l-1.0 0.4M20.1 19.3l-0.5 0.4M21.5 19.7l0.6 0.4M22.5 19.9l-1.0 0.1M23.7 20.5l0.3 0.7M24.1 20.4l-0.1 0.5M24.6 20.7l0.4 0.2M26.0 20.7l1.0 0.0M27.1 21.7l0.0 0.6M27.4 21.6l0.5 0.4M28.4 22.5l-0.2 0.4M29.6 22.4l-0.3 0.6M29.7 22.6l1.4 0.3M30.1 23.3l-1.0 0.2M76.2 11.8l0.1 0.8M76.4 12.3l0.4 0.5M76.7 12.7l-0.5 0.3M77.0 13.5l0.9 0.3M76.7 14.6l0.7 0.7M76.9 15.3l0.6 0.4M77.2 15.6l1.3 0.6M77.5 15.9l0.9 0.2M78.9 16.8l0.1 0.5M93.8 11.9l0.2 0.4M93.8 11.9l-0.0 0.8M91.5 12.4l0.4 0.9M90.2 13.0l-0.7 0.5M90.1 13.0l-1.0 0.6M88.1 13.8l0.1 0.6M86.2 14.3l-1.0 0.6M85.2 14.7l0.2 0.8M84.7 14.7l1.0 0.5M63.5 80.5l-0.5 0.0M63.4 80.8l-1.1 0.1M64.1 81.4l-0.7 0.6M64.9 82.4l0.4 1.0M64.9 83.0l-0.5 0.3M64.8 84.3l0.6 0.5M65.0 84.2l-0.5 0.5M65.0 84.8l-1.1 0.1M66.1 85.8l0.5 0.3M66.5 86.6l0.1 0.8M96.9 9.0l-0.6 0.9M96.2 7.9l-0.1 0.4M96.1 6.8l0.6 0.5M96.2 6.8l1.3 0.0M72.0 8.7l0.1 0.7M73.3 9.4l-1.4 0.2M73.9 9.4l-0.5 0.3M74.6 11.0l1.5 0.0" fill="none" stroke="#111" stroke-opacity="0.85" stroke-width="0.75" stroke-linecap="round"/>
<path transform="translate(21.1 346.3)" d="M0.0 101.3L9.0 101.3L13.2 100.5L18.0 100.2L21.1 99.6L27.1 99.0L33.1 98.4L39.1 98.7L43.3 99.3L48.1 98.1L54.1 98.1L60.2 98.3L63.2 97.5L67.4 95.7L68.6 93.9L71.0 93.0L73.7 92.2L72.2 93.0L71.0 93.9L69.2 95.1L71.6 97.5L72.2 99.3L78.2 100.8L84.2 101.1L87.2 100.8L91.5 99.9L96.3 98.4L101.1 97.2L105.3 96.6L108.3 96.0L114.3 96.3L120.3 96.3L126.4 95.7L129.4 95.7L132.4 95.4L135.4 94.8L138.4 94.2L141.4 93.9L144.4 94.6L149.2 94.9L150.4 95.4L152.2 96.0L155.2 95.1L159.4 94.2L165.5 93.9L168.5 93.6L174.5 93.9L180.5 94.2L186.5 93.9L192.5 94.2L198.5 95.1L204.6 96.3L207.6 96.9L210.6 97.5L210.6 98.7L207.6 99.9L207.6 101.1L210.6 101.1L216.6 101.3" fill="none" stroke="#1a1a1a" stroke-width="0.55" stroke-dasharray="3 1 1 1"/>
</g>
<path d="M48.5 346.3V454.60M75.5 346.3V454.60M102.5 346.3V454.60M129.5 346.3V454.60M156.5 346.3V454.60M183.5 346.3V454.60M210.5 346.3V454.60M21.1 373.5H237.70M21.1 400.5H237.70M21.1 427.5H237.70" stroke="#14140a" stroke-opacity="0.4" stroke-width="0.8" fill="none"/>
<path d="M21.1 346.3V454.6" stroke="#6a6a6a" stroke-width="1" fill="none"/>
<path d="M237.7 346.3V454.6" stroke="#7a7a7a" stroke-width="1" fill="none"/>
<path d="M20.6 346.3H238.2" stroke="#666" stroke-width="1" fill="none"/>
<path d="M20.6 454.6H238.2" stroke="#7c7c7c" stroke-width="1" fill="none"/>
<text class="tk" transform="translate(21.9 461.2) scale(0.92 1)" text-anchor="middle">180°</text>
<text class="tk" transform="translate(49.0 461.2) scale(0.92 1)" text-anchor="middle">135°W</text>
<text class="tk" transform="translate(76.0 461.2) scale(0.92 1)" text-anchor="middle">90°W</text>
<text class="tk" transform="translate(103.1 461.2) scale(0.92 1)" text-anchor="middle">45°W</text>
<text class="tk" transform="translate(130.2 461.2) scale(0.92 1)" text-anchor="middle">0°</text>
<text class="tk" transform="translate(157.3 461.2) scale(0.92 1)" text-anchor="middle">45°E</text>
<text class="tk" transform="translate(184.3 461.2) scale(0.92 1)" text-anchor="middle">90°E</text>
<text class="tk" transform="translate(211.4 461.2) scale(0.92 1)" text-anchor="middle">135°E</text>
<text class="tk" transform="translate(238.5 461.2) scale(0.92 1)" text-anchor="middle">180°</text>
<text class="tk" transform="translate(19.1 375.4) scale(0.9 1)" text-anchor="end">45°N</text>
<text class="tk" transform="translate(19.1 402.4) scale(0.9 1)" text-anchor="end">0°</text>
<text class="tk" transform="translate(19.1 429.5) scale(0.9 1)" text-anchor="end">45°S</text>
<text class="tk" transform="translate(19.1 456.6) scale(0.9 1)" text-anchor="end">90°S</text>
<text class="tt" x="129.4" y="343.2" text-anchor="middle">Average_N2O_concentration_at_46.42_hPa</text>
<text class="lab" x="18.6" y="333.5">(e)</text>
</g>
<g id="panel-f">
<clipPath id="cpf"><rect x="275.7" y="346.4" width="216.6" height="108.3"/></clipPath>
<g clip-path="url(#cpf)">
<polygon points="275.7,346.3 492.3,346.3 492.3,454.7 275.7,454.7" fill="#fbfffb"/>
<polygon points="275.7,351.9 492.3,351.9 492.3,454.7 275.7,454.7" fill="#20e478"/>
<polygon points="275.7,355.3 492.3,355.3 492.3,454.7 275.7,454.7" fill="#2ad070"/>
<polygon points="275.7,359.4 308.2,361.5 340.7,365.9 355.8,362.0 371.0,362.5 386.2,364.3 410.0,363.5 427.3,365.0 438.1,367.0 459.8,369.2 492.3,367.5 492.3,454.7 275.7,454.7" fill="#66e01c"/>
<polygon points="275.7,367.5 340.7,370.0 355.8,368.4 371.0,369.2 386.2,370.0 410.0,367.5 438.1,372.0 459.8,375.0 492.3,374.0 492.3,454.7 275.7,454.7" fill="#bce600"/>
<polygon points="275.7,374.2 340.7,374.4 371.0,373.3 410.0,374.0 449.0,376.5 492.3,376.5 492.3,454.7 275.7,454.7" fill="#fdf800"/>
<polygon points="275.7,383.4 340.7,383.0 371.0,384.0 394.8,384.7 492.3,384.0 492.3,454.7 275.7,454.7" fill="#ffcc10"/>
<polygon points="275.7,389.6 340.7,389.6 371.0,387.2 394.8,386.3 492.3,385.5 492.3,454.7 275.7,454.7" fill="#ff9e0c"/>
<polygon points="275.7,407.5 384.0,409.7 449.0,407.5 492.3,405.5 492.3,454.7 275.7,454.7" fill="#ffa61c"/>
<polygon points="275.7,409.8 384.0,412.2 449.0,409.5 492.3,407.5 492.3,454.7 275.7,454.7" fill="#ffcc10"/>
<polygon points="275.7,415.8 384.0,417.6 449.0,414.5 492.3,411.6 492.3,454.7 275.7,454.7" fill="#fdf800"/>
<polygon points="275.7,424.0 492.3,424.0 492.3,454.7 275.7,454.7" fill="#bce600"/>
<polygon points="275.7,427.2 492.3,427.2 492.3,454.7 275.7,454.7" fill="#66e01c"/>
<polygon points="275.7,431.7 384.0,431.1 492.3,431.7 492.3,454.7 275.7,454.7" fill="#2ae05c"/>
<polygon points="275.7,436.3 384.0,434.3 492.3,435.6 492.3,454.7 275.7,454.7" fill="#2ad070"/>
<polygon points="275.7,440.2 384.0,438.9 492.3,439.5 492.3,454.7 275.7,454.7" fill="#94f0a8"/>
<polygon points="275.7,448.6 492.3,449.0 492.3,454.7 275.7,454.7" fill="#fbfffb"/>
<path d="M447.6 353 L464 353 L463 358.5 L456 359.5 L448 358Z" fill="#9af0a4"/>
<path d="M275.4 389.6 L287.6 389.6 L287.6 407.8 L275.4 407.8Z" fill="#f4a81e"/>
<path d="M493 386 L484 386.6 L480 389.5 L479.6 394 L479.6 402 L481 406 L486 408.5 L493 409Z" fill="#ecae20"/>
<path transform="translate(275.7 346.4)" d="M14.1 11.3L18.0 11.7L22.3 12.0L26.5 12.6L31.3 12.0L36.1 12.3L39.1 13.2L43.3 13.2L46.9 13.2L50.5 13.2L51.7 10.8L54.1 12.6L56.6 13.2L59.0 12.3L59.6 13.8L56.6 14.4L55.4 15.6L52.3 16.8L51.4 18.7L52.6 19.9L55.4 20.2L57.2 20.9L59.0 21.1L59.0 22.3L60.2 23.3L60.8 22.9L60.8 21.4L62.0 20.5L62.0 19.3L61.4 18.0L61.4 16.5L63.8 16.7L66.2 17.4L66.5 18.7L68.6 19.0L69.5 17.9L71.0 19.6L71.6 20.8L73.4 21.4L74.6 22.9L72.2 24.1L68.6 23.9L66.2 25.9L69.2 24.7L69.5 25.9L71.6 26.5L70.4 27.4L68.6 28.0L68.6 27.1L68.0 27.2L66.2 28.0L65.9 28.9L63.8 29.8L62.9 31.3L62.6 33.1L61.4 33.7L59.6 35.2L60.2 37.9L59.9 39.0L59.0 38.2L58.5 36.7L57.8 36.1L56.6 35.9L54.5 36.0L54.1 36.7L51.7 36.4L49.9 37.6L49.6 39.1L49.5 40.7L50.5 42.7L51.7 43.2L53.5 42.9L53.8 41.5L56.0 41.2L55.7 43.0L55.1 44.5L56.6 44.5L58.2 45.1L58.1 47.5L59.0 48.7L60.2 48.6L61.7 49.0L61.7 49.6L60.2 49.8L59.6 49.3L58.4 49.0L56.7 48.1L55.7 46.3L53.5 45.7L51.7 44.5L49.9 44.6L47.5 43.7L44.8 42.1L44.8 40.6L43.3 39.1L42.1 37.6L40.6 36.1L39.3 35.1L39.4 36.1L40.9 37.9L41.8 39.4L42.4 40.3L40.9 39.1L39.4 37.3L38.8 36.1L37.9 34.6L37.0 33.7L35.8 33.4L34.9 32.2L34.6 31.3L33.7 29.9L33.5 28.3L33.7 26.4L33.3 25.0L34.6 25.6L34.3 24.7L33.1 24.1L31.6 23.2L30.1 21.4L28.3 20.2L26.8 19.0L25.3 18.4L23.5 18.0L21.1 17.7L19.3 17.6L18.0 18.4L16.8 17.6L15.6 19.0L13.2 20.2L10.8 21.1L9.3 21.2L11.4 20.5L13.2 19.0L10.8 18.7L9.0 17.4L8.4 16.2L11.4 15.5L9.0 15.3L7.2 14.7L10.2 14.1L9.0 13.1L10.8 12.0L14.1 11.3M34.0 25.0L32.8 24.8L31.1 23.6L32.8 23.9L34.0 25.0M72.7 25.5L74.6 26.0L76.4 26.1L76.5 25.3L75.8 24.4L74.7 23.2L73.7 23.8L72.7 25.5M68.6 16.8L67.4 15.8L69.5 16.2L69.8 15.0L67.7 14.3L71.3 14.0L69.2 13.2L67.4 12.0L65.0 11.1L61.4 10.3L59.6 9.8L56.6 9.7L54.1 9.9L54.8 11.4L57.2 12.0L60.8 12.0L63.2 13.1L64.4 13.8L64.4 14.7L61.1 15.2L63.8 15.4L65.6 16.4L68.6 16.8M37.3 11.4L38.5 12.5L40.9 12.9L45.1 12.8L47.2 12.3L45.7 11.4L45.1 10.3L43.3 10.0L40.9 10.5L39.1 10.0L37.0 10.5L37.3 11.4M33.1 10.8L34.3 11.4L36.4 11.0L37.6 9.9L35.5 9.3L33.4 9.7L33.1 10.8M37.9 8.8L42.1 9.3L44.5 8.9L42.7 8.1L39.1 8.2L37.9 8.8M46.9 10.8L49.9 10.8L49.3 9.7L47.2 9.9L46.9 10.8M50.8 10.7L53.8 10.4L53.8 9.6L51.1 9.6L50.8 10.7M52.9 9.2L60.2 9.2L60.2 8.6L55.4 8.1L52.9 8.4L52.9 9.2M55.4 8.1L61.4 8.2L63.2 6.9L67.4 5.7L71.0 4.6L66.2 4.2L59.0 4.3L52.9 5.1L56.0 6.0L55.4 7.2L55.4 8.1M51.1 6.3L55.4 7.0L56.0 5.7L52.3 5.2L51.1 6.3M56.0 15.6L57.8 16.2L59.6 15.8L59.9 15.3L57.8 14.4L56.0 15.3L56.0 15.6M48.1 8.7L49.9 8.7L48.7 8.1L46.9 8.4L48.1 8.7M48.7 12.6L50.5 12.8L50.5 12.2L49.0 12.2L48.7 12.6M64.4 7.1L67.4 8.4L72.2 8.4L74.6 10.2L75.8 12.0L77.6 12.3L76.1 13.8L77.0 15.6L78.8 17.1L81.8 18.0L82.7 16.8L84.2 15.0L86.0 14.6L89.0 13.2L93.3 12.6L95.1 11.7L95.1 10.2L96.9 8.7L96.3 7.2L98.1 6.0L101.1 5.1L95.1 4.6L89.0 3.9L81.2 4.3L73.4 4.7L69.8 5.3L68.0 6.0L64.4 7.1M93.9 14.7L95.1 15.6L96.9 16.0L99.6 15.5L100.1 14.7L98.7 14.1L96.3 14.4L94.8 14.2L93.9 14.7M61.7 49.0L62.9 47.7L64.4 47.4L65.3 46.7L65.3 47.7L66.8 47.2L68.6 47.8L71.0 47.8L72.2 49.0L74.0 50.5L75.8 50.7L77.3 51.4L78.2 53.2L78.2 54.1L79.4 54.8L81.5 55.7L84.2 56.0L86.0 57.2L87.2 58.1L87.2 59.6L85.7 61.4L84.8 62.9L84.8 65.0L83.6 67.4L82.4 68.0L80.6 68.6L79.1 69.8L79.0 71.3L77.0 73.7L76.1 74.7L74.6 75.1L73.2 74.6L74.0 76.1L73.4 77.3L71.0 77.6L70.8 78.8L69.2 78.8L69.8 79.8L69.0 81.2L67.7 82.0L68.7 82.9L67.4 84.2L66.8 85.6L67.1 85.9L69.1 87.1L68.0 87.5L66.2 87.2L65.0 86.6L63.8 85.7L62.9 84.2L62.9 82.4L63.8 80.6L63.9 79.1L64.1 76.4L65.0 74.0L65.3 72.2L65.9 69.2L66.0 65.3L65.0 64.4L62.6 62.6L61.4 60.5L60.3 58.4L59.4 57.2L60.2 56.0L59.7 54.8L60.2 53.8L61.1 52.9L61.8 51.7L61.7 49.6M71.6 85.1L73.4 85.1L72.8 85.6L71.6 85.1M127.9 36.1L128.8 37.9L129.7 39.7L130.6 41.2L130.9 43.0L132.1 44.8L134.1 46.5L134.4 47.2L136.6 47.4L139.1 47.0L138.9 48.7L137.2 51.4L134.8 53.5L133.3 55.2L132.1 56.9L131.8 58.4L132.4 60.5L132.8 62.9L130.6 64.7L129.4 66.2L129.7 68.6L128.2 69.7L128.0 71.0L126.4 73.1L123.9 74.6L121.5 74.8L120.3 75.1L119.3 74.7L119.3 73.4L118.2 71.3L117.3 69.8L117.0 67.7L115.5 64.7L116.4 61.7L116.0 59.3L115.5 57.2L113.8 54.8L114.0 52.9L114.1 51.7L113.4 51.4L111.9 51.6L111.0 50.4L109.0 50.5L107.1 51.3L105.6 51.0L103.8 51.5L102.6 50.5L100.8 49.5L100.3 48.4L99.3 47.5L98.2 46.6L97.8 45.3L98.5 44.2L98.5 42.4L98.1 41.5L98.7 39.9L99.6 38.4L100.5 37.4L102.3 36.4L102.5 35.2L103.5 34.0L104.7 32.8L105.0 32.6L107.1 33.0L108.9 32.2L111.3 32.0L114.3 31.7L114.9 33.1L114.4 33.8L115.5 34.4L117.6 34.9L119.7 35.9L120.3 34.6L122.1 34.5L123.6 35.1L125.7 35.5L127.7 35.3L127.9 36.1M138.0 61.4L138.6 63.5L138.0 65.0L137.0 68.0L135.6 69.5L134.7 68.0L135.0 66.2L134.8 64.4L136.3 63.6L137.2 62.3L138.0 61.4M127.7 35.3L128.9 35.3L129.7 34.0L130.0 32.5L130.0 32.0L128.2 32.4L126.7 32.2L125.1 32.1L124.5 31.0L124.1 30.1L125.7 29.5L127.3 29.4L129.4 28.9L131.2 29.5L133.3 29.2L132.4 28.0L130.6 27.1L131.5 25.9L129.4 26.4L128.5 27.4L128.2 26.5L126.8 26.2L126.0 27.1L125.1 28.0L125.1 29.2L124.2 29.6L122.7 29.6L122.4 30.1L122.0 29.8L122.1 30.7L122.7 31.3L122.1 32.2L121.2 31.9L120.9 30.7L120.0 29.8L120.0 28.9L117.9 28.0L116.7 27.0L116.4 26.7L115.7 26.9L115.8 27.7L116.7 28.6L117.9 29.0L119.4 30.0L118.5 29.8L118.2 30.4L118.5 30.7L117.9 31.3L117.7 30.1L116.7 29.5L115.5 28.9L114.6 28.3L114.3 27.7L113.6 27.4L112.8 27.8L111.3 28.1L110.2 28.2L110.2 28.9L108.8 29.5L108.1 30.4L108.3 30.9L107.9 31.5L107.1 32.0L105.6 32.1L104.9 32.5L104.5 32.0L103.8 31.8L102.9 31.9L103.0 31.0L102.6 30.8L103.0 29.5L102.9 28.3L103.5 27.9L105.3 28.0L107.2 28.0L107.6 27.1L107.6 26.4L106.8 25.7L105.6 25.4L105.5 25.0L107.1 24.9L107.4 24.2L108.4 24.4L109.3 23.8L110.1 23.3L111.0 22.6L111.3 22.1L112.5 22.0L113.7 21.7L113.3 20.8L113.2 19.9L114.6 19.4L114.6 20.5L114.3 21.2L114.9 21.7L116.7 21.7L119.4 21.2L120.2 21.4L120.9 20.9L120.9 19.9L121.5 19.4L122.9 19.7L122.4 18.7L125.1 18.3L126.4 18.0L124.5 17.7L122.1 18.0L121.2 17.4L121.1 16.2L123.3 15.0L123.5 14.7L121.5 14.6L120.9 15.3L118.8 16.5L118.7 17.4L119.6 18.0L118.2 19.0L118.1 19.9L117.6 20.3L116.8 20.8L116.1 20.8L115.8 20.3L115.0 19.0L114.6 18.5L113.4 19.1L112.5 19.3L111.6 18.7L111.3 17.4L111.9 16.5L113.4 15.9L114.6 15.3L115.8 14.4L116.7 13.5L117.9 12.9L119.4 12.2L121.2 11.9L123.8 11.4L125.4 11.6L127.0 11.9L128.2 12.4L130.0 12.5L133.0 13.5L133.0 14.3L131.2 14.4L128.8 14.0L129.1 15.0L129.4 15.5L130.9 15.6L132.7 15.3L132.4 14.4L133.9 14.1L134.8 14.4L134.9 13.1L136.0 13.1L136.1 14.0L137.8 13.2L140.5 12.9L142.6 12.9L144.7 12.2L146.8 12.5L148.6 12.8L148.6 11.1L149.8 10.2L151.9 10.3L152.0 12.0L152.7 13.8L152.5 12.6L153.4 10.8L155.2 10.7L156.7 9.9L160.3 9.6L160.6 9.0L164.3 8.4L167.3 8.3L171.1 7.4L172.1 8.1L175.7 8.1L176.6 9.6L174.5 9.7L176.9 9.9L179.9 10.2L182.9 9.8L184.7 10.5L186.2 11.4L187.1 11.6L188.3 11.1L191.0 11.2L192.5 10.6L196.1 10.6L198.5 11.1L200.4 11.6L204.0 12.0L204.6 12.3L207.3 12.3L209.7 12.0L210.9 12.6L214.2 12.2L216.6 12.8M0.0 12.8L2.4 13.5L4.8 13.8L6.1 14.4L4.5 15.3L2.7 15.2L0.9 14.4L0.0 14.7M216.6 15.0L214.8 15.2L216.0 16.5L213.0 17.0L210.8 18.0L208.2 18.0L207.0 18.2L206.4 19.3L206.1 20.5L205.6 21.1L204.6 22.1L203.7 22.4L202.6 23.5L202.0 22.3L202.0 20.5L202.8 19.4L204.3 18.4L206.4 17.1L207.0 16.5L204.6 17.0L202.5 17.1L201.6 18.5L199.8 18.7L197.3 18.4L194.3 18.5L192.5 19.6L191.0 21.1L189.8 21.3L191.3 21.8L193.3 22.1L192.8 23.5L192.7 25.0L191.6 26.2L189.8 27.7L188.3 28.4L187.1 28.6L186.3 29.2L185.0 30.2L186.2 31.9L186.1 32.9L184.4 33.5L184.4 31.9L183.5 31.3L183.7 30.4L183.1 30.1L181.5 30.7L181.7 29.8L181.1 29.5L179.6 30.7L179.1 31.0L179.9 31.7L181.1 31.5L182.0 31.9L180.1 33.1L181.0 34.5L181.6 35.5L181.5 36.4L180.8 37.6L180.2 38.8L179.0 39.7L178.1 40.3L176.9 40.7L175.1 41.2L174.4 41.9L174.2 41.2L173.3 41.2L172.4 42.1L172.0 42.7L172.7 43.9L173.9 44.9L174.1 46.6L173.0 47.8L172.5 48.4L171.5 48.9L171.5 48.0L170.3 47.5L169.1 46.4L168.8 46.0L168.5 47.2L168.0 48.6L168.6 49.3L169.4 50.1L170.5 51.4L170.6 53.2L170.9 53.4L169.3 52.5L168.7 50.8L167.9 49.3L167.4 49.3L167.6 47.8L167.3 46.0L167.0 44.5L166.4 44.2L165.6 44.6L165.0 44.2L164.9 42.4L163.8 41.5L163.5 40.6L162.8 40.8L161.8 41.0L160.6 41.3L160.5 42.1L159.4 42.4L157.8 43.9L156.6 44.8L156.6 46.2L156.3 48.0L155.8 48.6L155.2 49.0L154.9 49.3L154.2 48.4L153.4 46.6L152.5 44.5L152.1 42.7L152.0 41.5L151.7 41.0L150.6 41.6L149.8 40.7L150.6 40.3L149.4 40.0L148.6 39.2L146.8 39.0L145.3 39.0L142.8 38.7L142.3 37.9L140.8 38.1L139.6 37.5L138.7 36.4L137.8 35.9L137.2 36.2L137.7 37.4L138.5 38.2L138.9 39.1L139.3 38.5L139.3 39.4L140.8 39.6L142.0 38.4L142.4 39.4L143.6 40.0L144.3 40.6L143.5 41.8L143.0 42.7L141.6 43.7L139.7 44.6L137.7 45.7L135.4 46.4L134.5 46.5L134.1 45.2L133.9 44.0L132.7 42.2L131.8 41.2L130.7 39.4L129.5 37.3L129.4 36.4L128.9 37.3L128.2 36.7L127.9 36.1M136.6 27.1L138.1 26.2L140.2 26.0L140.2 27.1L139.0 27.4L138.6 28.3L139.9 28.6L140.2 29.8L140.5 30.7L140.8 31.9L139.0 32.1L137.8 31.6L137.8 30.7L138.1 29.8L136.9 28.3L136.6 27.1M143.5 26.2L145.0 26.5L145.0 27.4L143.5 27.9L143.5 26.2M104.9 24.1L106.2 23.9L107.7 23.6L109.1 23.3L108.6 23.2L109.3 22.4L108.4 22.3L108.2 21.7L107.4 21.1L107.1 20.5L106.5 20.5L107.1 19.4L105.9 19.4L106.5 18.9L105.3 18.9L104.8 19.6L105.0 20.5L105.4 21.1L106.5 21.1L106.2 21.5L106.5 22.0L105.6 22.1L105.8 22.6L105.2 23.0L106.4 23.2L105.8 23.3L104.9 24.1M102.3 23.1L103.5 23.0L104.5 22.7L104.7 22.0L105.0 21.4L104.4 20.9L103.3 20.9L103.2 21.4L102.3 21.5L102.6 22.1L102.1 22.7L102.3 23.1M139.3 11.1L140.5 11.6L142.9 11.6L141.7 10.5L142.0 9.6L144.4 8.5L148.0 8.0L149.5 7.9L145.6 8.3L142.6 9.0L141.4 10.0L140.2 10.5L139.3 11.1M114.9 6.3L116.7 7.5L118.5 8.1L119.7 7.2L120.9 6.9L124.5 6.0L120.3 5.7L117.9 6.0L114.9 6.3M165.5 6.6L168.5 7.2L171.5 6.9L168.5 6.0L165.5 5.4L165.5 6.6M190.7 8.7L194.3 9.0L198.5 8.9L196.1 8.4L191.9 8.3L190.7 8.7M136.6 5.7L141.4 6.0L145.6 5.5L143.2 5.1L138.4 5.4L136.6 5.7M193.7 21.5L194.3 22.3L194.5 24.1L195.2 24.7L194.3 25.9L194.6 26.5L193.7 26.5L193.7 25.3L193.7 23.5L193.7 21.5M192.5 29.2L193.4 28.6L194.5 28.9L195.8 28.1L195.1 27.7L193.6 26.8L193.4 28.0L192.5 28.4L192.5 29.2M193.3 29.3L193.7 30.4L193.1 31.4L193.0 32.7L192.4 33.1L191.8 33.3L190.7 33.3L190.0 34.0L189.5 33.4L188.3 33.5L187.1 33.7L187.5 34.3L187.3 35.3L186.8 35.4L186.5 34.6L186.3 34.1L187.1 33.7L187.1 33.5L188.0 32.9L188.9 32.7L190.1 32.7L190.6 31.8L190.9 32.0L191.8 31.5L192.4 30.4L192.5 29.7L193.3 29.3M187.9 34.1L188.3 34.4L189.1 34.1L189.3 33.6L188.6 33.6L187.9 34.1M181.1 39.0L181.7 39.1L181.1 40.9L180.6 40.3L181.1 39.0M173.7 42.5L174.5 42.1L175.1 42.3L174.5 43.1L173.7 43.0L173.7 42.5M156.4 48.3L157.2 49.0L157.5 49.9L156.9 50.5L156.3 49.9L156.4 48.3M180.8 43.0L181.8 43.0L181.7 44.2L181.4 45.1L182.0 45.7L182.9 46.3L182.0 46.0L181.1 45.9L180.7 45.2L180.5 44.5L180.8 43.0M181.7 49.9L182.6 49.0L183.8 48.3L184.4 49.6L183.8 50.5L182.9 50.4L182.6 49.6L181.7 49.9M183.2 46.6L183.8 47.5L183.5 48.1L183.2 47.5L183.2 46.6M181.7 47.2L182.4 47.5L182.4 48.6L182.0 48.3L181.7 47.2M178.8 49.0L180.2 47.8L180.1 47.4L178.8 49.0M173.9 53.2L174.5 53.1L175.3 52.5L176.3 52.2L177.2 51.3L178.1 50.1L178.8 49.9L179.9 51.0L179.3 51.6L179.2 52.9L179.9 53.5L179.0 54.6L178.4 55.7L178.1 56.6L177.2 56.6L176.3 56.1L175.4 56.1L174.6 55.8L174.2 54.6L173.9 53.8L173.9 53.2M165.6 50.8L167.0 51.0L168.6 52.6L170.3 53.8L171.2 55.1L172.1 56.0L172.0 57.6L171.2 57.6L169.9 56.6L168.8 55.1L167.7 53.2L166.7 52.2L165.6 50.8M171.7 58.1L172.6 57.8L173.6 58.1L175.1 58.1L176.3 58.4L177.2 58.8L177.1 59.4L175.1 59.1L173.3 58.8L172.4 58.5L171.7 58.1M177.5 59.1L178.7 59.1L179.9 59.2L182.2 59.1L182.2 59.4L179.9 59.4L178.1 59.5L177.5 59.1M182.6 60.3L183.5 59.6L184.8 59.2L183.5 60.0L182.6 60.3M180.4 53.7L181.0 53.4L182.3 53.5L183.5 53.2L183.1 53.9L181.1 53.8L180.6 54.6L181.4 54.7L182.5 54.6L181.7 55.2L181.5 55.8L182.0 56.3L182.3 56.9L182.0 57.5L181.4 57.0L181.0 55.8L180.7 56.3L180.7 57.5L180.2 57.5L180.1 56.3L179.8 55.8L180.3 54.5L180.4 53.7M185.1 52.9L185.7 53.4L185.3 54.6L185.1 53.8L185.1 52.9M185.3 56.0L187.0 56.1L185.9 56.2L185.3 56.0M187.1 54.6L188.0 54.4L188.9 54.6L189.0 55.7L189.5 56.1L190.7 55.1L191.6 55.2L193.1 55.7L195.2 56.4L196.0 57.3L197.0 57.8L197.2 58.4L197.3 59.3L198.9 60.4L198.5 60.5L197.0 60.2L196.1 59.3L195.2 58.8L194.6 59.3L194.0 59.7L193.1 59.6L191.9 59.0L191.3 59.1L191.2 58.5L191.8 58.2L191.3 57.5L189.8 56.8L188.6 56.4L188.2 56.6L187.7 55.9L188.8 55.5L187.8 55.5L187.1 55.0L187.1 54.6M197.5 57.6L198.5 57.5L199.9 56.7L199.8 57.3L198.9 57.9L197.5 57.6M194.0 60.6L194.6 62.9L195.7 63.2L196.1 65.3L197.9 67.1L199.0 68.3L200.4 69.5L200.7 71.3L200.1 73.7L199.2 74.7L198.5 76.6L197.0 77.0L196.3 77.6L195.2 77.1L194.0 77.3L192.8 77.0L192.2 75.8L191.5 75.5L191.2 75.3L191.2 74.0L190.1 75.2L189.7 74.9L188.9 73.9L187.4 73.1L185.6 73.4L184.1 73.6L182.9 74.0L182.6 74.6L180.5 74.6L179.3 75.2L177.6 74.8L177.9 73.1L177.2 71.6L176.7 69.8L176.6 68.6L177.0 67.4L178.4 66.5L179.9 66.2L181.4 65.6L181.9 64.4L182.7 64.0L183.8 62.9L184.7 62.6L185.6 63.1L186.3 63.1L186.8 61.7L188.0 61.1L189.5 61.5L190.6 61.4L190.1 62.3L189.8 63.2L191.0 63.8L192.2 64.7L193.1 64.6L193.5 63.2L193.6 61.7L194.0 60.6M195.4 78.6L196.4 78.9L197.5 78.8L197.5 79.5L197.0 80.2L196.1 80.3L195.7 79.6L195.4 78.6M212.2 74.9L213.3 76.1L214.1 76.4L214.8 77.0L215.7 76.8L215.3 77.8L214.8 77.9L214.5 78.7L213.8 79.2L213.5 78.7L213.5 78.1L212.9 77.8L213.4 77.3L213.4 76.4L212.4 75.2L212.2 74.9M212.2 78.5L213.1 79.0L213.0 79.4L212.3 80.3L211.4 80.8L211.2 81.7L210.3 82.1L209.6 82.2L208.5 81.8L209.1 81.1L209.7 80.6L211.1 79.9L211.8 78.8L212.2 78.5M207.0 66.3L208.8 67.6L207.6 67.0L207.0 66.3M57.2 41.0L58.4 40.3L59.9 40.3L62.0 41.2L63.7 42.0L61.7 42.2L61.4 41.8L60.2 41.1L59.0 40.6L57.8 41.0L57.2 41.0M63.5 42.2L65.0 42.2L66.3 42.5L67.1 43.0L66.2 43.1L65.3 43.5L64.7 43.2L63.5 43.1L64.6 43.0L64.1 42.3L63.5 42.2M61.2 43.1L62.4 43.3L61.9 43.4L61.2 43.1M67.9 43.0L68.8 43.1L67.9 43.3L67.9 43.0M52.9 26.1L55.4 25.0L57.2 25.4L57.5 26.2L56.0 26.2L54.1 26.1L52.9 26.1M55.5 28.9L56.4 28.9L56.4 27.7L57.2 26.6L56.0 26.7L55.5 27.7L55.5 28.9M57.5 26.5L59.3 26.5L60.2 27.2L59.1 28.2L58.7 28.1L58.1 27.4L58.2 27.0L57.5 26.5M58.2 29.1L59.6 29.1L60.8 28.5L59.9 28.5L58.7 28.8L58.2 29.1M60.3 28.1L62.0 28.1L62.4 27.7L61.4 27.7L60.3 28.1M48.7 22.0L49.9 23.8L50.4 23.5L49.6 21.8L48.7 22.0M37.9 17.4L39.7 17.4L42.1 16.5L40.9 16.4L39.1 16.9L37.9 17.4M33.1 14.3L34.9 15.0L37.3 14.4L36.7 13.8L34.3 13.8L33.1 14.3M41.2 18.8L43.3 18.5L45.1 18.5L43.3 18.7L41.2 18.8M170.8 23.2L171.8 23.0L173.3 22.1L174.4 20.8L173.9 20.6L172.7 22.0L171.5 22.7L170.8 23.2M127.4 54.0L128.8 54.0L128.8 55.4L127.6 55.8L127.4 54.8L127.4 54.0M125.9 56.2L126.2 57.5L127.0 59.3L126.6 59.1L125.9 57.5L125.9 56.2M128.8 59.9L129.2 61.1L129.5 62.8L129.1 62.6L128.9 61.1L128.8 59.9M126.5 18.0L128.0 17.9L127.9 17.1L126.7 17.3L126.5 18.0M129.1 17.4L130.1 17.3L129.7 16.5L129.1 16.8L129.1 17.4M152.5 26.8L153.4 26.1L155.8 26.3L155.2 26.7L153.4 27.1L152.5 26.8M66.2 63.4L66.8 63.9L66.5 64.0L66.2 63.4M14.4 42.0L15.0 42.2L14.7 42.7L14.4 42.4L14.4 42.0M15.3 19.6L16.7 19.3L16.5 19.7L15.6 20.0L15.3 19.6M61.7 13.7L62.9 13.7L62.6 13.1L61.7 13.7M113.5 28.3L114.0 28.5L114.1 29.5L114.1 30.6L113.4 30.7L113.3 29.6L113.6 29.2L113.5 28.3M115.8 31.3L117.6 31.2L117.4 32.1L115.8 31.5L115.8 31.3M122.4 32.8L124.1 33.0L122.7 33.1L122.4 32.8M127.7 33.1L129.1 32.7L128.5 33.3L127.7 33.1M140.4 46.6L141.1 46.6L140.4 46.6M149.7 83.6L150.7 83.8L150.1 84.1L149.7 83.6M85.4 86.6L86.6 86.9L85.4 86.6M114.9 20.6L115.9 20.5L115.7 21.1L114.9 20.6M119.3 19.9L119.7 19.3L119.6 19.7L119.3 19.9M185.1 38.4L185.5 38.0L185.1 38.4M196.1 27.4L197.6 26.8L198.5 26.4L199.8 25.7L201.0 24.7L201.9 23.9M8.4 21.7L6.9 22.1L4.8 22.7L3.0 22.9L1.2 23.0M212.1 22.3L213.6 22.6L215.4 22.9" fill="none" stroke="#161616" stroke-opacity="0.55" stroke-width="0.6" stroke-linejoin="round"/>
<path transform="translate(275.7 346.4)" d="M14.1 11.3L18.0 11.7L22.3 12.0L26.5 12.6L31.3 12.0L36.1 12.3L39.1 13.2L43.3 13.2L46.9 13.2L50.5 13.2L51.7 10.8L54.1 12.6L56.6 13.2L59.0 12.3L59.6 13.8L56.6 14.4L55.4 15.6L52.3 16.8L51.4 18.7L52.6 19.9L55.4 20.2L57.2 20.9L59.0 21.1L59.0 22.3L60.2 23.3L60.8 22.9L60.8 21.4L62.0 20.5L62.0 19.3L61.4 18.0L61.4 16.5L63.8 16.7L66.2 17.4L66.5 18.7L68.6 19.0L69.5 17.9L71.0 19.6L71.6 20.8L73.4 21.4L74.6 22.9L72.2 24.1L68.6 23.9L66.2 25.9L69.2 24.7L69.5 25.9L71.6 26.5L70.4 27.4L68.6 28.0L68.6 27.1L68.0 27.2L66.2 28.0L65.9 28.9L63.8 29.8L62.9 31.3L62.6 33.1L61.4 33.7L59.6 35.2L60.2 37.9L59.9 39.0L59.0 38.2L58.5 36.7L57.8 36.1L56.6 35.9L54.5 36.0L54.1 36.7L51.7 36.4L49.9 37.6L49.6 39.1L49.5 40.7L50.5 42.7L51.7 43.2L53.5 42.9L53.8 41.5L56.0 41.2L55.7 43.0L55.1 44.5L56.6 44.5L58.2 45.1L58.1 47.5L59.0 48.7L60.2 48.6L61.7 49.0L61.7 49.6L60.2 49.8L59.6 49.3L58.4 49.0L56.7 48.1L55.7 46.3L53.5 45.7L51.7 44.5L49.9 44.6L47.5 43.7L44.8 42.1L44.8 40.6L43.3 39.1L42.1 37.6L40.6 36.1L39.3 35.1L39.4 36.1L40.9 37.9L41.8 39.4L42.4 40.3L40.9 39.1L39.4 37.3L38.8 36.1L37.9 34.6L37.0 33.7L35.8 33.4L34.9 32.2L34.6 31.3L33.7 29.9L33.5 28.3L33.7 26.4L33.3 25.0L34.6 25.6L34.3 24.7L33.1 24.1L31.6 23.2L30.1 21.4L28.3 20.2L26.8 19.0L25.3 18.4L23.5 18.0L21.1 17.7L19.3 17.6L18.0 18.4L16.8 17.6L15.6 19.0L13.2 20.2L10.8 21.1L9.3 21.2L11.4 20.5L13.2 19.0L10.8 18.7L9.0 17.4L8.4 16.2L11.4 15.5L9.0 15.3L7.2 14.7L10.2 14.1L9.0 13.1L10.8 12.0L14.1 11.3M34.0 25.0L32.8 24.8L31.1 23.6L32.8 23.9L34.0 25.0M72.7 25.5L74.6 26.0L76.4 26.1L76.5 25.3L75.8 24.4L74.7 23.2L73.7 23.8L72.7 25.5M68.6 16.8L67.4 15.8L69.5 16.2L69.8 15.0L67.7 14.3L71.3 14.0L69.2 13.2L67.4 12.0L65.0 11.1L61.4 10.3L59.6 9.8L56.6 9.7L54.1 9.9L54.8 11.4L57.2 12.0L60.8 12.0L63.2 13.1L64.4 13.8L64.4 14.7L61.1 15.2L63.8 15.4L65.6 16.4L68.6 16.8M37.3 11.4L38.5 12.5L40.9 12.9L45.1 12.8L47.2 12.3L45.7 11.4L45.1 10.3L43.3 10.0L40.9 10.5L39.1 10.0L37.0 10.5L37.3 11.4M33.1 10.8L34.3 11.4L36.4 11.0L37.6 9.9L35.5 9.3L33.4 9.7L33.1 10.8M37.9 8.8L42.1 9.3L44.5 8.9L42.7 8.1L39.1 8.2L37.9 8.8M46.9 10.8L49.9 10.8L49.3 9.7L47.2 9.9L46.9 10.8M50.8 10.7L53.8 10.4L53.8 9.6L51.1 9.6L50.8 10.7M52.9 9.2L60.2 9.2L60.2 8.6L55.4 8.1L52.9 8.4L52.9 9.2M55.4 8.1L61.4 8.2L63.2 6.9L67.4 5.7L71.0 4.6L66.2 4.2L59.0 4.3L52.9 5.1L56.0 6.0L55.4 7.2L55.4 8.1M51.1 6.3L55.4 7.0L56.0 5.7L52.3 5.2L51.1 6.3M56.0 15.6L57.8 16.2L59.6 15.8L59.9 15.3L57.8 14.4L56.0 15.3L56.0 15.6M48.1 8.7L49.9 8.7L48.7 8.1L46.9 8.4L48.1 8.7M48.7 12.6L50.5 12.8L50.5 12.2L49.0 12.2L48.7 12.6M64.4 7.1L67.4 8.4L72.2 8.4L74.6 10.2L75.8 12.0L77.6 12.3L76.1 13.8L77.0 15.6L78.8 17.1L81.8 18.0L82.7 16.8L84.2 15.0L86.0 14.6L89.0 13.2L93.3 12.6L95.1 11.7L95.1 10.2L96.9 8.7L96.3 7.2L98.1 6.0L101.1 5.1L95.1 4.6L89.0 3.9L81.2 4.3L73.4 4.7L69.8 5.3L68.0 6.0L64.4 7.1M93.9 14.7L95.1 15.6L96.9 16.0L99.6 15.5L100.1 14.7L98.7 14.1L96.3 14.4L94.8 14.2L93.9 14.7M61.7 49.0L62.9 47.7L64.4 47.4L65.3 46.7L65.3 47.7L66.8 47.2L68.6 47.8L71.0 47.8L72.2 49.0L74.0 50.5L75.8 50.7L77.3 51.4L78.2 53.2L78.2 54.1L79.4 54.8L81.5 55.7L84.2 56.0L86.0 57.2L87.2 58.1L87.2 59.6L85.7 61.4L84.8 62.9L84.8 65.0L83.6 67.4L82.4 68.0L80.6 68.6L79.1 69.8L79.0 71.3L77.0 73.7L76.1 74.7L74.6 75.1L73.2 74.6L74.0 76.1L73.4 77.3L71.0 77.6L70.8 78.8L69.2 78.8L69.8 79.8L69.0 81.2L67.7 82.0L68.7 82.9L67.4 84.2L66.8 85.6L67.1 85.9L69.1 87.1L68.0 87.5L66.2 87.2L65.0 86.6L63.8 85.7L62.9 84.2L62.9 82.4L63.8 80.6L63.9 79.1L64.1 76.4L65.0 74.0L65.3 72.2L65.9 69.2L66.0 65.3L65.0 64.4L62.6 62.6L61.4 60.5L60.3 58.4L59.4 57.2L60.2 56.0L59.7 54.8L60.2 53.8L61.1 52.9L61.8 51.7L61.7 49.6M71.6 85.1L73.4 85.1L72.8 85.6L71.6 85.1M127.9 36.1L128.8 37.9L129.7 39.7L130.6 41.2L130.9 43.0L132.1 44.8L134.1 46.5L134.4 47.2L136.6 47.4L139.1 47.0L138.9 48.7L137.2 51.4L134.8 53.5L133.3 55.2L132.1 56.9L131.8 58.4L132.4 60.5L132.8 62.9L130.6 64.7L129.4 66.2L129.7 68.6L128.2 69.7L128.0 71.0L126.4 73.1L123.9 74.6L121.5 74.8L120.3 75.1L119.3 74.7L119.3 73.4L118.2 71.3L117.3 69.8L117.0 67.7L115.5 64.7L116.4 61.7L116.0 59.3L115.5 57.2L113.8 54.8L114.0 52.9L114.1 51.7L113.4 51.4L111.9 51.6L111.0 50.4L109.0 50.5L107.1 51.3L105.6 51.0L103.8 51.5L102.6 50.5L100.8 49.5L100.3 48.4L99.3 47.5L98.2 46.6L97.8 45.3L98.5 44.2L98.5 42.4L98.1 41.5L98.7 39.9L99.6 38.4L100.5 37.4L102.3 36.4L102.5 35.2L103.5 34.0L104.7 32.8L105.0 32.6L107.1 33.0L108.9 32.2L111.3 32.0L114.3 31.7L114.9 33.1L114.4 33.8L115.5 34.4L117.6 34.9L119.7 35.9L120.3 34.6L122.1 34.5L123.6 35.1L125.7 35.5L127.7 35.3L127.9 36.1M138.0 61.4L138.6 63.5L138.0 65.0L137.0 68.0L135.6 69.5L134.7 68.0L135.0 66.2L134.8 64.4L136.3 63.6L137.2 62.3L138.0 61.4M127.7 35.3L128.9 35.3L129.7 34.0L130.0 32.5L130.0 32.0L128.2 32.4L126.7 32.2L125.1 32.1L124.5 31.0L124.1 30.1L125.7 29.5L127.3 29.4L129.4 28.9L131.2 29.5L133.3 29.2L132.4 28.0L130.6 27.1L131.5 25.9L129.4 26.4L128.5 27.4L128.2 26.5L126.8 26.2L126.0 27.1L125.1 28.0L125.1 29.2L124.2 29.6L122.7 29.6L122.4 30.1L122.0 29.8L122.1 30.7L122.7 31.3L122.1 32.2L121.2 31.9L120.9 30.7L120.0 29.8L120.0 28.9L117.9 28.0L116.7 27.0L116.4 26.7L115.7 26.9L115.8 27.7L116.7 28.6L117.9 29.0L119.4 30.0L118.5 29.8L118.2 30.4L118.5 30.7L117.9 31.3L117.7 30.1L116.7 29.5L115.5 28.9L114.6 28.3L114.3 27.7L113.6 27.4L112.8 27.8L111.3 28.1L110.2 28.2L110.2 28.9L108.8 29.5L108.1 30.4L108.3 30.9L107.9 31.5L107.1 32.0L105.6 32.1L104.9 32.5L104.5 32.0L103.8 31.8L102.9 31.9L103.0 31.0L102.6 30.8L103.0 29.5L102.9 28.3L103.5 27.9L105.3 28.0L107.2 28.0L107.6 27.1L107.6 26.4L106.8 25.7L105.6 25.4L105.5 25.0L107.1 24.9L107.4 24.2L108.4 24.4L109.3 23.8L110.1 23.3L111.0 22.6L111.3 22.1L112.5 22.0L113.7 21.7L113.3 20.8L113.2 19.9L114.6 19.4L114.6 20.5L114.3 21.2L114.9 21.7L116.7 21.7L119.4 21.2L120.2 21.4L120.9 20.9L120.9 19.9L121.5 19.4L122.9 19.7L122.4 18.7L125.1 18.3L126.4 18.0L124.5 17.7L122.1 18.0L121.2 17.4L121.1 16.2L123.3 15.0L123.5 14.7L121.5 14.6L120.9 15.3L118.8 16.5L118.7 17.4L119.6 18.0L118.2 19.0L118.1 19.9L117.6 20.3L116.8 20.8L116.1 20.8L115.8 20.3L115.0 19.0L114.6 18.5L113.4 19.1L112.5 19.3L111.6 18.7L111.3 17.4L111.9 16.5L113.4 15.9L114.6 15.3L115.8 14.4L116.7 13.5L117.9 12.9L119.4 12.2L121.2 11.9L123.8 11.4L125.4 11.6L127.0 11.9L128.2 12.4L130.0 12.5L133.0 13.5L133.0 14.3L131.2 14.4L128.8 14.0L129.1 15.0L129.4 15.5L130.9 15.6L132.7 15.3L132.4 14.4L133.9 14.1L134.8 14.4L134.9 13.1L136.0 13.1L136.1 14.0L137.8 13.2L140.5 12.9L142.6 12.9L144.7 12.2L146.8 12.5L148.6 12.8L148.6 11.1L149.8 10.2L151.9 10.3L152.0 12.0L152.7 13.8L152.5 12.6L153.4 10.8L155.2 10.7L156.7 9.9L160.3 9.6L160.6 9.0L164.3 8.4L167.3 8.3L171.1 7.4L172.1 8.1L175.7 8.1L176.6 9.6L174.5 9.7L176.9 9.9L179.9 10.2L182.9 9.8L184.7 10.5L186.2 11.4L187.1 11.6L188.3 11.1L191.0 11.2L192.5 10.6L196.1 10.6L198.5 11.1L200.4 11.6L204.0 12.0L204.6 12.3L207.3 12.3L209.7 12.0L210.9 12.6L214.2 12.2L216.6 12.8M0.0 12.8L2.4 13.5L4.8 13.8L6.1 14.4L4.5 15.3L2.7 15.2L0.9 14.4L0.0 14.7M216.6 15.0L214.8 15.2L216.0 16.5L213.0 17.0L210.8 18.0L208.2 18.0L207.0 18.2L206.4 19.3L206.1 20.5L205.6 21.1L204.6 22.1L203.7 22.4L202.6 23.5L202.0 22.3L202.0 20.5L202.8 19.4L204.3 18.4L206.4 17.1L207.0 16.5L204.6 17.0L202.5 17.1L201.6 18.5L199.8 18.7L197.3 18.4L194.3 18.5L192.5 19.6L191.0 21.1L189.8 21.3L191.3 21.8L193.3 22.1L192.8 23.5L192.7 25.0L191.6 26.2L189.8 27.7L188.3 28.4L187.1 28.6L186.3 29.2L185.0 30.2L186.2 31.9L186.1 32.9L184.4 33.5L184.4 31.9L183.5 31.3L183.7 30.4L183.1 30.1L181.5 30.7L181.7 29.8L181.1 29.5L179.6 30.7L179.1 31.0L179.9 31.7L181.1 31.5L182.0 31.9L180.1 33.1L181.0 34.5L181.6 35.5L181.5 36.4L180.8 37.6L180.2 38.8L179.0 39.7L178.1 40.3L176.9 40.7L175.1 41.2L174.4 41.9L174.2 41.2L173.3 41.2L172.4 42.1L172.0 42.7L172.7 43.9L173.9 44.9L174.1 46.6L173.0 47.8L172.5 48.4L171.5 48.9L171.5 48.0L170.3 47.5L169.1 46.4L168.8 46.0L168.5 47.2L168.0 48.6L168.6 49.3L169.4 50.1L170.5 51.4L170.6 53.2L170.9 53.4L169.3 52.5L168.7 50.8L167.9 49.3L167.4 49.3L167.6 47.8L167.3 46.0L167.0 44.5L166.4 44.2L165.6 44.6L165.0 44.2L164.9 42.4L163.8 41.5L163.5 40.6L162.8 40.8L161.8 41.0L160.6 41.3L160.5 42.1L159.4 42.4L157.8 43.9L156.6 44.8L156.6 46.2L156.3 48.0L155.8 48.6L155.2 49.0L154.9 49.3L154.2 48.4L153.4 46.6L152.5 44.5L152.1 42.7L152.0 41.5L151.7 41.0L150.6 41.6L149.8 40.7L150.6 40.3L149.4 40.0L148.6 39.2L146.8 39.0L145.3 39.0L142.8 38.7L142.3 37.9L140.8 38.1L139.6 37.5L138.7 36.4L137.8 35.9L137.2 36.2L137.7 37.4L138.5 38.2L138.9 39.1L139.3 38.5L139.3 39.4L140.8 39.6L142.0 38.4L142.4 39.4L143.6 40.0L144.3 40.6L143.5 41.8L143.0 42.7L141.6 43.7L139.7 44.6L137.7 45.7L135.4 46.4L134.5 46.5L134.1 45.2L133.9 44.0L132.7 42.2L131.8 41.2L130.7 39.4L129.5 37.3L129.4 36.4L128.9 37.3L128.2 36.7L127.9 36.1M136.6 27.1L138.1 26.2L140.2 26.0L140.2 27.1L139.0 27.4L138.6 28.3L139.9 28.6L140.2 29.8L140.5 30.7L140.8 31.9L139.0 32.1L137.8 31.6L137.8 30.7L138.1 29.8L136.9 28.3L136.6 27.1M143.5 26.2L145.0 26.5L145.0 27.4L143.5 27.9L143.5 26.2M104.9 24.1L106.2 23.9L107.7 23.6L109.1 23.3L108.6 23.2L109.3 22.4L108.4 22.3L108.2 21.7L107.4 21.1L107.1 20.5L106.5 20.5L107.1 19.4L105.9 19.4L106.5 18.9L105.3 18.9L104.8 19.6L105.0 20.5L105.4 21.1L106.5 21.1L106.2 21.5L106.5 22.0L105.6 22.1L105.8 22.6L105.2 23.0L106.4 23.2L105.8 23.3L104.9 24.1M102.3 23.1L103.5 23.0L104.5 22.7L104.7 22.0L105.0 21.4L104.4 20.9L103.3 20.9L103.2 21.4L102.3 21.5L102.6 22.1L102.1 22.7L102.3 23.1M139.3 11.1L140.5 11.6L142.9 11.6L141.7 10.5L142.0 9.6L144.4 8.5L148.0 8.0L149.5 7.9L145.6 8.3L142.6 9.0L141.4 10.0L140.2 10.5L139.3 11.1M114.9 6.3L116.7 7.5L118.5 8.1L119.7 7.2L120.9 6.9L124.5 6.0L120.3 5.7L117.9 6.0L114.9 6.3M165.5 6.6L168.5 7.2L171.5 6.9L168.5 6.0L165.5 5.4L165.5 6.6M190.7 8.7L194.3 9.0L198.5 8.9L196.1 8.4L191.9 8.3L190.7 8.7M136.6 5.7L141.4 6.0L145.6 5.5L143.2 5.1L138.4 5.4L136.6 5.7M193.7 21.5L194.3 22.3L194.5 24.1L195.2 24.7L194.3 25.9L194.6 26.5L193.7 26.5L193.7 25.3L193.7 23.5L193.7 21.5M192.5 29.2L193.4 28.6L194.5 28.9L195.8 28.1L195.1 27.7L193.6 26.8L193.4 28.0L192.5 28.4L192.5 29.2M193.3 29.3L193.7 30.4L193.1 31.4L193.0 32.7L192.4 33.1L191.8 33.3L190.7 33.3L190.0 34.0L189.5 33.4L188.3 33.5L187.1 33.7L187.5 34.3L187.3 35.3L186.8 35.4L186.5 34.6L186.3 34.1L187.1 33.7L187.1 33.5L188.0 32.9L188.9 32.7L190.1 32.7L190.6 31.8L190.9 32.0L191.8 31.5L192.4 30.4L192.5 29.7L193.3 29.3M187.9 34.1L188.3 34.4L189.1 34.1L189.3 33.6L188.6 33.6L187.9 34.1M181.1 39.0L181.7 39.1L181.1 40.9L180.6 40.3L181.1 39.0M173.7 42.5L174.5 42.1L175.1 42.3L174.5 43.1L173.7 43.0L173.7 42.5M156.4 48.3L157.2 49.0L157.5 49.9L156.9 50.5L156.3 49.9L156.4 48.3M180.8 43.0L181.8 43.0L181.7 44.2L181.4 45.1L182.0 45.7L182.9 46.3L182.0 46.0L181.1 45.9L180.7 45.2L180.5 44.5L180.8 43.0M181.7 49.9L182.6 49.0L183.8 48.3L184.4 49.6L183.8 50.5L182.9 50.4L182.6 49.6L181.7 49.9M183.2 46.6L183.8 47.5L183.5 48.1L183.2 47.5L183.2 46.6M181.7 47.2L182.4 47.5L182.4 48.6L182.0 48.3L181.7 47.2M178.8 49.0L180.2 47.8L180.1 47.4L178.8 49.0M173.9 53.2L174.5 53.1L175.3 52.5L176.3 52.2L177.2 51.3L178.1 50.1L178.8 49.9L179.9 51.0L179.3 51.6L179.2 52.9L179.9 53.5L179.0 54.6L178.4 55.7L178.1 56.6L177.2 56.6L176.3 56.1L175.4 56.1L174.6 55.8L174.2 54.6L173.9 53.8L173.9 53.2M165.6 50.8L167.0 51.0L168.6 52.6L170.3 53.8L171.2 55.1L172.1 56.0L172.0 57.6L171.2 57.6L169.9 56.6L168.8 55.1L167.7 53.2L166.7 52.2L165.6 50.8M171.7 58.1L172.6 57.8L173.6 58.1L175.1 58.1L176.3 58.4L177.2 58.8L177.1 59.4L175.1 59.1L173.3 58.8L172.4 58.5L171.7 58.1M177.5 59.1L178.7 59.1L179.9 59.2L182.2 59.1L182.2 59.4L179.9 59.4L178.1 59.5L177.5 59.1M182.6 60.3L183.5 59.6L184.8 59.2L183.5 60.0L182.6 60.3M180.4 53.7L181.0 53.4L182.3 53.5L183.5 53.2L183.1 53.9L181.1 53.8L180.6 54.6L181.4 54.7L182.5 54.6L181.7 55.2L181.5 55.8L182.0 56.3L182.3 56.9L182.0 57.5L181.4 57.0L181.0 55.8L180.7 56.3L180.7 57.5L180.2 57.5L180.1 56.3L179.8 55.8L180.3 54.5L180.4 53.7M185.1 52.9L185.7 53.4L185.3 54.6L185.1 53.8L185.1 52.9M185.3 56.0L187.0 56.1L185.9 56.2L185.3 56.0M187.1 54.6L188.0 54.4L188.9 54.6L189.0 55.7L189.5 56.1L190.7 55.1L191.6 55.2L193.1 55.7L195.2 56.4L196.0 57.3L197.0 57.8L197.2 58.4L197.3 59.3L198.9 60.4L198.5 60.5L197.0 60.2L196.1 59.3L195.2 58.8L194.6 59.3L194.0 59.7L193.1 59.6L191.9 59.0L191.3 59.1L191.2 58.5L191.8 58.2L191.3 57.5L189.8 56.8L188.6 56.4L188.2 56.6L187.7 55.9L188.8 55.5L187.8 55.5L187.1 55.0L187.1 54.6M197.5 57.6L198.5 57.5L199.9 56.7L199.8 57.3L198.9 57.9L197.5 57.6M194.0 60.6L194.6 62.9L195.7 63.2L196.1 65.3L197.9 67.1L199.0 68.3L200.4 69.5L200.7 71.3L200.1 73.7L199.2 74.7L198.5 76.6L197.0 77.0L196.3 77.6L195.2 77.1L194.0 77.3L192.8 77.0L192.2 75.8L191.5 75.5L191.2 75.3L191.2 74.0L190.1 75.2L189.7 74.9L188.9 73.9L187.4 73.1L185.6 73.4L184.1 73.6L182.9 74.0L182.6 74.6L180.5 74.6L179.3 75.2L177.6 74.8L177.9 73.1L177.2 71.6L176.7 69.8L176.6 68.6L177.0 67.4L178.4 66.5L179.9 66.2L181.4 65.6L181.9 64.4L182.7 64.0L183.8 62.9L184.7 62.6L185.6 63.1L186.3 63.1L186.8 61.7L188.0 61.1L189.5 61.5L190.6 61.4L190.1 62.3L189.8 63.2L191.0 63.8L192.2 64.7L193.1 64.6L193.5 63.2L193.6 61.7L194.0 60.6M195.4 78.6L196.4 78.9L197.5 78.8L197.5 79.5L197.0 80.2L196.1 80.3L195.7 79.6L195.4 78.6M212.2 74.9L213.3 76.1L214.1 76.4L214.8 77.0L215.7 76.8L215.3 77.8L214.8 77.9L214.5 78.7L213.8 79.2L213.5 78.7L213.5 78.1L212.9 77.8L213.4 77.3L213.4 76.4L212.4 75.2L212.2 74.9M212.2 78.5L213.1 79.0L213.0 79.4L212.3 80.3L211.4 80.8L211.2 81.7L210.3 82.1L209.6 82.2L208.5 81.8L209.1 81.1L209.7 80.6L211.1 79.9L211.8 78.8L212.2 78.5M207.0 66.3L208.8 67.6L207.6 67.0L207.0 66.3M57.2 41.0L58.4 40.3L59.9 40.3L62.0 41.2L63.7 42.0L61.7 42.2L61.4 41.8L60.2 41.1L59.0 40.6L57.8 41.0L57.2 41.0M63.5 42.2L65.0 42.2L66.3 42.5L67.1 43.0L66.2 43.1L65.3 43.5L64.7 43.2L63.5 43.1L64.6 43.0L64.1 42.3L63.5 42.2M61.2 43.1L62.4 43.3L61.9 43.4L61.2 43.1M67.9 43.0L68.8 43.1L67.9 43.3L67.9 43.0M52.9 26.1L55.4 25.0L57.2 25.4L57.5 26.2L56.0 26.2L54.1 26.1L52.9 26.1M55.5 28.9L56.4 28.9L56.4 27.7L57.2 26.6L56.0 26.7L55.5 27.7L55.5 28.9M57.5 26.5L59.3 26.5L60.2 27.2L59.1 28.2L58.7 28.1L58.1 27.4L58.2 27.0L57.5 26.5M58.2 29.1L59.6 29.1L60.8 28.5L59.9 28.5L58.7 28.8L58.2 29.1M60.3 28.1L62.0 28.1L62.4 27.7L61.4 27.7L60.3 28.1M48.7 22.0L49.9 23.8L50.4 23.5L49.6 21.8L48.7 22.0M37.9 17.4L39.7 17.4L42.1 16.5L40.9 16.4L39.1 16.9L37.9 17.4M33.1 14.3L34.9 15.0L37.3 14.4L36.7 13.8L34.3 13.8L33.1 14.3M41.2 18.8L43.3 18.5L45.1 18.5L43.3 18.7L41.2 18.8M170.8 23.2L171.8 23.0L173.3 22.1L174.4 20.8L173.9 20.6L172.7 22.0L171.5 22.7L170.8 23.2M127.4 54.0L128.8 54.0L128.8 55.4L127.6 55.8L127.4 54.8L127.4 54.0M125.9 56.2L126.2 57.5L127.0 59.3L126.6 59.1L125.9 57.5L125.9 56.2M128.8 59.9L129.2 61.1L129.5 62.8L129.1 62.6L128.9 61.1L128.8 59.9M126.5 18.0L128.0 17.9L127.9 17.1L126.7 17.3L126.5 18.0M129.1 17.4L130.1 17.3L129.7 16.5L129.1 16.8L129.1 17.4M152.5 26.8L153.4 26.1L155.8 26.3L155.2 26.7L153.4 27.1L152.5 26.8M66.2 63.4L66.8 63.9L66.5 64.0L66.2 63.4M14.4 42.0L15.0 42.2L14.7 42.7L14.4 42.4L14.4 42.0M15.3 19.6L16.7 19.3L16.5 19.7L15.6 20.0L15.3 19.6M61.7 13.7L62.9 13.7L62.6 13.1L61.7 13.7M113.5 28.3L114.0 28.5L114.1 29.5L114.1 30.6L113.4 30.7L113.3 29.6L113.6 29.2L113.5 28.3M115.8 31.3L117.6 31.2L117.4 32.1L115.8 31.5L115.8 31.3M122.4 32.8L124.1 33.0L122.7 33.1L122.4 32.8M127.7 33.1L129.1 32.7L128.5 33.3L127.7 33.1M140.4 46.6L141.1 46.6L140.4 46.6M149.7 83.6L150.7 83.8L150.1 84.1L149.7 83.6M85.4 86.6L86.6 86.9L85.4 86.6M114.9 20.6L115.9 20.5L115.7 21.1L114.9 20.6M119.3 19.9L119.7 19.3L119.6 19.7L119.3 19.9M185.1 38.4L185.5 38.0L185.1 38.4M196.1 27.4L197.6 26.8L198.5 26.4L199.8 25.7L201.0 24.7L201.9 23.9M8.4 21.7L6.9 22.1L4.8 22.7L3.0 22.9L1.2 23.0M212.1 22.3L213.6 22.6L215.4 22.9" fill="none" stroke="#111" stroke-opacity="0.75" stroke-width="0.75" stroke-dasharray="0.8 2.9 1.4 3.7 0.6 2.2"/>
<path transform="translate(275.7 346.4)" d="M68.6 16.8L67.4 15.8L69.5 16.2L69.8 15.0L67.7 14.3L71.3 14.0L69.2 13.2L67.4 12.0L65.0 11.1L61.4 10.3L59.6 9.8L56.6 9.7L54.1 9.9L54.8 11.4L57.2 12.0L60.8 12.0L63.2 13.1L64.4 13.8L64.4 14.7L61.1 15.2L63.8 15.4L65.6 16.4L68.6 16.8M37.3 11.4L38.5 12.5L40.9 12.9L45.1 12.8L47.2 12.3L45.7 11.4L45.1 10.3L43.3 10.0L40.9 10.5L39.1 10.0L37.0 10.5L37.3 11.4M33.1 10.8L34.3 11.4L36.4 11.0L37.6 9.9L35.5 9.3L33.4 9.7L33.1 10.8M37.9 8.8L42.1 9.3L44.5 8.9L42.7 8.1L39.1 8.2L37.9 8.8M46.9 10.8L49.9 10.8L49.3 9.7L47.2 9.9L46.9 10.8M50.8 10.7L53.8 10.4L53.8 9.6L51.1 9.6L50.8 10.7M52.9 9.2L60.2 9.2L60.2 8.6L55.4 8.1L52.9 8.4L52.9 9.2M55.4 8.1L61.4 8.2L63.2 6.9L67.4 5.7L71.0 4.6L66.2 4.2L59.0 4.3L52.9 5.1L56.0 6.0L55.4 7.2L55.4 8.1M51.1 6.3L55.4 7.0L56.0 5.7L52.3 5.2L51.1 6.3M56.0 15.6L57.8 16.2L59.6 15.8L59.9 15.3L57.8 14.4L56.0 15.3L56.0 15.6M48.1 8.7L49.9 8.7L48.7 8.1L46.9 8.4L48.1 8.7M48.7 12.6L50.5 12.8L50.5 12.2L49.0 12.2L48.7 12.6M93.9 14.7L95.1 15.6L96.9 16.0L99.6 15.5L100.1 14.7L98.7 14.1L96.3 14.4L94.8 14.2L93.9 14.7M71.6 85.1L73.4 85.1L72.8 85.6L71.6 85.1M139.3 11.1L140.5 11.6L142.9 11.6L141.7 10.5L142.0 9.6L144.4 8.5L148.0 8.0L149.5 7.9L145.6 8.3L142.6 9.0L141.4 10.0L140.2 10.5L139.3 11.1M114.9 6.3L116.7 7.5L118.5 8.1L119.7 7.2L120.9 6.9L124.5 6.0L120.3 5.7L117.9 6.0L114.9 6.3M192.5 29.2L193.4 28.6L194.5 28.9L195.8 28.1L195.1 27.7L193.6 26.8L193.4 28.0L192.5 28.4L192.5 29.2M187.9 34.1L188.3 34.4L189.1 34.1L189.3 33.6L188.6 33.6L187.9 34.1M180.8 43.0L181.8 43.0L181.7 44.2L181.4 45.1L182.0 45.7L182.9 46.3L182.0 46.0L181.1 45.9L180.7 45.2L180.5 44.5L180.8 43.0M181.7 49.9L182.6 49.0L183.8 48.3L184.4 49.6L183.8 50.5L182.9 50.4L182.6 49.6L181.7 49.9M180.4 53.7L181.0 53.4L182.3 53.5L183.5 53.2L183.1 53.9L181.1 53.8L180.6 54.6L181.4 54.7L182.5 54.6L181.7 55.2L181.5 55.8L182.0 56.3L182.3 56.9L182.0 57.5L181.4 57.0L181.0 55.8L180.7 56.3L180.7 57.5L180.2 57.5L180.1 56.3L179.8 55.8L180.3 54.5L180.4 53.7M185.1 52.9L185.7 53.4L185.3 54.6L185.1 53.8L185.1 52.9M197.5 57.6L198.5 57.5L199.9 56.7L199.8 57.3L198.9 57.9L197.5 57.6" fill="none" stroke="#111" stroke-opacity="0.55" stroke-width="0.6" stroke-linejoin="round"/>
<path transform="translate(275.7 346.4)" d="M63.8 96.9L67.4 95.7L68.6 94.2L70.4 93.1L73.7 92.2L71.9 93.0L70.7 94.0" fill="none" stroke="#111" stroke-opacity="0.8" stroke-width="1.1" stroke-dasharray="2 0.9 1.2 0.7"/>
<path transform="translate(275.7 346.4)" d="M65.3 72.2L65.0 74.0L64.1 76.4L63.9 79.1L63.5 81.2L63.0 83.0L63.2 84.8L64.1 86.0L65.6 86.8L67.1 87.4L68.6 87.2M63.8 84.2L64.7 85.7L66.2 86.3L67.1 85.9M65.9 86.9L68.0 86.8M18.0 17.6L20.5 17.7L23.5 18.1L25.9 19.0L27.7 20.2L29.5 21.4L30.7 22.6M75.5 11.7L75.9 13.8L76.8 15.3L78.2 16.8M95.1 11.7L92.1 12.9L88.4 13.5L85.4 14.7L83.6 15.6M111.4 18.4L111.5 17.1L112.5 16.4L114.6 15.5L116.1 14.1L117.6 13.1L119.7 12.2" fill="none" stroke="#111" stroke-opacity="0.75" stroke-width="1.0" stroke-linecap="round"/>
<path transform="translate(275.7 346.4)" d="M38.9 19.9l-0.2 0.2M42.8 18.2l0.8 0.1M33.8 17.7l0.4 0.1M40.8 14.6l0.5 0.1M44.4 13.6l-0.2 0.5M50.7 20.7l-0.5 0.2M35.7 20.1l0.6 0.6M36.4 16.5l-0.3 0.4M43.0 20.6l0.5 0.1M45.4 17.7l0.5 0.5M41.3 18.7l-0.8 0.4M37.5 16.6l-0.1 0.8M46.3 18.8l-0.4 0.0M40.6 15.1l0.7 0.3M33.8 15.8l-0.6 0.4M48.9 18.6l-0.5 0.5M43.6 17.5l-1.1 0.4M41.6 15.9l1.0 0.1M44.8 13.3l-0.5 0.2M40.1 15.8l0.8 0.0M36.1 20.1l1.0 0.1M35.4 19.1l0.4 0.8M34.5 17.5l-0.2 0.8M47.9 14.3l0.5 0.4M39.6 14.1l-0.4 0.0M36.3 19.2l0.6 0.4M43.7 19.0l0.7 0.0M39.8 16.6l-1.0 0.1M42.4 16.2l-0.2 0.2M49.3 15.0l-1.0 0.3M40.2 17.9l0.9 0.2M34.2 20.5l0.4 0.2M39.2 20.6l0.5 0.0M34.9 18.2l1.2 0.1M44.2 19.9l0.5 0.3M39.7 20.1l-1.2 0.4M41.5 17.3l0.4 0.1M39.3 19.0l-0.4 0.2M48.4 20.1l-0.0 0.3M54.7 25.1l-0.1 0.9M58.5 21.5l0.5 0.3M50.1 21.1l-0.1 0.8M52.1 24.1l-1.1 0.5M58.4 20.9l-0.9 0.4M50.9 22.5l0.1 0.2M48.5 23.8l0.7 0.5M59.6 22.8l-1.3 0.2M59.6 23.3l0.4 0.2M50.5 24.2l-0.5 0.8M58.2 22.7l-0.5 0.7M61.1 20.1l-1.0 0.2M68.3 21.2l0.9 0.4M63.8 19.2l-0.7 0.0M64.5 18.4l-0.3 0.3M61.5 23.2l-1.1 0.2M61.7 19.1l-1.0 0.0M64.0 20.8l0.3 0.1M70.7 20.2l-0.1 0.9M64.9 18.8l-0.4 0.2M62.9 22.3l0.6 0.4M63.0 21.5l1.1 0.3M64.0 21.3l-0.3 0.8M64.7 18.5l-0.0 0.6M65.8 24.0l0.1 0.3M60.2 19.3l0.7 0.3M68.0 20.7l0.4 0.5M32.1 14.5l0.8 0.2M29.3 17.6l-0.6 0.4M32.1 14.7l-0.7 0.1M32.6 16.2l-0.0 0.7M31.2 16.0l0.1 0.9M33.4 14.0l-0.6 0.1M32.1 13.6l-0.4 0.1M28.2 16.6l0.5 0.1M35.9 9.2l-0.9 0.5M38.9 8.9l-0.2 0.3M66.6 7.4l1.0 0.6M48.2 10.3l-1.1 0.0M39.2 10.6l-0.0 0.4M40.5 11.3l-0.2 0.2M54.1 10.6l0.6 0.0M56.7 10.2l1.3 0.2M63.0 7.4l0.5 0.1M34.6 8.5l0.3 0.2M49.1 7.8l-0.5 0.2M38.8 7.7l-0.2 0.7M36.5 12.9l-0.4 0.4M35.8 7.6l-0.5 0.7M36.3 8.1l1.1 0.2M50.3 11.2l-0.2 0.8M43.2 12.5l-0.0 0.4M37.2 12.3l0.5 0.1M44.9 11.4l-0.4 0.3M52.0 12.2l0.1 0.2M42.6 13.1l-0.6 0.4M40.3 10.4l-0.4 0.1M64.1 10.6l0.0 0.8M48.0 10.2l-0.7 0.7M46.1 8.2l-0.6 0.5M48.4 11.1l0.4 0.1M35.8 8.8l0.3 0.2M36.3 8.2l-0.9 0.3M43.8 11.8l0.5 0.4M39.1 10.6l0.9 0.6M70.0 9.9l0.9 0.6M44.8 11.1l0.7 0.0M51.1 10.2l0.6 0.3M33.3 11.6l0.7 0.1M49.1 8.3l0.3 0.3M61.5 6.2l-0.7 0.5M64.5 4.7l0.2 0.4M70.6 7.8l-0.6 0.5M49.1 4.9l-0.9 0.2M64.9 5.0l0.7 0.2M59.7 4.9l-0.9 0.5M61.5 4.7l-0.5 0.6M53.4 8.3l0.6 0.2M50.5 4.9l-0.2 0.6M60.6 13.6l0.0 0.2M63.1 13.2l-0.0 0.6M61.1 16.5l-0.4 0.3M52.3 15.6l-0.3 0.3M62.3 12.2l0.0 0.5M58.3 13.6l-0.7 0.4M60.8 16.5l0.5 0.2M62.3 15.4l-0.1 0.2M52.1 15.6l-0.5 0.6M61.3 15.4l-0.0 0.5M124.3 17.6l-0.5 0.1M127.4 14.1l0.8 0.0M126.5 14.0l0.1 0.4M122.8 14.1l0.7 0.4M122.4 15.8l-0.4 0.0M126.5 15.9l-0.9 0.2M122.9 14.3l0.0 0.2M121.6 16.0l0.1 0.4M128.9 16.4l0.6 0.7M126.4 14.4l-0.4 0.1M143.1 14.6l-0.6 0.1M133.1 16.2l-0.9 0.0M132.9 16.0l0.2 0.2M128.2 14.0l0.8 0.7M151.9 12.0l-0.0 0.3M155.6 8.6l-1.0 0.3M163.4 8.8l-0.8 0.1M166.0 13.0l-0.5 0.4M167.0 10.1l0.2 0.2M172.3 12.6l0.1 0.4M153.4 9.7l-0.6 0.0M164.1 11.8l-0.1 0.5M149.4 12.5l1.0 0.5M159.4 12.2l-1.2 0.3M187.4 17.0l0.3 0.2M182.9 17.4l0.4 0.3M192.5 11.6l-0.5 0.4M185.9 14.3l0.2 0.4M171.1 16.0l-0.4 0.0M189.7 13.5l-0.5 0.2M179.9 16.3l0.2 0.5M208.6 11.9l-0.3 0.1M169.8 12.9l-0.7 0.2M193.2 18.0l0.4 0.8M192.8 44.7l-0.5 0.0M169.1 57.4l-0.1 0.7M196.6 47.1l-0.5 0.7M180.6 50.2l1.1 0.1M173.2 43.6l-0.3 0.4M169.7 55.6l-0.4 0.6M169.2 58.9l-0.1 0.6M178.3 56.1l-0.1 0.2M175.4 51.9l-0.9 0.1M194.7 51.6l0.4 0.3M197.2 47.4l0.2 0.2M181.9 48.0l0.1 0.4M187.5 43.5l0.3 0.2M176.6 52.6l-0.3 0.3M191.8 46.8l-0.0 0.4M197.6 54.5l-0.4 0.2M172.8 46.4l0.8 0.7M181.9 56.8l0.5 0.3M187.5 43.0l0.6 0.2M172.5 42.6l0.3 0.1M167.4 53.1l-1.1 0.3M189.7 42.2l-0.6 0.1M171.6 43.3l-0.2 0.2M187.4 53.3l0.2 0.4M171.1 60.1l0.4 0.4M197.1 57.9l-0.5 0.0M177.3 45.3l-0.6 0.3M167.1 51.6l0.5 0.8M171.8 53.6l-0.3 0.1M179.1 45.5l-0.3 0.2M199.2 67.9l-0.5 0.1M212.0 50.3l0.3 0.4M215.8 56.2l0.7 0.5M204.3 63.4l1.1 0.0M215.1 55.8l-0.3 0.0M202.8 59.2l-1.2 0.1M205.5 63.9l0.2 0.5M215.3 65.3l-0.8 0.4M24.8 45.9l-0.2 0.4M9.6 58.3l-0.3 0.2M5.9 46.5l0.3 0.2M1.0 52.6l0.7 0.8M26.6 39.5l0.3 0.2M2.9 54.2l-0.5 0.4M60.7 43.9l-0.4 0.6M68.4 39.5l-0.2 0.3M69.8 45.1l-0.1 0.5M68.3 46.1l0.4 0.3M59.5 39.1l-0.2 0.4M63.1 38.0l-0.0 0.4M69.3 41.5l-0.4 0.0M64.3 39.8l-1.1 0.4M57.8 45.1l0.5 0.1M125.0 31.0l-0.7 0.1M124.5 31.5l0.7 0.5M124.9 32.7l-0.3 0.6M121.4 31.8l0.5 0.2M121.6 30.9l-0.2 0.3M120.4 31.9l-0.3 0.3M121.8 32.4l-0.7 0.4M62.9 87.0l0.3 0.6M66.0 87.1l0.9 0.3M64.8 85.5l0.7 0.7M64.3 83.1l0.3 0.5M67.3 79.4l0.2 0.3M66.5 86.1l1.2 0.0M64.9 80.9l0.3 0.8M65.1 86.5l0.9 0.0M66.0 80.2l0.9 0.2M64.6 83.6l0.5 0.2M65.4 80.0l0.7 0.2M66.9 79.7l0.3 0.2M67.7 79.6l0.0 0.2M67.6 84.6l-0.9 0.2M67.0 86.5l-0.4 0.2M64.8 80.7l-0.4 0.2M63.8 84.5l-0.0 0.5M63.2 85.8l-0.8 0.6M103.7 19.4l-0.2 0.2M107.5 20.7l-0.3 0.6M106.5 20.1l0.2 0.6M105.5 19.1l0.1 0.5M114.6 6.6l0.0 0.4M123.5 6.1l0.1 0.3M120.0 8.1l0.7 0.2M115.4 7.1l-0.0 0.2M122.0 8.2l-0.7 0.6M120.5 8.3l-0.0 0.5M125.8 8.0l-1.2 0.4M144.2 5.1l1.1 0.5M141.3 4.9l-0.4 0.1M144.9 4.9l0.6 0.1M144.5 6.3l-0.5 0.1M145.2 6.4l-0.0 0.9M187.6 33.6l-0.0 0.4M185.7 34.3l1.1 0.4M192.7 27.5l0.9 0.4M186.6 31.0l-0.3 0.4M194.8 30.8l-0.3 0.8M186.4 26.5l-0.3 0.4M194.0 33.6l-0.9 0.0M189.2 28.7l0.1 0.3M15.7 21.5l-0.5 0.2M14.8 18.1l-0.3 0.7M11.8 21.7l0.4 0.0M14.6 20.1l-0.0 0.8M111.9 21.1l-0.1 0.2M111.3 20.8l0.6 0.2M112.3 20.3l-0.1 0.3M182.7 47.1l1.1 0.4M180.6 49.9l0.9 0.2M184.0 44.6l0.2 0.4M179.4 45.7l-0.1 0.4M182.8 47.4l-1.0 0.1M180.6 43.5l0.8 0.1M181.5 49.1l1.1 0.1M179.4 46.5l-0.4 0.1M111.6 18.9l-0.6 0.9M111.9 18.6l1.5 0.2M113.6 18.1l-1.2 0.4M114.2 17.4l0.5 0.3M113.8 17.1l-0.9 0.6M115.9 16.5l-0.2 0.7M116.3 16.1l-0.7 1.0M117.3 16.0l0.5 0.4M118.4 14.8l0.8 0.9M117.9 14.4l-0.5 0.8M119.9 14.1l-1.1 0.4M120.0 13.4l-0.2 0.6M120.6 13.6l-0.6 0.1M120.5 12.6l0.3 0.4M121.2 12.3l-0.5 0.8M122.4 11.7l0.6 0.9M19.2 18.4l-1.4 0.4M18.9 18.7l0.5 0.1M20.7 18.7l-1.0 0.4M20.1 19.3l-0.5 0.4M21.5 19.7l0.6 0.4M22.5 19.9l-1.0 0.1M23.7 20.5l0.3 0.7M24.1 20.4l-0.1 0.5M24.6 20.7l0.4 0.2M26.0 20.7l1.0 0.0M27.1 21.7l0.0 0.6M27.4 21.6l0.5 0.4M28.4 22.5l-0.2 0.4M29.6 22.4l-0.3 0.6M29.7 22.6l1.4 0.3M30.1 23.3l-1.0 0.2M76.2 11.8l0.1 0.8M76.4 12.3l0.4 0.5M76.7 12.7l-0.5 0.3M77.0 13.5l0.9 0.3M76.7 14.6l0.7 0.7M76.9 15.3l0.6 0.4M77.2 15.6l1.3 0.6M77.5 15.9l0.9 0.2M78.9 16.8l0.1 0.5M93.8 11.9l0.2 0.4M93.8 11.9l-0.0 0.8M91.5 12.4l0.4 0.9M90.2 13.0l-0.7 0.5M90.1 13.0l-1.0 0.6M88.1 13.8l0.1 0.6M86.2 14.3l-1.0 0.6M85.2 14.7l0.2 0.8M84.7 14.7l1.0 0.5M63.5 80.5l-0.5 0.0M63.4 80.8l-1.1 0.1M64.1 81.4l-0.7 0.6M64.9 82.4l0.4 1.0M64.9 83.0l-0.5 0.3M64.8 84.3l0.6 0.5M65.0 84.2l-0.5 0.5M65.0 84.8l-1.1 0.1M66.1 85.8l0.5 0.3M66.5 86.6l0.1 0.8M96.9 9.0l-0.6 0.9M96.2 7.9l-0.1 0.4M96.1 6.8l0.6 0.5M96.2 6.8l1.3 0.0M72.0 8.7l0.1 0.7M73.3 9.4l-1.4 0.2M73.9 9.4l-0.5 0.3M74.6 11.0l1.5 0.0" fill="none" stroke="#111" stroke-opacity="0.85" stroke-width="0.75" stroke-linecap="round"/>
<path transform="translate(275.7 346.4)" d="M0.0 101.3L9.0 101.3L13.2 100.5L18.0 100.2L21.1 99.6L27.1 99.0L33.1 98.4L39.1 98.7L43.3 99.3L48.1 98.1L54.1 98.1L60.2 98.3L63.2 97.5L67.4 95.7L68.6 93.9L71.0 93.0L73.7 92.2L72.2 93.0L71.0 93.9L69.2 95.1L71.6 97.5L72.2 99.3L78.2 100.8L84.2 101.1L87.2 100.8L91.5 99.9L96.3 98.4L101.1 97.2L105.3 96.6L108.3 96.0L114.3 96.3L120.3 96.3L126.4 95.7L129.4 95.7L132.4 95.4L135.4 94.8L138.4 94.2L141.4 93.9L144.4 94.6L149.2 94.9L150.4 95.4L152.2 96.0L155.2 95.1L159.4 94.2L165.5 93.9L168.5 93.6L174.5 93.9L180.5 94.2L186.5 93.9L192.5 94.2L198.5 95.1L204.6 96.3L207.6 96.9L210.6 97.5L210.6 98.7L207.6 99.9L207.6 101.1L210.6 101.1L216.6 101.3" fill="none" stroke="#1a1a1a" stroke-width="0.55" stroke-dasharray="3 1 1 1"/>
</g>
<path d="M302.5 346.4V454.70M329.5 346.4V454.70M356.5 346.4V454.70M384.5 346.4V454.70M411.5 346.4V454.70M438.5 346.4V454.70M465.5 346.4V454.70M275.7 373.5H492.30M275.7 400.5H492.30M275.7 427.5H492.30" stroke="#14140a" stroke-opacity="0.4" stroke-width="0.8" fill="none"/>
<path d="M275.7 346.4V454.7" stroke="#787878" stroke-width="1" fill="none"/>
<path d="M492.29999999999995 346.4V454.7" stroke="#888" stroke-width="1" fill="none"/>
<path d="M275.2 346.4H492.79999999999995" stroke="#666" stroke-width="1" fill="none"/>
<path d="M275.2 454.7H492.79999999999995" stroke="#7c7c7c" stroke-width="1" fill="none"/>
<text class="tk" transform="translate(276.5 461.3) scale(0.92 1)" text-anchor="middle">180°</text>
<text class="tk" transform="translate(303.6 461.3) scale(0.92 1)" text-anchor="middle">135°W</text>
<text class="tk" transform="translate(330.6 461.3) scale(0.92 1)" text-anchor="middle">90°W</text>
<text class="tk" transform="translate(357.7 461.3) scale(0.92 1)" text-anchor="middle">45°W</text>
<text class="tk" transform="translate(384.8 461.3) scale(0.92 1)" text-anchor="middle">0°</text>
<text class="tk" transform="translate(411.9 461.3) scale(0.92 1)" text-anchor="middle">45°E</text>
<text class="tk" transform="translate(438.9 461.3) scale(0.92 1)" text-anchor="middle">90°E</text>
<text class="tk" transform="translate(466.0 461.3) scale(0.92 1)" text-anchor="middle">135°E</text>
<text class="tk" transform="translate(493.1 461.3) scale(0.92 1)" text-anchor="middle">180°</text>
<text class="tk" transform="translate(273.7 375.5) scale(0.9 1)" text-anchor="end">45°N</text>
<text class="tk" transform="translate(273.7 402.5) scale(0.9 1)" text-anchor="end">0°</text>
<text class="tk" transform="translate(273.7 429.6) scale(0.9 1)" text-anchor="end">45°S</text>
<text class="tk" transform="translate(273.7 456.7) scale(0.9 1)" text-anchor="end">90°S</text>
<text class="tt" x="384.0" y="343.3" text-anchor="middle">Average_N2O_concentration_at_68.13_hPa</text>
<text class="lab" x="275.8" y="333.0">(f)</text>
</g>
<g id="colorbar">
<rect x="508.4" y="318.80" width="14.4" height="11.70" fill="#f3f3d8"/>
<rect x="508.4" y="307.40" width="14.4" height="11.70" fill="#e6e0f6"/>
<rect x="508.4" y="296.00" width="14.4" height="11.70" fill="#e4d0d0"/>
<rect x="508.4" y="284.60" width="14.4" height="11.70" fill="#b4d2e0"/>
<rect x="508.4" y="273.20" width="14.4" height="11.70" fill="#96b6e6"/>
<rect x="508.4" y="264.54" width="14.4" height="8.96" fill="#a6e6c8"/>
<rect x="508.4" y="261.80" width="14.4" height="3.04" fill="#78eed0"/>
<rect x="508.4" y="251.31" width="14.4" height="10.79" fill="#58b4f0"/>
<rect x="508.4" y="248.12" width="14.4" height="3.49" fill="#84eeb4"/>
<rect x="508.4" y="239.00" width="14.4" height="9.42" fill="#b2e294"/>
<rect x="508.4" y="231.25" width="14.4" height="8.05" fill="#44c474"/>
<rect x="508.4" y="227.60" width="14.4" height="3.95" fill="#10f080"/>
<rect x="508.4" y="216.20" width="14.4" height="11.70" fill="#6ee010"/>
<rect x="508.4" y="204.80" width="14.4" height="11.70" fill="#ffff00"/>
<rect x="508.4" y="193.40" width="14.4" height="11.70" fill="#ffd408"/>
<rect x="508.4" y="182.00" width="14.4" height="11.70" fill="#ffa008"/>
<rect x="508.4" y="170.60" width="14.4" height="11.70" fill="#f80000"/>
<rect x="508.4" y="251.2" width="4.6" height="10.2" fill="#86a2f0"/>
<path d="M508.4 171.4L508.4 170.6L515.5999999999999 162.6L522.8 170.6L522.8 171.4Z" fill="#f80000"/>
<path d="M508.4 329.4L508.4 330.2L515.5999999999999 338.2L522.8 330.2L522.8 329.4Z" fill="#f3f3d8"/>
<path d="M508.4 170.6L515.5999999999999 162.6L522.8 170.6V330.2L515.5999999999999 338.2L508.4 330.2Z" fill="none" stroke="#555" stroke-width="0.7"/>
<path d="M522.8 330.20h2.4" stroke="#333" stroke-width="0.6"/>
<text class="cb" transform="translate(526.4 333.3) scale(0.76 1)">0</text>
<path d="M522.8 307.40h2.4" stroke="#333" stroke-width="0.6"/>
<text class="cb" transform="translate(526.4 310.5) scale(0.76 1)">50</text>
<path d="M522.8 284.60h2.4" stroke="#333" stroke-width="0.6"/>
<text class="cb" transform="translate(526.4 287.7) scale(0.76 1)">100</text>
<path d="M522.8 261.80h2.4" stroke="#333" stroke-width="0.6"/>
<text class="cb" transform="translate(526.4 264.9) scale(0.76 1)">150</text>
<path d="M522.8 239.00h2.4" stroke="#333" stroke-width="0.6"/>
<text class="cb" transform="translate(526.4 242.1) scale(0.76 1)">200</text>
<path d="M522.8 216.20h2.4" stroke="#333" stroke-width="0.6"/>
<text class="cb" transform="translate(526.4 219.3) scale(0.76 1)">250</text>
<path d="M522.8 193.40h2.4" stroke="#333" stroke-width="0.6"/>
<text class="cb" transform="translate(526.4 196.5) scale(0.76 1)">300</text>
<path d="M522.8 170.60h2.4" stroke="#333" stroke-width="0.6"/>
<text class="cb" transform="translate(526.4 173.7) scale(0.76 1)">350</text>
<text class="cb" transform="translate(548.2 253.9) rotate(-90) scale(0.95 1)" text-anchor="middle">ppb</text>
</g>
</svg></body></html>
